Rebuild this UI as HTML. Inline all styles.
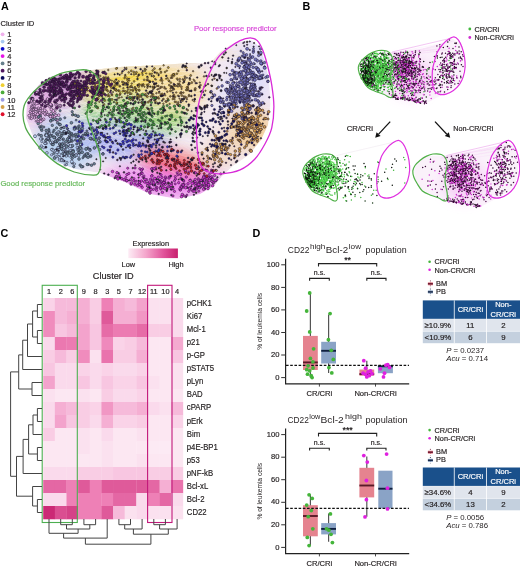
<!DOCTYPE html>
<html><head><meta charset="utf-8"><style>
html,body{margin:0;padding:0;background:#fff;width:520px;height:568px;overflow:hidden}
svg{display:block;filter:blur(0.4px)}
text{font-family:"Liberation Sans",sans-serif}
</style></head><body>
<svg width="520" height="568" viewBox="0 0 520 568">
<text x="0.9" y="9.6" font-size="10.8" text-anchor="start" fill="#000" font-weight="bold" >A</text>
<text x="302.4" y="9.8" font-size="10.8" text-anchor="start" fill="#000" font-weight="bold" >B</text>
<text x="0.5" y="237.3" font-size="10.8" text-anchor="start" fill="#000" font-weight="bold" >C</text>
<text x="252.4" y="237.3" font-size="10.8" text-anchor="start" fill="#000" font-weight="bold" >D</text>
<text x="0.6" y="25.8" font-size="7.6" text-anchor="start" fill="#231f20" stroke="#231f20" stroke-width="0.18" font-weight="normal" >Cluster ID</text>
<circle cx="2.6" cy="34.30" r="1.9" fill="#f0b0ec"/>
<text x="7.2" y="37.0" font-size="7.5" text-anchor="start" fill="#231f20" stroke="#231f20" stroke-width="0.18" font-weight="normal" >1</text>
<circle cx="2.6" cy="41.57" r="1.9" fill="#a8c8f0"/>
<text x="7.2" y="44.3" font-size="7.5" text-anchor="start" fill="#231f20" stroke="#231f20" stroke-width="0.18" font-weight="normal" >2</text>
<circle cx="2.6" cy="48.84" r="1.9" fill="#0a0ac8"/>
<text x="7.2" y="51.6" font-size="7.5" text-anchor="start" fill="#231f20" stroke="#231f20" stroke-width="0.18" font-weight="normal" >3</text>
<circle cx="2.6" cy="56.11" r="1.9" fill="#e614e6"/>
<text x="7.2" y="58.9" font-size="7.5" text-anchor="start" fill="#231f20" stroke="#231f20" stroke-width="0.18" font-weight="normal" >4</text>
<circle cx="2.6" cy="63.38" r="1.9" fill="#66808c"/>
<text x="7.2" y="66.1" font-size="7.5" text-anchor="start" fill="#231f20" stroke="#231f20" stroke-width="0.18" font-weight="normal" >5</text>
<circle cx="2.6" cy="70.65" r="1.9" fill="#501860"/>
<text x="7.2" y="73.4" font-size="7.5" text-anchor="start" fill="#231f20" stroke="#231f20" stroke-width="0.18" font-weight="normal" >6</text>
<circle cx="2.6" cy="77.92" r="1.9" fill="#0c0c5c"/>
<text x="7.2" y="80.7" font-size="7.5" text-anchor="start" fill="#231f20" stroke="#231f20" stroke-width="0.18" font-weight="normal" >7</text>
<circle cx="2.6" cy="85.19" r="1.9" fill="#f0d030"/>
<text x="7.2" y="87.9" font-size="7.5" text-anchor="start" fill="#231f20" stroke="#231f20" stroke-width="0.18" font-weight="normal" >8</text>
<circle cx="2.6" cy="92.46" r="1.9" fill="#4cac3c"/>
<text x="7.2" y="95.2" font-size="7.5" text-anchor="start" fill="#231f20" stroke="#231f20" stroke-width="0.18" font-weight="normal" >9</text>
<circle cx="2.6" cy="99.73" r="1.9" fill="#9c9ce4"/>
<text x="7.2" y="102.5" font-size="7.5" text-anchor="start" fill="#231f20" stroke="#231f20" stroke-width="0.18" font-weight="normal" >10</text>
<circle cx="2.6" cy="107.00" r="1.9" fill="#d4a24c"/>
<text x="7.2" y="109.7" font-size="7.5" text-anchor="start" fill="#231f20" stroke="#231f20" stroke-width="0.18" font-weight="normal" >11</text>
<circle cx="2.6" cy="114.27" r="1.9" fill="#e0102c"/>
<text x="7.2" y="117.0" font-size="7.5" text-anchor="start" fill="#231f20" stroke="#231f20" stroke-width="0.18" font-weight="normal" >12</text>
<rect x="43.20" y="298.00" width="11.94" height="13.30" fill="#fad3e8"/>
<rect x="54.84" y="298.00" width="11.94" height="13.30" fill="#f6bada"/>
<rect x="66.48" y="298.00" width="11.94" height="13.30" fill="#f6bada"/>
<rect x="78.12" y="298.00" width="11.94" height="13.30" fill="#f5afd3"/>
<rect x="89.76" y="298.00" width="11.94" height="13.30" fill="#f9cde4"/>
<rect x="101.40" y="298.00" width="11.94" height="13.30" fill="#ee80b6"/>
<rect x="113.04" y="298.00" width="11.94" height="13.30" fill="#f5afd3"/>
<rect x="124.68" y="298.00" width="11.94" height="13.30" fill="#f6bada"/>
<rect x="136.32" y="298.00" width="11.94" height="13.30" fill="#f3a3cc"/>
<rect x="147.96" y="298.00" width="11.94" height="13.30" fill="#fbe1ef"/>
<rect x="159.60" y="298.00" width="11.94" height="13.30" fill="#fbe1ef"/>
<rect x="171.24" y="298.00" width="11.94" height="13.30" fill="#fadaec"/>
<rect x="43.20" y="311.00" width="11.94" height="13.30" fill="#f08cbd"/>
<rect x="54.84" y="311.00" width="11.94" height="13.30" fill="#f6bada"/>
<rect x="66.48" y="311.00" width="11.94" height="13.30" fill="#f5afd3"/>
<rect x="78.12" y="311.00" width="11.94" height="13.30" fill="#f5afd3"/>
<rect x="89.76" y="311.00" width="11.94" height="13.30" fill="#f9cde4"/>
<rect x="101.40" y="311.00" width="11.94" height="13.30" fill="#df5a9a"/>
<rect x="113.04" y="311.00" width="11.94" height="13.30" fill="#f5afd3"/>
<rect x="124.68" y="311.00" width="11.94" height="13.30" fill="#f5afd3"/>
<rect x="136.32" y="311.00" width="11.94" height="13.30" fill="#f197c4"/>
<rect x="147.96" y="311.00" width="11.94" height="13.30" fill="#fbe1ef"/>
<rect x="159.60" y="311.00" width="11.94" height="13.30" fill="#fbe1ef"/>
<rect x="171.24" y="311.00" width="11.94" height="13.30" fill="#fadaec"/>
<rect x="43.20" y="324.00" width="11.94" height="13.30" fill="#f08cbd"/>
<rect x="54.84" y="324.00" width="11.94" height="13.30" fill="#f8c6e1"/>
<rect x="66.48" y="324.00" width="11.94" height="13.30" fill="#f6bada"/>
<rect x="78.12" y="324.00" width="11.94" height="13.30" fill="#f3a3cc"/>
<rect x="89.76" y="324.00" width="11.94" height="13.30" fill="#f8c6e1"/>
<rect x="101.40" y="324.00" width="11.94" height="13.30" fill="#e66ca7"/>
<rect x="113.04" y="324.00" width="11.94" height="13.30" fill="#ec7bb2"/>
<rect x="124.68" y="324.00" width="11.94" height="13.30" fill="#ec7bb2"/>
<rect x="136.32" y="324.00" width="11.94" height="13.30" fill="#e66ca7"/>
<rect x="147.96" y="324.00" width="11.94" height="13.30" fill="#f9cde4"/>
<rect x="159.60" y="324.00" width="11.94" height="13.30" fill="#f9cde4"/>
<rect x="171.24" y="324.00" width="11.94" height="13.30" fill="#fadaec"/>
<rect x="43.20" y="337.00" width="11.94" height="13.30" fill="#fadaec"/>
<rect x="54.84" y="337.00" width="11.94" height="13.30" fill="#eb78b0"/>
<rect x="66.48" y="337.00" width="11.94" height="13.30" fill="#ec7bb2"/>
<rect x="78.12" y="337.00" width="11.94" height="13.30" fill="#f3a3cc"/>
<rect x="89.76" y="337.00" width="11.94" height="13.30" fill="#f8c6e1"/>
<rect x="101.40" y="337.00" width="11.94" height="13.30" fill="#ef89bc"/>
<rect x="113.04" y="337.00" width="11.94" height="13.30" fill="#fad3e8"/>
<rect x="124.68" y="337.00" width="11.94" height="13.30" fill="#f9cde4"/>
<rect x="136.32" y="337.00" width="11.94" height="13.30" fill="#f6bada"/>
<rect x="147.96" y="337.00" width="11.94" height="13.30" fill="#fce7f2"/>
<rect x="159.60" y="337.00" width="11.94" height="13.30" fill="#fce7f2"/>
<rect x="171.24" y="337.00" width="11.94" height="13.30" fill="#f4aad0"/>
<rect x="43.20" y="350.00" width="11.94" height="13.30" fill="#f9cde4"/>
<rect x="54.84" y="350.00" width="11.94" height="13.30" fill="#f6bada"/>
<rect x="66.48" y="350.00" width="11.94" height="13.30" fill="#f9cde4"/>
<rect x="78.12" y="350.00" width="11.94" height="13.30" fill="#f08cbd"/>
<rect x="89.76" y="350.00" width="11.94" height="13.30" fill="#fbe1ef"/>
<rect x="101.40" y="350.00" width="11.94" height="13.30" fill="#e973ad"/>
<rect x="113.04" y="350.00" width="11.94" height="13.30" fill="#f9cde4"/>
<rect x="124.68" y="350.00" width="11.94" height="13.30" fill="#f9cde4"/>
<rect x="136.32" y="350.00" width="11.94" height="13.30" fill="#f5afd3"/>
<rect x="147.96" y="350.00" width="11.94" height="13.30" fill="#fce7f2"/>
<rect x="159.60" y="350.00" width="11.94" height="13.30" fill="#fce7f2"/>
<rect x="171.24" y="350.00" width="11.94" height="13.30" fill="#f8c6e1"/>
<rect x="43.20" y="363.00" width="11.94" height="13.30" fill="#f8c6e1"/>
<rect x="54.84" y="363.00" width="11.94" height="13.30" fill="#fadaec"/>
<rect x="66.48" y="363.00" width="11.94" height="13.30" fill="#fadaec"/>
<rect x="78.12" y="363.00" width="11.94" height="13.30" fill="#fad3e8"/>
<rect x="89.76" y="363.00" width="11.94" height="13.30" fill="#fadaec"/>
<rect x="101.40" y="363.00" width="11.94" height="13.30" fill="#fad3e8"/>
<rect x="113.04" y="363.00" width="11.94" height="13.30" fill="#fadaec"/>
<rect x="124.68" y="363.00" width="11.94" height="13.30" fill="#fadaec"/>
<rect x="136.32" y="363.00" width="11.94" height="13.30" fill="#fad3e8"/>
<rect x="147.96" y="363.00" width="11.94" height="13.30" fill="#fce7f2"/>
<rect x="159.60" y="363.00" width="11.94" height="13.30" fill="#fce7f2"/>
<rect x="171.24" y="363.00" width="11.94" height="13.30" fill="#fbe1ef"/>
<rect x="43.20" y="376.00" width="11.94" height="13.30" fill="#f3a3cc"/>
<rect x="54.84" y="376.00" width="11.94" height="13.30" fill="#fadaec"/>
<rect x="66.48" y="376.00" width="11.94" height="13.30" fill="#fadaec"/>
<rect x="78.12" y="376.00" width="11.94" height="13.30" fill="#f8c6e1"/>
<rect x="89.76" y="376.00" width="11.94" height="13.30" fill="#fadaec"/>
<rect x="101.40" y="376.00" width="11.94" height="13.30" fill="#f8c6e1"/>
<rect x="113.04" y="376.00" width="11.94" height="13.30" fill="#fad3e8"/>
<rect x="124.68" y="376.00" width="11.94" height="13.30" fill="#fad3e8"/>
<rect x="136.32" y="376.00" width="11.94" height="13.30" fill="#f8c6e1"/>
<rect x="147.96" y="376.00" width="11.94" height="13.30" fill="#fbe1ef"/>
<rect x="159.60" y="376.00" width="11.94" height="13.30" fill="#fce7f2"/>
<rect x="171.24" y="376.00" width="11.94" height="13.30" fill="#fbe1ef"/>
<rect x="43.20" y="389.00" width="11.94" height="13.30" fill="#fbe1ef"/>
<rect x="54.84" y="389.00" width="11.94" height="13.30" fill="#fce7f2"/>
<rect x="66.48" y="389.00" width="11.94" height="13.30" fill="#fce7f2"/>
<rect x="78.12" y="389.00" width="11.94" height="13.30" fill="#fbe1ef"/>
<rect x="89.76" y="389.00" width="11.94" height="13.30" fill="#fce7f2"/>
<rect x="101.40" y="389.00" width="11.94" height="13.30" fill="#f9cde4"/>
<rect x="113.04" y="389.00" width="11.94" height="13.30" fill="#fadaec"/>
<rect x="124.68" y="389.00" width="11.94" height="13.30" fill="#fadaec"/>
<rect x="136.32" y="389.00" width="11.94" height="13.30" fill="#fad3e8"/>
<rect x="147.96" y="389.00" width="11.94" height="13.30" fill="#fce7f2"/>
<rect x="159.60" y="389.00" width="11.94" height="13.30" fill="#fce7f2"/>
<rect x="171.24" y="389.00" width="11.94" height="13.30" fill="#fce7f2"/>
<rect x="43.20" y="402.00" width="11.94" height="13.30" fill="#fadaec"/>
<rect x="54.84" y="402.00" width="11.94" height="13.30" fill="#f5afd3"/>
<rect x="66.48" y="402.00" width="11.94" height="13.30" fill="#f6bada"/>
<rect x="78.12" y="402.00" width="11.94" height="13.30" fill="#f9cde4"/>
<rect x="89.76" y="402.00" width="11.94" height="13.30" fill="#fad3e8"/>
<rect x="101.40" y="402.00" width="11.94" height="13.30" fill="#f197c4"/>
<rect x="113.04" y="402.00" width="11.94" height="13.30" fill="#f6bada"/>
<rect x="124.68" y="402.00" width="11.94" height="13.30" fill="#f6bada"/>
<rect x="136.32" y="402.00" width="11.94" height="13.30" fill="#f5afd3"/>
<rect x="147.96" y="402.00" width="11.94" height="13.30" fill="#fadaec"/>
<rect x="159.60" y="402.00" width="11.94" height="13.30" fill="#fbe1ef"/>
<rect x="171.24" y="402.00" width="11.94" height="13.30" fill="#f6bada"/>
<rect x="43.20" y="415.00" width="11.94" height="13.30" fill="#fadaec"/>
<rect x="54.84" y="415.00" width="11.94" height="13.30" fill="#f3a3cc"/>
<rect x="66.48" y="415.00" width="11.94" height="13.30" fill="#f8c6e1"/>
<rect x="78.12" y="415.00" width="11.94" height="13.30" fill="#f9cde4"/>
<rect x="89.76" y="415.00" width="11.94" height="13.30" fill="#fadaec"/>
<rect x="101.40" y="415.00" width="11.94" height="13.30" fill="#f5afd3"/>
<rect x="113.04" y="415.00" width="11.94" height="13.30" fill="#fad3e8"/>
<rect x="124.68" y="415.00" width="11.94" height="13.30" fill="#fad3e8"/>
<rect x="136.32" y="415.00" width="11.94" height="13.30" fill="#f9cde4"/>
<rect x="147.96" y="415.00" width="11.94" height="13.30" fill="#fce7f2"/>
<rect x="159.60" y="415.00" width="11.94" height="13.30" fill="#fce7f2"/>
<rect x="171.24" y="415.00" width="11.94" height="13.30" fill="#fad3e8"/>
<rect x="43.20" y="428.00" width="11.94" height="13.30" fill="#f9cde4"/>
<rect x="54.84" y="428.00" width="11.94" height="13.30" fill="#fce7f2"/>
<rect x="66.48" y="428.00" width="11.94" height="13.30" fill="#fce7f2"/>
<rect x="78.12" y="428.00" width="11.94" height="13.30" fill="#fbe1ef"/>
<rect x="89.76" y="428.00" width="11.94" height="13.30" fill="#fce7f2"/>
<rect x="101.40" y="428.00" width="11.94" height="13.30" fill="#fadaec"/>
<rect x="113.04" y="428.00" width="11.94" height="13.30" fill="#fce7f2"/>
<rect x="124.68" y="428.00" width="11.94" height="13.30" fill="#fce7f2"/>
<rect x="136.32" y="428.00" width="11.94" height="13.30" fill="#fbe1ef"/>
<rect x="147.96" y="428.00" width="11.94" height="13.30" fill="#fce7f2"/>
<rect x="159.60" y="428.00" width="11.94" height="13.30" fill="#fce7f2"/>
<rect x="171.24" y="428.00" width="11.94" height="13.30" fill="#fce7f2"/>
<rect x="43.20" y="441.00" width="11.94" height="13.30" fill="#fce7f2"/>
<rect x="54.84" y="441.00" width="11.94" height="13.30" fill="#fce7f2"/>
<rect x="66.48" y="441.00" width="11.94" height="13.30" fill="#fce7f2"/>
<rect x="78.12" y="441.00" width="11.94" height="13.30" fill="#fbe1ef"/>
<rect x="89.76" y="441.00" width="11.94" height="13.30" fill="#fce7f2"/>
<rect x="101.40" y="441.00" width="11.94" height="13.30" fill="#fbe1ef"/>
<rect x="113.04" y="441.00" width="11.94" height="13.30" fill="#fce7f2"/>
<rect x="124.68" y="441.00" width="11.94" height="13.30" fill="#fce7f2"/>
<rect x="136.32" y="441.00" width="11.94" height="13.30" fill="#fce7f2"/>
<rect x="147.96" y="441.00" width="11.94" height="13.30" fill="#fceaf4"/>
<rect x="159.60" y="441.00" width="11.94" height="13.30" fill="#fceaf4"/>
<rect x="171.24" y="441.00" width="11.94" height="13.30" fill="#fce7f2"/>
<rect x="43.20" y="454.00" width="11.94" height="13.30" fill="#fce7f2"/>
<rect x="54.84" y="454.00" width="11.94" height="13.30" fill="#fce7f2"/>
<rect x="66.48" y="454.00" width="11.94" height="13.30" fill="#fce7f2"/>
<rect x="78.12" y="454.00" width="11.94" height="13.30" fill="#fce7f2"/>
<rect x="89.76" y="454.00" width="11.94" height="13.30" fill="#fce7f2"/>
<rect x="101.40" y="454.00" width="11.94" height="13.30" fill="#fbe1ef"/>
<rect x="113.04" y="454.00" width="11.94" height="13.30" fill="#fce7f2"/>
<rect x="124.68" y="454.00" width="11.94" height="13.30" fill="#fce7f2"/>
<rect x="136.32" y="454.00" width="11.94" height="13.30" fill="#fbe1ef"/>
<rect x="147.96" y="454.00" width="11.94" height="13.30" fill="#fce7f2"/>
<rect x="159.60" y="454.00" width="11.94" height="13.30" fill="#fce7f2"/>
<rect x="171.24" y="454.00" width="11.94" height="13.30" fill="#fce7f2"/>
<rect x="43.20" y="467.00" width="11.94" height="13.30" fill="#fadaec"/>
<rect x="54.84" y="467.00" width="11.94" height="13.30" fill="#fadaec"/>
<rect x="66.48" y="467.00" width="11.94" height="13.30" fill="#fadaec"/>
<rect x="78.12" y="467.00" width="11.94" height="13.30" fill="#f9cde4"/>
<rect x="89.76" y="467.00" width="11.94" height="13.30" fill="#f9cde4"/>
<rect x="101.40" y="467.00" width="11.94" height="13.30" fill="#f9cde4"/>
<rect x="113.04" y="467.00" width="11.94" height="13.30" fill="#f8c6e1"/>
<rect x="124.68" y="467.00" width="11.94" height="13.30" fill="#f8c6e1"/>
<rect x="136.32" y="467.00" width="11.94" height="13.30" fill="#f8c6e1"/>
<rect x="147.96" y="467.00" width="11.94" height="13.30" fill="#f9cde4"/>
<rect x="159.60" y="467.00" width="11.94" height="13.30" fill="#f9cde4"/>
<rect x="171.24" y="467.00" width="11.94" height="13.30" fill="#f9cde4"/>
<rect x="43.20" y="480.00" width="11.94" height="13.30" fill="#e467a4"/>
<rect x="54.84" y="480.00" width="11.94" height="13.30" fill="#e467a4"/>
<rect x="66.48" y="480.00" width="11.94" height="13.30" fill="#ee80b6"/>
<rect x="78.12" y="480.00" width="11.94" height="13.30" fill="#df5a9a"/>
<rect x="89.76" y="480.00" width="11.94" height="13.30" fill="#ee80b6"/>
<rect x="101.40" y="480.00" width="11.94" height="13.30" fill="#df5a9a"/>
<rect x="113.04" y="480.00" width="11.94" height="13.30" fill="#df5a9a"/>
<rect x="124.68" y="480.00" width="11.94" height="13.30" fill="#df5a9a"/>
<rect x="136.32" y="480.00" width="11.94" height="13.30" fill="#df5a9a"/>
<rect x="147.96" y="480.00" width="11.94" height="13.30" fill="#e467a4"/>
<rect x="159.60" y="480.00" width="11.94" height="13.30" fill="#f5afd3"/>
<rect x="171.24" y="480.00" width="11.94" height="13.30" fill="#e973ad"/>
<rect x="43.20" y="493.00" width="11.94" height="13.30" fill="#fadaec"/>
<rect x="54.84" y="493.00" width="11.94" height="13.30" fill="#fadaec"/>
<rect x="66.48" y="493.00" width="11.94" height="13.30" fill="#ee80b6"/>
<rect x="78.12" y="493.00" width="11.94" height="13.30" fill="#ee80b6"/>
<rect x="89.76" y="493.00" width="11.94" height="13.30" fill="#ee80b6"/>
<rect x="101.40" y="493.00" width="11.94" height="13.30" fill="#ee80b6"/>
<rect x="113.04" y="493.00" width="11.94" height="13.30" fill="#e467a4"/>
<rect x="124.68" y="493.00" width="11.94" height="13.30" fill="#e467a4"/>
<rect x="136.32" y="493.00" width="11.94" height="13.30" fill="#fadaec"/>
<rect x="147.96" y="493.00" width="11.94" height="13.30" fill="#ee80b6"/>
<rect x="159.60" y="493.00" width="11.94" height="13.30" fill="#e467a4"/>
<rect x="171.24" y="493.00" width="11.94" height="13.30" fill="#fadaec"/>
<rect x="43.20" y="506.00" width="11.94" height="13.30" fill="#cb2975"/>
<rect x="54.84" y="506.00" width="11.94" height="13.30" fill="#da4e91"/>
<rect x="66.48" y="506.00" width="11.94" height="13.30" fill="#d54288"/>
<rect x="78.12" y="506.00" width="11.94" height="13.30" fill="#ee80b6"/>
<rect x="89.76" y="506.00" width="11.94" height="13.30" fill="#ee80b6"/>
<rect x="101.40" y="506.00" width="11.94" height="13.30" fill="#df5a9a"/>
<rect x="113.04" y="506.00" width="11.94" height="13.30" fill="#f6bada"/>
<rect x="124.68" y="506.00" width="11.94" height="13.30" fill="#fbe1ef"/>
<rect x="136.32" y="506.00" width="11.94" height="13.30" fill="#fadaec"/>
<rect x="147.96" y="506.00" width="11.94" height="13.30" fill="#fbe1ef"/>
<rect x="159.60" y="506.00" width="11.94" height="13.30" fill="#fbe1ef"/>
<rect x="171.24" y="506.00" width="11.94" height="13.30" fill="#fbe1ef"/>
<text x="186.8" y="305.6" font-size="8.6" text-anchor="start" fill="#231f20" stroke="#231f20" stroke-width="0.18" font-weight="normal" textLength="25.0" lengthAdjust="spacingAndGlyphs">pCHK1</text>
<text x="186.8" y="318.7" font-size="8.6" text-anchor="start" fill="#231f20" stroke="#231f20" stroke-width="0.18" font-weight="normal" textLength="15.5" lengthAdjust="spacingAndGlyphs">Ki67</text>
<text x="186.8" y="331.8" font-size="8.6" text-anchor="start" fill="#231f20" stroke="#231f20" stroke-width="0.18" font-weight="normal" textLength="18.9" lengthAdjust="spacingAndGlyphs">Mcl-1</text>
<text x="186.8" y="344.9" font-size="8.6" text-anchor="start" fill="#231f20" stroke="#231f20" stroke-width="0.18" font-weight="normal" textLength="12.9" lengthAdjust="spacingAndGlyphs">p21</text>
<text x="186.8" y="358.0" font-size="8.6" text-anchor="start" fill="#231f20" stroke="#231f20" stroke-width="0.18" font-weight="normal" textLength="18.1" lengthAdjust="spacingAndGlyphs">p-GP</text>
<text x="186.8" y="371.1" font-size="8.6" text-anchor="start" fill="#231f20" stroke="#231f20" stroke-width="0.18" font-weight="normal" textLength="27.3" lengthAdjust="spacingAndGlyphs">pSTAT5</text>
<text x="186.8" y="384.2" font-size="8.6" text-anchor="start" fill="#231f20" stroke="#231f20" stroke-width="0.18" font-weight="normal" textLength="16.5" lengthAdjust="spacingAndGlyphs">pLyn</text>
<text x="186.8" y="397.3" font-size="8.6" text-anchor="start" fill="#231f20" stroke="#231f20" stroke-width="0.18" font-weight="normal" textLength="15.9" lengthAdjust="spacingAndGlyphs">BAD</text>
<text x="186.8" y="410.4" font-size="8.6" text-anchor="start" fill="#231f20" stroke="#231f20" stroke-width="0.18" font-weight="normal" textLength="24.4" lengthAdjust="spacingAndGlyphs">cPARP</text>
<text x="186.8" y="423.5" font-size="8.6" text-anchor="start" fill="#231f20" stroke="#231f20" stroke-width="0.18" font-weight="normal" textLength="15.9" lengthAdjust="spacingAndGlyphs">pErk</text>
<text x="186.8" y="436.6" font-size="8.6" text-anchor="start" fill="#231f20" stroke="#231f20" stroke-width="0.18" font-weight="normal" textLength="13.3" lengthAdjust="spacingAndGlyphs">Bim</text>
<text x="186.8" y="449.7" font-size="8.6" text-anchor="start" fill="#231f20" stroke="#231f20" stroke-width="0.18" font-weight="normal" textLength="31.0" lengthAdjust="spacingAndGlyphs">p4E-BP1</text>
<text x="186.8" y="462.8" font-size="8.6" text-anchor="start" fill="#231f20" stroke="#231f20" stroke-width="0.18" font-weight="normal" textLength="12.9" lengthAdjust="spacingAndGlyphs">p53</text>
<text x="186.8" y="475.9" font-size="8.6" text-anchor="start" fill="#231f20" stroke="#231f20" stroke-width="0.18" font-weight="normal" textLength="26.3" lengthAdjust="spacingAndGlyphs">pNF-kB</text>
<text x="186.8" y="489.0" font-size="8.6" text-anchor="start" fill="#231f20" stroke="#231f20" stroke-width="0.18" font-weight="normal" textLength="21.5" lengthAdjust="spacingAndGlyphs">Bcl-xL</text>
<text x="186.8" y="502.1" font-size="8.6" text-anchor="start" fill="#231f20" stroke="#231f20" stroke-width="0.18" font-weight="normal" textLength="17.7" lengthAdjust="spacingAndGlyphs">Bcl-2</text>
<text x="186.8" y="515.2" font-size="8.6" text-anchor="start" fill="#231f20" stroke="#231f20" stroke-width="0.18" font-weight="normal" textLength="19.8" lengthAdjust="spacingAndGlyphs">CD22</text>
<text x="49.0" y="293.8" font-size="7.4" text-anchor="middle" fill="#231f20" stroke="#231f20" stroke-width="0.18" font-weight="normal" >1</text>
<text x="60.7" y="293.8" font-size="7.4" text-anchor="middle" fill="#231f20" stroke="#231f20" stroke-width="0.18" font-weight="normal" >2</text>
<text x="72.3" y="293.8" font-size="7.4" text-anchor="middle" fill="#231f20" stroke="#231f20" stroke-width="0.18" font-weight="normal" >6</text>
<text x="83.9" y="293.8" font-size="7.4" text-anchor="middle" fill="#231f20" stroke="#231f20" stroke-width="0.18" font-weight="normal" >9</text>
<text x="95.6" y="293.8" font-size="7.4" text-anchor="middle" fill="#231f20" stroke="#231f20" stroke-width="0.18" font-weight="normal" >8</text>
<text x="107.2" y="293.8" font-size="7.4" text-anchor="middle" fill="#231f20" stroke="#231f20" stroke-width="0.18" font-weight="normal" >3</text>
<text x="118.9" y="293.8" font-size="7.4" text-anchor="middle" fill="#231f20" stroke="#231f20" stroke-width="0.18" font-weight="normal" >5</text>
<text x="130.5" y="293.8" font-size="7.4" text-anchor="middle" fill="#231f20" stroke="#231f20" stroke-width="0.18" font-weight="normal" >7</text>
<text x="142.1" y="293.8" font-size="7.4" text-anchor="middle" fill="#231f20" stroke="#231f20" stroke-width="0.18" font-weight="normal" >12</text>
<text x="153.8" y="293.8" font-size="7.4" text-anchor="middle" fill="#231f20" stroke="#231f20" stroke-width="0.18" font-weight="normal" >11</text>
<text x="165.4" y="293.8" font-size="7.4" text-anchor="middle" fill="#231f20" stroke="#231f20" stroke-width="0.18" font-weight="normal" >10</text>
<text x="177.1" y="293.8" font-size="7.4" text-anchor="middle" fill="#231f20" stroke="#231f20" stroke-width="0.18" font-weight="normal" >4</text>
<text x="113.2" y="279.4" font-size="9.2" text-anchor="middle" fill="#231f20" stroke="#231f20" stroke-width="0.18" font-weight="normal" >Cluster ID</text>
<defs><linearGradient id="eg" x1="0" x2="1"><stop offset="0" stop-color="#fdecf5"/><stop offset="0.35" stop-color="#f4a6cc"/><stop offset="0.7" stop-color="#e2559c"/><stop offset="1" stop-color="#c8206e"/></linearGradient></defs>
<rect x="128.3" y="248.5" width="49.6" height="9.6" fill="url(#eg)"/>
<text x="150.8" y="245.5" font-size="7.4" text-anchor="middle" fill="#231f20" stroke="#231f20" stroke-width="0.18" font-weight="normal" >Expression</text>
<text x="121.6" y="267.3" font-size="7.4" text-anchor="start" fill="#231f20" stroke="#231f20" stroke-width="0.18" font-weight="normal" >Low</text>
<text x="183.6" y="267.3" font-size="7.4" text-anchor="end" fill="#231f20" stroke="#231f20" stroke-width="0.18" font-weight="normal" >High</text>
<rect x="42.2" y="285.3" width="35.1" height="237.2" fill="none" stroke="#4caf50" stroke-width="1.1"/>
<rect x="147.6" y="285.3" width="24.4" height="237.2" fill="none" stroke="#c2187a" stroke-width="1.1"/>
<path d="M42.0,304.5L37.4,304.5 M42.0,317.5L37.4,317.5 M37.4,304.5L37.4,317.5 M42.0,330.5L37.4,330.5 M42.0,343.5L37.4,343.5 M37.4,330.5L37.4,343.5 M37.4,311.0L32.6,311.0 M37.4,337.0L32.6,337.0 M32.6,311.0L32.6,337.0 M32.6,324.0L27.5,324.0 M42.0,356.5L27.5,356.5 M27.5,324.0L27.5,356.5 M27.5,340.2L22.7,340.2 M42.0,369.5L22.7,369.5 M22.7,340.2L22.7,369.5 M42.0,382.5L32.0,382.5 M42.0,395.5L32.0,395.5 M32.0,382.5L32.0,395.5 M22.7,354.9L18.7,354.9 M32.0,389.0L18.7,389.0 M18.7,354.9L18.7,389.0 M42.0,408.5L37.4,408.5 M42.0,421.5L37.4,421.5 M37.4,408.5L37.4,421.5 M37.4,415.0L33.0,415.0 M42.0,434.5L33.0,434.5 M33.0,415.0L33.0,434.5 M42.0,447.5L37.4,447.5 M42.0,460.5L37.4,460.5 M37.4,447.5L37.4,460.5 M33.0,424.8L28.6,424.8 M37.4,454.0L28.6,454.0 M28.6,424.8L28.6,454.0 M28.6,439.4L23.1,439.4 M42.0,473.5L23.1,473.5 M23.1,439.4L23.1,473.5 M42.0,499.5L37.4,499.5 M42.0,512.5L37.4,512.5 M37.4,499.5L37.4,512.5 M42.0,486.5L32.6,486.5 M37.4,506.0L32.6,506.0 M32.6,486.5L32.6,506.0 M23.1,456.4L16.5,456.4 M32.6,496.2L16.5,496.2 M16.5,456.4L16.5,496.2 M18.7,371.9L10.6,371.9 M16.5,476.3L10.6,476.3 M10.6,371.9L10.6,476.3 M60.7,519.0L60.7,524.7 M72.3,519.0L72.3,524.7 M60.7,524.7L72.3,524.7 M83.9,519.0L83.9,524.7 M95.6,519.0L95.6,524.7 M83.9,524.7L95.6,524.7 M66.5,524.7L66.5,529.0 M89.8,524.7L89.8,529.0 M66.5,529.0L89.8,529.0 M49.0,519.0L49.0,533.3 M78.1,529.0L78.1,533.3 M49.0,533.3L78.1,533.3 M63.6,533.3L63.6,538.1 M107.2,519.0L107.2,538.1 M63.6,538.1L107.2,538.1 M118.9,519.0L118.9,524.7 M130.5,519.0L130.5,524.7 M118.9,524.7L130.5,524.7 M124.7,524.7L124.7,529.0 M142.1,519.0L142.1,529.0 M124.7,529.0L142.1,529.0 M153.8,519.0L153.8,524.7 M165.4,519.0L165.4,524.7 M153.8,524.7L165.4,524.7 M159.6,524.7L159.6,529.0 M177.1,519.0L177.1,529.0 M159.6,529.0L177.1,529.0 M133.4,529.0L133.4,534.2 M168.3,529.0L168.3,534.2 M133.4,534.2L168.3,534.2 M85.4,538.1L85.4,544.2 M150.9,534.2L150.9,544.2 M85.4,544.2L150.9,544.2" stroke="#444" stroke-width="1" fill="none"/>
<text x="287.8" y="253.4" font-size="9.8" textLength="21.6" lengthAdjust="spacingAndGlyphs" fill="#231f20">CD22</text>
<text x="309.9" y="249.4" font-size="7.2" textLength="15.4" lengthAdjust="spacingAndGlyphs" fill="#231f20">high</text>
<text x="325.8" y="253.4" font-size="9.8" textLength="22.3" lengthAdjust="spacingAndGlyphs" fill="#231f20">Bcl-2</text>
<text x="348.8" y="249.4" font-size="7.2" textLength="12.3" lengthAdjust="spacingAndGlyphs" fill="#231f20">low</text>
<text x="365.6" y="253.4" font-size="9.8" textLength="41" lengthAdjust="spacingAndGlyphs" fill="#231f20">population</text>
<path d="M285.6,258.8V383.8H409.2" stroke="#222" stroke-width="1.2" fill="none"/>
<path d="M281.2,377.6H285.8" stroke="#333" stroke-width="1"/>
<text x="279.4" y="379.7" font-size="7.6" text-anchor="end" fill="#231f20" stroke="#231f20" stroke-width="0.18" font-weight="normal" >0</text>
<path d="M281.2,355.0H285.8" stroke="#333" stroke-width="1"/>
<text x="279.4" y="357.1" font-size="7.6" text-anchor="end" fill="#231f20" stroke="#231f20" stroke-width="0.18" font-weight="normal" >20</text>
<path d="M281.2,332.5H285.8" stroke="#333" stroke-width="1"/>
<text x="279.4" y="334.6" font-size="7.6" text-anchor="end" fill="#231f20" stroke="#231f20" stroke-width="0.18" font-weight="normal" >40</text>
<path d="M281.2,309.9H285.8" stroke="#333" stroke-width="1"/>
<text x="279.4" y="312.0" font-size="7.6" text-anchor="end" fill="#231f20" stroke="#231f20" stroke-width="0.18" font-weight="normal" >60</text>
<path d="M281.2,287.4H285.8" stroke="#333" stroke-width="1"/>
<text x="279.4" y="289.5" font-size="7.6" text-anchor="end" fill="#231f20" stroke="#231f20" stroke-width="0.18" font-weight="normal" >80</text>
<path d="M281.2,264.8H285.8" stroke="#333" stroke-width="1"/>
<text x="279.4" y="266.9" font-size="7.6" text-anchor="end" fill="#231f20" stroke="#231f20" stroke-width="0.18" font-weight="normal" >100</text>
<path d="M319.4,383.6V386.6" stroke="#333" stroke-width="0.9"/>
<path d="M375.5,383.6V386.6" stroke="#333" stroke-width="0.9"/>
<text x="319.4" y="395.9" font-size="7.6" text-anchor="middle" fill="#231f20" stroke="#231f20" stroke-width="0.18" font-weight="normal" >CR/CRi</text>
<text x="375.5" y="395.9" font-size="7.6" text-anchor="middle" fill="#231f20" stroke="#231f20" stroke-width="0.18" font-weight="normal" >Non-CR/CRi</text>
<text x="0" y="0" font-size="7" textLength="56.7" lengthAdjust="spacingAndGlyphs" text-anchor="middle" fill="#231f20" transform="translate(262.4,321.4) rotate(-90)">% of leukemia cells</text>
<path d="M309.6,280.8V278.4H329.3V280.8" stroke="#222" stroke-width="1.1" fill="none"/>
<text x="319.5" y="274.8" font-size="7" text-anchor="middle" fill="#231f20" stroke="#231f20" stroke-width="0.18" font-weight="normal" >n.s.</text>
<path d="M366.8,280.8V278.4H386.0V280.8" stroke="#222" stroke-width="1.1" fill="none"/>
<text x="376.4" y="274.8" font-size="7" text-anchor="middle" fill="#231f20" stroke="#231f20" stroke-width="0.18" font-weight="normal" >n.s.</text>
<path d="M318.5,266.6V263.6H376.7V266.6" stroke="#222" stroke-width="1.1" fill="none"/>
<text x="347.6" y="262.9" font-size="8.8" text-anchor="middle" fill="#231f20" font-weight="bold" >**</text>
<path d="M310.4,293.0V377.6" stroke="#555" stroke-width="1.2"/>
<rect x="303.0" y="335.9" width="14.8" height="34.1" fill="#e5838f"/>
<path d="M303.0,362.4H317.8" stroke="#5a1a28" stroke-width="1.9"/>
<path d="M328.6,314.4V373.1" stroke="#555" stroke-width="1.2"/>
<rect x="321.2" y="341.8" width="14.8" height="21.7" fill="#8aa3c6"/>
<path d="M321.2,350.8H336.0" stroke="#102040" stroke-width="1.9"/>
<path d="M366.8,360.7V377.6" stroke="#555" stroke-width="1.2"/>
<rect x="359.4" y="369.5" width="14.8" height="6.2" fill="#e5838f"/>
<path d="M359.4,374.1H374.2" stroke="#5a1a28" stroke-width="1.9"/>
<rect x="377.9" y="365.8" width="15.0" height="7.4" fill="#8aa3c6"/>
<path d="M377.9,366.3H392.9" stroke="#102040" stroke-width="1.9"/>
<path d="M286,365.3H409" stroke="#111" stroke-width="1.2" stroke-dasharray="2.6 1.6"/>
<circle cx="309.7" cy="293.0" r="1.9" fill="#44b53a"/>
<circle cx="306.7" cy="311.0" r="1.9" fill="#44b53a"/>
<circle cx="309.7" cy="331.9" r="1.9" fill="#44b53a"/>
<circle cx="313.6" cy="348.8" r="1.9" fill="#44b53a"/>
<circle cx="308" cy="365.8" r="1.9" fill="#44b53a"/>
<circle cx="309.7" cy="370.8" r="1.9" fill="#44b53a"/>
<circle cx="311.2" cy="375.7" r="1.9" fill="#44b53a"/>
<circle cx="312.1" cy="377.6" r="1.9" fill="#44b53a"/>
<circle cx="306.7" cy="369.7" r="1.9" fill="#44b53a"/>
<circle cx="312.9" cy="361.8" r="1.9" fill="#44b53a"/>
<circle cx="310.4" cy="358.4" r="1.9" fill="#44b53a"/>
<circle cx="307.5" cy="374.2" r="1.9" fill="#44b53a"/>
<circle cx="313" cy="368.0" r="1.9" fill="#44b53a"/>
<circle cx="330.1" cy="313.6" r="1.9" fill="#44b53a"/>
<circle cx="328.4" cy="339.7" r="1.9" fill="#44b53a"/>
<circle cx="331.3" cy="350.3" r="1.9" fill="#44b53a"/>
<circle cx="333.3" cy="359.4" r="1.9" fill="#44b53a"/>
<circle cx="328.9" cy="367.6" r="1.9" fill="#44b53a"/>
<circle cx="331.8" cy="372.9" r="1.9" fill="#44b53a"/>
<circle cx="363.8" cy="360.7" r="1.9" fill="#e020e0"/>
<circle cx="365.6" cy="368.2" r="1.9" fill="#e020e0"/>
<circle cx="368" cy="372.0" r="1.9" fill="#e020e0"/>
<circle cx="370.5" cy="370.8" r="1.9" fill="#e020e0"/>
<circle cx="363.1" cy="373.2" r="1.9" fill="#e020e0"/>
<circle cx="369.3" cy="375.7" r="1.9" fill="#e020e0"/>
<circle cx="366.8" cy="376.9" r="1.9" fill="#e020e0"/>
<circle cx="365.6" cy="374.4" r="1.9" fill="#e020e0"/>
<circle cx="372" cy="373.7" r="1.9" fill="#e020e0"/>
<circle cx="386" cy="365.2" r="1.9" fill="#e020e0"/>
<circle cx="387.7" cy="364.6" r="1.9" fill="#e020e0"/>
<circle cx="384.5" cy="373.2" r="1.9" fill="#e020e0"/>
<circle cx="383.5" cy="376.9" r="1.9" fill="#e020e0"/>
<circle cx="380.3" cy="368.8" r="1.9" fill="#e020e0"/>
<circle cx="389.5" cy="367.4" r="1.9" fill="#e020e0"/>
<circle cx="429.6" cy="261.7" r="1.3" fill="#44b53a"/>
<text x="434.6" y="264.4" font-size="7.3" text-anchor="start" fill="#231f20" stroke="#231f20" stroke-width="0.18" font-weight="normal" >CR/CRi</text>
<circle cx="429.6" cy="269.8" r="1.3" fill="#e020e0"/>
<text x="434.6" y="272.5" font-size="7.3" text-anchor="start" fill="#231f20" stroke="#231f20" stroke-width="0.18" font-weight="normal" >Non-CR/CRi</text>
<path d="M430.4,280.5V287.1" stroke="#6a1a30" stroke-width="0.9" stroke-dasharray="0.9 1.2"/>
<rect x="427.9" y="282.3" width="5" height="3" fill="#e5838f"/>
<path d="M427.9,283.8H432.9" stroke="#6a1a30" stroke-width="1.5"/>
<text x="436.0" y="285.8" font-size="7.4" text-anchor="start" fill="#231f20" stroke="#231f20" stroke-width="0.18" font-weight="normal" >BM</text>
<path d="M430.4,288.6V295.2" stroke="#1a2a48" stroke-width="0.9" stroke-dasharray="0.9 1.2"/>
<rect x="427.9" y="290.4" width="5" height="3" fill="#8aa3c6"/>
<path d="M427.9,291.9H432.9" stroke="#1a2a48" stroke-width="1.5"/>
<text x="436.0" y="293.9" font-size="7.4" text-anchor="start" fill="#231f20" stroke="#231f20" stroke-width="0.18" font-weight="normal" >PB</text>
<rect x="422.8" y="300.4" width="97.2" height="18.4" fill="#1a508b"/>
<rect x="422.8" y="319.1" width="97.2" height="12.1" fill="#e0e5ed"/>
<rect x="422.8" y="331.4" width="97.2" height="11.8" fill="#c4d0de"/>
<path d="M454.3,300.4V343.2" stroke="#fff" stroke-width="0.8"/>
<path d="M486.5,300.4V343.2" stroke="#fff" stroke-width="0.8"/>
<path d="M422.8,331.3H520" stroke="#fff" stroke-width="0.4"/>
<text x="470.4" y="312.2" font-size="7.5" text-anchor="middle" fill="#fff" stroke="#fff" stroke-width="0.18" font-weight="normal" >CR/CRi</text>
<text x="503.3" y="307.2" font-size="7.5" text-anchor="middle" fill="#fff" stroke="#fff" stroke-width="0.18" font-weight="normal" >Non-</text>
<text x="503.3" y="316.6" font-size="7.5" text-anchor="middle" fill="#fff" stroke="#fff" stroke-width="0.18" font-weight="normal" >CR/CRi</text>
<text x="424.6" y="327.6" font-size="7.8" text-anchor="start" fill="#231f20" stroke="#231f20" stroke-width="0.18" font-weight="normal" >&#8805;10.9%</text>
<text x="424.6" y="339.6" font-size="7.8" text-anchor="start" fill="#231f20" stroke="#231f20" stroke-width="0.18" font-weight="normal" >&lt;10.9%</text>
<text x="470.4" y="327.6" font-size="7.8" text-anchor="middle" fill="#231f20" stroke="#231f20" stroke-width="0.18" font-weight="normal" >11</text>
<text x="503.3" y="327.6" font-size="7.8" text-anchor="middle" fill="#231f20" stroke="#231f20" stroke-width="0.18" font-weight="normal" >2</text>
<text x="470.4" y="339.6" font-size="7.8" text-anchor="middle" fill="#231f20" stroke="#231f20" stroke-width="0.18" font-weight="normal" >6</text>
<text x="503.3" y="339.6" font-size="7.8" text-anchor="middle" fill="#231f20" stroke="#231f20" stroke-width="0.18" font-weight="normal" >9</text>
<text x="446.2" y="352.6" font-size="7.8" fill="#231f20"><tspan font-style="italic">P</tspan> = 0.0237</text>
<text x="446.2" y="361.3" font-size="7.8" fill="#231f20"><tspan font-style="italic">Acu</tspan> = 0.714</text>
<text x="287.5" y="423.2" font-size="9.8" textLength="21.4" lengthAdjust="spacingAndGlyphs" fill="#231f20">CD22</text>
<text x="309.3" y="419.2" font-size="7.2" textLength="11" lengthAdjust="spacingAndGlyphs" fill="#231f20">low</text>
<text x="320.5" y="423.2" font-size="9.8" textLength="23.3" lengthAdjust="spacingAndGlyphs" fill="#231f20">Bcl-2</text>
<text x="345" y="419.2" font-size="7.2" textLength="17" lengthAdjust="spacingAndGlyphs" fill="#231f20">high</text>
<text x="365.5" y="423.2" font-size="9.8" textLength="42" lengthAdjust="spacingAndGlyphs" fill="#231f20">population</text>
<path d="M285.6,428.6V553.6H409.2" stroke="#222" stroke-width="1.2" fill="none"/>
<path d="M281.2,547.4H285.8" stroke="#333" stroke-width="1"/>
<text x="279.4" y="549.5" font-size="7.6" text-anchor="end" fill="#231f20" stroke="#231f20" stroke-width="0.18" font-weight="normal" >0</text>
<path d="M281.2,524.8H285.8" stroke="#333" stroke-width="1"/>
<text x="279.4" y="526.9" font-size="7.6" text-anchor="end" fill="#231f20" stroke="#231f20" stroke-width="0.18" font-weight="normal" >20</text>
<path d="M281.2,502.3H285.8" stroke="#333" stroke-width="1"/>
<text x="279.4" y="504.4" font-size="7.6" text-anchor="end" fill="#231f20" stroke="#231f20" stroke-width="0.18" font-weight="normal" >40</text>
<path d="M281.2,479.7H285.8" stroke="#333" stroke-width="1"/>
<text x="279.4" y="481.8" font-size="7.6" text-anchor="end" fill="#231f20" stroke="#231f20" stroke-width="0.18" font-weight="normal" >60</text>
<path d="M281.2,457.2H285.8" stroke="#333" stroke-width="1"/>
<text x="279.4" y="459.3" font-size="7.6" text-anchor="end" fill="#231f20" stroke="#231f20" stroke-width="0.18" font-weight="normal" >80</text>
<path d="M281.2,434.6H285.8" stroke="#333" stroke-width="1"/>
<text x="279.4" y="436.7" font-size="7.6" text-anchor="end" fill="#231f20" stroke="#231f20" stroke-width="0.18" font-weight="normal" >100</text>
<path d="M319.4,553.4V556.4" stroke="#333" stroke-width="0.9"/>
<path d="M375.5,553.4V556.4" stroke="#333" stroke-width="0.9"/>
<text x="319.4" y="565.7" font-size="7.6" text-anchor="middle" fill="#231f20" stroke="#231f20" stroke-width="0.18" font-weight="normal" >CR/CRi</text>
<text x="375.5" y="565.7" font-size="7.6" text-anchor="middle" fill="#231f20" stroke="#231f20" stroke-width="0.18" font-weight="normal" >Non-CR/CRi</text>
<text x="0" y="0" font-size="7" textLength="56.7" lengthAdjust="spacingAndGlyphs" text-anchor="middle" fill="#231f20" transform="translate(262.4,491.2) rotate(-90)">% of leukemia cells</text>
<path d="M309.6,450.6V448.2H329.3V450.6" stroke="#222" stroke-width="1.1" fill="none"/>
<text x="319.5" y="444.6" font-size="7" text-anchor="middle" fill="#231f20" stroke="#231f20" stroke-width="0.18" font-weight="normal" >n.s.</text>
<path d="M366.8,450.6V448.2H386.0V450.6" stroke="#222" stroke-width="1.1" fill="none"/>
<text x="376.4" y="444.6" font-size="7" text-anchor="middle" fill="#231f20" stroke="#231f20" stroke-width="0.18" font-weight="normal" >n.s.</text>
<path d="M318.5,436.4V433.4H376.7V436.4" stroke="#222" stroke-width="1.1" fill="none"/>
<text x="347.6" y="432.7" font-size="8.8" text-anchor="middle" fill="#231f20" font-weight="bold" >***</text>
<path d="M310.4,494.4V545.6" stroke="#555" stroke-width="1.2"/>
<rect x="303.0" y="505.2" width="14.8" height="31.1" fill="#e5838f"/>
<path d="M303.0,516.0H317.8" stroke="#5a1a28" stroke-width="1.9"/>
<path d="M328.6,513.6V541.8" stroke="#555" stroke-width="1.2"/>
<rect x="321.2" y="523.1" width="14.8" height="11.3" fill="#8aa3c6"/>
<path d="M321.2,528.9H336.0" stroke="#102040" stroke-width="1.9"/>
<path d="M366.8,456.5V516.8" stroke="#555" stroke-width="1.2"/>
<rect x="359.4" y="467.8" width="14.8" height="29.6" fill="#e5838f"/>
<path d="M359.4,485.5H374.2" stroke="#5a1a28" stroke-width="1.9"/>
<rect x="378.3" y="470.7" width="14.2" height="37.7" fill="#8aa3c6"/>
<path d="M378.3,488.7H392.5" stroke="#102040" stroke-width="1.9"/>
<path d="M286,508.4H409" stroke="#111" stroke-width="1.2" stroke-dasharray="2.6 1.6"/>
<circle cx="309.1" cy="494.8" r="1.9" fill="#44b53a"/>
<circle cx="312.2" cy="498.4" r="1.9" fill="#44b53a"/>
<circle cx="306.7" cy="505.1" r="1.9" fill="#44b53a"/>
<circle cx="311.3" cy="510.6" r="1.9" fill="#44b53a"/>
<circle cx="308.2" cy="516.7" r="1.9" fill="#44b53a"/>
<circle cx="312.8" cy="528.8" r="1.9" fill="#44b53a"/>
<circle cx="307.3" cy="537.4" r="1.9" fill="#44b53a"/>
<circle cx="309.1" cy="545.6" r="1.9" fill="#44b53a"/>
<circle cx="330.4" cy="513.9" r="1.9" fill="#44b53a"/>
<circle cx="328.9" cy="530.2" r="1.9" fill="#44b53a"/>
<circle cx="332.4" cy="542.6" r="1.9" fill="#44b53a"/>
<circle cx="326.5" cy="528.8" r="1.9" fill="#44b53a"/>
<circle cx="331" cy="534.3" r="1.9" fill="#44b53a"/>
<circle cx="363.8" cy="455.6" r="1.9" fill="#e020e0"/>
<circle cx="367.3" cy="462.1" r="1.9" fill="#e020e0"/>
<circle cx="366.4" cy="480.5" r="1.9" fill="#e020e0"/>
<circle cx="366.4" cy="499.7" r="1.9" fill="#e020e0"/>
<circle cx="365" cy="516.9" r="1.9" fill="#e020e0"/>
<circle cx="386.6" cy="454.1" r="1.9" fill="#e020e0"/>
<circle cx="387.5" cy="488.2" r="1.9" fill="#e020e0"/>
<circle cx="387.5" cy="508.9" r="1.9" fill="#e020e0"/>
<circle cx="429.6" cy="430.1" r="1.3" fill="#44b53a"/>
<text x="434.6" y="432.8" font-size="7.3" text-anchor="start" fill="#231f20" stroke="#231f20" stroke-width="0.18" font-weight="normal" >CR/CRi</text>
<circle cx="429.6" cy="438.2" r="1.3" fill="#e020e0"/>
<text x="434.6" y="440.9" font-size="7.3" text-anchor="start" fill="#231f20" stroke="#231f20" stroke-width="0.18" font-weight="normal" >Non-CR/CRi</text>
<path d="M430.4,448.9V455.5" stroke="#6a1a30" stroke-width="0.9" stroke-dasharray="0.9 1.2"/>
<rect x="427.9" y="450.7" width="5" height="3" fill="#e5838f"/>
<path d="M427.9,452.2H432.9" stroke="#6a1a30" stroke-width="1.5"/>
<text x="436.0" y="454.2" font-size="7.4" text-anchor="start" fill="#231f20" stroke="#231f20" stroke-width="0.18" font-weight="normal" >BM</text>
<path d="M430.4,457.0V463.6" stroke="#1a2a48" stroke-width="0.9" stroke-dasharray="0.9 1.2"/>
<rect x="427.9" y="458.8" width="5" height="3" fill="#8aa3c6"/>
<path d="M427.9,460.3H432.9" stroke="#1a2a48" stroke-width="1.5"/>
<text x="436.0" y="462.3" font-size="7.4" text-anchor="start" fill="#231f20" stroke="#231f20" stroke-width="0.18" font-weight="normal" >PB</text>
<rect x="422.8" y="467.5" width="97.2" height="18.4" fill="#1a508b"/>
<rect x="422.8" y="486.2" width="97.2" height="12.1" fill="#e0e5ed"/>
<rect x="422.8" y="498.5" width="97.2" height="11.8" fill="#c4d0de"/>
<path d="M454.3,467.5V510.3" stroke="#fff" stroke-width="0.8"/>
<path d="M486.5,467.5V510.3" stroke="#fff" stroke-width="0.8"/>
<path d="M422.8,498.4H520" stroke="#fff" stroke-width="0.4"/>
<text x="470.4" y="479.3" font-size="7.5" text-anchor="middle" fill="#fff" stroke="#fff" stroke-width="0.18" font-weight="normal" >CR/CRi</text>
<text x="503.3" y="474.3" font-size="7.5" text-anchor="middle" fill="#fff" stroke="#fff" stroke-width="0.18" font-weight="normal" >Non-</text>
<text x="503.3" y="483.7" font-size="7.5" text-anchor="middle" fill="#fff" stroke="#fff" stroke-width="0.18" font-weight="normal" >CR/CRi</text>
<text x="424.6" y="494.7" font-size="7.8" text-anchor="start" fill="#231f20" stroke="#231f20" stroke-width="0.18" font-weight="normal" >&#8805;34.6%</text>
<text x="424.6" y="506.7" font-size="7.8" text-anchor="start" fill="#231f20" stroke="#231f20" stroke-width="0.18" font-weight="normal" >&lt;34.6%</text>
<text x="470.4" y="494.7" font-size="7.8" text-anchor="middle" fill="#231f20" stroke="#231f20" stroke-width="0.18" font-weight="normal" >4</text>
<text x="503.3" y="494.7" font-size="7.8" text-anchor="middle" fill="#231f20" stroke="#231f20" stroke-width="0.18" font-weight="normal" >9</text>
<text x="470.4" y="506.7" font-size="7.8" text-anchor="middle" fill="#231f20" stroke="#231f20" stroke-width="0.18" font-weight="normal" >13</text>
<text x="503.3" y="506.7" font-size="7.8" text-anchor="middle" fill="#231f20" stroke="#231f20" stroke-width="0.18" font-weight="normal" >2</text>
<text x="446.2" y="519.7" font-size="7.8" fill="#231f20"><tspan font-style="italic">P</tspan> = 0.0056</text>
<text x="446.2" y="528.4" font-size="7.8" fill="#231f20"><tspan font-style="italic">Acu</tspan> = 0.786</text>
<defs><filter id="bl" x="-50%" y="-50%" width="200%" height="200%"><feGaussianBlur stdDeviation="7"/></filter><clipPath id="cA"><path d="M47.0,79.0 L60.0,74.5 L78.0,72.0 L92.0,70.0 L120.0,67.0 L160.0,65.0 L190.0,63.0 L205.0,63.0 L213.0,60.0 L220.0,52.0 L230.0,45.0 L240.0,41.5 L252.0,40.5 L260.0,47.0 L266.0,65.0 L269.5,85.0 L270.5,105.0 L268.0,125.0 L261.0,140.0 L249.0,155.0 L233.0,166.0 L222.0,176.0 L214.0,186.0 L200.0,194.0 L178.0,199.0 L150.0,194.0 L125.0,182.0 L100.0,173.0 L75.0,169.0 L52.0,160.0 L40.0,148.0 L32.0,134.0 L26.0,118.0 L27.0,104.0 L33.0,92.0 L39.0,85.0Z"/></clipPath></defs>
<g clip-path="url(#cA)">
<path d="M47.0,79.0 L60.0,74.5 L78.0,72.0 L92.0,70.0 L120.0,67.0 L160.0,65.0 L190.0,63.0 L205.0,63.0 L213.0,60.0 L220.0,52.0 L230.0,45.0 L240.0,41.5 L252.0,40.5 L260.0,47.0 L266.0,65.0 L269.5,85.0 L270.5,105.0 L268.0,125.0 L261.0,140.0 L249.0,155.0 L233.0,166.0 L222.0,176.0 L214.0,186.0 L200.0,194.0 L178.0,199.0 L150.0,194.0 L125.0,182.0 L100.0,173.0 L75.0,169.0 L52.0,160.0 L40.0,148.0 L32.0,134.0 L26.0,118.0 L27.0,104.0 L33.0,92.0 L39.0,85.0Z" fill="#f2e8f2"/>
<g filter="url(#bl)">
<ellipse cx="66" cy="87" rx="37.8" ry="19.0" transform="rotate(-8 66 87)" fill="#c080c8" opacity="0.95"/>
<ellipse cx="100" cy="90" rx="14.4" ry="15.2" transform="rotate(0 100 90)" fill="#d8acdc" opacity="0.8"/>
<ellipse cx="40" cy="108" rx="19.8" ry="17.1" transform="rotate(0 40 108)" fill="#eab0ea" opacity="0.9"/>
<ellipse cx="68" cy="140" rx="32.4" ry="24.7" transform="rotate(25 68 140)" fill="#b4ccec" opacity="0.95"/>
<ellipse cx="62" cy="150" rx="27.0" ry="20.9" transform="rotate(20 62 150)" fill="#b8d4f4" opacity="0.7"/>
<ellipse cx="135" cy="86" rx="54.0" ry="20.9" transform="rotate(-5 135 86)" fill="#f2d236" opacity="1.0"/>
<ellipse cx="135" cy="114" rx="54.0" ry="19.0" transform="rotate(5 135 114)" fill="#80cc5c" opacity="1.0"/>
<ellipse cx="122" cy="140" rx="50.4" ry="17.1" transform="rotate(10 122 140)" fill="#a4acf2" opacity="0.9"/>
<ellipse cx="172" cy="162" rx="36.0" ry="11.4" transform="rotate(14 172 162)" fill="#f25454" opacity="0.9"/>
<ellipse cx="160" cy="183" rx="57.6" ry="13.3" transform="rotate(5 160 183)" fill="#ee80ee" opacity="0.95"/>
<ellipse cx="206" cy="183" rx="16.2" ry="11.4" transform="rotate(-30 206 183)" fill="#f090f0" opacity="0.8"/>
<ellipse cx="250" cy="126" rx="19.8" ry="24.7" transform="rotate(-35 250 126)" fill="#f2c884" opacity="0.85"/>
<ellipse cx="222" cy="150" rx="23.4" ry="15.2" transform="rotate(-40 222 150)" fill="#f2cca4" opacity="0.6"/>
<ellipse cx="250" cy="78" rx="18.0" ry="36.1" transform="rotate(12 250 78)" fill="#d8d8fa" opacity="0.9"/>
<ellipse cx="236" cy="96" rx="21.6" ry="17.1" transform="rotate(-10 236 96)" fill="#e0e0fa" opacity="0.8"/>
<ellipse cx="178" cy="90" rx="32.4" ry="22.8" transform="rotate(-10 178 90)" fill="#f6d890" opacity="0.8"/>
</g>
<path d="M33.3,114.4L249.7,86.9" stroke="#fff8f0" stroke-width="0.45" opacity="0.35"/>
<path d="M84.3,132.5L139.2,51.8" stroke="#ffffff" stroke-width="0.45" opacity="0.35"/>
<path d="M54.3,109.6L98.0,87.2" stroke="#ffffff" stroke-width="0.45" opacity="0.35"/>
<path d="M45.1,90.8L121.6,131.5" stroke="#fff8f0" stroke-width="0.45" opacity="0.35"/>
<path d="M29.5,72.0L212.4,114.7" stroke="#fff8f0" stroke-width="0.45" opacity="0.35"/>
<path d="M27.8,79.6L169.2,163.4" stroke="#fff8f0" stroke-width="0.45" opacity="0.35"/>
<path d="M27.4,100.7L126.3,110.1" stroke="#fff4d8" stroke-width="0.45" opacity="0.35"/>
<path d="M52.7,83.9L233.2,127.2" stroke="#fff8f0" stroke-width="0.45" opacity="0.35"/>
<path d="M62.7,104.5L178.0,101.7" stroke="#ffffff" stroke-width="0.45" opacity="0.35"/>
<path d="M86.9,84.7L293.6,87.3" stroke="#ffffff" stroke-width="0.45" opacity="0.35"/>
<path d="M97.6,112.8L186.7,64.6" stroke="#fff8f0" stroke-width="0.45" opacity="0.35"/>
<path d="M74.2,85.5L238.4,131.1" stroke="#fff4d8" stroke-width="0.45" opacity="0.35"/>
<path d="M70.8,92.5L200.5,130.8" stroke="#ffffff" stroke-width="0.45" opacity="0.35"/>
<path d="M36.2,111.3L186.6,83.5" stroke="#fff8f0" stroke-width="0.45" opacity="0.35"/>
<path d="M121.2,101.0L157.0,131.5" stroke="#fff4d8" stroke-width="0.45" opacity="0.35"/>
<path d="M51.8,113.3L214.0,73.8" stroke="#ffffff" stroke-width="0.45" opacity="0.35"/>
<path d="M77.3,129.3L243.7,58.9" stroke="#ffffff" stroke-width="0.45" opacity="0.35"/>
<path d="M86.3,108.7L193.5,112.2" stroke="#f8f0ff" stroke-width="0.45" opacity="0.35"/>
<path d="M84.3,83.4L230.6,123.9" stroke="#fff8f0" stroke-width="0.45" opacity="0.35"/>
<path d="M98.6,107.3L181.2,93.7" stroke="#fff4d8" stroke-width="0.45" opacity="0.35"/>
<path d="M78.0,93.3L147.0,151.5" stroke="#f8f0ff" stroke-width="0.45" opacity="0.35"/>
<path d="M116.4,79.9L200.1,139.2" stroke="#fff8f0" stroke-width="0.45" opacity="0.35"/>
<path d="M58.5,82.1L179.9,112.0" stroke="#ffffff" stroke-width="0.45" opacity="0.35"/>
<path d="M76.7,109.3L235.9,102.3" stroke="#fff4d8" stroke-width="0.45" opacity="0.35"/>
<path d="M67.5,151.5L165.7,88.6" stroke="#fff8f0" stroke-width="0.45" opacity="0.35"/>
<path d="M94.0,125.4L160.6,58.8" stroke="#ffffff" stroke-width="0.45" opacity="0.35"/>
<path d="M71.6,109.4L193.5,158.5" stroke="#ffffff" stroke-width="0.45" opacity="0.35"/>
<path d="M93.4,110.9L222.8,123.4" stroke="#fff4d8" stroke-width="0.45" opacity="0.35"/>
<path d="M113.6,100.5L176.1,54.4" stroke="#fff8f0" stroke-width="0.45" opacity="0.35"/>
<path d="M42.1,108.7L195.1,120.9" stroke="#ffffff" stroke-width="0.45" opacity="0.35"/>
<path d="M21.7,109.5L255.9,135.8" stroke="#ffffff" stroke-width="0.45" opacity="0.35"/>
<path d="M109.7,81.0L174.5,33.5" stroke="#f8f0ff" stroke-width="0.45" opacity="0.35"/>
<path d="M42.8,135.5L282.2,56.8" stroke="#fff4d8" stroke-width="0.45" opacity="0.35"/>
<path d="M77.0,102.9L191.4,110.0" stroke="#fff4d8" stroke-width="0.45" opacity="0.35"/>
<path d="M66.6,107.7L219.6,118.6" stroke="#ffffff" stroke-width="0.45" opacity="0.35"/>
<path d="M131.7,102.8L193.2,65.8" stroke="#fff4d8" stroke-width="0.45" opacity="0.35"/>
<path d="M16.7,122.4L272.0,147.7" stroke="#ffffff" stroke-width="0.45" opacity="0.35"/>
<path d="M65.2,115.0L266.0,161.0" stroke="#fff4d8" stroke-width="0.45" opacity="0.35"/>
<path d="M69.8,108.8L176.3,174.3" stroke="#fff8f0" stroke-width="0.45" opacity="0.35"/>
<path d="M20.1,100.2L162.8,110.4" stroke="#fff4d8" stroke-width="0.45" opacity="0.35"/>
<path d="M59.9,90.6L117.9,144.3" stroke="#fff8f0" stroke-width="0.45" opacity="0.35"/>
<path d="M91.6,88.2L162.2,90.4" stroke="#fff8f0" stroke-width="0.45" opacity="0.35"/>
<path d="M88.5,122.4L211.4,102.1" stroke="#ffffff" stroke-width="0.45" opacity="0.35"/>
<path d="M93.0,98.8L226.6,153.0" stroke="#f8f0ff" stroke-width="0.45" opacity="0.35"/>
<path d="M120.5,83.8L155.2,146.7" stroke="#f8f0ff" stroke-width="0.45" opacity="0.35"/>
<path d="M57.9,58.1L168.9,82.1" stroke="#ffffff" stroke-width="0.45" opacity="0.35"/>
<path d="M62.8,138.7L182.3,77.1" stroke="#f8f0ff" stroke-width="0.45" opacity="0.35"/>
<path d="M50.7,146.3L226.8,112.9" stroke="#fff4d8" stroke-width="0.45" opacity="0.35"/>
<path d="M88.9,144.8L191.1,187.8" stroke="#ffffff" stroke-width="0.45" opacity="0.35"/>
<path d="M84.8,103.8L247.9,145.3" stroke="#f8f0ff" stroke-width="0.45" opacity="0.35"/>
<path d="M114.0,95.2L217.8,158.5" stroke="#fff8f0" stroke-width="0.45" opacity="0.35"/>
<path d="M58.8,64.1L186.8,107.3" stroke="#fff8f0" stroke-width="0.45" opacity="0.35"/>
<path d="M66.1,127.8L180.3,58.4" stroke="#fff8f0" stroke-width="0.45" opacity="0.35"/>
<path d="M28.3,132.5L217.8,99.3" stroke="#fff4d8" stroke-width="0.45" opacity="0.35"/>
<path d="M92.6,125.0L122.7,39.9" stroke="#fff4d8" stroke-width="0.45" opacity="0.35"/>
<path d="M28.5,93.8L107.5,108.6" stroke="#f8f0ff" stroke-width="0.45" opacity="0.35"/>
<path d="M27.6,113.2L222.4,179.1" stroke="#ffffff" stroke-width="0.45" opacity="0.35"/>
<path d="M84.7,157.2L113.9,91.7" stroke="#f8f0ff" stroke-width="0.45" opacity="0.35"/>
<path d="M66.4,144.7L259.0,115.2" stroke="#ffffff" stroke-width="0.45" opacity="0.35"/>
<path d="M34.7,116.5L206.6,58.3" stroke="#ffffff" stroke-width="0.45" opacity="0.35"/>
<path d="M81.9,154.3L187.9,115.2" stroke="#f8f0ff" stroke-width="0.45" opacity="0.35"/>
<path d="M99.4,87.3L176.4,66.4" stroke="#fff4d8" stroke-width="0.45" opacity="0.35"/>
<path d="M29.7,86.8L202.6,61.6" stroke="#f8f0ff" stroke-width="0.45" opacity="0.35"/>
<path d="M88.8,77.0L230.8,156.4" stroke="#f8f0ff" stroke-width="0.45" opacity="0.35"/>
<path d="M58.9,127.7L260.5,30.1" stroke="#fff8f0" stroke-width="0.45" opacity="0.35"/>
<path d="M64.4,118.0L161.6,100.0" stroke="#fff4d8" stroke-width="0.45" opacity="0.35"/>
<path d="M81.3,134.5L131.8,108.8" stroke="#ffffff" stroke-width="0.45" opacity="0.35"/>
<path d="M61.3,103.2L254.4,82.0" stroke="#ffffff" stroke-width="0.45" opacity="0.35"/>
<path d="M24.1,107.2L256.9,132.5" stroke="#fff4d8" stroke-width="0.45" opacity="0.35"/>
<path d="M117.3,83.6L169.0,129.2" stroke="#fff4d8" stroke-width="0.45" opacity="0.35"/>
<path d="M92.3,124.1L243.1,21.4" stroke="#fff4d8" stroke-width="0.45" opacity="0.35"/>
<path d="M55.8,103.1L189.3,115.3" stroke="#f8f0ff" stroke-width="0.45" opacity="0.35"/>
<path d="M105.8,136.6L232.5,114.2" stroke="#fff8f0" stroke-width="0.45" opacity="0.35"/>
<path d="M94.5,106.5L193.8,76.8" stroke="#fff4d8" stroke-width="0.45" opacity="0.35"/>
<path d="M108.4,129.8L242.8,147.5" stroke="#f8f0ff" stroke-width="0.45" opacity="0.35"/>
<path d="M60.6,66.9L207.8,103.3" stroke="#fff4d8" stroke-width="0.45" opacity="0.35"/>
<path d="M88.9,74.2L103.0,88.6" stroke="#fff8f0" stroke-width="0.45" opacity="0.35"/>
<path d="M12.4,96.0L124.7,52.7" stroke="#fff8f0" stroke-width="0.45" opacity="0.35"/>
<path d="M106.3,87.1L181.8,133.3" stroke="#f8f0ff" stroke-width="0.45" opacity="0.35"/>
<path d="M85.3,94.6L205.8,80.9" stroke="#ffffff" stroke-width="0.45" opacity="0.35"/>
<path d="M84.8,118.8L194.3,75.5" stroke="#ffffff" stroke-width="0.45" opacity="0.35"/>
<path d="M24.9,94.5L221.5,170.3" stroke="#ffffff" stroke-width="0.45" opacity="0.35"/>
<path d="M102.1,123.4L142.0,175.1" stroke="#f8f0ff" stroke-width="0.45" opacity="0.35"/>
<path d="M96.7,124.7L203.0,56.9" stroke="#fff8f0" stroke-width="0.45" opacity="0.35"/>
<path d="M81.2,77.9L283.7,121.6" stroke="#fff4d8" stroke-width="0.45" opacity="0.35"/>
<path d="M81.6,117.7L227.3,192.6" stroke="#f8f0ff" stroke-width="0.45" opacity="0.35"/>
<path d="M82.0,100.0L117.3,128.1" stroke="#f8f0ff" stroke-width="0.45" opacity="0.35"/>
<path d="M45.5,121.7L179.0,134.5" stroke="#f8f0ff" stroke-width="0.45" opacity="0.35"/>
<path d="M116.5,108.2L217.7,86.4" stroke="#fff4d8" stroke-width="0.45" opacity="0.35"/>
<path d="M51.7,123.6L260.1,81.1" stroke="#ffffff" stroke-width="0.45" opacity="0.35"/>
<path d="M64.7,104.7L270.4,59.7" stroke="#fff4d8" stroke-width="0.45" opacity="0.35"/>
<path d="M52.3,98.1L160.6,89.2" stroke="#f8f0ff" stroke-width="0.45" opacity="0.35"/>
<path d="M67.2,117.2L198.7,83.4" stroke="#fff4d8" stroke-width="0.45" opacity="0.35"/>
<path d="M88.0,121.6L153.4,99.5" stroke="#fff4d8" stroke-width="0.45" opacity="0.35"/>
<path d="M72.9,79.6L196.7,93.0" stroke="#f8f0ff" stroke-width="0.45" opacity="0.35"/>
<path d="M65.6,115.9L213.1,101.8" stroke="#f8f0ff" stroke-width="0.45" opacity="0.35"/>
<path d="M111.8,92.4L161.5,166.3" stroke="#fff8f0" stroke-width="0.45" opacity="0.35"/>
<path d="M40.8,99.9L271.7,110.0" stroke="#ffffff" stroke-width="0.45" opacity="0.35"/>
<path d="M111.0,109.9L197.3,75.4" stroke="#fff4d8" stroke-width="0.45" opacity="0.35"/>
<path d="M19.2,103.7L195.6,104.7" stroke="#f8f0ff" stroke-width="0.45" opacity="0.35"/>
<path d="M69.6,159.3L143.4,93.4" stroke="#ffffff" stroke-width="0.45" opacity="0.35"/>
<path d="M34.7,70.3L259.9,138.0" stroke="#ffffff" stroke-width="0.45" opacity="0.35"/>
<path d="M93.1,80.4L156.5,82.8" stroke="#fff4d8" stroke-width="0.45" opacity="0.35"/>
<path d="M37.8,119.6L161.0,85.2" stroke="#f8f0ff" stroke-width="0.45" opacity="0.35"/>
<path d="M46.3,107.1L266.7,81.5" stroke="#f8f0ff" stroke-width="0.45" opacity="0.35"/>
<path d="M120.9,112.2L139.2,77.3" stroke="#fff4d8" stroke-width="0.45" opacity="0.35"/>
<path d="M70.9,80.2L266.4,65.1" stroke="#ffffff" stroke-width="0.45" opacity="0.35"/>
<path d="M28.1,85.3L162.3,182.9" stroke="#fff8f0" stroke-width="0.45" opacity="0.35"/>
<path d="M39.1,117.2L236.8,104.4" stroke="#ffffff" stroke-width="0.45" opacity="0.35"/>
<path d="M114.4,89.6L227.7,54.1" stroke="#ffffff" stroke-width="0.45" opacity="0.35"/>
<path d="M99.6,113.1L273.3,170.4" stroke="#f8f0ff" stroke-width="0.45" opacity="0.35"/>
<path d="M54.8,102.7L130.5,133.5" stroke="#fff4d8" stroke-width="0.45" opacity="0.35"/>
<path d="M35.5,83.8L180.3,71.0" stroke="#fff8f0" stroke-width="0.45" opacity="0.35"/>
<path d="M116.7,93.1L201.8,132.1" stroke="#f8f0ff" stroke-width="0.45" opacity="0.35"/>
<path d="M79.0,70.8L174.8,137.7" stroke="#fff8f0" stroke-width="0.45" opacity="0.35"/>
<path d="M36.4,74.0L214.0,141.6" stroke="#fff8f0" stroke-width="0.45" opacity="0.35"/>
<path d="M76.2,100.1L236.9,123.3" stroke="#fff4d8" stroke-width="0.45" opacity="0.35"/>
<path d="M78.2,106.2L206.9,145.8" stroke="#ffffff" stroke-width="0.45" opacity="0.35"/>
<path d="M85.2,97.3L153.5,114.2" stroke="#f8f0ff" stroke-width="0.45" opacity="0.35"/>
<path d="M42.5,139.4L210.4,95.0" stroke="#ffffff" stroke-width="0.45" opacity="0.35"/>
<path d="M17.3,120.1L244.9,44.4" stroke="#fff4d8" stroke-width="0.45" opacity="0.35"/>
<path d="M49.4,113.8L217.6,69.8" stroke="#f8f0ff" stroke-width="0.45" opacity="0.35"/>
<path d="M57.1,145.8L214.7,84.5" stroke="#f8f0ff" stroke-width="0.45" opacity="0.35"/>
<path d="M40.8,91.5L171.9,160.4" stroke="#fff4d8" stroke-width="0.45" opacity="0.35"/>
<path d="M38.2,93.7L183.3,75.2" stroke="#ffffff" stroke-width="0.45" opacity="0.35"/>
<path d="M88.4,113.0L189.2,94.2" stroke="#f8f0ff" stroke-width="0.45" opacity="0.35"/>
<path d="M19.0,106.4L151.4,192.0" stroke="#fff8f0" stroke-width="0.45" opacity="0.35"/>
<path d="M39.7,136.3L183.3,126.7" stroke="#fff4d8" stroke-width="0.45" opacity="0.35"/>
<path d="M20.0,122.1L185.3,147.0" stroke="#fff4d8" stroke-width="0.45" opacity="0.35"/>
<path d="M117.5,96.9L179.1,108.1" stroke="#f8f0ff" stroke-width="0.45" opacity="0.35"/>
<path d="M114.6,110.7L123.2,69.2" stroke="#f8f0ff" stroke-width="0.45" opacity="0.35"/>
<path d="M80.9,75.2L233.2,60.4" stroke="#fff8f0" stroke-width="0.45" opacity="0.35"/>
<path d="M97.9,119.7L255.9,44.9" stroke="#fff8f0" stroke-width="0.45" opacity="0.35"/>
<path d="M32.6,101.9L147.5,43.9" stroke="#ffffff" stroke-width="0.45" opacity="0.35"/>
<path d="M47.7,94.5L156.7,98.6" stroke="#f8f0ff" stroke-width="0.45" opacity="0.35"/>
<path d="M64.8,51.6L261.1,142.4" stroke="#fff8f0" stroke-width="0.45" opacity="0.35"/>
<path d="M115.2,131.4L130.4,143.4" stroke="#fff4d8" stroke-width="0.45" opacity="0.35"/>
<path d="M73.5,74.8L204.6,65.1" stroke="#f8f0ff" stroke-width="0.45" opacity="0.35"/>
<path d="M79.5,83.9L237.8,149.4" stroke="#ffffff" stroke-width="0.45" opacity="0.35"/>
<path d="M22.5,129.9L151.0,33.6" stroke="#fff4d8" stroke-width="0.45" opacity="0.35"/>
<path d="M101.6,59.7L269.0,93.1" stroke="#f8f0ff" stroke-width="0.45" opacity="0.35"/>
<path d="M56.6,61.4L154.0,132.2" stroke="#fff8f0" stroke-width="0.45" opacity="0.35"/>
<path d="M70.5,119.9L149.9,58.7" stroke="#f8f0ff" stroke-width="0.45" opacity="0.35"/>
<path d="M78.9,130.2L240.0,124.0" stroke="#ffffff" stroke-width="0.45" opacity="0.35"/>
<path d="M64.2,118.7L200.2,101.6" stroke="#fff4d8" stroke-width="0.45" opacity="0.35"/>
<path d="M76.9,101.3L224.8,128.1" stroke="#fff8f0" stroke-width="0.45" opacity="0.35"/>
<path d="M35.5,87.2L141.3,119.4" stroke="#fff4d8" stroke-width="0.45" opacity="0.35"/>
<path d="M79.7,123.6L239.4,176.9" stroke="#f8f0ff" stroke-width="0.45" opacity="0.35"/>
<path d="M14.1,89.7L149.5,114.4" stroke="#f8f0ff" stroke-width="0.45" opacity="0.35"/>
<path d="M42.4,68.7L283.3,159.2" stroke="#fff4d8" stroke-width="0.45" opacity="0.35"/>
<path d="M79.4,81.6L140.7,100.7" stroke="#f8f0ff" stroke-width="0.45" opacity="0.35"/>
<path d="M72.4,96.6L293.8,66.5" stroke="#fff4d8" stroke-width="0.45" opacity="0.35"/>
<path d="M97.2,89.7L201.1,157.1" stroke="#fff8f0" stroke-width="0.45" opacity="0.35"/>
<path d="M25.5,126.7L267.1,187.6" stroke="#fff8f0" stroke-width="0.45" opacity="0.35"/>
<path d="M66.2,135.8L250.1,172.6" stroke="#ffffff" stroke-width="0.45" opacity="0.35"/>
<path d="M79.3,115.6L158.8,159.9" stroke="#ffffff" stroke-width="0.45" opacity="0.35"/>
<path d="M105.5,80.4L272.1,147.2" stroke="#f8f0ff" stroke-width="0.45" opacity="0.35"/>
<path d="M89.2,106.9L226.5,173.8" stroke="#fff4d8" stroke-width="0.45" opacity="0.35"/>
<path d="M79.7,135.2L171.1,105.8" stroke="#f8f0ff" stroke-width="0.45" opacity="0.35"/>
<path d="M57.7,128.3L190.7,95.5" stroke="#ffffff" stroke-width="0.45" opacity="0.35"/>
<path d="M64.5,94.1L156.2,140.9" stroke="#ffffff" stroke-width="0.45" opacity="0.35"/>
<path d="M67.3,101.8L143.6,159.4" stroke="#fff8f0" stroke-width="0.45" opacity="0.35"/>
<path d="M66.0,116.8L213.5,22.2" stroke="#fff8f0" stroke-width="0.45" opacity="0.35"/>
<path d="M84.0,96.7L202.0,52.7" stroke="#ffffff" stroke-width="0.45" opacity="0.35"/>
<path d="M69.2,121.7L194.8,70.0" stroke="#f8f0ff" stroke-width="0.45" opacity="0.35"/>
<path d="M25.6,89.6L154.0,183.4" stroke="#ffffff" stroke-width="0.45" opacity="0.35"/>
<path d="M103.6,125.8L247.8,156.7" stroke="#fff8f0" stroke-width="0.45" opacity="0.35"/>
<path d="M83.0,127.9L234.8,58.5" stroke="#ffffff" stroke-width="0.45" opacity="0.35"/>
<path d="M76.2,108.8L253.2,106.2" stroke="#ffffff" stroke-width="0.45" opacity="0.35"/>
<path d="M39.6,144.0L224.5,99.1" stroke="#fff8f0" stroke-width="0.45" opacity="0.35"/>
<path d="M75.9,58.9L166.2,136.5" stroke="#fff4d8" stroke-width="0.45" opacity="0.35"/>
<path d="M35.4,76.9L166.9,84.3" stroke="#fff8f0" stroke-width="0.45" opacity="0.35"/>
<path d="M48.0,76.1L244.5,114.7" stroke="#f8f0ff" stroke-width="0.45" opacity="0.35"/>
<path d="M58.7,130.3L168.3,99.3" stroke="#f8f0ff" stroke-width="0.45" opacity="0.35"/>
<path d="M83.4,59.7L177.5,93.0" stroke="#f8f0ff" stroke-width="0.45" opacity="0.35"/>
<path d="M43.3,98.0L172.4,109.9" stroke="#fff8f0" stroke-width="0.45" opacity="0.35"/>
<path d="M106.0,102.5L179.5,26.5" stroke="#fff8f0" stroke-width="0.45" opacity="0.35"/>
<path d="M63.6,102.6L153.4,44.4" stroke="#fff8f0" stroke-width="0.45" opacity="0.35"/>
<path d="M71.3,137.8L185.4,72.0" stroke="#f8f0ff" stroke-width="0.45" opacity="0.35"/>
<path d="M63.7,156.5L122.7,131.5" stroke="#fff8f0" stroke-width="0.45" opacity="0.35"/>
<path d="M100.9,87.3L140.5,88.5" stroke="#f8f0ff" stroke-width="0.45" opacity="0.35"/>
<path d="M94.3,141.1L236.0,85.5" stroke="#fff8f0" stroke-width="0.45" opacity="0.35"/>
<path d="M110.2,137.5L174.4,203.1" stroke="#fff8f0" stroke-width="0.45" opacity="0.35"/>
<path d="M71.5,81.3L234.0,162.4" stroke="#ffffff" stroke-width="0.45" opacity="0.35"/>
<path d="M40.8,112.2L227.3,109.8" stroke="#fff4d8" stroke-width="0.45" opacity="0.35"/>
<path d="M37.9,81.3L202.5,83.7" stroke="#fff4d8" stroke-width="0.45" opacity="0.35"/>
<path d="M53.7,107.8L150.9,148.3" stroke="#fff8f0" stroke-width="0.45" opacity="0.35"/>
<path d="M61.8,116.4L282.6,136.0" stroke="#fff8f0" stroke-width="0.45" opacity="0.35"/>
<path d="M41.1,121.8L236.8,134.9" stroke="#fff4d8" stroke-width="0.45" opacity="0.35"/>
<path d="M70.4,76.2L295.4,107.1" stroke="#fff4d8" stroke-width="0.45" opacity="0.35"/>
<path d="M76.8,93.9L170.7,157.8" stroke="#fff4d8" stroke-width="0.45" opacity="0.35"/>
<path d="M91.8,92.6L275.7,134.4" stroke="#fff4d8" stroke-width="0.45" opacity="0.35"/>
<path d="M65.4,71.5L200.5,71.6" stroke="#ffffff" stroke-width="0.45" opacity="0.35"/>
<path d="M72.1,153.2L204.9,201.3" stroke="#ffffff" stroke-width="0.45" opacity="0.35"/>
<path d="M56.0,106.8L253.0,79.7" stroke="#fff4d8" stroke-width="0.45" opacity="0.35"/>
<path d="M127.4,86.1L281.0,109.7" stroke="#f8f0ff" stroke-width="0.45" opacity="0.35"/>
<path d="M91.0,85.5L212.0,80.0" stroke="#fff4d8" stroke-width="0.45" opacity="0.35"/>
<path d="M10.8,83.0L272.2,156.3" stroke="#ffffff" stroke-width="0.45" opacity="0.35"/>
<path d="M99.0,82.9L159.9,120.9" stroke="#f8f0ff" stroke-width="0.45" opacity="0.35"/>
<path d="M88.2,107.3L149.1,127.9" stroke="#fff4d8" stroke-width="0.45" opacity="0.35"/>
<path d="M99.1,134.8L205.1,148.2" stroke="#fff4d8" stroke-width="0.45" opacity="0.35"/>
<path d="M90.7,92.2L256.0,102.8" stroke="#fff8f0" stroke-width="0.45" opacity="0.35"/>
<path d="M87.4,152.3L193.8,95.3" stroke="#f8f0ff" stroke-width="0.45" opacity="0.35"/>
<path d="M84.7,85.1L169.7,114.8" stroke="#fff8f0" stroke-width="0.45" opacity="0.35"/>
<path d="M48.5,101.2L174.9,78.9" stroke="#f8f0ff" stroke-width="0.45" opacity="0.35"/>
<path d="M93.3,100.2L109.8,154.4" stroke="#f8f0ff" stroke-width="0.45" opacity="0.35"/>
<path d="M58.5,108.4L207.2,148.0" stroke="#fff8f0" stroke-width="0.45" opacity="0.35"/>
<path d="M64.3,144.6L158.2,109.7" stroke="#f8f0ff" stroke-width="0.45" opacity="0.35"/>
<path d="M39.2,131.4L249.9,70.1" stroke="#fff8f0" stroke-width="0.45" opacity="0.35"/>
<path d="M133.1,97.4L215.1,139.2" stroke="#fff8f0" stroke-width="0.45" opacity="0.35"/>
<path d="M61.7,96.6L253.6,104.8" stroke="#ffffff" stroke-width="0.45" opacity="0.35"/>
<path d="M61.0,103.5L166.9,88.4" stroke="#f8f0ff" stroke-width="0.45" opacity="0.35"/>
<path d="M35.5,120.0L211.7,136.3" stroke="#ffffff" stroke-width="0.45" opacity="0.35"/>
<path d="M94.9,154.1L213.0,109.1" stroke="#fff4d8" stroke-width="0.45" opacity="0.35"/>
<path d="M104.4,88.4L305.4,111.6" stroke="#ffffff" stroke-width="0.45" opacity="0.35"/>
<path d="M86.3,133.8L171.1,76.4" stroke="#fff4d8" stroke-width="0.45" opacity="0.35"/>
<path d="M77.4,75.5L103.4,106.9" stroke="#fff8f0" stroke-width="0.45" opacity="0.35"/>
<path d="M27.2,81.1L240.7,141.2" stroke="#fff4d8" stroke-width="0.45" opacity="0.35"/>
<path d="M48.0,99.3L183.1,39.7" stroke="#f8f0ff" stroke-width="0.45" opacity="0.35"/>
<path d="M48.8,106.2L148.5,84.5" stroke="#ffffff" stroke-width="0.45" opacity="0.35"/>
<path d="M101.0,113.8L232.4,82.8" stroke="#ffffff" stroke-width="0.45" opacity="0.35"/>
<path d="M27.8,76.5L119.9,108.3" stroke="#ffffff" stroke-width="0.45" opacity="0.35"/>
<path d="M128.8,129.0L143.2,86.4" stroke="#fff8f0" stroke-width="0.45" opacity="0.35"/>
<path d="M62.9,99.2L131.2,141.4" stroke="#f8f0ff" stroke-width="0.45" opacity="0.35"/>
<path d="M73.4,75.8L164.9,66.5" stroke="#fff4d8" stroke-width="0.45" opacity="0.35"/>
<path d="M69.5,119.7L165.7,31.0" stroke="#fff4d8" stroke-width="0.45" opacity="0.35"/>
<path d="M98.6,114.6L177.0,133.6" stroke="#ffffff" stroke-width="0.45" opacity="0.35"/>
<path d="M104.8,135.3L178.3,95.7" stroke="#fff4d8" stroke-width="0.45" opacity="0.35"/>
<path d="M100.8,105.5L178.4,106.8" stroke="#f8f0ff" stroke-width="0.45" opacity="0.35"/>
<path d="M114.6,98.3L168.2,85.5" stroke="#ffffff" stroke-width="0.45" opacity="0.35"/>
<path d="M48.9,99.0L170.2,140.8" stroke="#fff8f0" stroke-width="0.45" opacity="0.35"/>
<path d="M99.5,111.3L189.8,97.4" stroke="#f8f0ff" stroke-width="0.45" opacity="0.35"/>
<path d="M96.2,149.5L231.8,97.7" stroke="#fff4d8" stroke-width="0.45" opacity="0.35"/>
<path d="M74.1,87.9L181.7,133.5" stroke="#fff8f0" stroke-width="0.45" opacity="0.35"/>
<path d="M39.9,108.1L129.8,67.7" stroke="#fff4d8" stroke-width="0.45" opacity="0.35"/>
<path d="M44.3,60.0L213.8,152.4" stroke="#ffffff" stroke-width="0.45" opacity="0.35"/>
<path d="M93.1,110.9L266.1,90.2" stroke="#fff8f0" stroke-width="0.45" opacity="0.35"/>
<path d="M68.1,75.1L134.0,83.2" stroke="#fff8f0" stroke-width="0.45" opacity="0.35"/>
<path d="M66.7,128.5L145.8,169.1" stroke="#ffffff" stroke-width="0.45" opacity="0.35"/>
<path d="M96.2,107.8L184.4,122.5" stroke="#fff4d8" stroke-width="0.45" opacity="0.35"/>
<path d="M46.6,143.2L183.3,108.2" stroke="#fff4d8" stroke-width="0.45" opacity="0.35"/>
<path d="M42.9,86.8L222.9,160.0" stroke="#fff8f0" stroke-width="0.45" opacity="0.35"/>
<path d="M95.4,109.3L144.3,135.9" stroke="#fff8f0" stroke-width="0.45" opacity="0.35"/>
<path d="M32.4,101.6L178.6,155.4" stroke="#fff4d8" stroke-width="0.45" opacity="0.35"/>
<path d="M82.2,118.5L185.0,179.8" stroke="#fff4d8" stroke-width="0.45" opacity="0.35"/>
<path d="M93.6,127.8L185.7,126.5" stroke="#f8f0ff" stroke-width="0.45" opacity="0.35"/>
<path d="M58.2,119.4L210.8,112.5" stroke="#fff4d8" stroke-width="0.45" opacity="0.35"/>
<path d="M20.0,86.7L241.6,104.2" stroke="#ffffff" stroke-width="0.45" opacity="0.35"/>
<path d="M88.3,96.5L172.4,48.1" stroke="#f8f0ff" stroke-width="0.45" opacity="0.35"/>
<path d="M74.1,140.2L244.6,135.4" stroke="#fff4d8" stroke-width="0.45" opacity="0.35"/>
<path d="M35.2,106.3L237.1,94.5" stroke="#f8f0ff" stroke-width="0.45" opacity="0.35"/>
<path d="M85.3,145.8L153.3,167.3" stroke="#ffffff" stroke-width="0.45" opacity="0.35"/>
<path d="M67.0,50.5L219.0,61.6" stroke="#f8f0ff" stroke-width="0.45" opacity="0.35"/>
<path d="M58.5,74.7L196.7,100.8" stroke="#fff4d8" stroke-width="0.45" opacity="0.35"/>
<path d="M117.9,142.6L234.0,91.2" stroke="#fff4d8" stroke-width="0.45" opacity="0.35"/>
<path d="M30.2,105.9L156.5,117.7" stroke="#f8f0ff" stroke-width="0.45" opacity="0.35"/>
<path d="M77.2,107.9L178.5,148.9" stroke="#f8f0ff" stroke-width="0.45" opacity="0.35"/>
<path d="M66.7,142.0L222.0,156.6" stroke="#f8f0ff" stroke-width="0.45" opacity="0.35"/>
<path d="M97.3,98.3L209.4,47.3" stroke="#fff4d8" stroke-width="0.45" opacity="0.35"/>
<path d="M61.7,99.1L250.8,130.9" stroke="#fff4d8" stroke-width="0.45" opacity="0.35"/>
<path d="M21.5,142.0L226.2,115.8" stroke="#f8f0ff" stroke-width="0.45" opacity="0.35"/>
<path d="M59.8,127.1L228.2,106.3" stroke="#fff8f0" stroke-width="0.45" opacity="0.35"/>
<path d="M67.1,124.2L211.3,163.6" stroke="#fff4d8" stroke-width="0.45" opacity="0.35"/>
<path d="M107.7,105.7L249.6,47.7" stroke="#ffffff" stroke-width="0.45" opacity="0.35"/>
<path d="M42.7,82.4L176.9,145.9" stroke="#ffffff" stroke-width="0.45" opacity="0.35"/>
<path d="M51.5,141.6L174.4,45.5" stroke="#fff8f0" stroke-width="0.45" opacity="0.35"/>
<path d="M78.0,91.8L158.1,73.8" stroke="#f8f0ff" stroke-width="0.45" opacity="0.35"/>
<path d="M53.2,120.0L199.6,54.4" stroke="#fff8f0" stroke-width="0.45" opacity="0.35"/>
<path d="M52.7,86.2L192.0,18.1" stroke="#ffffff" stroke-width="0.45" opacity="0.35"/>
<path d="M95.8,57.6L164.1,191.3" stroke="#fff4d8" stroke-width="0.45" opacity="0.35"/>
<path d="M110.5,113.7L151.1,136.9" stroke="#f8f0ff" stroke-width="0.45" opacity="0.35"/>
<path d="M69.1,134.7L214.4,67.0" stroke="#f8f0ff" stroke-width="0.45" opacity="0.35"/>
<path d="M39.4,133.0L239.9,191.0" stroke="#fff8f0" stroke-width="0.45" opacity="0.35"/>
<path d="M101.0,65.8L152.4,90.7" stroke="#fff8f0" stroke-width="0.45" opacity="0.35"/>
<path d="M29.5,72.1L208.2,87.9" stroke="#fff4d8" stroke-width="0.45" opacity="0.35"/>
<path d="M52.0,90.7L124.3,122.2" stroke="#fff8f0" stroke-width="0.45" opacity="0.35"/>
<path d="M67.3,124.8L199.1,176.6" stroke="#fff4d8" stroke-width="0.45" opacity="0.35"/>
<path d="M115.2,116.9L210.8,119.0" stroke="#f8f0ff" stroke-width="0.45" opacity="0.35"/>
<path d="M46.9,129.4L216.2,66.6" stroke="#ffffff" stroke-width="0.45" opacity="0.35"/>
<path d="M99.3,62.3L208.9,124.8" stroke="#fff4d8" stroke-width="0.45" opacity="0.35"/>
<path d="M87.9,59.6L189.5,153.9" stroke="#fff4d8" stroke-width="0.45" opacity="0.35"/>
<path d="M34.5,129.6L114.0,87.0" stroke="#fff8f0" stroke-width="0.45" opacity="0.35"/>
<path d="M16.9,121.8L100.0,76.9" stroke="#fff4d8" stroke-width="0.45" opacity="0.35"/>
<path d="M54.3,110.9L229.7,86.3" stroke="#fff8f0" stroke-width="0.45" opacity="0.35"/>
<path d="M65.5,130.0L191.0,126.6" stroke="#fff8f0" stroke-width="0.45" opacity="0.35"/>
<path d="M54.5,119.5L217.3,115.2" stroke="#f8f0ff" stroke-width="0.45" opacity="0.35"/>
<path d="M68.7,103.0L185.8,131.1" stroke="#fff8f0" stroke-width="0.45" opacity="0.35"/>
<path d="M100.7,103.7L245.6,118.4" stroke="#fff4d8" stroke-width="0.45" opacity="0.35"/>
<path d="M50.5,98.9L130.4,53.6" stroke="#f8f0ff" stroke-width="0.45" opacity="0.35"/>
<path d="M16.8,121.5L195.1,82.4" stroke="#ffffff" stroke-width="0.45" opacity="0.35"/>
<path d="M105.1,94.4L181.9,78.1" stroke="#ffffff" stroke-width="0.45" opacity="0.35"/>
<path d="M70.6,83.5L192.8,109.4" stroke="#fff8f0" stroke-width="0.45" opacity="0.35"/>
<path d="M96.3,114.3L204.1,74.9" stroke="#fff8f0" stroke-width="0.45" opacity="0.35"/>
<path d="M82.8,65.7L127.3,158.0" stroke="#ffffff" stroke-width="0.45" opacity="0.35"/>
<path d="M101.7,93.8L227.4,71.0" stroke="#ffffff" stroke-width="0.45" opacity="0.35"/>
<path d="M86.5,105.8L164.2,174.6" stroke="#f8f0ff" stroke-width="0.45" opacity="0.35"/>
<path d="M80.6,82.9L169.8,77.9" stroke="#f8f0ff" stroke-width="0.45" opacity="0.35"/>
<path d="M109.9,119.8L167.5,90.3" stroke="#fff8f0" stroke-width="0.45" opacity="0.35"/>
<path d="M68.9,87.8L197.3,53.5" stroke="#fff8f0" stroke-width="0.45" opacity="0.35"/>
<path d="M76.3,115.6L228.9,142.7" stroke="#fff4d8" stroke-width="0.45" opacity="0.35"/>
<path d="M80.7,74.0L202.6,41.9" stroke="#f0e4d0" stroke-width="0.5" opacity="0.6"/>
<path d="M108.5,78.4L238.1,40.4" stroke="#f0e4d0" stroke-width="0.5" opacity="0.6"/>
<path d="M85.2,70.7L229.5,51.6" stroke="#f0e4d0" stroke-width="0.5" opacity="0.6"/>
<path d="M89.6,74.7L246.9,50.0" stroke="#f0e4d0" stroke-width="0.5" opacity="0.6"/>
<path d="M103.4,78.9L240.6,41.4" stroke="#f0e4d0" stroke-width="0.5" opacity="0.6"/>
<path d="M91.7,79.2L244.1,55.6" stroke="#f0e4d0" stroke-width="0.5" opacity="0.6"/>
<path d="M95.8,70.1L236.5,53.2" stroke="#f0e4d0" stroke-width="0.5" opacity="0.6"/>
<path d="M107.3,70.6L230.8,46.9" stroke="#f0e4d0" stroke-width="0.5" opacity="0.6"/>
<path d="M93.2,77.1L221.2,59.4" stroke="#f0e4d0" stroke-width="0.5" opacity="0.6"/>
<path d="M107.7,71.2L236.9,54.9" stroke="#f0e4d0" stroke-width="0.5" opacity="0.6"/>
<path d="M93.1,74.7L241.8,50.0" stroke="#f0e4d0" stroke-width="0.5" opacity="0.6"/>
<path d="M91.3,75.4L202.1,58.4" stroke="#f0e4d0" stroke-width="0.5" opacity="0.6"/>
<path d="M95.8,74.5L214.2,40.9" stroke="#f0e4d0" stroke-width="0.5" opacity="0.6"/>
<path d="M81.6,73.2L226.8,46.6" stroke="#f0e4d0" stroke-width="0.5" opacity="0.6"/>
<path d="M87.7,76.2L209.4,49.4" stroke="#f0e4d0" stroke-width="0.5" opacity="0.6"/>
<path d="M96.6,70.5L248.4,55.1" stroke="#f0e4d0" stroke-width="0.5" opacity="0.6"/>
<path d="M106.9,71.1L209.3,58.5" stroke="#f0e4d0" stroke-width="0.5" opacity="0.6"/>
<path d="M103.7,71.4L205.7,42.1" stroke="#f0e4d0" stroke-width="0.5" opacity="0.6"/>
<path d="M87.6,72.6L209.2,40.8" stroke="#f0e4d0" stroke-width="0.5" opacity="0.6"/>
<path d="M90.3,75.2L217.4,44.1" stroke="#f0e4d0" stroke-width="0.5" opacity="0.6"/>
<path d="M80.4,74.3L224.5,59.2" stroke="#f0e4d0" stroke-width="0.5" opacity="0.6"/>
<path d="M87.2,71.1L222.0,55.1" stroke="#f0e4d0" stroke-width="0.5" opacity="0.6"/>
<path d="M106.3,70.7L224.8,41.1" stroke="#f0e4d0" stroke-width="0.5" opacity="0.6"/>
<path d="M106.1,79.7L203.3,58.8" stroke="#f0e4d0" stroke-width="0.5" opacity="0.6"/>
<path d="M104.3,71.8L216.7,58.6" stroke="#f0e4d0" stroke-width="0.5" opacity="0.6"/>
<path d="M108.7,72.2L214.4,48.3" stroke="#f0e4d0" stroke-width="0.5" opacity="0.6"/>
<path d="M98.4,70.3L234.1,49.3" stroke="#f0e4d0" stroke-width="0.5" opacity="0.6"/>
<path d="M94.7,70.9L232.4,50.6" stroke="#f0e4d0" stroke-width="0.5" opacity="0.6"/>
<path d="M89.5,79.6L248.5,51.2" stroke="#f0e4d0" stroke-width="0.5" opacity="0.6"/>
<path d="M109.8,73.8L240.8,54.0" stroke="#f0e4d0" stroke-width="0.5" opacity="0.6"/>
<path d="M105.3,79.5L232.9,44.2" stroke="#f0e4d0" stroke-width="0.5" opacity="0.6"/>
<path d="M86.3,77.7L208.6,51.6" stroke="#f0e4d0" stroke-width="0.5" opacity="0.6"/>
<path d="M81.2,72.8L212.9,46.9" stroke="#f0e4d0" stroke-width="0.5" opacity="0.6"/>
<path d="M98.7,73.1L200.4,41.4" stroke="#f0e4d0" stroke-width="0.5" opacity="0.6"/>
<path d="M86.2,77.2L243.5,55.4" stroke="#f0e4d0" stroke-width="0.5" opacity="0.6"/>
<path d="M86.0,70.7L213.3,47.5" stroke="#f0e4d0" stroke-width="0.5" opacity="0.6"/>
<path d="M98.4,72.8L206.7,42.5" stroke="#f0e4d0" stroke-width="0.5" opacity="0.6"/>
<path d="M82.9,75.1L220.9,49.9" stroke="#f0e4d0" stroke-width="0.5" opacity="0.6"/>
<path d="M83.5,71.2L243.8,59.0" stroke="#f0e4d0" stroke-width="0.5" opacity="0.6"/>
<path d="M82.3,76.5L211.3,49.5" stroke="#f0e4d0" stroke-width="0.5" opacity="0.6"/>
</g>
<g stroke="#1c1428" stroke-width=".5">
<circle cx="89.5" cy="80.0" r="1.4" fill="#521a5c"/>
<circle cx="236.3" cy="78.6" r="1.4" fill="#7474c0"/>
<circle cx="164.7" cy="182.6" r="1.2" fill="#d838d8"/>
<circle cx="105.8" cy="73.8" r="1.2" fill="#6a2a70"/>
<circle cx="242.8" cy="77.9" r="1.4" fill="#7474c0"/>
<circle cx="109.1" cy="112.6" r="0.9" fill="#402840"/>
<circle cx="135.7" cy="89.2" r="0.9" fill="#b89a28"/>
<circle cx="30.7" cy="98.3" r="1.1" fill="#eab0ea"/>
<circle cx="258.9" cy="124.9" r="1.4" fill="#d09848"/>
<circle cx="82.2" cy="152.3" r="1.4" fill="#6c8898"/>
<circle cx="142.7" cy="71.0" r="0.8" fill="#402840"/>
<circle cx="109.0" cy="125.2" r="1.2" fill="#44a83c"/>
<circle cx="129.0" cy="115.5" r="1.1" fill="#44a83c"/>
<circle cx="248.3" cy="73.4" r="1.5" fill="#7474c0"/>
<circle cx="152.0" cy="159.5" r="1.1" fill="#d02424"/>
<circle cx="174.7" cy="164.3" r="1.2" fill="#d02424"/>
<circle cx="134.9" cy="87.6" r="1.0" fill="#b89a28"/>
<circle cx="170.8" cy="86.1" r="0.9" fill="#a88838"/>
<circle cx="213.0" cy="131.9" r="1.1" fill="#141460"/>
<circle cx="155.8" cy="134.8" r="1.1" fill="#3434cc"/>
<circle cx="196.1" cy="168.4" r="0.9" fill="#402840"/>
<circle cx="160.3" cy="180.4" r="1.0" fill="#d838d8"/>
<circle cx="250.5" cy="70.8" r="1.2" fill="#7474c0"/>
<circle cx="105.7" cy="158.0" r="0.7" fill="#3a3a20"/>
<circle cx="142.8" cy="143.6" r="0.9" fill="#3a3a20"/>
<circle cx="242.2" cy="84.7" r="1.0" fill="#7474c0"/>
<circle cx="72.0" cy="105.7" r="1.5" fill="#521a5c"/>
<circle cx="226.6" cy="147.7" r="1.3" fill="#d09848"/>
<circle cx="207.6" cy="126.5" r="1.0" fill="#141460"/>
<circle cx="52.0" cy="82.0" r="1.3" fill="#521a5c"/>
<circle cx="205.0" cy="72.3" r="0.7" fill="#402840"/>
<circle cx="79.5" cy="129.0" r="1.5" fill="#6c8898"/>
<circle cx="53.7" cy="78.0" r="1.5" fill="#521a5c"/>
<circle cx="78.8" cy="83.2" r="1.2" fill="#521a5c"/>
<circle cx="126.7" cy="120.9" r="1.1" fill="#44a83c"/>
<circle cx="244.8" cy="63.3" r="0.7" fill="#2a2030"/>
<circle cx="176.9" cy="73.7" r="0.9" fill="#b89a28"/>
<circle cx="247.8" cy="81.7" r="0.8" fill="#3a3a20"/>
<circle cx="67.9" cy="151.9" r="1.2" fill="#6c8898"/>
<circle cx="241.4" cy="132.7" r="1.4" fill="#d09848"/>
<circle cx="55.3" cy="90.9" r="1.3" fill="#521a5c"/>
<circle cx="80.2" cy="165.1" r="1.3" fill="#6c8898"/>
<circle cx="253.9" cy="77.4" r="1.5" fill="#7474c0"/>
<circle cx="75.8" cy="74.2" r="1.2" fill="#521a5c"/>
<circle cx="110.4" cy="92.3" r="1.0" fill="#6a2a70"/>
<circle cx="186.6" cy="109.1" r="0.7" fill="#202030"/>
<circle cx="260.1" cy="88.0" r="1.2" fill="#7474c0"/>
<circle cx="239.6" cy="66.2" r="1.2" fill="#7474c0"/>
<circle cx="200.2" cy="162.3" r="1.1" fill="#d02424"/>
<circle cx="262.7" cy="102.9" r="1.5" fill="#7474c0"/>
<circle cx="267.5" cy="76.6" r="1.5" fill="#7474c0"/>
<circle cx="202.2" cy="143.7" r="0.9" fill="#202030"/>
<circle cx="194.5" cy="172.8" r="1.2" fill="#202030"/>
<circle cx="198.1" cy="187.2" r="1.3" fill="#d838d8"/>
<circle cx="264.5" cy="126.9" r="1.4" fill="#d09848"/>
<circle cx="259.0" cy="71.3" r="1.5" fill="#7474c0"/>
<circle cx="135.6" cy="67.7" r="0.9" fill="#402840"/>
<circle cx="142.5" cy="169.0" r="1.2" fill="#d838d8"/>
<circle cx="109.8" cy="150.5" r="0.8" fill="#202030"/>
<circle cx="204.0" cy="76.4" r="0.8" fill="#a88838"/>
<circle cx="71.0" cy="74.9" r="1.3" fill="#521a5c"/>
<circle cx="216.2" cy="140.3" r="0.9" fill="#d09848"/>
<circle cx="242.2" cy="56.0" r="1.1" fill="#7474c0"/>
<circle cx="33.4" cy="105.1" r="1.5" fill="#eab0ea"/>
<circle cx="186.4" cy="122.7" r="1.0" fill="#141460"/>
<circle cx="238.5" cy="134.6" r="0.6" fill="#402840"/>
<circle cx="200.3" cy="108.1" r="1.0" fill="#a88838"/>
<circle cx="51.8" cy="115.1" r="1.4" fill="#eab0ea"/>
<circle cx="133.6" cy="110.4" r="1.2" fill="#44a83c"/>
<circle cx="171.6" cy="115.2" r="1.1" fill="#44a83c"/>
<circle cx="189.5" cy="83.6" r="1.0" fill="#b89a28"/>
<circle cx="235.3" cy="151.1" r="1.3" fill="#d09848"/>
<circle cx="123.5" cy="105.8" r="0.8" fill="#b89a28"/>
<circle cx="38.3" cy="108.0" r="1.2" fill="#eab0ea"/>
<circle cx="81.5" cy="149.0" r="1.5" fill="#b8d4f4"/>
<circle cx="36.0" cy="116.8" r="1.4" fill="#eab0ea"/>
<circle cx="117.0" cy="121.2" r="1.2" fill="#44a83c"/>
<circle cx="256.6" cy="109.7" r="1.4" fill="#d09848"/>
<circle cx="64.3" cy="152.8" r="1.3" fill="#b8d4f4"/>
<circle cx="196.4" cy="116.4" r="0.7" fill="#3a3a20"/>
<circle cx="215.9" cy="170.5" r="0.8" fill="#402840"/>
<circle cx="239.6" cy="148.8" r="1.4" fill="#d09848"/>
<circle cx="218.0" cy="138.2" r="0.9" fill="#3a3a20"/>
<circle cx="185.6" cy="171.0" r="1.3" fill="#d838d8"/>
<circle cx="252.8" cy="73.3" r="1.4" fill="#7474c0"/>
<circle cx="235.0" cy="106.3" r="1.3" fill="#d09848"/>
<circle cx="209.3" cy="174.4" r="1.0" fill="#d838d8"/>
<circle cx="194.4" cy="189.2" r="1.3" fill="#d838d8"/>
<circle cx="240.4" cy="93.0" r="1.2" fill="#7474c0"/>
<circle cx="148.1" cy="102.2" r="0.9" fill="#b89a28"/>
<circle cx="87.3" cy="83.2" r="1.2" fill="#521a5c"/>
<circle cx="107.6" cy="107.2" r="0.9" fill="#44a83c"/>
<circle cx="111.6" cy="84.1" r="1.4" fill="#521a5c"/>
<circle cx="165.0" cy="122.2" r="0.8" fill="#202030"/>
<circle cx="221.7" cy="150.5" r="1.2" fill="#d09848"/>
<circle cx="238.6" cy="115.3" r="1.1" fill="#7474c0"/>
<circle cx="136.0" cy="74.0" r="0.6" fill="#3a3a20"/>
<circle cx="260.8" cy="61.1" r="1.4" fill="#7474c0"/>
<circle cx="163.5" cy="106.4" r="1.1" fill="#44a83c"/>
<circle cx="41.2" cy="135.7" r="1.4" fill="#6c8898"/>
<circle cx="158.5" cy="140.3" r="0.7" fill="#402840"/>
<circle cx="234.9" cy="155.0" r="1.3" fill="#d09848"/>
<circle cx="245.2" cy="70.9" r="1.3" fill="#7474c0"/>
<circle cx="153.6" cy="76.1" r="0.9" fill="#b89a28"/>
<circle cx="91.6" cy="86.9" r="1.0" fill="#6a2a70"/>
<circle cx="98.4" cy="90.5" r="0.9" fill="#b89a28"/>
<circle cx="31.8" cy="98.3" r="1.2" fill="#521a5c"/>
<circle cx="131.6" cy="141.1" r="1.3" fill="#3434cc"/>
<circle cx="143.5" cy="120.7" r="0.9" fill="#402840"/>
<circle cx="58.8" cy="150.8" r="0.8" fill="#202030"/>
<circle cx="237.0" cy="124.7" r="1.0" fill="#d09848"/>
<circle cx="59.7" cy="147.6" r="1.0" fill="#6c8898"/>
<circle cx="149.0" cy="125.4" r="1.3" fill="#44a83c"/>
<circle cx="163.1" cy="109.4" r="1.0" fill="#a88838"/>
<circle cx="259.2" cy="123.4" r="1.4" fill="#d09848"/>
<circle cx="249.8" cy="73.2" r="1.5" fill="#7474c0"/>
<circle cx="249.0" cy="93.0" r="1.2" fill="#7c7cc4"/>
<circle cx="131.0" cy="184.3" r="1.1" fill="#d838d8"/>
<circle cx="62.4" cy="96.2" r="1.4" fill="#521a5c"/>
<circle cx="60.2" cy="144.2" r="1.2" fill="#6c8898"/>
<circle cx="152.9" cy="81.7" r="0.8" fill="#30284a"/>
<circle cx="171.4" cy="195.1" r="0.9" fill="#30284a"/>
<circle cx="256.0" cy="95.4" r="1.4" fill="#7474c0"/>
<circle cx="205.0" cy="63.2" r="0.9" fill="#402840"/>
<circle cx="220.4" cy="119.2" r="0.9" fill="#402840"/>
<circle cx="52.1" cy="149.2" r="1.1" fill="#b8d4f4"/>
<circle cx="141.4" cy="121.3" r="0.9" fill="#2a2030"/>
<circle cx="66.0" cy="133.6" r="1.1" fill="#6c8898"/>
<circle cx="106.4" cy="87.2" r="0.9" fill="#b89a28"/>
<circle cx="90.3" cy="71.8" r="1.2" fill="#521a5c"/>
<circle cx="151.9" cy="170.0" r="0.9" fill="#202030"/>
<circle cx="249.3" cy="109.0" r="1.3" fill="#7474c0"/>
<circle cx="224.8" cy="135.4" r="1.1" fill="#141460"/>
<circle cx="70.4" cy="85.8" r="1.3" fill="#521a5c"/>
<circle cx="256.6" cy="95.1" r="1.3" fill="#7c7cc4"/>
<circle cx="157.4" cy="89.5" r="0.7" fill="#a88838"/>
<circle cx="232.6" cy="86.4" r="1.2" fill="#7c7cc4"/>
<circle cx="51.9" cy="135.6" r="1.3" fill="#6c8898"/>
<circle cx="180.9" cy="178.2" r="1.1" fill="#d838d8"/>
<circle cx="71.0" cy="150.3" r="1.3" fill="#b8d4f4"/>
<circle cx="135.2" cy="101.5" r="0.9" fill="#b89a28"/>
<circle cx="249.7" cy="69.7" r="0.6" fill="#3a3a20"/>
<circle cx="137.7" cy="185.3" r="1.3" fill="#d838d8"/>
<circle cx="268.2" cy="80.6" r="0.7" fill="#402840"/>
<circle cx="161.8" cy="182.1" r="1.2" fill="#d838d8"/>
<circle cx="176.4" cy="145.2" r="0.7" fill="#3a3a20"/>
<circle cx="217.4" cy="177.3" r="0.8" fill="#2a2030"/>
<circle cx="251.0" cy="133.2" r="1.4" fill="#d09848"/>
<circle cx="246.3" cy="75.6" r="0.7" fill="#402840"/>
<circle cx="171.6" cy="188.9" r="1.4" fill="#d838d8"/>
<circle cx="243.7" cy="101.6" r="1.5" fill="#7c7cc4"/>
<circle cx="130.7" cy="86.7" r="0.8" fill="#b89a28"/>
<circle cx="153.1" cy="162.3" r="1.0" fill="#d02424"/>
<circle cx="131.4" cy="98.3" r="1.1" fill="#44a83c"/>
<circle cx="259.5" cy="103.1" r="1.5" fill="#7474c0"/>
<circle cx="79.3" cy="121.7" r="1.0" fill="#3434cc"/>
<circle cx="149.7" cy="82.0" r="0.7" fill="#b89a28"/>
<circle cx="162.5" cy="135.4" r="1.2" fill="#3434cc"/>
<circle cx="145.1" cy="95.1" r="1.1" fill="#44a83c"/>
<circle cx="226.7" cy="88.5" r="0.7" fill="#2a2030"/>
<circle cx="65.3" cy="98.0" r="1.4" fill="#521a5c"/>
<circle cx="205.8" cy="177.8" r="1.1" fill="#d838d8"/>
<circle cx="236.0" cy="103.4" r="1.5" fill="#7c7cc4"/>
<circle cx="98.3" cy="93.6" r="0.9" fill="#6a2a70"/>
<circle cx="104.7" cy="125.5" r="1.2" fill="#44a83c"/>
<circle cx="69.4" cy="137.4" r="1.1" fill="#b8d4f4"/>
<circle cx="156.6" cy="97.7" r="0.9" fill="#b89a28"/>
<circle cx="177.3" cy="163.6" r="1.0" fill="#d02424"/>
<circle cx="253.1" cy="67.3" r="1.3" fill="#7474c0"/>
<circle cx="256.8" cy="132.0" r="0.9" fill="#30284a"/>
<circle cx="145.5" cy="114.0" r="1.1" fill="#44a83c"/>
<circle cx="73.6" cy="155.1" r="1.4" fill="#6c8898"/>
<circle cx="130.7" cy="103.3" r="1.0" fill="#202030"/>
<circle cx="244.6" cy="91.6" r="1.0" fill="#7474c0"/>
<circle cx="238.8" cy="100.7" r="1.1" fill="#7474c0"/>
<circle cx="56.5" cy="142.1" r="1.2" fill="#6c8898"/>
<circle cx="113.3" cy="114.6" r="1.2" fill="#44a83c"/>
<circle cx="140.2" cy="158.4" r="0.9" fill="#d02424"/>
<circle cx="64.6" cy="102.0" r="1.1" fill="#521a5c"/>
<circle cx="211.9" cy="97.6" r="1.4" fill="#7c7cc4"/>
<circle cx="151.0" cy="137.1" r="1.1" fill="#3434cc"/>
<circle cx="155.6" cy="151.2" r="1.0" fill="#3434cc"/>
<circle cx="150.2" cy="86.6" r="0.8" fill="#3a3a20"/>
<circle cx="171.0" cy="77.9" r="0.9" fill="#a88838"/>
<circle cx="257.4" cy="60.8" r="1.4" fill="#7474c0"/>
<circle cx="54.4" cy="93.6" r="1.4" fill="#521a5c"/>
<circle cx="95.5" cy="106.1" r="1.2" fill="#44a83c"/>
<circle cx="230.7" cy="126.4" r="0.9" fill="#30284a"/>
<circle cx="137.6" cy="127.8" r="0.8" fill="#202030"/>
<circle cx="57.0" cy="140.8" r="1.5" fill="#6c8898"/>
<circle cx="39.7" cy="114.9" r="1.2" fill="#eab0ea"/>
<circle cx="140.6" cy="69.2" r="0.9" fill="#202030"/>
<circle cx="122.2" cy="81.8" r="0.9" fill="#b89a28"/>
<circle cx="219.0" cy="75.1" r="0.9" fill="#2a2030"/>
<circle cx="41.8" cy="130.3" r="1.3" fill="#6c8898"/>
<circle cx="211.4" cy="146.4" r="0.9" fill="#141460"/>
<circle cx="242.1" cy="98.0" r="1.3" fill="#7474c0"/>
<circle cx="251.0" cy="122.5" r="0.9" fill="#3a3a20"/>
<circle cx="119.7" cy="144.2" r="1.1" fill="#3434cc"/>
<circle cx="69.0" cy="145.8" r="1.3" fill="#6c8898"/>
<circle cx="202.1" cy="123.8" r="1.2" fill="#141460"/>
<circle cx="198.9" cy="182.1" r="1.2" fill="#d838d8"/>
<circle cx="73.3" cy="101.7" r="1.1" fill="#521a5c"/>
<circle cx="82.9" cy="166.7" r="1.1" fill="#6c8898"/>
<circle cx="120.8" cy="160.0" r="0.6" fill="#30284a"/>
<circle cx="70.6" cy="87.5" r="1.5" fill="#521a5c"/>
<circle cx="54.1" cy="130.2" r="1.2" fill="#6c8898"/>
<circle cx="41.7" cy="97.6" r="1.5" fill="#521a5c"/>
<circle cx="192.6" cy="158.2" r="1.3" fill="#d02424"/>
<circle cx="209.5" cy="177.7" r="1.3" fill="#d838d8"/>
<circle cx="186.1" cy="164.4" r="1.1" fill="#d02424"/>
<circle cx="234.3" cy="103.3" r="0.9" fill="#30284a"/>
<circle cx="38.2" cy="123.5" r="1.4" fill="#6c8898"/>
<circle cx="186.8" cy="187.0" r="1.2" fill="#d838d8"/>
<circle cx="126.5" cy="83.3" r="0.7" fill="#402840"/>
<circle cx="124.2" cy="69.9" r="0.7" fill="#402840"/>
<circle cx="83.1" cy="76.7" r="1.6" fill="#521a5c"/>
<circle cx="238.6" cy="95.3" r="1.2" fill="#141460"/>
<circle cx="96.9" cy="127.2" r="0.8" fill="#2a2030"/>
<circle cx="141.0" cy="95.8" r="0.8" fill="#b89a28"/>
<circle cx="150.6" cy="183.6" r="1.2" fill="#d838d8"/>
<circle cx="152.2" cy="168.5" r="1.1" fill="#d838d8"/>
<circle cx="141.7" cy="107.0" r="1.3" fill="#44a83c"/>
<circle cx="76.0" cy="83.0" r="1.5" fill="#521a5c"/>
<circle cx="97.8" cy="146.5" r="1.4" fill="#6c8898"/>
<circle cx="205.6" cy="169.6" r="0.8" fill="#30284a"/>
<circle cx="111.5" cy="87.7" r="1.0" fill="#b89a28"/>
<circle cx="229.4" cy="90.8" r="1.4" fill="#7c7cc4"/>
<circle cx="243.9" cy="99.8" r="1.2" fill="#7474c0"/>
<circle cx="212.7" cy="131.0" r="0.8" fill="#3a3a20"/>
<circle cx="99.2" cy="119.5" r="1.3" fill="#44a83c"/>
<circle cx="91.3" cy="138.9" r="1.4" fill="#6c8898"/>
<circle cx="37.6" cy="110.7" r="1.1" fill="#eab0ea"/>
<circle cx="250.2" cy="118.0" r="0.8" fill="#202030"/>
<circle cx="231.7" cy="126.9" r="1.5" fill="#d09848"/>
<circle cx="157.2" cy="180.7" r="1.3" fill="#d838d8"/>
<circle cx="29.3" cy="115.7" r="1.5" fill="#eab0ea"/>
<circle cx="77.1" cy="87.3" r="0.8" fill="#b89a28"/>
<circle cx="212.2" cy="61.3" r="0.6" fill="#30284a"/>
<circle cx="81.0" cy="97.3" r="1.6" fill="#521a5c"/>
<circle cx="224.2" cy="72.8" r="0.7" fill="#3a3a20"/>
<circle cx="103.1" cy="105.6" r="0.9" fill="#402840"/>
<circle cx="198.5" cy="125.2" r="1.1" fill="#141460"/>
<circle cx="249.3" cy="130.0" r="0.7" fill="#3a3a20"/>
<circle cx="99.3" cy="138.3" r="1.1" fill="#3434cc"/>
<circle cx="201.7" cy="112.8" r="0.8" fill="#30284a"/>
<circle cx="149.6" cy="82.0" r="0.8" fill="#402840"/>
<circle cx="34.5" cy="116.6" r="1.1" fill="#eab0ea"/>
<circle cx="124.6" cy="67.8" r="0.6" fill="#402840"/>
<circle cx="76.9" cy="83.4" r="1.3" fill="#521a5c"/>
<circle cx="170.5" cy="88.3" r="0.7" fill="#a88838"/>
<circle cx="52.2" cy="144.0" r="1.5" fill="#6c8898"/>
<circle cx="163.0" cy="112.8" r="0.7" fill="#202030"/>
<circle cx="219.1" cy="167.3" r="0.6" fill="#402840"/>
<circle cx="57.6" cy="122.7" r="1.3" fill="#6c8898"/>
<circle cx="104.2" cy="173.5" r="0.8" fill="#2a2030"/>
<circle cx="154.4" cy="68.6" r="1.0" fill="#b89a28"/>
<circle cx="105.3" cy="140.5" r="1.1" fill="#202030"/>
<circle cx="211.9" cy="178.2" r="1.0" fill="#d838d8"/>
<circle cx="64.5" cy="148.1" r="1.1" fill="#b8d4f4"/>
<circle cx="91.2" cy="104.5" r="1.2" fill="#44a83c"/>
<circle cx="78.9" cy="77.4" r="1.1" fill="#521a5c"/>
<circle cx="145.5" cy="158.8" r="0.9" fill="#d02424"/>
<circle cx="71.2" cy="134.5" r="1.3" fill="#6c8898"/>
<circle cx="243.8" cy="85.5" r="1.2" fill="#7c7cc4"/>
<circle cx="224.2" cy="105.9" r="1.0" fill="#141460"/>
<circle cx="241.5" cy="74.0" r="1.5" fill="#7474c0"/>
<circle cx="264.5" cy="103.7" r="0.7" fill="#402840"/>
<circle cx="201.0" cy="107.5" r="0.7" fill="#3a3a20"/>
<circle cx="93.5" cy="75.3" r="1.0" fill="#6a2a70"/>
<circle cx="149.2" cy="154.7" r="1.0" fill="#d02424"/>
<circle cx="154.5" cy="84.4" r="0.9" fill="#b89a28"/>
<circle cx="69.9" cy="141.2" r="1.3" fill="#6c8898"/>
<circle cx="199.1" cy="167.6" r="0.8" fill="#202030"/>
<circle cx="235.6" cy="93.1" r="1.2" fill="#7c7cc4"/>
<circle cx="41.2" cy="146.0" r="1.3" fill="#b8d4f4"/>
<circle cx="214.7" cy="75.6" r="0.9" fill="#2a2030"/>
<circle cx="124.8" cy="83.0" r="0.8" fill="#202030"/>
<circle cx="213.3" cy="166.8" r="0.8" fill="#402840"/>
<circle cx="202.0" cy="154.4" r="1.0" fill="#202030"/>
<circle cx="79.9" cy="143.1" r="1.3" fill="#6c8898"/>
<circle cx="252.9" cy="95.1" r="1.3" fill="#7c7cc4"/>
<circle cx="193.4" cy="119.0" r="1.1" fill="#141460"/>
<circle cx="162.2" cy="95.4" r="1.2" fill="#202030"/>
<circle cx="109.3" cy="96.3" r="0.9" fill="#b89a28"/>
<circle cx="127.0" cy="108.5" r="0.6" fill="#402840"/>
<circle cx="196.4" cy="188.9" r="1.3" fill="#d838d8"/>
<circle cx="255.8" cy="136.7" r="1.3" fill="#d09848"/>
<circle cx="242.6" cy="76.8" r="1.4" fill="#7474c0"/>
<circle cx="169.9" cy="107.8" r="1.3" fill="#44a83c"/>
<circle cx="227.6" cy="82.5" r="0.8" fill="#202030"/>
<circle cx="87.9" cy="148.0" r="1.2" fill="#6c8898"/>
<circle cx="63.0" cy="77.6" r="1.2" fill="#521a5c"/>
<circle cx="67.4" cy="79.0" r="1.5" fill="#521a5c"/>
<circle cx="103.1" cy="161.4" r="0.7" fill="#3a3a20"/>
<circle cx="73.4" cy="98.2" r="1.4" fill="#521a5c"/>
<circle cx="215.5" cy="144.5" r="0.7" fill="#30284a"/>
<circle cx="152.1" cy="91.2" r="0.9" fill="#2a2030"/>
<circle cx="231.1" cy="104.3" r="0.9" fill="#402840"/>
<circle cx="125.8" cy="135.9" r="1.1" fill="#3434cc"/>
<circle cx="39.8" cy="126.9" r="1.2" fill="#6c8898"/>
<circle cx="186.6" cy="113.7" r="0.9" fill="#44a83c"/>
<circle cx="251.9" cy="72.5" r="1.3" fill="#7474c0"/>
<circle cx="234.3" cy="78.2" r="1.2" fill="#7c7cc4"/>
<circle cx="187.0" cy="99.3" r="0.7" fill="#a88838"/>
<circle cx="94.5" cy="79.9" r="1.2" fill="#521a5c"/>
<circle cx="104.6" cy="71.7" r="0.8" fill="#3a3a20"/>
<circle cx="248.7" cy="121.3" r="1.1" fill="#d09848"/>
<circle cx="73.5" cy="74.7" r="1.1" fill="#521a5c"/>
<circle cx="260.8" cy="54.5" r="0.9" fill="#3a3a20"/>
<circle cx="243.7" cy="102.1" r="1.1" fill="#7474c0"/>
<circle cx="95.2" cy="91.2" r="0.7" fill="#b89a28"/>
<circle cx="157.1" cy="135.5" r="0.7" fill="#402840"/>
<circle cx="155.5" cy="99.6" r="0.8" fill="#3a3a20"/>
<circle cx="129.6" cy="92.5" r="0.8" fill="#b89a28"/>
<circle cx="52.3" cy="125.4" r="1.2" fill="#6c8898"/>
<circle cx="195.6" cy="172.9" r="1.1" fill="#d838d8"/>
<circle cx="127.2" cy="133.1" r="1.0" fill="#3434cc"/>
<circle cx="143.0" cy="102.8" r="1.3" fill="#44a83c"/>
<circle cx="138.7" cy="154.9" r="1.1" fill="#3434cc"/>
<circle cx="161.6" cy="136.8" r="0.6" fill="#3a3a20"/>
<circle cx="181.0" cy="152.0" r="1.0" fill="#3434cc"/>
<circle cx="68.0" cy="132.1" r="1.3" fill="#6c8898"/>
<circle cx="155.1" cy="78.9" r="0.7" fill="#b89a28"/>
<circle cx="72.0" cy="141.0" r="1.4" fill="#6c8898"/>
<circle cx="58.8" cy="147.8" r="1.3" fill="#6c8898"/>
<circle cx="132.9" cy="100.4" r="0.8" fill="#402840"/>
<circle cx="249.8" cy="50.0" r="0.7" fill="#2a2030"/>
<circle cx="195.3" cy="88.5" r="1.0" fill="#a88838"/>
<circle cx="71.5" cy="146.3" r="1.4" fill="#6c8898"/>
<circle cx="202.4" cy="169.4" r="0.9" fill="#402840"/>
<circle cx="162.3" cy="83.3" r="0.8" fill="#b89a28"/>
<circle cx="245.0" cy="76.8" r="1.4" fill="#7474c0"/>
<circle cx="243.0" cy="119.2" r="1.0" fill="#141460"/>
<circle cx="147.3" cy="76.8" r="0.8" fill="#2a2030"/>
<circle cx="235.4" cy="91.8" r="1.4" fill="#7c7cc4"/>
<circle cx="174.1" cy="74.3" r="1.0" fill="#a88838"/>
<circle cx="116.3" cy="90.2" r="0.8" fill="#3a3a20"/>
<circle cx="35.1" cy="108.3" r="1.0" fill="#eab0ea"/>
<circle cx="95.0" cy="83.4" r="1.2" fill="#6a2a70"/>
<circle cx="236.3" cy="91.0" r="1.4" fill="#7c7cc4"/>
<circle cx="214.5" cy="155.1" r="0.7" fill="#30284a"/>
<circle cx="220.5" cy="101.4" r="1.2" fill="#141460"/>
<circle cx="195.0" cy="89.8" r="0.9" fill="#a88838"/>
<circle cx="194.7" cy="95.1" r="0.9" fill="#141460"/>
<circle cx="81.7" cy="144.4" r="1.3" fill="#3434cc"/>
<circle cx="63.9" cy="131.8" r="1.4" fill="#6c8898"/>
<circle cx="97.7" cy="145.7" r="0.9" fill="#3434cc"/>
<circle cx="175.2" cy="109.0" r="0.9" fill="#44a83c"/>
<circle cx="255.3" cy="122.8" r="1.5" fill="#d09848"/>
<circle cx="181.6" cy="89.0" r="0.7" fill="#a88838"/>
<circle cx="220.3" cy="75.9" r="0.9" fill="#3a3a20"/>
<circle cx="35.0" cy="136.2" r="1.5" fill="#b8d4f4"/>
<circle cx="234.6" cy="115.4" r="1.3" fill="#d09848"/>
<circle cx="96.3" cy="135.0" r="1.2" fill="#3434cc"/>
<circle cx="243.7" cy="138.3" r="1.2" fill="#d09848"/>
<circle cx="242.9" cy="110.5" r="0.8" fill="#202030"/>
<circle cx="156.1" cy="169.2" r="0.9" fill="#d02424"/>
<circle cx="226.5" cy="150.4" r="1.0" fill="#d09848"/>
<circle cx="198.8" cy="174.1" r="0.9" fill="#3a3a20"/>
<circle cx="101.1" cy="79.3" r="1.1" fill="#521a5c"/>
<circle cx="247.0" cy="129.2" r="1.4" fill="#d09848"/>
<circle cx="105.1" cy="119.0" r="0.8" fill="#3a3a20"/>
<circle cx="132.1" cy="132.6" r="1.2" fill="#3434cc"/>
<circle cx="215.5" cy="136.0" r="1.4" fill="#d09848"/>
<circle cx="250.0" cy="87.7" r="1.1" fill="#7474c0"/>
<circle cx="105.6" cy="126.8" r="1.1" fill="#44a83c"/>
<circle cx="208.5" cy="158.3" r="1.2" fill="#d09848"/>
<circle cx="79.4" cy="153.1" r="1.4" fill="#6c8898"/>
<circle cx="103.0" cy="109.5" r="1.2" fill="#44a83c"/>
<circle cx="176.2" cy="92.5" r="0.8" fill="#a88838"/>
<circle cx="45.9" cy="147.2" r="1.1" fill="#202030"/>
<circle cx="145.3" cy="94.4" r="0.9" fill="#a88838"/>
<circle cx="70.9" cy="90.9" r="1.5" fill="#521a5c"/>
<circle cx="129.0" cy="114.3" r="0.9" fill="#2a2030"/>
<circle cx="91.5" cy="165.2" r="1.3" fill="#6c8898"/>
<circle cx="181.1" cy="165.0" r="1.0" fill="#202030"/>
<circle cx="243.4" cy="135.9" r="1.0" fill="#d09848"/>
<circle cx="94.6" cy="91.0" r="1.4" fill="#521a5c"/>
<circle cx="181.4" cy="122.4" r="0.9" fill="#44a83c"/>
<circle cx="234.2" cy="101.1" r="1.2" fill="#7c7cc4"/>
<circle cx="56.1" cy="108.9" r="1.3" fill="#eab0ea"/>
<circle cx="206.4" cy="76.0" r="0.9" fill="#30284a"/>
<circle cx="257.0" cy="111.4" r="1.2" fill="#d09848"/>
<circle cx="218.2" cy="147.8" r="1.3" fill="#d09848"/>
<circle cx="99.6" cy="142.1" r="1.2" fill="#6c8898"/>
<circle cx="259.9" cy="130.2" r="1.5" fill="#d09848"/>
<circle cx="51.0" cy="120.3" r="1.0" fill="#6c8898"/>
<circle cx="126.0" cy="147.5" r="0.7" fill="#402840"/>
<circle cx="41.8" cy="106.3" r="1.1" fill="#eab0ea"/>
<circle cx="50.0" cy="85.1" r="1.3" fill="#521a5c"/>
<circle cx="163.8" cy="181.1" r="1.0" fill="#d838d8"/>
<circle cx="261.4" cy="77.8" r="1.6" fill="#7474c0"/>
<circle cx="64.4" cy="84.7" r="1.3" fill="#521a5c"/>
<circle cx="220.9" cy="146.8" r="0.6" fill="#2a2030"/>
<circle cx="67.9" cy="89.3" r="1.2" fill="#521a5c"/>
<circle cx="231.6" cy="104.4" r="1.3" fill="#7c7cc4"/>
<circle cx="166.7" cy="190.8" r="0.9" fill="#2a2030"/>
<circle cx="59.5" cy="124.4" r="1.3" fill="#6c8898"/>
<circle cx="184.8" cy="113.2" r="1.1" fill="#202030"/>
<circle cx="63.0" cy="139.5" r="1.0" fill="#6c8898"/>
<circle cx="246.9" cy="98.1" r="1.3" fill="#7c7cc4"/>
<circle cx="205.7" cy="85.4" r="0.8" fill="#3a3a20"/>
<circle cx="126.4" cy="103.0" r="0.9" fill="#b89a28"/>
<circle cx="60.2" cy="145.1" r="1.2" fill="#6c8898"/>
<circle cx="238.9" cy="123.8" r="1.2" fill="#d09848"/>
<circle cx="189.1" cy="95.0" r="0.8" fill="#b89a28"/>
<circle cx="178.8" cy="96.3" r="0.8" fill="#202030"/>
<circle cx="78.1" cy="150.0" r="1.5" fill="#b8d4f4"/>
<circle cx="219.5" cy="76.8" r="0.9" fill="#30284a"/>
<circle cx="202.2" cy="97.5" r="0.8" fill="#a88838"/>
<circle cx="191.2" cy="91.3" r="0.7" fill="#30284a"/>
<circle cx="64.8" cy="131.9" r="1.2" fill="#b8d4f4"/>
<circle cx="149.8" cy="74.0" r="0.9" fill="#b89a28"/>
<circle cx="225.7" cy="48.5" r="0.6" fill="#2a2030"/>
<circle cx="111.8" cy="94.3" r="0.9" fill="#6a2a70"/>
<circle cx="267.8" cy="81.4" r="1.3" fill="#7474c0"/>
<circle cx="97.3" cy="82.6" r="1.3" fill="#6a2a70"/>
<circle cx="174.8" cy="84.9" r="0.8" fill="#202030"/>
<circle cx="77.7" cy="88.7" r="1.6" fill="#521a5c"/>
<circle cx="163.2" cy="187.6" r="1.4" fill="#d838d8"/>
<circle cx="235.0" cy="90.7" r="1.1" fill="#7c7cc4"/>
<circle cx="94.9" cy="86.5" r="1.0" fill="#b89a28"/>
<circle cx="268.1" cy="81.5" r="1.1" fill="#7474c0"/>
<circle cx="51.4" cy="105.8" r="1.4" fill="#521a5c"/>
<circle cx="133.4" cy="161.4" r="0.8" fill="#2a2030"/>
<circle cx="61.6" cy="92.6" r="1.6" fill="#521a5c"/>
<circle cx="158.8" cy="154.4" r="1.2" fill="#d02424"/>
<circle cx="88.2" cy="106.7" r="1.1" fill="#44a83c"/>
<circle cx="38.6" cy="103.2" r="1.2" fill="#eab0ea"/>
<circle cx="203.1" cy="178.4" r="1.3" fill="#d838d8"/>
<circle cx="59.1" cy="132.1" r="1.4" fill="#6c8898"/>
<circle cx="45.5" cy="106.0" r="1.3" fill="#eab0ea"/>
<circle cx="175.3" cy="176.6" r="1.1" fill="#d838d8"/>
<circle cx="254.3" cy="84.1" r="1.2" fill="#7474c0"/>
<circle cx="106.1" cy="126.9" r="1.0" fill="#44a83c"/>
<circle cx="237.7" cy="96.6" r="1.4" fill="#7c7cc4"/>
<circle cx="153.4" cy="144.1" r="1.1" fill="#3434cc"/>
<circle cx="120.1" cy="133.7" r="0.9" fill="#202030"/>
<circle cx="243.7" cy="114.6" r="1.1" fill="#d09848"/>
<circle cx="165.0" cy="155.0" r="1.3" fill="#d02424"/>
<circle cx="85.8" cy="134.5" r="1.4" fill="#6c8898"/>
<circle cx="137.6" cy="76.6" r="0.8" fill="#b89a28"/>
<circle cx="247.5" cy="99.6" r="1.4" fill="#d09848"/>
<circle cx="259.4" cy="131.3" r="1.3" fill="#d09848"/>
<circle cx="174.5" cy="191.4" r="1.1" fill="#d838d8"/>
<circle cx="147.7" cy="77.8" r="0.8" fill="#b89a28"/>
<circle cx="156.1" cy="147.6" r="0.7" fill="#2a2030"/>
<circle cx="247.9" cy="103.7" r="1.0" fill="#141460"/>
<circle cx="99.1" cy="89.2" r="1.2" fill="#6a2a70"/>
<circle cx="236.8" cy="135.5" r="1.2" fill="#141460"/>
<circle cx="170.3" cy="96.4" r="0.9" fill="#a88838"/>
<circle cx="164.3" cy="182.3" r="0.7" fill="#2a2030"/>
<circle cx="243.0" cy="88.9" r="1.0" fill="#7c7cc4"/>
<circle cx="65.7" cy="133.2" r="1.2" fill="#202030"/>
<circle cx="149.4" cy="182.1" r="1.4" fill="#d838d8"/>
<circle cx="145.1" cy="103.8" r="0.8" fill="#b89a28"/>
<circle cx="65.5" cy="77.8" r="1.6" fill="#521a5c"/>
<circle cx="163.6" cy="184.4" r="1.1" fill="#d838d8"/>
<circle cx="172.8" cy="96.3" r="0.9" fill="#a88838"/>
<circle cx="244.4" cy="56.8" r="1.6" fill="#7474c0"/>
<circle cx="138.0" cy="98.4" r="0.8" fill="#b89a28"/>
<circle cx="161.9" cy="177.4" r="1.2" fill="#d838d8"/>
<circle cx="63.3" cy="95.6" r="1.3" fill="#521a5c"/>
<circle cx="147.9" cy="80.3" r="0.8" fill="#402840"/>
<circle cx="262.5" cy="110.4" r="1.3" fill="#d09848"/>
<circle cx="167.5" cy="146.8" r="1.1" fill="#3434cc"/>
<circle cx="117.5" cy="143.5" r="0.9" fill="#3a3a20"/>
<circle cx="243.7" cy="120.4" r="1.5" fill="#d09848"/>
<circle cx="173.0" cy="195.9" r="1.1" fill="#d838d8"/>
<circle cx="215.1" cy="74.7" r="0.9" fill="#2a2030"/>
<circle cx="173.3" cy="74.6" r="1.0" fill="#b89a28"/>
<circle cx="57.0" cy="120.0" r="1.4" fill="#eab0ea"/>
<circle cx="212.7" cy="179.1" r="1.4" fill="#d838d8"/>
<circle cx="249.3" cy="142.3" r="0.8" fill="#2a2030"/>
<circle cx="250.9" cy="88.6" r="1.5" fill="#7474c0"/>
<circle cx="161.1" cy="95.7" r="1.2" fill="#202030"/>
<circle cx="93.0" cy="82.9" r="1.5" fill="#521a5c"/>
<circle cx="233.1" cy="74.2" r="1.1" fill="#7474c0"/>
<circle cx="81.6" cy="166.7" r="1.4" fill="#6c8898"/>
<circle cx="161.6" cy="79.1" r="0.8" fill="#b89a28"/>
<circle cx="231.8" cy="123.7" r="1.2" fill="#141460"/>
<circle cx="248.7" cy="113.3" r="1.4" fill="#d09848"/>
<circle cx="99.4" cy="95.6" r="1.1" fill="#521a5c"/>
<circle cx="196.9" cy="126.5" r="1.1" fill="#202030"/>
<circle cx="86.8" cy="95.8" r="1.0" fill="#b89a28"/>
<circle cx="136.0" cy="140.1" r="0.9" fill="#3434cc"/>
<circle cx="235.1" cy="156.6" r="1.2" fill="#d09848"/>
<circle cx="244.3" cy="109.4" r="1.0" fill="#7474c0"/>
<circle cx="213.1" cy="119.0" r="1.2" fill="#141460"/>
<circle cx="249.8" cy="41.5" r="0.7" fill="#30284a"/>
<circle cx="151.2" cy="91.1" r="0.7" fill="#b89a28"/>
<circle cx="61.4" cy="92.0" r="1.3" fill="#521a5c"/>
<circle cx="119.6" cy="97.6" r="0.7" fill="#b89a28"/>
<circle cx="87.7" cy="133.6" r="1.3" fill="#6c8898"/>
<circle cx="124.0" cy="172.3" r="0.9" fill="#402840"/>
<circle cx="109.6" cy="99.4" r="1.3" fill="#44a83c"/>
<circle cx="144.8" cy="69.0" r="0.9" fill="#b89a28"/>
<circle cx="151.3" cy="99.6" r="0.8" fill="#2a2030"/>
<circle cx="183.4" cy="195.3" r="1.0" fill="#d838d8"/>
<circle cx="39.7" cy="102.4" r="1.3" fill="#521a5c"/>
<circle cx="197.6" cy="174.0" r="0.7" fill="#30284a"/>
<circle cx="233.3" cy="121.3" r="1.2" fill="#d09848"/>
<circle cx="48.9" cy="132.0" r="1.1" fill="#6c8898"/>
<circle cx="87.2" cy="77.4" r="1.5" fill="#521a5c"/>
<circle cx="52.9" cy="96.7" r="1.2" fill="#521a5c"/>
<circle cx="203.6" cy="186.0" r="1.1" fill="#d838d8"/>
<circle cx="131.2" cy="162.8" r="0.7" fill="#3a3a20"/>
<circle cx="180.2" cy="117.4" r="1.0" fill="#44a83c"/>
<circle cx="153.5" cy="162.3" r="1.0" fill="#d02424"/>
<circle cx="218.4" cy="140.0" r="0.9" fill="#d09848"/>
<circle cx="220.8" cy="102.2" r="1.4" fill="#7c7cc4"/>
<circle cx="257.3" cy="141.3" r="1.1" fill="#d09848"/>
<circle cx="191.1" cy="117.9" r="1.3" fill="#141460"/>
<circle cx="94.4" cy="148.0" r="1.4" fill="#6c8898"/>
<circle cx="170.4" cy="90.9" r="1.0" fill="#a88838"/>
<circle cx="100.8" cy="94.7" r="1.0" fill="#6a2a70"/>
<circle cx="241.4" cy="96.0" r="1.4" fill="#7c7cc4"/>
<circle cx="103.5" cy="107.2" r="1.2" fill="#44a83c"/>
<circle cx="126.8" cy="97.9" r="1.0" fill="#202030"/>
<circle cx="247.0" cy="135.3" r="1.5" fill="#d09848"/>
<circle cx="252.5" cy="135.1" r="1.4" fill="#d09848"/>
<circle cx="145.9" cy="134.4" r="1.2" fill="#44a83c"/>
<circle cx="146.3" cy="117.5" r="0.9" fill="#44a83c"/>
<circle cx="104.3" cy="82.9" r="0.9" fill="#402840"/>
<circle cx="206.9" cy="170.6" r="1.3" fill="#d838d8"/>
<circle cx="57.0" cy="107.5" r="1.5" fill="#521a5c"/>
<circle cx="186.4" cy="97.8" r="1.0" fill="#a88838"/>
<circle cx="138.9" cy="183.5" r="1.1" fill="#d838d8"/>
<circle cx="127.7" cy="80.4" r="1.0" fill="#b89a28"/>
<circle cx="149.4" cy="135.4" r="0.9" fill="#30284a"/>
<circle cx="118.2" cy="112.8" r="0.8" fill="#202030"/>
<circle cx="33.3" cy="110.8" r="1.2" fill="#eab0ea"/>
<circle cx="117.1" cy="68.0" r="0.7" fill="#b89a28"/>
<circle cx="120.0" cy="86.5" r="0.8" fill="#b89a28"/>
<circle cx="164.9" cy="142.7" r="0.7" fill="#3a3a20"/>
<circle cx="257.1" cy="68.4" r="1.4" fill="#7474c0"/>
<circle cx="107.8" cy="95.9" r="0.8" fill="#b89a28"/>
<circle cx="64.8" cy="144.5" r="1.0" fill="#6c8898"/>
<circle cx="179.8" cy="81.4" r="0.9" fill="#a88838"/>
<circle cx="75.0" cy="126.9" r="1.1" fill="#6c8898"/>
<circle cx="165.1" cy="95.3" r="0.8" fill="#a88838"/>
<circle cx="191.9" cy="159.9" r="1.2" fill="#202030"/>
<circle cx="248.4" cy="119.5" r="1.4" fill="#d09848"/>
<circle cx="184.1" cy="184.2" r="1.2" fill="#d838d8"/>
<circle cx="95.4" cy="86.0" r="0.7" fill="#b89a28"/>
<circle cx="210.1" cy="120.5" r="1.0" fill="#141460"/>
<circle cx="159.5" cy="134.6" r="1.1" fill="#3434cc"/>
<circle cx="160.5" cy="186.2" r="0.7" fill="#3a3a20"/>
<circle cx="177.9" cy="83.9" r="0.8" fill="#a88838"/>
<circle cx="88.5" cy="80.2" r="1.4" fill="#521a5c"/>
<circle cx="87.3" cy="90.4" r="0.8" fill="#b89a28"/>
<circle cx="242.7" cy="61.6" r="0.9" fill="#30284a"/>
<circle cx="261.6" cy="63.8" r="1.5" fill="#7474c0"/>
<circle cx="220.4" cy="159.1" r="1.2" fill="#d09848"/>
<circle cx="199.2" cy="117.8" r="1.0" fill="#202030"/>
<circle cx="182.9" cy="187.3" r="1.0" fill="#d838d8"/>
<circle cx="237.4" cy="117.4" r="1.2" fill="#d09848"/>
<circle cx="138.5" cy="102.6" r="0.9" fill="#402840"/>
<circle cx="247.5" cy="141.7" r="1.1" fill="#d09848"/>
<circle cx="155.2" cy="132.8" r="1.0" fill="#44a83c"/>
<circle cx="175.5" cy="131.6" r="0.9" fill="#44a83c"/>
<circle cx="54.8" cy="92.9" r="1.2" fill="#521a5c"/>
<circle cx="156.7" cy="142.9" r="1.2" fill="#3434cc"/>
<circle cx="45.5" cy="83.8" r="1.6" fill="#521a5c"/>
<circle cx="176.1" cy="168.6" r="1.0" fill="#d02424"/>
<circle cx="133.7" cy="133.9" r="0.7" fill="#3a3a20"/>
<circle cx="215.4" cy="113.7" r="0.8" fill="#3a3a20"/>
<circle cx="114.1" cy="86.6" r="1.0" fill="#b89a28"/>
<circle cx="231.2" cy="141.1" r="1.2" fill="#d09848"/>
<circle cx="30.0" cy="118.1" r="1.2" fill="#eab0ea"/>
<circle cx="53.1" cy="144.5" r="1.4" fill="#6c8898"/>
<circle cx="68.7" cy="87.1" r="1.4" fill="#521a5c"/>
<circle cx="108.5" cy="83.5" r="1.1" fill="#6a2a70"/>
<circle cx="130.6" cy="89.9" r="0.9" fill="#b89a28"/>
<circle cx="168.2" cy="100.3" r="0.8" fill="#2a2030"/>
<circle cx="100.9" cy="133.0" r="0.9" fill="#30284a"/>
<circle cx="254.1" cy="43.0" r="0.7" fill="#3a3a20"/>
<circle cx="170.7" cy="185.8" r="1.1" fill="#d838d8"/>
<circle cx="72.3" cy="163.1" r="1.1" fill="#6c8898"/>
<circle cx="35.2" cy="92.0" r="1.5" fill="#521a5c"/>
<circle cx="180.5" cy="93.3" r="0.9" fill="#a88838"/>
<circle cx="145.4" cy="121.9" r="0.8" fill="#30284a"/>
<circle cx="68.8" cy="141.7" r="1.3" fill="#6c8898"/>
<circle cx="124.1" cy="90.8" r="0.9" fill="#b89a28"/>
<circle cx="156.8" cy="187.4" r="1.3" fill="#d838d8"/>
<circle cx="165.9" cy="178.0" r="1.1" fill="#d838d8"/>
<circle cx="145.0" cy="134.2" r="1.2" fill="#44a83c"/>
<circle cx="119.2" cy="119.6" r="1.0" fill="#3434cc"/>
<circle cx="36.1" cy="109.6" r="1.3" fill="#eab0ea"/>
<circle cx="188.9" cy="96.0" r="1.0" fill="#a88838"/>
<circle cx="245.0" cy="118.1" r="1.3" fill="#d09848"/>
<circle cx="144.5" cy="126.8" r="1.2" fill="#44a83c"/>
<circle cx="244.1" cy="95.1" r="1.2" fill="#7c7cc4"/>
<circle cx="114.3" cy="81.3" r="0.6" fill="#3a3a20"/>
<circle cx="117.9" cy="150.0" r="1.2" fill="#3434cc"/>
<circle cx="97.6" cy="71.5" r="1.5" fill="#521a5c"/>
<circle cx="180.9" cy="119.8" r="0.9" fill="#44a83c"/>
<circle cx="44.1" cy="87.2" r="1.4" fill="#521a5c"/>
<circle cx="65.0" cy="150.1" r="1.2" fill="#b8d4f4"/>
<circle cx="121.7" cy="178.6" r="1.2" fill="#d838d8"/>
<circle cx="133.7" cy="71.9" r="1.0" fill="#b89a28"/>
<circle cx="84.0" cy="156.2" r="1.2" fill="#6c8898"/>
<circle cx="86.7" cy="156.6" r="1.2" fill="#6c8898"/>
<circle cx="184.7" cy="66.8" r="0.9" fill="#b89a28"/>
<circle cx="247.4" cy="67.9" r="1.4" fill="#7474c0"/>
<circle cx="172.6" cy="88.0" r="0.8" fill="#b89a28"/>
<circle cx="141.1" cy="126.2" r="1.0" fill="#3434cc"/>
<circle cx="133.3" cy="145.5" r="1.1" fill="#3434cc"/>
<circle cx="184.2" cy="80.6" r="0.9" fill="#b89a28"/>
<circle cx="134.6" cy="126.7" r="1.1" fill="#3434cc"/>
<circle cx="198.4" cy="159.4" r="1.3" fill="#d02424"/>
<circle cx="242.4" cy="118.0" r="1.4" fill="#d09848"/>
<circle cx="229.5" cy="145.6" r="1.0" fill="#202030"/>
<circle cx="125.7" cy="91.6" r="1.0" fill="#b89a28"/>
<circle cx="156.9" cy="155.8" r="1.0" fill="#d02424"/>
<circle cx="107.7" cy="142.1" r="0.8" fill="#202030"/>
<circle cx="203.9" cy="125.5" r="1.3" fill="#141460"/>
<circle cx="31.1" cy="102.1" r="1.1" fill="#eab0ea"/>
<circle cx="171.6" cy="87.2" r="1.0" fill="#a88838"/>
<circle cx="162.0" cy="160.5" r="1.2" fill="#d02424"/>
<circle cx="49.4" cy="139.9" r="1.5" fill="#6c8898"/>
<circle cx="171.8" cy="182.2" r="0.7" fill="#30284a"/>
<circle cx="207.3" cy="156.1" r="1.0" fill="#d09848"/>
<circle cx="188.4" cy="84.6" r="0.9" fill="#a88838"/>
<circle cx="137.6" cy="94.3" r="1.0" fill="#202030"/>
<circle cx="90.6" cy="156.4" r="1.2" fill="#b8d4f4"/>
<circle cx="62.0" cy="159.7" r="1.4" fill="#b8d4f4"/>
<circle cx="69.2" cy="93.8" r="1.4" fill="#521a5c"/>
<circle cx="184.0" cy="169.3" r="1.1" fill="#d02424"/>
<circle cx="213.6" cy="157.1" r="1.0" fill="#d09848"/>
<circle cx="119.9" cy="177.7" r="1.1" fill="#202030"/>
<circle cx="98.3" cy="132.9" r="1.0" fill="#6c8898"/>
<circle cx="236.5" cy="126.4" r="1.1" fill="#202030"/>
<circle cx="247.4" cy="66.5" r="1.3" fill="#7474c0"/>
<circle cx="188.8" cy="83.0" r="0.7" fill="#2a2030"/>
<circle cx="101.0" cy="93.2" r="1.0" fill="#6a2a70"/>
<circle cx="245.4" cy="117.5" r="1.3" fill="#d09848"/>
<circle cx="123.9" cy="126.6" r="1.2" fill="#3434cc"/>
<circle cx="177.7" cy="156.8" r="0.8" fill="#202030"/>
<circle cx="148.0" cy="142.1" r="1.0" fill="#202030"/>
<circle cx="269.3" cy="97.3" r="0.9" fill="#30284a"/>
<circle cx="170.6" cy="139.4" r="0.7" fill="#402840"/>
<circle cx="81.0" cy="81.0" r="1.1" fill="#521a5c"/>
<circle cx="62.8" cy="149.4" r="1.3" fill="#b8d4f4"/>
<circle cx="228.6" cy="110.3" r="1.1" fill="#7c7cc4"/>
<circle cx="160.9" cy="189.2" r="1.1" fill="#d838d8"/>
<circle cx="221.6" cy="117.0" r="0.8" fill="#2a2030"/>
<circle cx="233.7" cy="108.1" r="1.3" fill="#d09848"/>
<circle cx="217.6" cy="157.4" r="1.0" fill="#d09848"/>
<circle cx="132.6" cy="113.5" r="1.0" fill="#44a83c"/>
<circle cx="58.9" cy="139.1" r="1.4" fill="#b8d4f4"/>
<circle cx="131.5" cy="133.1" r="1.1" fill="#3434cc"/>
<circle cx="56.0" cy="95.1" r="1.2" fill="#521a5c"/>
<circle cx="38.6" cy="113.4" r="1.3" fill="#eab0ea"/>
<circle cx="142.2" cy="72.8" r="0.8" fill="#b89a28"/>
<circle cx="245.1" cy="135.2" r="1.4" fill="#d09848"/>
<circle cx="216.5" cy="179.8" r="1.3" fill="#d838d8"/>
<circle cx="259.2" cy="72.2" r="1.4" fill="#7474c0"/>
<circle cx="129.0" cy="78.7" r="0.6" fill="#3a3a20"/>
<circle cx="55.8" cy="150.5" r="1.4" fill="#b8d4f4"/>
<circle cx="262.5" cy="63.4" r="0.7" fill="#2a2030"/>
<circle cx="179.5" cy="98.6" r="0.7" fill="#a88838"/>
<circle cx="226.5" cy="117.9" r="0.9" fill="#30284a"/>
<circle cx="137.4" cy="96.6" r="0.8" fill="#b89a28"/>
<circle cx="142.2" cy="187.3" r="1.2" fill="#d838d8"/>
<circle cx="45.3" cy="90.5" r="1.1" fill="#521a5c"/>
<circle cx="223.8" cy="145.0" r="1.0" fill="#d09848"/>
<circle cx="169.6" cy="186.5" r="1.2" fill="#d838d8"/>
<circle cx="125.6" cy="105.4" r="1.2" fill="#44a83c"/>
<circle cx="151.5" cy="134.5" r="1.2" fill="#3434cc"/>
<circle cx="129.2" cy="123.7" r="1.1" fill="#3434cc"/>
<circle cx="241.4" cy="131.8" r="1.4" fill="#d09848"/>
<circle cx="183.0" cy="107.9" r="1.1" fill="#44a83c"/>
<circle cx="141.0" cy="117.0" r="1.2" fill="#44a83c"/>
<circle cx="135.3" cy="102.2" r="0.9" fill="#44a83c"/>
<circle cx="40.3" cy="116.2" r="1.3" fill="#6c8898"/>
<circle cx="170.2" cy="115.7" r="1.0" fill="#44a83c"/>
<circle cx="152.7" cy="70.5" r="0.9" fill="#b89a28"/>
<circle cx="103.1" cy="98.9" r="0.8" fill="#b89a28"/>
<circle cx="245.8" cy="130.7" r="1.2" fill="#d09848"/>
<circle cx="158.2" cy="179.4" r="0.6" fill="#30284a"/>
<circle cx="162.3" cy="183.4" r="1.2" fill="#d838d8"/>
<circle cx="42.2" cy="138.9" r="1.2" fill="#6c8898"/>
<circle cx="217.7" cy="114.7" r="1.2" fill="#141460"/>
<circle cx="125.8" cy="177.4" r="1.0" fill="#d838d8"/>
<circle cx="248.9" cy="96.4" r="1.1" fill="#7474c0"/>
<circle cx="212.4" cy="144.8" r="1.1" fill="#141460"/>
<circle cx="195.8" cy="128.1" r="1.1" fill="#141460"/>
<circle cx="125.2" cy="139.1" r="1.2" fill="#3434cc"/>
<circle cx="221.3" cy="113.1" r="1.1" fill="#202030"/>
<circle cx="261.3" cy="75.8" r="1.2" fill="#7474c0"/>
<circle cx="178.7" cy="182.7" r="1.2" fill="#d838d8"/>
<circle cx="240.9" cy="51.1" r="1.0" fill="#7474c0"/>
<circle cx="183.3" cy="184.8" r="1.0" fill="#d838d8"/>
<circle cx="108.7" cy="107.7" r="1.0" fill="#44a83c"/>
<circle cx="160.4" cy="150.2" r="1.0" fill="#d02424"/>
<circle cx="226.7" cy="99.8" r="1.2" fill="#7c7cc4"/>
<circle cx="161.3" cy="77.9" r="0.7" fill="#402840"/>
<circle cx="73.4" cy="103.8" r="1.2" fill="#521a5c"/>
<circle cx="66.5" cy="75.5" r="1.4" fill="#521a5c"/>
<circle cx="180.9" cy="102.4" r="0.7" fill="#30284a"/>
<circle cx="246.5" cy="72.4" r="1.1" fill="#7474c0"/>
<circle cx="90.4" cy="83.2" r="1.5" fill="#521a5c"/>
<circle cx="239.4" cy="72.7" r="1.2" fill="#202030"/>
<circle cx="249.9" cy="101.5" r="1.1" fill="#7474c0"/>
<circle cx="163.0" cy="95.4" r="0.8" fill="#402840"/>
<circle cx="81.0" cy="86.9" r="1.5" fill="#521a5c"/>
<circle cx="196.2" cy="192.7" r="0.9" fill="#3a3a20"/>
<circle cx="228.4" cy="111.7" r="1.1" fill="#d09848"/>
<circle cx="228.8" cy="103.7" r="1.5" fill="#7474c0"/>
<circle cx="166.3" cy="75.9" r="0.9" fill="#202030"/>
<circle cx="126.5" cy="180.5" r="1.4" fill="#d838d8"/>
<circle cx="247.3" cy="108.6" r="1.2" fill="#d09848"/>
<circle cx="192.3" cy="133.6" r="0.8" fill="#202030"/>
<circle cx="75.6" cy="128.1" r="1.4" fill="#6c8898"/>
<circle cx="227.1" cy="97.4" r="1.3" fill="#7c7cc4"/>
<circle cx="143.6" cy="177.9" r="0.9" fill="#2a2030"/>
<circle cx="64.8" cy="117.8" r="1.1" fill="#6c8898"/>
<circle cx="232.8" cy="87.8" r="1.1" fill="#7c7cc4"/>
<circle cx="232.8" cy="82.7" r="0.7" fill="#2a2030"/>
<circle cx="247.7" cy="112.6" r="1.2" fill="#d09848"/>
<circle cx="174.5" cy="99.1" r="0.8" fill="#a88838"/>
<circle cx="99.1" cy="138.1" r="1.3" fill="#6c8898"/>
<circle cx="51.5" cy="109.6" r="1.5" fill="#eab0ea"/>
<circle cx="97.9" cy="89.2" r="1.0" fill="#6a2a70"/>
<circle cx="118.3" cy="90.5" r="0.9" fill="#b89a28"/>
<circle cx="193.9" cy="194.8" r="0.8" fill="#2a2030"/>
<circle cx="268.7" cy="111.8" r="1.4" fill="#d09848"/>
<circle cx="55.3" cy="79.4" r="1.6" fill="#521a5c"/>
<circle cx="53.9" cy="94.0" r="1.2" fill="#521a5c"/>
<circle cx="244.9" cy="99.2" r="0.8" fill="#30284a"/>
<circle cx="199.0" cy="67.0" r="1.2" fill="#202030"/>
<circle cx="204.6" cy="107.5" r="1.1" fill="#141460"/>
<circle cx="251.6" cy="133.3" r="1.1" fill="#d09848"/>
<circle cx="257.0" cy="139.0" r="1.2" fill="#d09848"/>
<circle cx="247.7" cy="104.2" r="1.2" fill="#d09848"/>
<circle cx="137.8" cy="85.0" r="0.7" fill="#b89a28"/>
<circle cx="63.4" cy="138.9" r="1.1" fill="#6c8898"/>
<circle cx="136.9" cy="131.8" r="0.9" fill="#44a83c"/>
<circle cx="69.1" cy="132.3" r="1.5" fill="#6c8898"/>
<circle cx="235.7" cy="98.9" r="1.4" fill="#7c7cc4"/>
<circle cx="244.3" cy="102.0" r="1.0" fill="#7c7cc4"/>
<circle cx="145.2" cy="151.8" r="1.0" fill="#3434cc"/>
<circle cx="160.3" cy="109.3" r="0.9" fill="#44a83c"/>
<circle cx="113.6" cy="127.4" r="0.9" fill="#44a83c"/>
<circle cx="116.8" cy="94.5" r="0.9" fill="#b89a28"/>
<circle cx="151.0" cy="154.2" r="1.0" fill="#3434cc"/>
<circle cx="65.2" cy="152.1" r="1.1" fill="#6c8898"/>
<circle cx="233.2" cy="101.4" r="1.2" fill="#7474c0"/>
<circle cx="228.7" cy="105.5" r="1.5" fill="#7c7cc4"/>
<circle cx="151.2" cy="92.8" r="1.0" fill="#202030"/>
<circle cx="252.4" cy="142.8" r="0.7" fill="#402840"/>
<circle cx="165.9" cy="88.7" r="0.8" fill="#b89a28"/>
<circle cx="89.1" cy="76.2" r="1.4" fill="#521a5c"/>
<circle cx="144.5" cy="86.7" r="0.7" fill="#b89a28"/>
<circle cx="222.3" cy="144.1" r="0.9" fill="#3a3a20"/>
<circle cx="139.3" cy="97.1" r="0.9" fill="#b89a28"/>
<circle cx="123.3" cy="110.7" r="0.9" fill="#402840"/>
<circle cx="126.2" cy="69.1" r="0.8" fill="#30284a"/>
<circle cx="165.1" cy="110.2" r="0.9" fill="#402840"/>
<circle cx="80.3" cy="89.4" r="1.2" fill="#521a5c"/>
<circle cx="160.2" cy="121.3" r="1.1" fill="#44a83c"/>
<circle cx="61.3" cy="135.6" r="1.4" fill="#6c8898"/>
<circle cx="200.9" cy="91.6" r="0.8" fill="#2a2030"/>
<circle cx="147.0" cy="107.7" r="0.8" fill="#a88838"/>
<circle cx="124.6" cy="113.7" r="1.1" fill="#44a83c"/>
<circle cx="261.4" cy="129.2" r="1.0" fill="#d09848"/>
<circle cx="241.6" cy="60.1" r="0.7" fill="#402840"/>
<circle cx="102.5" cy="111.3" r="1.3" fill="#44a83c"/>
<circle cx="128.6" cy="140.8" r="1.3" fill="#3434cc"/>
<circle cx="143.2" cy="84.5" r="1.0" fill="#a88838"/>
<circle cx="241.5" cy="94.2" r="1.0" fill="#7c7cc4"/>
<circle cx="186.3" cy="101.6" r="0.7" fill="#30284a"/>
<circle cx="258.6" cy="91.4" r="0.9" fill="#402840"/>
<circle cx="62.5" cy="77.8" r="1.4" fill="#521a5c"/>
<circle cx="79.4" cy="139.8" r="1.2" fill="#6c8898"/>
<circle cx="246.2" cy="61.9" r="1.1" fill="#7474c0"/>
<circle cx="54.5" cy="92.1" r="1.2" fill="#521a5c"/>
<circle cx="55.9" cy="119.3" r="1.3" fill="#6c8898"/>
<circle cx="52.3" cy="114.7" r="1.1" fill="#6c8898"/>
<circle cx="202.3" cy="120.5" r="1.1" fill="#141460"/>
<circle cx="171.0" cy="189.5" r="0.7" fill="#30284a"/>
<circle cx="159.3" cy="91.7" r="0.8" fill="#402840"/>
<circle cx="31.3" cy="108.7" r="1.3" fill="#eab0ea"/>
<circle cx="122.5" cy="71.3" r="0.9" fill="#30284a"/>
<circle cx="256.9" cy="128.2" r="1.0" fill="#d09848"/>
<circle cx="243.0" cy="88.8" r="1.4" fill="#7474c0"/>
<circle cx="218.3" cy="117.7" r="0.8" fill="#202030"/>
<circle cx="113.9" cy="102.1" r="0.7" fill="#3a3a20"/>
<circle cx="91.3" cy="80.2" r="1.3" fill="#6a2a70"/>
<circle cx="167.1" cy="115.7" r="0.9" fill="#44a83c"/>
<circle cx="102.7" cy="102.5" r="0.8" fill="#2a2030"/>
<circle cx="103.1" cy="86.8" r="1.6" fill="#521a5c"/>
<circle cx="199.3" cy="173.5" r="1.0" fill="#d02424"/>
<circle cx="232.4" cy="118.5" r="0.7" fill="#30284a"/>
<circle cx="51.6" cy="87.6" r="1.6" fill="#521a5c"/>
<circle cx="140.9" cy="158.8" r="1.0" fill="#d02424"/>
<circle cx="51.0" cy="113.7" r="1.3" fill="#eab0ea"/>
<circle cx="49.2" cy="132.6" r="1.1" fill="#b8d4f4"/>
<circle cx="47.6" cy="99.7" r="1.5" fill="#eab0ea"/>
<circle cx="172.9" cy="92.7" r="0.7" fill="#202030"/>
<circle cx="249.2" cy="65.6" r="1.4" fill="#7474c0"/>
<circle cx="208.0" cy="184.2" r="1.4" fill="#d838d8"/>
<circle cx="234.5" cy="75.1" r="1.2" fill="#7474c0"/>
<circle cx="124.7" cy="117.9" r="0.9" fill="#2a2030"/>
<circle cx="179.8" cy="79.0" r="0.8" fill="#a88838"/>
<circle cx="54.9" cy="112.6" r="1.2" fill="#eab0ea"/>
<circle cx="120.5" cy="113.6" r="1.1" fill="#44a83c"/>
<circle cx="147.4" cy="87.7" r="0.8" fill="#b89a28"/>
<circle cx="184.9" cy="78.0" r="0.8" fill="#b89a28"/>
<circle cx="69.8" cy="105.0" r="1.2" fill="#521a5c"/>
<circle cx="55.1" cy="101.7" r="1.6" fill="#521a5c"/>
<circle cx="60.1" cy="124.6" r="1.4" fill="#6c8898"/>
<circle cx="190.6" cy="166.6" r="1.0" fill="#d02424"/>
<circle cx="232.2" cy="91.7" r="1.3" fill="#7c7cc4"/>
<circle cx="74.5" cy="163.9" r="1.1" fill="#b8d4f4"/>
<circle cx="85.7" cy="133.6" r="1.0" fill="#6c8898"/>
<circle cx="257.5" cy="108.1" r="1.3" fill="#7474c0"/>
<circle cx="50.5" cy="142.5" r="1.1" fill="#b8d4f4"/>
<circle cx="158.2" cy="111.9" r="1.1" fill="#44a83c"/>
<circle cx="138.1" cy="118.9" r="0.9" fill="#44a83c"/>
<circle cx="200.7" cy="180.3" r="1.2" fill="#d838d8"/>
<circle cx="119.8" cy="158.0" r="0.9" fill="#3a3a20"/>
<circle cx="141.4" cy="102.3" r="0.8" fill="#402840"/>
<circle cx="194.5" cy="190.8" r="0.7" fill="#2a2030"/>
<circle cx="255.6" cy="59.4" r="1.5" fill="#7474c0"/>
<circle cx="65.1" cy="164.9" r="1.1" fill="#b8d4f4"/>
<circle cx="83.2" cy="85.8" r="1.3" fill="#521a5c"/>
<circle cx="154.0" cy="87.7" r="0.8" fill="#b89a28"/>
<circle cx="157.8" cy="114.2" r="1.0" fill="#44a83c"/>
<circle cx="210.4" cy="129.4" r="0.7" fill="#202030"/>
<circle cx="230.2" cy="100.2" r="1.0" fill="#7c7cc4"/>
<circle cx="185.5" cy="187.6" r="1.4" fill="#d838d8"/>
<circle cx="123.5" cy="143.7" r="1.1" fill="#3434cc"/>
<circle cx="256.2" cy="67.7" r="1.5" fill="#7474c0"/>
<circle cx="178.1" cy="104.8" r="1.0" fill="#a88838"/>
<circle cx="238.1" cy="60.7" r="1.4" fill="#7474c0"/>
<circle cx="259.4" cy="109.7" r="1.2" fill="#d09848"/>
<circle cx="136.5" cy="108.3" r="1.3" fill="#44a83c"/>
<circle cx="170.9" cy="82.6" r="0.9" fill="#b89a28"/>
<circle cx="162.4" cy="192.3" r="1.3" fill="#d838d8"/>
<circle cx="123.7" cy="135.1" r="1.2" fill="#3434cc"/>
<circle cx="206.2" cy="149.0" r="1.3" fill="#d09848"/>
<circle cx="183.7" cy="181.2" r="1.1" fill="#d838d8"/>
<circle cx="131.4" cy="156.1" r="1.0" fill="#3434cc"/>
<circle cx="244.1" cy="80.0" r="1.6" fill="#7474c0"/>
<circle cx="231.2" cy="88.8" r="1.2" fill="#7c7cc4"/>
<circle cx="166.1" cy="123.5" r="0.8" fill="#30284a"/>
<circle cx="127.3" cy="116.5" r="1.0" fill="#44a83c"/>
<circle cx="158.0" cy="86.1" r="0.7" fill="#a88838"/>
<circle cx="70.9" cy="140.7" r="1.1" fill="#6c8898"/>
<circle cx="256.1" cy="125.0" r="1.2" fill="#d09848"/>
<circle cx="259.8" cy="105.5" r="1.1" fill="#7474c0"/>
<circle cx="181.4" cy="92.7" r="1.0" fill="#a88838"/>
<circle cx="204.2" cy="173.6" r="1.0" fill="#d02424"/>
<circle cx="97.9" cy="122.7" r="1.2" fill="#3434cc"/>
<circle cx="156.9" cy="163.8" r="1.1" fill="#d02424"/>
<circle cx="156.9" cy="73.1" r="1.0" fill="#b89a28"/>
<circle cx="173.5" cy="150.3" r="1.0" fill="#3434cc"/>
<circle cx="204.6" cy="105.9" r="0.7" fill="#30284a"/>
<circle cx="92.1" cy="128.0" r="1.3" fill="#6c8898"/>
<circle cx="223.9" cy="172.3" r="0.7" fill="#2a2030"/>
<circle cx="153.8" cy="88.2" r="0.9" fill="#b89a28"/>
<circle cx="181.6" cy="196.6" r="1.4" fill="#d838d8"/>
<circle cx="97.1" cy="107.3" r="1.3" fill="#44a83c"/>
<circle cx="205.2" cy="106.7" r="1.0" fill="#202030"/>
<circle cx="138.6" cy="145.5" r="1.3" fill="#3434cc"/>
<circle cx="69.3" cy="88.4" r="1.4" fill="#521a5c"/>
<circle cx="183.1" cy="112.6" r="0.8" fill="#2a2030"/>
<circle cx="157.3" cy="103.1" r="0.8" fill="#a88838"/>
<circle cx="70.7" cy="87.1" r="1.4" fill="#521a5c"/>
<circle cx="168.2" cy="128.6" r="1.1" fill="#44a83c"/>
<circle cx="53.7" cy="142.5" r="1.1" fill="#6c8898"/>
<circle cx="176.3" cy="144.9" r="0.8" fill="#2a2030"/>
<circle cx="55.7" cy="156.6" r="1.4" fill="#b8d4f4"/>
<circle cx="72.9" cy="83.4" r="1.5" fill="#521a5c"/>
<circle cx="252.4" cy="89.1" r="1.1" fill="#7c7cc4"/>
<circle cx="191.4" cy="186.3" r="0.8" fill="#202030"/>
<circle cx="238.4" cy="59.7" r="1.2" fill="#7474c0"/>
<circle cx="108.4" cy="174.7" r="0.9" fill="#30284a"/>
<circle cx="101.7" cy="125.7" r="1.1" fill="#44a83c"/>
<circle cx="248.5" cy="119.9" r="1.0" fill="#d09848"/>
<circle cx="170.0" cy="127.0" r="1.3" fill="#44a83c"/>
<circle cx="262.5" cy="78.2" r="0.8" fill="#30284a"/>
<circle cx="56.6" cy="87.9" r="1.5" fill="#521a5c"/>
<circle cx="248.5" cy="99.5" r="1.5" fill="#d09848"/>
<circle cx="246.1" cy="84.5" r="1.1" fill="#7474c0"/>
<circle cx="252.8" cy="94.4" r="1.4" fill="#7c7cc4"/>
<circle cx="208.8" cy="186.1" r="1.1" fill="#d838d8"/>
<circle cx="241.1" cy="82.0" r="1.3" fill="#7474c0"/>
<circle cx="212.4" cy="93.9" r="0.6" fill="#30284a"/>
<circle cx="186.5" cy="131.5" r="1.2" fill="#44a83c"/>
<circle cx="245.8" cy="84.3" r="1.5" fill="#7474c0"/>
<circle cx="221.6" cy="80.0" r="0.9" fill="#3a3a20"/>
<circle cx="165.8" cy="101.4" r="1.0" fill="#a88838"/>
<circle cx="260.8" cy="52.7" r="1.6" fill="#7474c0"/>
<circle cx="254.1" cy="95.4" r="1.5" fill="#7474c0"/>
<circle cx="236.0" cy="93.2" r="1.4" fill="#7474c0"/>
<circle cx="201.3" cy="65.3" r="1.1" fill="#202030"/>
<circle cx="198.7" cy="162.9" r="0.7" fill="#30284a"/>
<circle cx="199.1" cy="183.7" r="1.0" fill="#d838d8"/>
<circle cx="232.5" cy="80.0" r="0.8" fill="#2a2030"/>
<circle cx="77.8" cy="136.5" r="1.1" fill="#6c8898"/>
<circle cx="152.0" cy="175.6" r="1.1" fill="#d838d8"/>
<circle cx="168.1" cy="183.1" r="1.3" fill="#d838d8"/>
<circle cx="171.6" cy="183.8" r="1.1" fill="#d838d8"/>
<circle cx="165.9" cy="164.5" r="1.2" fill="#d02424"/>
<circle cx="43.0" cy="112.4" r="1.1" fill="#eab0ea"/>
<circle cx="79.0" cy="126.0" r="1.3" fill="#6c8898"/>
<circle cx="239.1" cy="129.4" r="1.1" fill="#d09848"/>
<circle cx="97.1" cy="98.8" r="0.9" fill="#3a3a20"/>
<circle cx="213.8" cy="133.7" r="0.8" fill="#3a3a20"/>
<circle cx="200.8" cy="142.6" r="0.7" fill="#30284a"/>
<circle cx="224.5" cy="131.2" r="1.0" fill="#141460"/>
<circle cx="43.6" cy="119.3" r="1.4" fill="#eab0ea"/>
<circle cx="231.8" cy="92.6" r="1.0" fill="#7c7cc4"/>
<circle cx="257.2" cy="139.6" r="1.3" fill="#d09848"/>
<circle cx="45.4" cy="102.0" r="1.1" fill="#eab0ea"/>
<circle cx="210.8" cy="178.2" r="1.3" fill="#d838d8"/>
<circle cx="42.7" cy="95.1" r="1.2" fill="#eab0ea"/>
<circle cx="204.4" cy="94.9" r="1.0" fill="#141460"/>
<circle cx="46.5" cy="111.8" r="1.1" fill="#eab0ea"/>
<circle cx="59.2" cy="79.2" r="1.4" fill="#521a5c"/>
<circle cx="100.6" cy="120.2" r="0.7" fill="#402840"/>
<circle cx="229.0" cy="158.4" r="1.0" fill="#141460"/>
<circle cx="248.4" cy="136.1" r="1.3" fill="#d09848"/>
<circle cx="60.2" cy="88.0" r="1.2" fill="#521a5c"/>
<circle cx="118.6" cy="81.4" r="0.9" fill="#b89a28"/>
<circle cx="172.9" cy="150.0" r="0.9" fill="#2a2030"/>
<circle cx="232.9" cy="102.1" r="1.4" fill="#7474c0"/>
<circle cx="82.9" cy="135.3" r="1.2" fill="#6c8898"/>
<circle cx="180.4" cy="189.3" r="1.4" fill="#d838d8"/>
<circle cx="175.3" cy="167.5" r="0.9" fill="#d02424"/>
<circle cx="235.4" cy="95.0" r="1.5" fill="#7c7cc4"/>
<circle cx="263.0" cy="74.9" r="1.0" fill="#7474c0"/>
<circle cx="137.5" cy="79.0" r="0.9" fill="#3a3a20"/>
<circle cx="142.6" cy="157.6" r="1.0" fill="#d02424"/>
<circle cx="87.7" cy="155.4" r="1.5" fill="#b8d4f4"/>
<circle cx="46.8" cy="139.4" r="1.4" fill="#6c8898"/>
<circle cx="106.4" cy="122.2" r="1.1" fill="#3434cc"/>
<circle cx="56.7" cy="149.6" r="1.0" fill="#202030"/>
<circle cx="209.8" cy="158.3" r="0.9" fill="#141460"/>
<circle cx="261.1" cy="63.3" r="1.6" fill="#7474c0"/>
<circle cx="257.3" cy="107.5" r="0.9" fill="#202030"/>
<circle cx="86.0" cy="134.9" r="1.0" fill="#6c8898"/>
<circle cx="71.8" cy="161.6" r="1.5" fill="#b8d4f4"/>
<circle cx="58.1" cy="147.4" r="1.2" fill="#b8d4f4"/>
<circle cx="59.8" cy="106.8" r="1.3" fill="#eab0ea"/>
<circle cx="151.8" cy="168.9" r="1.2" fill="#d838d8"/>
<circle cx="218.8" cy="161.5" r="1.0" fill="#d09848"/>
<circle cx="230.1" cy="97.1" r="1.4" fill="#7c7cc4"/>
<circle cx="32.2" cy="100.1" r="1.3" fill="#eab0ea"/>
<circle cx="149.7" cy="145.5" r="1.2" fill="#d02424"/>
<circle cx="246.6" cy="77.9" r="0.9" fill="#2a2030"/>
<circle cx="40.8" cy="121.0" r="1.1" fill="#eab0ea"/>
<circle cx="228.2" cy="114.7" r="1.3" fill="#d09848"/>
<circle cx="164.1" cy="182.4" r="1.2" fill="#d838d8"/>
<circle cx="230.1" cy="74.7" r="1.4" fill="#7474c0"/>
<circle cx="257.8" cy="69.4" r="1.5" fill="#7474c0"/>
<circle cx="114.1" cy="133.6" r="1.1" fill="#3434cc"/>
<circle cx="185.6" cy="66.3" r="1.0" fill="#202030"/>
<circle cx="112.9" cy="128.1" r="1.0" fill="#3434cc"/>
<circle cx="59.9" cy="139.5" r="1.3" fill="#b8d4f4"/>
<circle cx="117.0" cy="172.7" r="1.3" fill="#d838d8"/>
<circle cx="252.3" cy="75.4" r="1.6" fill="#7474c0"/>
<circle cx="155.2" cy="178.6" r="0.8" fill="#30284a"/>
<circle cx="206.8" cy="165.9" r="1.0" fill="#d09848"/>
<circle cx="48.8" cy="137.1" r="1.2" fill="#6c8898"/>
<circle cx="80.0" cy="91.3" r="1.4" fill="#521a5c"/>
<circle cx="49.5" cy="135.3" r="1.1" fill="#6c8898"/>
<circle cx="42.2" cy="102.7" r="1.2" fill="#eab0ea"/>
<circle cx="198.2" cy="178.8" r="1.2" fill="#d838d8"/>
<circle cx="149.2" cy="138.3" r="1.1" fill="#3434cc"/>
<circle cx="132.8" cy="168.1" r="0.8" fill="#3a3a20"/>
<circle cx="234.3" cy="158.2" r="0.9" fill="#402840"/>
<circle cx="234.6" cy="97.6" r="0.6" fill="#30284a"/>
<circle cx="171.8" cy="159.2" r="0.9" fill="#d02424"/>
<circle cx="136.1" cy="111.2" r="1.2" fill="#44a83c"/>
<circle cx="152.0" cy="93.6" r="0.6" fill="#3a3a20"/>
<circle cx="158.9" cy="98.5" r="0.8" fill="#a88838"/>
<circle cx="248.2" cy="112.2" r="1.3" fill="#141460"/>
<circle cx="187.3" cy="164.4" r="0.8" fill="#3a3a20"/>
<circle cx="253.7" cy="139.7" r="1.5" fill="#d09848"/>
<circle cx="187.7" cy="87.0" r="0.9" fill="#b89a28"/>
<circle cx="130.0" cy="94.3" r="0.6" fill="#3a3a20"/>
<circle cx="186.9" cy="87.5" r="1.0" fill="#b89a28"/>
<circle cx="79.6" cy="93.9" r="1.5" fill="#521a5c"/>
<circle cx="147.5" cy="140.7" r="1.1" fill="#202030"/>
<circle cx="121.8" cy="97.2" r="0.7" fill="#b89a28"/>
<circle cx="66.4" cy="94.0" r="1.2" fill="#521a5c"/>
<circle cx="161.7" cy="185.0" r="1.1" fill="#d838d8"/>
<circle cx="133.2" cy="139.7" r="1.2" fill="#3434cc"/>
<circle cx="183.8" cy="98.5" r="0.9" fill="#a88838"/>
<circle cx="46.2" cy="80.7" r="1.4" fill="#521a5c"/>
<circle cx="193.1" cy="71.2" r="0.8" fill="#a88838"/>
<circle cx="140.8" cy="128.9" r="1.2" fill="#44a83c"/>
<circle cx="52.2" cy="78.6" r="1.6" fill="#521a5c"/>
<circle cx="161.4" cy="123.7" r="1.2" fill="#202030"/>
<circle cx="67.0" cy="162.3" r="1.1" fill="#b8d4f4"/>
<circle cx="199.8" cy="187.6" r="1.4" fill="#d838d8"/>
<circle cx="75.1" cy="77.9" r="1.3" fill="#521a5c"/>
<circle cx="222.0" cy="161.7" r="1.1" fill="#d09848"/>
<circle cx="145.3" cy="102.0" r="0.9" fill="#a88838"/>
<circle cx="208.0" cy="177.4" r="1.4" fill="#d838d8"/>
<circle cx="185.0" cy="127.2" r="0.7" fill="#2a2030"/>
<circle cx="204.5" cy="86.5" r="0.7" fill="#3a3a20"/>
<circle cx="226.0" cy="162.8" r="0.8" fill="#402840"/>
<circle cx="152.3" cy="180.2" r="1.2" fill="#d838d8"/>
<circle cx="241.7" cy="108.1" r="1.3" fill="#d09848"/>
<circle cx="152.7" cy="113.0" r="1.0" fill="#44a83c"/>
<circle cx="189.1" cy="126.9" r="0.8" fill="#30284a"/>
<circle cx="128.3" cy="145.9" r="1.3" fill="#3434cc"/>
<circle cx="52.6" cy="142.0" r="1.1" fill="#b8d4f4"/>
<circle cx="127.4" cy="87.4" r="0.8" fill="#2a2030"/>
<circle cx="94.2" cy="163.8" r="1.3" fill="#6c8898"/>
<circle cx="216.4" cy="143.7" r="1.3" fill="#d09848"/>
<circle cx="148.2" cy="108.9" r="0.9" fill="#2a2030"/>
<circle cx="79.9" cy="74.3" r="1.1" fill="#521a5c"/>
<circle cx="69.5" cy="138.5" r="1.2" fill="#3434cc"/>
<circle cx="235.0" cy="76.2" r="1.1" fill="#7474c0"/>
<circle cx="36.7" cy="103.4" r="1.4" fill="#eab0ea"/>
<circle cx="93.3" cy="120.3" r="1.1" fill="#44a83c"/>
<circle cx="81.8" cy="85.8" r="1.1" fill="#521a5c"/>
<circle cx="160.5" cy="155.7" r="1.3" fill="#d02424"/>
<circle cx="49.9" cy="135.4" r="1.2" fill="#b8d4f4"/>
<circle cx="153.1" cy="184.7" r="1.1" fill="#202030"/>
<circle cx="92.4" cy="89.0" r="1.3" fill="#6a2a70"/>
<circle cx="213.3" cy="151.6" r="1.0" fill="#d09848"/>
<circle cx="215.4" cy="155.8" r="1.2" fill="#d09848"/>
<circle cx="78.0" cy="100.3" r="1.3" fill="#521a5c"/>
<circle cx="247.0" cy="135.0" r="1.3" fill="#d09848"/>
<circle cx="171.0" cy="141.9" r="0.8" fill="#402840"/>
<circle cx="226.5" cy="104.9" r="1.4" fill="#7c7cc4"/>
<circle cx="151.9" cy="160.2" r="1.2" fill="#d02424"/>
<circle cx="156.0" cy="145.5" r="0.9" fill="#3a3a20"/>
<circle cx="183.7" cy="180.3" r="1.0" fill="#d838d8"/>
<circle cx="239.4" cy="127.4" r="1.4" fill="#d09848"/>
<circle cx="226.8" cy="153.7" r="0.8" fill="#402840"/>
<circle cx="136.8" cy="111.8" r="1.1" fill="#44a83c"/>
<circle cx="244.3" cy="65.5" r="0.7" fill="#2a2030"/>
<circle cx="61.3" cy="84.7" r="1.2" fill="#521a5c"/>
<circle cx="191.5" cy="171.0" r="1.3" fill="#d02424"/>
<circle cx="82.2" cy="130.8" r="1.2" fill="#3434cc"/>
<circle cx="249.1" cy="91.0" r="1.3" fill="#7474c0"/>
<circle cx="137.3" cy="99.6" r="0.6" fill="#30284a"/>
<circle cx="96.3" cy="70.6" r="0.8" fill="#2a2030"/>
<circle cx="149.6" cy="155.8" r="0.9" fill="#30284a"/>
<circle cx="139.8" cy="168.7" r="1.1" fill="#d838d8"/>
<circle cx="75.5" cy="115.3" r="1.2" fill="#6c8898"/>
<circle cx="58.6" cy="115.2" r="1.4" fill="#eab0ea"/>
<circle cx="112.3" cy="111.8" r="0.9" fill="#44a83c"/>
<circle cx="247.7" cy="96.1" r="1.4" fill="#7474c0"/>
<circle cx="99.1" cy="79.5" r="0.9" fill="#b89a28"/>
<circle cx="107.8" cy="91.2" r="0.9" fill="#b89a28"/>
<circle cx="97.1" cy="99.1" r="1.5" fill="#521a5c"/>
<circle cx="238.1" cy="65.7" r="1.2" fill="#7474c0"/>
<circle cx="159.2" cy="138.5" r="0.7" fill="#2a2030"/>
<circle cx="134.7" cy="121.8" r="1.1" fill="#44a83c"/>
<circle cx="135.0" cy="167.9" r="1.2" fill="#d838d8"/>
<circle cx="177.7" cy="151.9" r="1.3" fill="#3434cc"/>
<circle cx="178.4" cy="71.0" r="0.9" fill="#a88838"/>
<circle cx="169.2" cy="81.1" r="0.9" fill="#a88838"/>
<circle cx="224.1" cy="127.7" r="0.7" fill="#202030"/>
<circle cx="188.9" cy="162.3" r="0.9" fill="#2a2030"/>
<circle cx="198.8" cy="191.2" r="1.1" fill="#d838d8"/>
<circle cx="79.8" cy="147.1" r="1.5" fill="#6c8898"/>
<circle cx="61.2" cy="160.3" r="1.4" fill="#b8d4f4"/>
<circle cx="211.2" cy="177.5" r="1.1" fill="#d838d8"/>
<circle cx="204.5" cy="186.0" r="1.2" fill="#d838d8"/>
<circle cx="61.0" cy="145.4" r="1.2" fill="#6c8898"/>
<circle cx="90.3" cy="138.4" r="1.4" fill="#6c8898"/>
<circle cx="115.6" cy="119.5" r="0.8" fill="#30284a"/>
<circle cx="232.4" cy="59.2" r="0.6" fill="#30284a"/>
<circle cx="211.7" cy="176.8" r="1.3" fill="#d838d8"/>
<circle cx="167.4" cy="161.5" r="1.0" fill="#d02424"/>
<circle cx="45.9" cy="135.3" r="1.5" fill="#6c8898"/>
<circle cx="118.2" cy="98.0" r="0.8" fill="#b89a28"/>
<circle cx="207.1" cy="107.2" r="0.8" fill="#30284a"/>
<circle cx="94.4" cy="90.3" r="0.9" fill="#b89a28"/>
<circle cx="97.4" cy="132.1" r="1.2" fill="#3434cc"/>
<circle cx="200.8" cy="186.7" r="1.0" fill="#d838d8"/>
<circle cx="105.9" cy="77.5" r="0.9" fill="#b89a28"/>
<circle cx="187.9" cy="162.1" r="1.1" fill="#d02424"/>
<circle cx="77.5" cy="87.8" r="1.3" fill="#521a5c"/>
<circle cx="169.7" cy="142.6" r="0.9" fill="#402840"/>
<circle cx="53.8" cy="153.4" r="1.1" fill="#6c8898"/>
<circle cx="59.1" cy="138.6" r="1.3" fill="#6c8898"/>
<circle cx="127.3" cy="103.4" r="0.9" fill="#44a83c"/>
<circle cx="244.3" cy="96.4" r="1.4" fill="#7c7cc4"/>
<circle cx="167.1" cy="187.9" r="0.7" fill="#402840"/>
<circle cx="205.2" cy="176.1" r="1.1" fill="#d838d8"/>
<circle cx="166.3" cy="170.3" r="0.8" fill="#2a2030"/>
<circle cx="141.1" cy="173.5" r="1.2" fill="#d838d8"/>
<circle cx="199.9" cy="134.5" r="1.2" fill="#141460"/>
<circle cx="186.8" cy="126.9" r="1.1" fill="#202030"/>
<circle cx="49.5" cy="79.0" r="1.3" fill="#521a5c"/>
<circle cx="115.1" cy="89.6" r="1.0" fill="#b89a28"/>
<circle cx="198.2" cy="169.4" r="0.6" fill="#402840"/>
<circle cx="138.4" cy="146.2" r="0.9" fill="#3434cc"/>
<circle cx="177.2" cy="172.8" r="1.1" fill="#d838d8"/>
<circle cx="98.1" cy="77.5" r="1.2" fill="#6a2a70"/>
<circle cx="220.2" cy="116.9" r="0.9" fill="#141460"/>
<circle cx="88.0" cy="135.4" r="1.0" fill="#3434cc"/>
<circle cx="71.0" cy="98.8" r="1.2" fill="#521a5c"/>
<circle cx="118.8" cy="173.2" r="0.7" fill="#30284a"/>
<circle cx="149.7" cy="191.9" r="1.1" fill="#d838d8"/>
<circle cx="215.7" cy="181.5" r="0.6" fill="#2a2030"/>
<circle cx="182.3" cy="184.6" r="1.2" fill="#d838d8"/>
<circle cx="159.7" cy="102.9" r="0.8" fill="#402840"/>
<circle cx="54.6" cy="82.4" r="1.5" fill="#521a5c"/>
<circle cx="169.6" cy="104.0" r="0.8" fill="#a88838"/>
<circle cx="67.6" cy="128.7" r="1.0" fill="#3434cc"/>
<circle cx="150.2" cy="145.6" r="1.1" fill="#3434cc"/>
<circle cx="127.0" cy="109.8" r="1.1" fill="#44a83c"/>
<circle cx="223.4" cy="112.3" r="1.2" fill="#141460"/>
<circle cx="40.7" cy="138.9" r="1.3" fill="#b8d4f4"/>
<circle cx="128.8" cy="173.5" r="1.2" fill="#d838d8"/>
<circle cx="217.3" cy="100.6" r="1.0" fill="#141460"/>
<circle cx="200.6" cy="117.7" r="0.8" fill="#3a3a20"/>
<circle cx="250.8" cy="58.0" r="1.1" fill="#7474c0"/>
<circle cx="212.9" cy="113.5" r="0.9" fill="#30284a"/>
<circle cx="249.5" cy="132.8" r="1.3" fill="#d09848"/>
<circle cx="253.4" cy="51.1" r="1.3" fill="#7474c0"/>
<circle cx="245.7" cy="114.5" r="1.1" fill="#d09848"/>
<circle cx="150.1" cy="150.5" r="1.0" fill="#202030"/>
<circle cx="206.7" cy="183.8" r="1.3" fill="#d838d8"/>
<circle cx="176.5" cy="160.8" r="0.6" fill="#402840"/>
<circle cx="237.9" cy="128.4" r="1.2" fill="#d09848"/>
<circle cx="222.0" cy="144.4" r="0.8" fill="#402840"/>
<circle cx="104.8" cy="94.2" r="0.9" fill="#3a3a20"/>
<circle cx="219.5" cy="97.5" r="1.4" fill="#7c7cc4"/>
<circle cx="114.8" cy="178.1" r="0.9" fill="#402840"/>
<circle cx="215.3" cy="180.5" r="1.2" fill="#d838d8"/>
<circle cx="144.8" cy="102.3" r="1.0" fill="#202030"/>
<circle cx="107.4" cy="137.3" r="0.6" fill="#3a3a20"/>
<circle cx="212.4" cy="79.8" r="0.8" fill="#3a3a20"/>
<circle cx="251.9" cy="83.8" r="1.0" fill="#7474c0"/>
<circle cx="40.6" cy="118.1" r="1.2" fill="#eab0ea"/>
<circle cx="115.5" cy="125.3" r="1.2" fill="#3434cc"/>
<circle cx="175.1" cy="96.8" r="0.9" fill="#b89a28"/>
<circle cx="247.1" cy="66.6" r="1.4" fill="#7474c0"/>
<circle cx="50.3" cy="90.3" r="1.4" fill="#521a5c"/>
<circle cx="129.9" cy="97.4" r="1.2" fill="#44a83c"/>
<circle cx="52.6" cy="117.1" r="1.3" fill="#eab0ea"/>
<circle cx="103.0" cy="153.8" r="1.2" fill="#3434cc"/>
<circle cx="232.6" cy="143.3" r="0.9" fill="#d09848"/>
<circle cx="122.8" cy="132.1" r="1.1" fill="#3434cc"/>
<circle cx="177.9" cy="174.8" r="1.1" fill="#d838d8"/>
<circle cx="72.9" cy="107.9" r="0.8" fill="#202030"/>
<circle cx="152.7" cy="97.1" r="0.8" fill="#a88838"/>
<circle cx="147.7" cy="86.1" r="0.9" fill="#3a3a20"/>
<circle cx="178.2" cy="102.3" r="0.8" fill="#a88838"/>
<circle cx="218.0" cy="166.5" r="0.8" fill="#3a3a20"/>
<circle cx="236.1" cy="136.4" r="1.1" fill="#d09848"/>
<circle cx="201.6" cy="170.4" r="1.2" fill="#d02424"/>
<circle cx="233.7" cy="120.1" r="1.3" fill="#d09848"/>
<circle cx="203.7" cy="176.3" r="1.1" fill="#d838d8"/>
<circle cx="212.6" cy="185.7" r="1.3" fill="#d838d8"/>
<circle cx="238.5" cy="86.0" r="1.5" fill="#7c7cc4"/>
<circle cx="248.3" cy="93.4" r="1.1" fill="#7c7cc4"/>
<circle cx="60.1" cy="110.7" r="1.1" fill="#6c8898"/>
<circle cx="93.5" cy="78.1" r="1.3" fill="#521a5c"/>
<circle cx="49.5" cy="82.3" r="1.3" fill="#521a5c"/>
<circle cx="255.8" cy="114.2" r="0.8" fill="#30284a"/>
<circle cx="149.5" cy="112.4" r="0.9" fill="#44a83c"/>
<circle cx="246.0" cy="118.3" r="1.5" fill="#7474c0"/>
<circle cx="246.9" cy="110.0" r="1.3" fill="#d09848"/>
<circle cx="259.1" cy="46.4" r="0.7" fill="#30284a"/>
<circle cx="156.1" cy="179.0" r="0.9" fill="#2a2030"/>
<circle cx="226.2" cy="140.7" r="1.1" fill="#141460"/>
<circle cx="253.1" cy="128.0" r="1.3" fill="#d09848"/>
<circle cx="246.2" cy="96.1" r="1.0" fill="#7c7cc4"/>
<circle cx="82.3" cy="128.5" r="1.4" fill="#6c8898"/>
<circle cx="86.9" cy="130.8" r="1.0" fill="#6c8898"/>
<circle cx="67.6" cy="149.4" r="1.4" fill="#b8d4f4"/>
<circle cx="258.3" cy="108.2" r="1.3" fill="#d09848"/>
<circle cx="115.9" cy="132.5" r="1.0" fill="#3434cc"/>
<circle cx="48.8" cy="129.4" r="1.1" fill="#6c8898"/>
<circle cx="211.5" cy="85.7" r="0.8" fill="#a88838"/>
<circle cx="240.1" cy="57.9" r="0.9" fill="#2a2030"/>
<circle cx="95.4" cy="103.3" r="1.0" fill="#44a83c"/>
<circle cx="117.1" cy="102.8" r="0.7" fill="#b89a28"/>
<circle cx="63.9" cy="127.4" r="1.3" fill="#6c8898"/>
<circle cx="139.0" cy="84.2" r="0.8" fill="#b89a28"/>
<circle cx="154.6" cy="135.7" r="0.7" fill="#202030"/>
<circle cx="157.4" cy="139.9" r="1.3" fill="#3434cc"/>
<circle cx="93.6" cy="91.6" r="1.4" fill="#521a5c"/>
<circle cx="219.0" cy="139.5" r="0.9" fill="#2a2030"/>
<circle cx="90.0" cy="149.3" r="1.0" fill="#3434cc"/>
<circle cx="95.5" cy="137.7" r="1.2" fill="#3434cc"/>
<circle cx="139.0" cy="74.8" r="1.0" fill="#b89a28"/>
<circle cx="241.1" cy="128.0" r="1.0" fill="#202030"/>
<circle cx="103.5" cy="85.7" r="0.9" fill="#b89a28"/>
<circle cx="216.6" cy="147.6" r="1.0" fill="#141460"/>
<circle cx="61.7" cy="100.2" r="1.2" fill="#521a5c"/>
<circle cx="199.7" cy="171.3" r="1.0" fill="#d02424"/>
<circle cx="145.5" cy="157.3" r="0.8" fill="#2a2030"/>
<circle cx="214.5" cy="95.2" r="1.4" fill="#7c7cc4"/>
<circle cx="259.4" cy="109.8" r="1.5" fill="#d09848"/>
<circle cx="247.5" cy="64.7" r="1.3" fill="#7474c0"/>
<circle cx="159.7" cy="168.1" r="1.0" fill="#d02424"/>
<circle cx="248.5" cy="96.2" r="1.2" fill="#7474c0"/>
<circle cx="101.2" cy="112.7" r="0.7" fill="#3a3a20"/>
<circle cx="244.6" cy="105.8" r="1.2" fill="#7474c0"/>
<circle cx="245.5" cy="91.6" r="1.4" fill="#7c7cc4"/>
<circle cx="73.0" cy="150.7" r="1.5" fill="#6c8898"/>
<circle cx="242.3" cy="137.6" r="1.0" fill="#d09848"/>
<circle cx="99.6" cy="90.9" r="1.1" fill="#6a2a70"/>
<circle cx="232.0" cy="62.0" r="0.9" fill="#2a2030"/>
<circle cx="220.9" cy="138.1" r="1.3" fill="#d09848"/>
<circle cx="230.3" cy="85.3" r="1.1" fill="#7c7cc4"/>
<circle cx="42.3" cy="120.1" r="1.1" fill="#eab0ea"/>
<circle cx="55.5" cy="140.9" r="1.0" fill="#b8d4f4"/>
<circle cx="113.9" cy="109.5" r="1.1" fill="#44a83c"/>
<circle cx="86.7" cy="76.9" r="1.1" fill="#521a5c"/>
<circle cx="187.7" cy="110.2" r="0.9" fill="#a88838"/>
<circle cx="159.3" cy="152.5" r="1.3" fill="#d02424"/>
<circle cx="104.1" cy="99.3" r="1.1" fill="#44a83c"/>
<circle cx="247.2" cy="143.0" r="1.4" fill="#d09848"/>
<circle cx="41.8" cy="96.1" r="1.2" fill="#521a5c"/>
<circle cx="171.6" cy="129.3" r="1.1" fill="#202030"/>
<circle cx="56.4" cy="100.7" r="1.4" fill="#eab0ea"/>
<circle cx="57.0" cy="152.5" r="1.4" fill="#b8d4f4"/>
<circle cx="256.8" cy="113.6" r="1.3" fill="#d09848"/>
<circle cx="239.9" cy="82.5" r="1.1" fill="#7c7cc4"/>
<circle cx="177.7" cy="159.6" r="1.1" fill="#d02424"/>
<circle cx="189.7" cy="78.2" r="0.9" fill="#3a3a20"/>
<circle cx="211.1" cy="91.6" r="1.3" fill="#7c7cc4"/>
<circle cx="212.0" cy="140.1" r="1.1" fill="#141460"/>
<circle cx="51.6" cy="154.8" r="1.1" fill="#b8d4f4"/>
<circle cx="101.4" cy="113.9" r="0.8" fill="#402840"/>
<circle cx="101.9" cy="96.1" r="0.8" fill="#202030"/>
<circle cx="216.9" cy="88.5" r="0.9" fill="#a88838"/>
<circle cx="127.4" cy="84.7" r="1.1" fill="#202030"/>
<circle cx="155.9" cy="79.6" r="0.7" fill="#b89a28"/>
<circle cx="75.3" cy="140.0" r="1.1" fill="#6c8898"/>
<circle cx="156.7" cy="86.0" r="0.8" fill="#b89a28"/>
<circle cx="134.9" cy="184.1" r="1.3" fill="#d838d8"/>
<circle cx="42.7" cy="83.9" r="1.2" fill="#521a5c"/>
<circle cx="153.8" cy="184.9" r="1.1" fill="#d838d8"/>
<circle cx="158.6" cy="168.2" r="0.6" fill="#30284a"/>
<circle cx="222.1" cy="152.9" r="1.0" fill="#141460"/>
<circle cx="140.3" cy="128.7" r="1.2" fill="#44a83c"/>
<circle cx="55.5" cy="84.2" r="1.6" fill="#521a5c"/>
<circle cx="248.4" cy="59.2" r="1.3" fill="#7474c0"/>
<circle cx="158.9" cy="149.6" r="1.0" fill="#3434cc"/>
<circle cx="53.7" cy="87.6" r="1.3" fill="#521a5c"/>
<circle cx="250.3" cy="150.3" r="1.4" fill="#d09848"/>
<circle cx="124.9" cy="93.7" r="0.7" fill="#402840"/>
<circle cx="245.9" cy="87.7" r="1.4" fill="#7474c0"/>
<circle cx="161.0" cy="174.8" r="1.2" fill="#d838d8"/>
<circle cx="161.0" cy="71.8" r="0.8" fill="#b89a28"/>
<circle cx="255.9" cy="75.7" r="1.4" fill="#7474c0"/>
<circle cx="196.8" cy="168.5" r="1.2" fill="#d02424"/>
<circle cx="170.1" cy="133.4" r="1.0" fill="#44a83c"/>
<circle cx="73.6" cy="85.7" r="1.1" fill="#521a5c"/>
<circle cx="129.2" cy="117.5" r="1.1" fill="#44a83c"/>
<circle cx="159.0" cy="92.6" r="0.9" fill="#a88838"/>
<circle cx="201.6" cy="164.4" r="1.2" fill="#d02424"/>
<circle cx="203.5" cy="164.6" r="1.3" fill="#d09848"/>
<circle cx="90.0" cy="150.2" r="1.3" fill="#6c8898"/>
<circle cx="240.1" cy="89.9" r="1.5" fill="#7474c0"/>
<circle cx="102.6" cy="90.4" r="1.6" fill="#521a5c"/>
<circle cx="242.7" cy="124.6" r="1.1" fill="#d09848"/>
<circle cx="58.6" cy="85.5" r="1.4" fill="#521a5c"/>
<circle cx="69.1" cy="141.3" r="1.4" fill="#6c8898"/>
<circle cx="181.8" cy="95.5" r="1.0" fill="#a88838"/>
<circle cx="173.5" cy="88.9" r="0.9" fill="#202030"/>
<circle cx="109.7" cy="137.1" r="1.2" fill="#3434cc"/>
<circle cx="62.7" cy="153.7" r="1.2" fill="#6c8898"/>
<circle cx="220.1" cy="109.5" r="1.0" fill="#141460"/>
<circle cx="190.8" cy="168.1" r="1.0" fill="#d02424"/>
<circle cx="246.1" cy="117.7" r="0.8" fill="#2a2030"/>
<circle cx="131.9" cy="177.4" r="0.8" fill="#3a3a20"/>
<circle cx="61.9" cy="127.5" r="0.7" fill="#202030"/>
<circle cx="108.5" cy="81.9" r="1.1" fill="#6a2a70"/>
<circle cx="254.3" cy="91.2" r="1.2" fill="#7474c0"/>
<circle cx="186.9" cy="89.8" r="0.9" fill="#a88838"/>
<circle cx="166.1" cy="78.7" r="0.7" fill="#b89a28"/>
<circle cx="104.7" cy="115.1" r="0.6" fill="#2a2030"/>
<circle cx="116.9" cy="110.1" r="0.8" fill="#2a2030"/>
<circle cx="256.9" cy="76.5" r="0.9" fill="#402840"/>
<circle cx="47.5" cy="90.8" r="1.4" fill="#521a5c"/>
<circle cx="224.5" cy="149.8" r="0.9" fill="#141460"/>
<circle cx="91.9" cy="102.0" r="1.1" fill="#44a83c"/>
<circle cx="180.3" cy="190.0" r="1.2" fill="#d838d8"/>
<circle cx="180.6" cy="136.9" r="0.7" fill="#30284a"/>
<circle cx="61.2" cy="83.6" r="1.1" fill="#521a5c"/>
<circle cx="122.9" cy="115.7" r="1.0" fill="#44a83c"/>
<circle cx="107.9" cy="150.2" r="1.1" fill="#3434cc"/>
<circle cx="126.1" cy="111.8" r="1.0" fill="#44a83c"/>
<circle cx="141.9" cy="118.1" r="1.0" fill="#44a83c"/>
<circle cx="242.5" cy="128.0" r="1.5" fill="#d09848"/>
<circle cx="241.4" cy="78.6" r="1.4" fill="#7c7cc4"/>
<circle cx="238.4" cy="60.2" r="0.9" fill="#30284a"/>
<circle cx="211.5" cy="170.1" r="1.1" fill="#d838d8"/>
<circle cx="231.9" cy="63.3" r="0.8" fill="#3a3a20"/>
<circle cx="250.5" cy="136.3" r="0.9" fill="#202030"/>
<circle cx="92.5" cy="98.7" r="0.8" fill="#b89a28"/>
<circle cx="46.9" cy="152.9" r="1.4" fill="#b8d4f4"/>
<circle cx="195.3" cy="116.1" r="0.8" fill="#202030"/>
<circle cx="133.7" cy="127.2" r="0.9" fill="#2a2030"/>
<circle cx="207.5" cy="179.1" r="1.1" fill="#d838d8"/>
<circle cx="146.7" cy="179.7" r="1.2" fill="#d838d8"/>
<circle cx="80.6" cy="132.1" r="1.2" fill="#6c8898"/>
<circle cx="252.0" cy="100.3" r="0.9" fill="#141460"/>
<circle cx="204.5" cy="109.0" r="0.7" fill="#30284a"/>
<circle cx="208.2" cy="186.2" r="1.3" fill="#d838d8"/>
<circle cx="221.5" cy="150.0" r="0.6" fill="#30284a"/>
<circle cx="75.9" cy="85.1" r="1.3" fill="#521a5c"/>
<circle cx="73.8" cy="166.6" r="1.2" fill="#6c8898"/>
<circle cx="40.0" cy="148.0" r="1.4" fill="#b8d4f4"/>
<circle cx="211.1" cy="101.4" r="0.6" fill="#2a2030"/>
<circle cx="223.7" cy="140.7" r="0.9" fill="#141460"/>
<circle cx="158.8" cy="88.8" r="0.8" fill="#a88838"/>
<circle cx="108.2" cy="77.4" r="0.8" fill="#b89a28"/>
<circle cx="112.3" cy="141.9" r="0.9" fill="#2a2030"/>
<circle cx="60.8" cy="137.1" r="1.1" fill="#6c8898"/>
<circle cx="247.7" cy="57.8" r="0.7" fill="#402840"/>
<circle cx="192.7" cy="137.9" r="0.9" fill="#2a2030"/>
<circle cx="127.1" cy="78.6" r="0.9" fill="#b89a28"/>
<circle cx="174.5" cy="166.3" r="1.2" fill="#d02424"/>
<circle cx="115.6" cy="89.2" r="1.0" fill="#b89a28"/>
<circle cx="50.4" cy="99.4" r="1.1" fill="#eab0ea"/>
<circle cx="236.7" cy="129.9" r="0.9" fill="#141460"/>
<circle cx="249.9" cy="98.1" r="1.0" fill="#7c7cc4"/>
<circle cx="79.2" cy="76.0" r="1.1" fill="#521a5c"/>
<circle cx="39.9" cy="98.0" r="1.2" fill="#521a5c"/>
<circle cx="205.0" cy="188.7" r="0.9" fill="#402840"/>
<circle cx="241.7" cy="131.3" r="1.1" fill="#141460"/>
<circle cx="115.5" cy="85.0" r="1.0" fill="#b89a28"/>
<circle cx="72.3" cy="145.7" r="1.5" fill="#6c8898"/>
<circle cx="257.2" cy="96.1" r="1.1" fill="#7474c0"/>
<circle cx="67.9" cy="139.0" r="1.5" fill="#6c8898"/>
<circle cx="31.5" cy="118.6" r="1.1" fill="#eab0ea"/>
<circle cx="246.2" cy="82.4" r="1.4" fill="#7474c0"/>
<circle cx="42.4" cy="98.6" r="1.1" fill="#eab0ea"/>
<circle cx="245.7" cy="107.5" r="1.3" fill="#d09848"/>
<circle cx="239.5" cy="154.3" r="0.9" fill="#402840"/>
<circle cx="188.0" cy="183.8" r="1.3" fill="#d838d8"/>
<circle cx="46.5" cy="143.4" r="1.1" fill="#b8d4f4"/>
<circle cx="130.1" cy="114.2" r="1.0" fill="#44a83c"/>
<circle cx="245.5" cy="63.3" r="1.4" fill="#7474c0"/>
<circle cx="151.2" cy="115.0" r="1.0" fill="#44a83c"/>
<circle cx="83.5" cy="91.1" r="1.4" fill="#521a5c"/>
<circle cx="220.2" cy="124.1" r="1.2" fill="#141460"/>
<circle cx="257.5" cy="112.5" r="1.5" fill="#d09848"/>
<circle cx="245.9" cy="61.8" r="1.1" fill="#7474c0"/>
<circle cx="261.2" cy="125.4" r="1.3" fill="#d09848"/>
<circle cx="215.6" cy="121.7" r="1.3" fill="#141460"/>
<circle cx="238.1" cy="155.8" r="0.6" fill="#2a2030"/>
<circle cx="202.6" cy="180.5" r="1.3" fill="#d838d8"/>
<circle cx="168.4" cy="155.9" r="1.3" fill="#d02424"/>
<circle cx="121.3" cy="105.8" r="1.2" fill="#44a83c"/>
<circle cx="246.2" cy="131.6" r="1.2" fill="#d09848"/>
<circle cx="161.1" cy="127.8" r="1.0" fill="#202030"/>
<circle cx="205.1" cy="106.7" r="0.9" fill="#2a2030"/>
<circle cx="107.3" cy="133.8" r="0.6" fill="#2a2030"/>
<circle cx="220.5" cy="164.9" r="1.3" fill="#d09848"/>
<circle cx="147.2" cy="152.1" r="1.1" fill="#3434cc"/>
<circle cx="241.9" cy="98.5" r="1.4" fill="#7474c0"/>
<circle cx="146.7" cy="96.1" r="0.8" fill="#b89a28"/>
<circle cx="118.3" cy="107.6" r="1.3" fill="#44a83c"/>
<circle cx="243.2" cy="52.7" r="1.1" fill="#7474c0"/>
<circle cx="180.9" cy="92.4" r="0.8" fill="#a88838"/>
<circle cx="209.4" cy="178.8" r="1.2" fill="#d838d8"/>
<circle cx="127.8" cy="82.6" r="0.9" fill="#b89a28"/>
<circle cx="126.9" cy="141.7" r="1.2" fill="#3434cc"/>
<circle cx="85.9" cy="84.0" r="1.3" fill="#521a5c"/>
<circle cx="86.6" cy="87.0" r="1.5" fill="#521a5c"/>
<circle cx="159.4" cy="144.8" r="0.8" fill="#30284a"/>
<circle cx="220.5" cy="138.0" r="0.8" fill="#30284a"/>
<circle cx="106.9" cy="86.7" r="0.8" fill="#2a2030"/>
<circle cx="240.8" cy="72.0" r="1.4" fill="#7474c0"/>
<circle cx="149.3" cy="109.7" r="0.9" fill="#a88838"/>
<circle cx="78.4" cy="135.7" r="1.3" fill="#3434cc"/>
<circle cx="211.3" cy="159.2" r="0.7" fill="#2a2030"/>
<circle cx="178.1" cy="95.6" r="0.8" fill="#a88838"/>
<circle cx="169.6" cy="141.9" r="0.8" fill="#202030"/>
<circle cx="254.6" cy="75.2" r="1.3" fill="#7474c0"/>
<circle cx="235.4" cy="87.7" r="1.6" fill="#7474c0"/>
<circle cx="232.3" cy="140.3" r="1.1" fill="#d09848"/>
<circle cx="228.4" cy="58.2" r="0.8" fill="#30284a"/>
<circle cx="164.4" cy="86.9" r="0.7" fill="#a88838"/>
<circle cx="196.1" cy="108.1" r="1.1" fill="#141460"/>
<circle cx="123.1" cy="84.5" r="0.9" fill="#2a2030"/>
<circle cx="147.8" cy="141.4" r="0.8" fill="#30284a"/>
<circle cx="67.1" cy="128.5" r="1.0" fill="#6c8898"/>
<circle cx="150.1" cy="187.8" r="1.2" fill="#d838d8"/>
<circle cx="145.0" cy="179.3" r="1.3" fill="#d838d8"/>
<circle cx="183.8" cy="96.4" r="0.7" fill="#a88838"/>
<circle cx="55.1" cy="80.1" r="1.5" fill="#521a5c"/>
<circle cx="168.0" cy="187.0" r="1.3" fill="#d838d8"/>
<circle cx="39.2" cy="118.5" r="1.0" fill="#eab0ea"/>
<circle cx="113.6" cy="88.2" r="1.1" fill="#202030"/>
<circle cx="159.2" cy="163.6" r="1.3" fill="#d02424"/>
<circle cx="214.6" cy="175.5" r="1.2" fill="#d838d8"/>
<circle cx="139.4" cy="174.7" r="1.4" fill="#d838d8"/>
<circle cx="211.9" cy="105.5" r="1.2" fill="#7c7cc4"/>
<circle cx="241.3" cy="129.0" r="1.4" fill="#d09848"/>
<circle cx="251.5" cy="117.7" r="1.2" fill="#d09848"/>
<circle cx="119.7" cy="121.7" r="1.0" fill="#3434cc"/>
<circle cx="214.8" cy="163.1" r="0.9" fill="#30284a"/>
<circle cx="245.7" cy="154.6" r="1.3" fill="#141460"/>
<circle cx="52.8" cy="150.1" r="1.5" fill="#b8d4f4"/>
<circle cx="204.4" cy="111.8" r="0.7" fill="#30284a"/>
<circle cx="210.5" cy="92.3" r="0.9" fill="#3a3a20"/>
<circle cx="195.1" cy="90.2" r="0.9" fill="#a88838"/>
<circle cx="175.5" cy="85.6" r="0.9" fill="#a88838"/>
<circle cx="188.1" cy="157.9" r="0.9" fill="#30284a"/>
<circle cx="213.4" cy="182.8" r="1.3" fill="#d838d8"/>
<circle cx="198.8" cy="180.1" r="1.2" fill="#d838d8"/>
<circle cx="92.5" cy="91.3" r="1.1" fill="#521a5c"/>
<circle cx="174.5" cy="180.7" r="1.1" fill="#d838d8"/>
<circle cx="174.9" cy="166.3" r="1.0" fill="#d02424"/>
<circle cx="192.9" cy="191.0" r="1.3" fill="#d838d8"/>
<circle cx="112.0" cy="95.0" r="0.9" fill="#b89a28"/>
<circle cx="189.8" cy="187.6" r="1.1" fill="#d838d8"/>
<circle cx="179.7" cy="162.7" r="1.2" fill="#d02424"/>
<circle cx="141.5" cy="151.1" r="1.0" fill="#3434cc"/>
<circle cx="41.8" cy="104.6" r="1.5" fill="#521a5c"/>
<circle cx="204.5" cy="180.1" r="1.2" fill="#d838d8"/>
<circle cx="153.1" cy="89.6" r="0.7" fill="#a88838"/>
<circle cx="176.9" cy="111.9" r="1.3" fill="#44a83c"/>
<circle cx="248.7" cy="79.1" r="0.7" fill="#402840"/>
<circle cx="40.6" cy="93.6" r="1.3" fill="#521a5c"/>
<circle cx="70.3" cy="146.2" r="1.4" fill="#b8d4f4"/>
<circle cx="142.1" cy="86.1" r="1.0" fill="#b89a28"/>
<circle cx="217.6" cy="138.6" r="0.9" fill="#141460"/>
<circle cx="80.4" cy="148.3" r="1.5" fill="#6c8898"/>
<circle cx="72.5" cy="91.4" r="1.1" fill="#521a5c"/>
<circle cx="140.0" cy="114.9" r="0.9" fill="#44a83c"/>
<circle cx="49.3" cy="103.7" r="1.3" fill="#eab0ea"/>
<circle cx="74.0" cy="98.2" r="1.5" fill="#521a5c"/>
<circle cx="222.1" cy="85.9" r="1.3" fill="#7c7cc4"/>
<circle cx="46.4" cy="133.8" r="1.3" fill="#6c8898"/>
<circle cx="254.0" cy="119.6" r="1.0" fill="#d09848"/>
<circle cx="31.7" cy="106.2" r="1.2" fill="#eab0ea"/>
<circle cx="229.2" cy="93.9" r="1.5" fill="#7c7cc4"/>
<circle cx="205.4" cy="105.8" r="0.7" fill="#a88838"/>
<circle cx="90.6" cy="129.0" r="1.2" fill="#3434cc"/>
<circle cx="148.5" cy="93.7" r="0.7" fill="#30284a"/>
<circle cx="153.0" cy="181.1" r="1.1" fill="#d838d8"/>
<circle cx="191.2" cy="189.6" r="1.1" fill="#d838d8"/>
<circle cx="258.7" cy="111.2" r="1.5" fill="#d09848"/>
<circle cx="87.9" cy="87.9" r="0.9" fill="#b89a28"/>
<circle cx="100.2" cy="141.7" r="1.1" fill="#6c8898"/>
<circle cx="248.9" cy="67.8" r="1.3" fill="#7474c0"/>
<circle cx="164.6" cy="154.2" r="1.0" fill="#d02424"/>
<circle cx="70.0" cy="76.8" r="1.4" fill="#521a5c"/>
<circle cx="239.1" cy="126.6" r="0.7" fill="#3a3a20"/>
<circle cx="52.5" cy="97.0" r="1.3" fill="#521a5c"/>
<circle cx="179.7" cy="105.7" r="1.3" fill="#44a83c"/>
<circle cx="151.5" cy="99.7" r="0.7" fill="#402840"/>
<circle cx="228.1" cy="124.7" r="0.7" fill="#30284a"/>
<circle cx="103.0" cy="93.7" r="1.0" fill="#b89a28"/>
<circle cx="60.3" cy="88.9" r="1.4" fill="#521a5c"/>
<circle cx="230.5" cy="127.9" r="0.7" fill="#402840"/>
<circle cx="241.6" cy="116.0" r="1.5" fill="#7474c0"/>
<circle cx="226.5" cy="134.2" r="1.3" fill="#141460"/>
<circle cx="203.1" cy="92.0" r="0.8" fill="#402840"/>
<circle cx="208.2" cy="62.9" r="0.9" fill="#30284a"/>
<circle cx="110.1" cy="128.6" r="1.0" fill="#3434cc"/>
<circle cx="123.0" cy="149.5" r="0.9" fill="#30284a"/>
<circle cx="158.7" cy="193.9" r="0.8" fill="#30284a"/>
<circle cx="94.4" cy="90.7" r="1.2" fill="#521a5c"/>
<circle cx="154.9" cy="169.1" r="1.1" fill="#d838d8"/>
<circle cx="159.7" cy="173.6" r="0.8" fill="#2a2030"/>
<circle cx="141.4" cy="170.0" r="1.2" fill="#d838d8"/>
<circle cx="230.8" cy="88.6" r="1.2" fill="#202030"/>
<circle cx="36.1" cy="121.2" r="1.0" fill="#eab0ea"/>
<circle cx="253.2" cy="123.9" r="1.4" fill="#d09848"/>
<circle cx="80.1" cy="84.7" r="1.6" fill="#521a5c"/>
<circle cx="236.0" cy="162.1" r="0.9" fill="#2a2030"/>
<circle cx="233.6" cy="103.7" r="1.4" fill="#7c7cc4"/>
<circle cx="98.6" cy="88.2" r="1.1" fill="#6a2a70"/>
<circle cx="163.4" cy="103.7" r="0.8" fill="#a88838"/>
<circle cx="157.6" cy="160.2" r="0.7" fill="#2a2030"/>
<circle cx="221.9" cy="108.4" r="1.2" fill="#7c7cc4"/>
<circle cx="103.8" cy="136.6" r="1.0" fill="#3434cc"/>
<circle cx="167.9" cy="123.1" r="1.0" fill="#44a83c"/>
<circle cx="164.7" cy="180.0" r="1.2" fill="#d838d8"/>
<circle cx="73.1" cy="87.3" r="1.6" fill="#521a5c"/>
<circle cx="68.0" cy="144.7" r="1.3" fill="#b8d4f4"/>
<circle cx="100.3" cy="76.0" r="0.8" fill="#b89a28"/>
<circle cx="60.9" cy="128.6" r="1.2" fill="#6c8898"/>
<circle cx="160.3" cy="68.6" r="0.8" fill="#b89a28"/>
<circle cx="138.5" cy="180.6" r="0.6" fill="#2a2030"/>
<circle cx="230.3" cy="104.0" r="1.4" fill="#7c7cc4"/>
<circle cx="67.4" cy="88.9" r="1.5" fill="#521a5c"/>
<circle cx="49.8" cy="106.8" r="1.2" fill="#eab0ea"/>
<circle cx="188.7" cy="128.9" r="0.6" fill="#402840"/>
<circle cx="85.2" cy="133.4" r="1.2" fill="#6c8898"/>
<circle cx="178.3" cy="104.4" r="0.9" fill="#a88838"/>
<circle cx="119.2" cy="175.6" r="1.2" fill="#d838d8"/>
<circle cx="248.0" cy="79.7" r="1.6" fill="#7474c0"/>
<circle cx="60.5" cy="105.8" r="1.4" fill="#eab0ea"/>
<circle cx="205.5" cy="90.7" r="0.7" fill="#a88838"/>
<circle cx="203.6" cy="158.6" r="0.8" fill="#2a2030"/>
<circle cx="182.0" cy="99.3" r="1.1" fill="#202030"/>
<circle cx="158.0" cy="160.5" r="1.1" fill="#3434cc"/>
<circle cx="133.9" cy="178.6" r="1.1" fill="#d838d8"/>
<circle cx="190.6" cy="127.4" r="1.2" fill="#141460"/>
<circle cx="218.8" cy="132.3" r="1.1" fill="#141460"/>
<circle cx="252.6" cy="117.7" r="1.4" fill="#d09848"/>
<circle cx="260.3" cy="89.5" r="1.1" fill="#7474c0"/>
<circle cx="214.5" cy="78.6" r="0.8" fill="#a88838"/>
<circle cx="86.1" cy="148.9" r="1.5" fill="#6c8898"/>
<circle cx="76.2" cy="136.9" r="1.3" fill="#6c8898"/>
<circle cx="117.9" cy="178.9" r="1.4" fill="#d838d8"/>
<circle cx="110.6" cy="119.2" r="1.2" fill="#3434cc"/>
<circle cx="258.3" cy="70.6" r="1.2" fill="#7474c0"/>
<circle cx="110.5" cy="110.0" r="0.7" fill="#b89a28"/>
<circle cx="116.1" cy="124.8" r="0.9" fill="#44a83c"/>
<circle cx="36.0" cy="109.4" r="1.3" fill="#eab0ea"/>
<circle cx="147.4" cy="96.6" r="1.0" fill="#a88838"/>
<circle cx="117.4" cy="159.9" r="0.9" fill="#402840"/>
<circle cx="109.9" cy="152.2" r="1.0" fill="#3434cc"/>
<circle cx="182.0" cy="150.6" r="0.9" fill="#30284a"/>
<circle cx="182.7" cy="79.4" r="0.8" fill="#a88838"/>
<circle cx="244.6" cy="147.7" r="1.1" fill="#d09848"/>
<circle cx="137.1" cy="98.1" r="0.9" fill="#2a2030"/>
<circle cx="113.1" cy="152.4" r="0.9" fill="#402840"/>
<circle cx="94.0" cy="139.7" r="1.2" fill="#6c8898"/>
<circle cx="182.9" cy="187.3" r="1.0" fill="#d838d8"/>
<circle cx="151.9" cy="73.7" r="0.7" fill="#b89a28"/>
<circle cx="251.8" cy="124.8" r="1.3" fill="#d09848"/>
<circle cx="185.5" cy="172.5" r="1.1" fill="#d02424"/>
<circle cx="156.9" cy="141.8" r="1.1" fill="#202030"/>
<circle cx="235.7" cy="101.3" r="1.3" fill="#7474c0"/>
<circle cx="80.7" cy="142.5" r="1.4" fill="#6c8898"/>
<circle cx="76.9" cy="93.8" r="1.2" fill="#521a5c"/>
<circle cx="221.1" cy="90.7" r="1.1" fill="#202030"/>
<circle cx="131.2" cy="74.2" r="0.7" fill="#30284a"/>
<circle cx="58.8" cy="156.6" r="1.4" fill="#b8d4f4"/>
<circle cx="122.5" cy="107.6" r="1.2" fill="#44a83c"/>
<circle cx="65.5" cy="154.2" r="1.0" fill="#b8d4f4"/>
<circle cx="249.1" cy="60.1" r="1.4" fill="#7474c0"/>
<circle cx="186.2" cy="89.9" r="0.9" fill="#b89a28"/>
<circle cx="251.1" cy="140.4" r="1.0" fill="#d09848"/>
<circle cx="200.5" cy="85.1" r="0.9" fill="#a88838"/>
<circle cx="107.0" cy="83.9" r="0.8" fill="#b89a28"/>
<circle cx="199.7" cy="131.3" r="1.2" fill="#141460"/>
<circle cx="72.0" cy="154.6" r="1.2" fill="#6c8898"/>
<circle cx="64.0" cy="78.7" r="1.1" fill="#521a5c"/>
<circle cx="45.4" cy="115.0" r="1.0" fill="#eab0ea"/>
<circle cx="157.5" cy="182.5" r="0.9" fill="#30284a"/>
<circle cx="214.4" cy="113.0" r="0.8" fill="#2a2030"/>
<circle cx="82.8" cy="157.9" r="1.0" fill="#6c8898"/>
<circle cx="245.6" cy="94.6" r="1.3" fill="#7c7cc4"/>
<circle cx="51.5" cy="149.6" r="1.1" fill="#b8d4f4"/>
<circle cx="78.9" cy="131.5" r="1.0" fill="#6c8898"/>
<circle cx="96.3" cy="140.0" r="1.5" fill="#6c8898"/>
<circle cx="199.6" cy="86.3" r="0.7" fill="#a88838"/>
<circle cx="110.3" cy="139.9" r="1.2" fill="#3434cc"/>
<circle cx="155.2" cy="184.1" r="0.7" fill="#2a2030"/>
<circle cx="220.7" cy="173.9" r="1.1" fill="#d838d8"/>
<circle cx="234.5" cy="91.1" r="1.3" fill="#7474c0"/>
<circle cx="229.1" cy="111.9" r="1.3" fill="#141460"/>
<circle cx="99.5" cy="127.2" r="1.3" fill="#44a83c"/>
<circle cx="53.8" cy="80.0" r="1.3" fill="#521a5c"/>
<circle cx="251.0" cy="85.7" r="1.1" fill="#7474c0"/>
<circle cx="77.5" cy="141.0" r="1.3" fill="#3434cc"/>
<circle cx="44.8" cy="113.9" r="1.3" fill="#eab0ea"/>
<circle cx="228.8" cy="92.4" r="1.4" fill="#7474c0"/>
<circle cx="124.1" cy="179.7" r="1.3" fill="#d838d8"/>
<circle cx="76.5" cy="95.0" r="1.4" fill="#521a5c"/>
<circle cx="253.6" cy="46.8" r="0.8" fill="#30284a"/>
<circle cx="199.7" cy="106.5" r="0.8" fill="#402840"/>
<circle cx="98.1" cy="94.6" r="1.3" fill="#6a2a70"/>
<circle cx="79.0" cy="152.2" r="1.3" fill="#6c8898"/>
<circle cx="85.0" cy="154.9" r="1.2" fill="#6c8898"/>
<circle cx="126.0" cy="156.5" r="0.6" fill="#402840"/>
<circle cx="176.9" cy="156.1" r="1.2" fill="#3434cc"/>
<circle cx="219.2" cy="153.4" r="1.2" fill="#d09848"/>
<circle cx="253.5" cy="48.8" r="1.0" fill="#7474c0"/>
<circle cx="134.2" cy="134.7" r="0.7" fill="#3a3a20"/>
<circle cx="56.2" cy="133.5" r="1.1" fill="#6c8898"/>
<circle cx="254.7" cy="64.0" r="0.7" fill="#3a3a20"/>
<circle cx="227.1" cy="88.9" r="0.7" fill="#402840"/>
<circle cx="200.5" cy="181.5" r="0.7" fill="#402840"/>
<circle cx="112.9" cy="157.2" r="1.1" fill="#3434cc"/>
<circle cx="213.5" cy="156.3" r="1.2" fill="#d09848"/>
<circle cx="103.9" cy="147.6" r="1.2" fill="#3434cc"/>
<circle cx="134.1" cy="81.4" r="0.9" fill="#b89a28"/>
<circle cx="251.1" cy="77.0" r="1.0" fill="#7474c0"/>
<circle cx="28.8" cy="102.7" r="1.2" fill="#521a5c"/>
<circle cx="110.1" cy="149.6" r="0.6" fill="#402840"/>
<circle cx="242.5" cy="95.2" r="1.5" fill="#7474c0"/>
<circle cx="162.1" cy="118.0" r="1.1" fill="#44a83c"/>
<circle cx="221.5" cy="149.2" r="1.4" fill="#d09848"/>
<circle cx="127.8" cy="102.6" r="1.2" fill="#44a83c"/>
<circle cx="242.0" cy="118.9" r="1.2" fill="#7474c0"/>
<circle cx="251.9" cy="142.9" r="1.1" fill="#141460"/>
<circle cx="259.5" cy="132.4" r="1.3" fill="#d09848"/>
<circle cx="149.2" cy="184.6" r="1.2" fill="#d838d8"/>
<circle cx="193.4" cy="134.7" r="0.8" fill="#30284a"/>
<circle cx="185.6" cy="196.6" r="1.1" fill="#d838d8"/>
<circle cx="75.4" cy="90.8" r="1.4" fill="#521a5c"/>
<circle cx="207.9" cy="182.5" r="1.1" fill="#d838d8"/>
<circle cx="213.0" cy="182.3" r="1.2" fill="#d838d8"/>
<circle cx="92.4" cy="92.7" r="1.3" fill="#521a5c"/>
<circle cx="250.6" cy="62.5" r="1.2" fill="#7474c0"/>
<circle cx="173.7" cy="97.1" r="0.9" fill="#b89a28"/>
<circle cx="152.3" cy="125.0" r="1.2" fill="#44a83c"/>
<circle cx="80.4" cy="98.9" r="1.4" fill="#521a5c"/>
<circle cx="150.7" cy="96.6" r="0.8" fill="#a88838"/>
<circle cx="197.6" cy="123.7" r="0.7" fill="#202030"/>
<circle cx="244.3" cy="46.0" r="0.8" fill="#30284a"/>
<circle cx="95.0" cy="80.8" r="0.6" fill="#3a3a20"/>
<circle cx="253.2" cy="72.4" r="1.2" fill="#7474c0"/>
<circle cx="196.4" cy="110.6" r="1.1" fill="#202030"/>
<circle cx="184.4" cy="79.6" r="1.0" fill="#a88838"/>
<circle cx="138.4" cy="113.8" r="0.8" fill="#202030"/>
<circle cx="245.0" cy="121.7" r="1.5" fill="#d09848"/>
<circle cx="116.8" cy="104.1" r="1.1" fill="#44a83c"/>
<circle cx="157.1" cy="126.2" r="0.6" fill="#2a2030"/>
<circle cx="264.6" cy="66.7" r="0.9" fill="#30284a"/>
<circle cx="160.4" cy="188.0" r="1.3" fill="#d838d8"/>
<circle cx="195.6" cy="165.2" r="1.3" fill="#d02424"/>
<circle cx="55.4" cy="141.6" r="1.2" fill="#6c8898"/>
<circle cx="201.5" cy="180.2" r="0.8" fill="#30284a"/>
<circle cx="149.7" cy="114.2" r="0.9" fill="#30284a"/>
<circle cx="143.0" cy="114.9" r="0.9" fill="#44a83c"/>
<circle cx="262.7" cy="123.6" r="0.8" fill="#3a3a20"/>
<circle cx="134.9" cy="96.8" r="0.7" fill="#30284a"/>
<circle cx="222.9" cy="144.3" r="1.2" fill="#d09848"/>
<circle cx="215.1" cy="154.1" r="1.2" fill="#141460"/>
<circle cx="115.4" cy="82.7" r="0.9" fill="#b89a28"/>
<circle cx="107.9" cy="79.4" r="1.6" fill="#521a5c"/>
<circle cx="83.8" cy="138.7" r="1.3" fill="#6c8898"/>
<circle cx="251.0" cy="127.6" r="1.1" fill="#d09848"/>
<circle cx="59.1" cy="84.9" r="1.5" fill="#521a5c"/>
<circle cx="255.4" cy="136.4" r="1.4" fill="#d09848"/>
<circle cx="193.5" cy="182.5" r="1.0" fill="#d838d8"/>
<circle cx="158.0" cy="152.1" r="0.9" fill="#d02424"/>
<circle cx="150.1" cy="152.8" r="0.6" fill="#3a3a20"/>
<circle cx="173.9" cy="89.4" r="0.8" fill="#a88838"/>
<circle cx="213.0" cy="164.3" r="0.7" fill="#3a3a20"/>
<circle cx="216.5" cy="138.4" r="0.8" fill="#30284a"/>
<circle cx="89.0" cy="102.5" r="1.4" fill="#521a5c"/>
<circle cx="236.6" cy="82.7" r="1.0" fill="#7474c0"/>
<circle cx="129.4" cy="87.2" r="0.9" fill="#b89a28"/>
<circle cx="222.0" cy="112.7" r="1.1" fill="#7c7cc4"/>
<circle cx="32.7" cy="108.5" r="1.0" fill="#eab0ea"/>
<circle cx="255.2" cy="123.3" r="1.3" fill="#d09848"/>
<circle cx="246.9" cy="90.2" r="1.3" fill="#7474c0"/>
<circle cx="147.4" cy="93.0" r="0.8" fill="#a88838"/>
<circle cx="201.1" cy="180.6" r="1.1" fill="#d838d8"/>
<circle cx="264.6" cy="62.5" r="1.2" fill="#7474c0"/>
<circle cx="181.5" cy="121.5" r="1.1" fill="#44a83c"/>
<circle cx="199.8" cy="82.5" r="0.7" fill="#a88838"/>
<circle cx="225.9" cy="89.8" r="1.5" fill="#7c7cc4"/>
<circle cx="221.7" cy="143.7" r="0.9" fill="#202030"/>
<circle cx="144.9" cy="71.0" r="0.8" fill="#b89a28"/>
<circle cx="233.9" cy="106.3" r="1.1" fill="#7474c0"/>
<circle cx="258.6" cy="55.5" r="1.2" fill="#7474c0"/>
<circle cx="264.0" cy="112.8" r="0.8" fill="#402840"/>
<circle cx="209.5" cy="180.6" r="1.3" fill="#d838d8"/>
<circle cx="71.3" cy="138.0" r="1.1" fill="#b8d4f4"/>
<circle cx="63.9" cy="85.1" r="1.2" fill="#521a5c"/>
<circle cx="137.5" cy="85.3" r="0.7" fill="#402840"/>
<circle cx="236.5" cy="134.2" r="1.0" fill="#d09848"/>
<circle cx="179.0" cy="83.9" r="0.9" fill="#a88838"/>
<circle cx="38.4" cy="119.5" r="1.1" fill="#eab0ea"/>
<circle cx="223.9" cy="54.3" r="0.9" fill="#402840"/>
<circle cx="169.3" cy="176.8" r="1.1" fill="#d838d8"/>
<circle cx="139.0" cy="129.8" r="0.9" fill="#3434cc"/>
<circle cx="253.7" cy="63.5" r="1.1" fill="#7474c0"/>
<circle cx="57.9" cy="82.3" r="1.3" fill="#521a5c"/>
<circle cx="194.3" cy="101.3" r="0.8" fill="#a88838"/>
<circle cx="234.9" cy="72.1" r="1.1" fill="#7474c0"/>
<circle cx="124.3" cy="127.0" r="0.8" fill="#3a3a20"/>
<circle cx="89.4" cy="107.8" r="1.2" fill="#44a83c"/>
<circle cx="171.8" cy="149.3" r="1.2" fill="#d02424"/>
<circle cx="193.8" cy="183.0" r="1.3" fill="#d838d8"/>
<circle cx="237.9" cy="122.1" r="1.4" fill="#d09848"/>
<circle cx="71.4" cy="122.8" r="1.4" fill="#6c8898"/>
<circle cx="77.1" cy="147.5" r="1.1" fill="#b8d4f4"/>
<circle cx="206.4" cy="181.4" r="1.2" fill="#d838d8"/>
<circle cx="124.5" cy="78.1" r="0.8" fill="#b89a28"/>
<circle cx="197.2" cy="185.1" r="1.2" fill="#d838d8"/>
<circle cx="137.8" cy="130.4" r="0.9" fill="#3434cc"/>
<circle cx="243.1" cy="91.5" r="1.2" fill="#7c7cc4"/>
<circle cx="31.6" cy="101.0" r="1.2" fill="#eab0ea"/>
<circle cx="97.9" cy="86.5" r="1.2" fill="#6a2a70"/>
<circle cx="261.8" cy="94.1" r="1.2" fill="#7474c0"/>
<circle cx="64.2" cy="76.5" r="1.3" fill="#521a5c"/>
<circle cx="192.2" cy="183.4" r="1.4" fill="#d838d8"/>
<circle cx="103.2" cy="135.8" r="1.1" fill="#3434cc"/>
<circle cx="99.8" cy="84.0" r="1.1" fill="#6a2a70"/>
<circle cx="150.1" cy="81.7" r="0.9" fill="#3a3a20"/>
<circle cx="179.6" cy="163.8" r="0.7" fill="#402840"/>
<circle cx="179.5" cy="85.7" r="0.8" fill="#b89a28"/>
<circle cx="76.8" cy="143.9" r="1.2" fill="#6c8898"/>
<circle cx="204.0" cy="186.8" r="1.1" fill="#d838d8"/>
<circle cx="246.2" cy="84.0" r="1.0" fill="#7474c0"/>
<circle cx="246.4" cy="145.6" r="1.2" fill="#d09848"/>
<circle cx="71.7" cy="75.8" r="1.5" fill="#521a5c"/>
<circle cx="175.3" cy="183.9" r="1.0" fill="#d838d8"/>
<circle cx="138.6" cy="74.9" r="0.7" fill="#2a2030"/>
<circle cx="182.3" cy="194.5" r="1.3" fill="#d838d8"/>
<circle cx="63.4" cy="95.4" r="1.6" fill="#521a5c"/>
<circle cx="77.6" cy="90.8" r="1.5" fill="#521a5c"/>
<circle cx="137.2" cy="121.1" r="1.3" fill="#44a83c"/>
<circle cx="168.7" cy="80.6" r="0.9" fill="#b89a28"/>
<circle cx="160.9" cy="72.6" r="0.9" fill="#b89a28"/>
<circle cx="186.9" cy="77.8" r="0.6" fill="#3a3a20"/>
<circle cx="222.4" cy="57.3" r="0.9" fill="#3a3a20"/>
<circle cx="124.6" cy="106.0" r="0.9" fill="#44a83c"/>
<circle cx="153.1" cy="131.4" r="0.8" fill="#30284a"/>
<circle cx="146.0" cy="131.1" r="0.9" fill="#3a3a20"/>
<circle cx="247.2" cy="92.9" r="1.2" fill="#7c7cc4"/>
<circle cx="242.3" cy="129.2" r="1.1" fill="#d09848"/>
<circle cx="173.8" cy="95.0" r="1.0" fill="#a88838"/>
<circle cx="234.1" cy="82.3" r="0.9" fill="#2a2030"/>
<circle cx="63.8" cy="133.8" r="1.2" fill="#6c8898"/>
<circle cx="51.4" cy="105.2" r="1.3" fill="#eab0ea"/>
<circle cx="156.9" cy="98.1" r="0.7" fill="#a88838"/>
<circle cx="96.2" cy="89.2" r="1.2" fill="#6a2a70"/>
<circle cx="217.5" cy="146.5" r="1.1" fill="#141460"/>
<circle cx="198.6" cy="186.0" r="0.6" fill="#402840"/>
<circle cx="260.2" cy="88.7" r="0.9" fill="#30284a"/>
<circle cx="260.9" cy="138.3" r="0.8" fill="#30284a"/>
<circle cx="97.9" cy="108.2" r="0.8" fill="#b89a28"/>
<circle cx="119.7" cy="74.8" r="0.7" fill="#2a2030"/>
<circle cx="195.8" cy="183.1" r="1.3" fill="#d838d8"/>
<circle cx="236.3" cy="45.2" r="0.6" fill="#402840"/>
<circle cx="208.3" cy="166.2" r="1.1" fill="#d02424"/>
<circle cx="77.6" cy="72.2" r="1.3" fill="#521a5c"/>
<circle cx="249.9" cy="108.0" r="1.5" fill="#7474c0"/>
<circle cx="205.4" cy="132.7" r="1.1" fill="#141460"/>
<circle cx="249.2" cy="95.0" r="1.1" fill="#7c7cc4"/>
<circle cx="103.5" cy="81.5" r="1.5" fill="#521a5c"/>
<circle cx="33.3" cy="112.6" r="1.3" fill="#eab0ea"/>
<circle cx="74.2" cy="127.8" r="1.1" fill="#3434cc"/>
<circle cx="72.1" cy="158.3" r="1.3" fill="#6c8898"/>
<circle cx="239.8" cy="140.3" r="1.2" fill="#d09848"/>
<circle cx="228.1" cy="148.1" r="1.1" fill="#d09848"/>
<circle cx="70.4" cy="101.2" r="1.4" fill="#521a5c"/>
<circle cx="221.9" cy="128.4" r="0.9" fill="#141460"/>
<circle cx="167.3" cy="91.6" r="0.9" fill="#a88838"/>
<circle cx="140.0" cy="135.1" r="0.8" fill="#402840"/>
<circle cx="148.4" cy="183.6" r="1.2" fill="#d838d8"/>
<circle cx="158.7" cy="74.1" r="0.7" fill="#b89a28"/>
<circle cx="256.8" cy="127.3" r="1.1" fill="#d09848"/>
<circle cx="177.1" cy="85.9" r="0.8" fill="#b89a28"/>
<circle cx="246.5" cy="54.8" r="1.3" fill="#7474c0"/>
<circle cx="104.8" cy="100.6" r="0.9" fill="#b89a28"/>
<circle cx="119.5" cy="85.8" r="0.8" fill="#b89a28"/>
<circle cx="146.0" cy="159.0" r="1.0" fill="#d02424"/>
<circle cx="243.0" cy="113.1" r="1.0" fill="#d09848"/>
<circle cx="252.4" cy="117.1" r="1.5" fill="#d09848"/>
<circle cx="73.1" cy="151.8" r="1.5" fill="#6c8898"/>
<circle cx="246.3" cy="74.5" r="1.5" fill="#7474c0"/>
<circle cx="141.4" cy="97.1" r="0.7" fill="#b89a28"/>
<circle cx="45.9" cy="105.0" r="1.2" fill="#eab0ea"/>
<circle cx="58.1" cy="93.8" r="1.3" fill="#521a5c"/>
<circle cx="90.4" cy="81.4" r="0.8" fill="#b89a28"/>
<circle cx="114.4" cy="106.5" r="1.0" fill="#44a83c"/>
<circle cx="240.1" cy="99.1" r="1.4" fill="#7474c0"/>
<circle cx="258.4" cy="109.2" r="1.4" fill="#d09848"/>
<circle cx="31.0" cy="112.7" r="1.4" fill="#eab0ea"/>
<circle cx="161.0" cy="138.0" r="1.0" fill="#3434cc"/>
<circle cx="250.7" cy="105.8" r="1.1" fill="#d09848"/>
<circle cx="123.4" cy="122.6" r="1.0" fill="#3434cc"/>
<circle cx="122.0" cy="114.1" r="0.8" fill="#402840"/>
<circle cx="146.8" cy="66.6" r="0.9" fill="#202030"/>
<circle cx="238.9" cy="59.6" r="1.3" fill="#7474c0"/>
<circle cx="120.7" cy="158.8" r="0.9" fill="#30284a"/>
<circle cx="244.3" cy="42.2" r="0.6" fill="#402840"/>
<circle cx="92.6" cy="82.7" r="1.2" fill="#521a5c"/>
<circle cx="84.3" cy="82.8" r="1.5" fill="#521a5c"/>
<circle cx="73.8" cy="91.5" r="1.2" fill="#521a5c"/>
<circle cx="263.4" cy="119.4" r="0.7" fill="#30284a"/>
<circle cx="177.7" cy="161.6" r="1.1" fill="#d02424"/>
<circle cx="213.3" cy="127.1" r="0.6" fill="#30284a"/>
<circle cx="49.0" cy="130.8" r="1.1" fill="#6c8898"/>
<circle cx="71.5" cy="84.5" r="1.1" fill="#521a5c"/>
<circle cx="242.7" cy="108.3" r="1.1" fill="#d09848"/>
<circle cx="83.7" cy="85.8" r="0.7" fill="#b89a28"/>
<circle cx="154.5" cy="154.1" r="0.6" fill="#3a3a20"/>
<circle cx="152.5" cy="171.5" r="0.9" fill="#30284a"/>
<circle cx="40.1" cy="101.0" r="1.1" fill="#521a5c"/>
<circle cx="173.5" cy="86.3" r="1.0" fill="#a88838"/>
<circle cx="166.6" cy="101.6" r="0.8" fill="#a88838"/>
<circle cx="64.1" cy="147.7" r="1.4" fill="#b8d4f4"/>
<circle cx="130.3" cy="157.6" r="1.0" fill="#3434cc"/>
<circle cx="124.5" cy="106.3" r="1.1" fill="#44a83c"/>
<circle cx="52.2" cy="79.7" r="1.2" fill="#521a5c"/>
<circle cx="84.0" cy="89.3" r="1.6" fill="#521a5c"/>
<circle cx="142.5" cy="94.5" r="1.3" fill="#44a83c"/>
<circle cx="234.0" cy="126.9" r="1.1" fill="#202030"/>
<circle cx="258.3" cy="116.3" r="1.4" fill="#d09848"/>
<circle cx="150.0" cy="193.1" r="1.3" fill="#d838d8"/>
<circle cx="234.3" cy="146.3" r="0.7" fill="#402840"/>
<circle cx="38.1" cy="121.7" r="1.1" fill="#eab0ea"/>
<circle cx="238.0" cy="86.8" r="1.1" fill="#7c7cc4"/>
<circle cx="249.1" cy="107.4" r="0.9" fill="#141460"/>
<circle cx="163.4" cy="108.5" r="1.2" fill="#202030"/>
<circle cx="92.5" cy="97.0" r="1.3" fill="#521a5c"/>
<circle cx="228.7" cy="110.3" r="1.4" fill="#d09848"/>
<circle cx="220.3" cy="144.3" r="1.2" fill="#d09848"/>
<circle cx="116.2" cy="90.6" r="0.9" fill="#b89a28"/>
<circle cx="129.6" cy="135.9" r="1.0" fill="#3434cc"/>
<circle cx="123.0" cy="141.6" r="1.3" fill="#3434cc"/>
<circle cx="80.4" cy="144.6" r="1.0" fill="#6c8898"/>
<circle cx="117.4" cy="84.5" r="0.9" fill="#b89a28"/>
<circle cx="73.2" cy="114.6" r="1.0" fill="#44a83c"/>
<circle cx="139.9" cy="110.5" r="1.2" fill="#44a83c"/>
<circle cx="247.1" cy="113.0" r="1.0" fill="#141460"/>
<circle cx="150.3" cy="91.8" r="0.8" fill="#b89a28"/>
<circle cx="145.3" cy="156.1" r="1.1" fill="#d02424"/>
<circle cx="154.0" cy="96.6" r="0.8" fill="#b89a28"/>
<circle cx="68.5" cy="131.7" r="1.2" fill="#6c8898"/>
<circle cx="172.3" cy="77.7" r="0.8" fill="#a88838"/>
<circle cx="194.7" cy="188.7" r="1.3" fill="#d838d8"/>
<circle cx="153.8" cy="97.9" r="1.2" fill="#44a83c"/>
<circle cx="142.6" cy="105.1" r="0.8" fill="#b89a28"/>
<circle cx="185.0" cy="96.7" r="0.9" fill="#a88838"/>
<circle cx="75.3" cy="134.4" r="1.1" fill="#6c8898"/>
<circle cx="40.8" cy="121.5" r="1.4" fill="#eab0ea"/>
<circle cx="207.1" cy="178.8" r="1.2" fill="#d838d8"/>
<circle cx="111.7" cy="115.1" r="0.9" fill="#44a83c"/>
<circle cx="219.9" cy="106.7" r="1.0" fill="#141460"/>
<circle cx="63.2" cy="160.8" r="1.1" fill="#b8d4f4"/>
<circle cx="248.8" cy="94.2" r="1.4" fill="#7474c0"/>
<circle cx="135.0" cy="145.4" r="0.7" fill="#30284a"/>
<circle cx="161.5" cy="112.8" r="1.0" fill="#44a83c"/>
<circle cx="151.8" cy="115.8" r="0.6" fill="#30284a"/>
<circle cx="222.6" cy="121.0" r="1.0" fill="#141460"/>
<circle cx="203.4" cy="183.0" r="1.4" fill="#d838d8"/>
<circle cx="96.5" cy="87.9" r="1.0" fill="#6a2a70"/>
<circle cx="236.6" cy="115.5" r="0.9" fill="#3a3a20"/>
<circle cx="91.0" cy="91.6" r="1.2" fill="#521a5c"/>
<circle cx="138.2" cy="174.5" r="0.7" fill="#402840"/>
<circle cx="229.9" cy="87.0" r="0.6" fill="#30284a"/>
<circle cx="230.5" cy="109.2" r="0.8" fill="#202030"/>
<circle cx="237.0" cy="85.6" r="0.9" fill="#2a2030"/>
<circle cx="244.2" cy="103.8" r="1.1" fill="#7c7cc4"/>
<circle cx="188.7" cy="172.2" r="1.0" fill="#d838d8"/>
<circle cx="148.9" cy="187.6" r="1.2" fill="#202030"/>
<circle cx="192.5" cy="100.0" r="0.7" fill="#a88838"/>
<circle cx="128.6" cy="130.7" r="0.9" fill="#202030"/>
<circle cx="77.7" cy="86.5" r="1.2" fill="#521a5c"/>
<circle cx="84.4" cy="85.8" r="1.4" fill="#521a5c"/>
<circle cx="244.4" cy="119.8" r="1.1" fill="#141460"/>
<circle cx="177.7" cy="79.8" r="0.8" fill="#a88838"/>
<circle cx="87.0" cy="112.1" r="0.8" fill="#202030"/>
<circle cx="212.9" cy="155.2" r="1.1" fill="#d09848"/>
<circle cx="220.3" cy="165.2" r="0.9" fill="#2a2030"/>
<circle cx="248.8" cy="109.7" r="1.2" fill="#d09848"/>
<circle cx="158.0" cy="183.5" r="1.1" fill="#d838d8"/>
<circle cx="212.3" cy="171.9" r="1.3" fill="#d838d8"/>
<circle cx="197.2" cy="77.5" r="0.8" fill="#2a2030"/>
<circle cx="247.5" cy="126.9" r="1.4" fill="#d09848"/>
<circle cx="159.6" cy="180.6" r="0.6" fill="#2a2030"/>
<circle cx="249.9" cy="78.8" r="1.4" fill="#7474c0"/>
<circle cx="148.8" cy="146.4" r="0.9" fill="#3a3a20"/>
<circle cx="193.0" cy="141.1" r="1.1" fill="#141460"/>
<circle cx="172.8" cy="158.9" r="1.1" fill="#d02424"/>
<circle cx="254.9" cy="130.8" r="1.5" fill="#d09848"/>
<circle cx="126.9" cy="174.5" r="1.2" fill="#d838d8"/>
<circle cx="43.8" cy="127.0" r="1.1" fill="#6c8898"/>
<circle cx="145.6" cy="145.8" r="1.0" fill="#3434cc"/>
<circle cx="188.4" cy="173.7" r="1.1" fill="#d02424"/>
<circle cx="127.0" cy="157.2" r="1.0" fill="#3434cc"/>
<circle cx="166.8" cy="70.7" r="0.8" fill="#b89a28"/>
<circle cx="260.5" cy="48.9" r="1.2" fill="#7474c0"/>
<circle cx="156.0" cy="97.1" r="0.7" fill="#30284a"/>
<circle cx="235.2" cy="127.0" r="1.1" fill="#d09848"/>
<circle cx="148.1" cy="137.4" r="0.9" fill="#3434cc"/>
<circle cx="132.6" cy="133.0" r="1.3" fill="#44a83c"/>
<circle cx="254.5" cy="95.1" r="1.1" fill="#7474c0"/>
<circle cx="54.4" cy="88.5" r="1.4" fill="#521a5c"/>
<circle cx="62.9" cy="82.5" r="1.5" fill="#521a5c"/>
<circle cx="251.3" cy="64.4" r="1.2" fill="#7474c0"/>
<circle cx="202.7" cy="181.3" r="0.8" fill="#30284a"/>
<circle cx="223.6" cy="103.4" r="0.8" fill="#30284a"/>
<circle cx="148.0" cy="188.8" r="1.2" fill="#d838d8"/>
<circle cx="77.6" cy="134.4" r="1.3" fill="#6c8898"/>
<circle cx="171.9" cy="86.9" r="0.8" fill="#3a3a20"/>
<circle cx="100.5" cy="91.7" r="0.7" fill="#b89a28"/>
<circle cx="167.5" cy="151.1" r="1.0" fill="#3434cc"/>
<circle cx="78.8" cy="149.8" r="1.2" fill="#6c8898"/>
<circle cx="47.2" cy="105.5" r="1.0" fill="#eab0ea"/>
<circle cx="45.3" cy="106.4" r="1.2" fill="#521a5c"/>
<circle cx="224.6" cy="145.7" r="1.3" fill="#d09848"/>
<circle cx="71.7" cy="133.4" r="1.1" fill="#6c8898"/>
<circle cx="102.1" cy="132.9" r="0.8" fill="#3a3a20"/>
<circle cx="79.3" cy="95.7" r="1.3" fill="#521a5c"/>
<circle cx="126.6" cy="120.5" r="1.1" fill="#44a83c"/>
<circle cx="50.1" cy="94.9" r="1.5" fill="#521a5c"/>
<circle cx="70.6" cy="73.3" r="1.6" fill="#521a5c"/>
<circle cx="146.4" cy="161.4" r="0.9" fill="#3a3a20"/>
<circle cx="132.8" cy="90.8" r="0.9" fill="#b89a28"/>
<circle cx="48.3" cy="139.0" r="1.2" fill="#6c8898"/>
<circle cx="181.4" cy="86.8" r="1.0" fill="#a88838"/>
<circle cx="254.8" cy="84.7" r="0.8" fill="#2a2030"/>
<circle cx="228.0" cy="92.6" r="1.1" fill="#7c7cc4"/>
<circle cx="156.9" cy="162.3" r="1.0" fill="#d02424"/>
<circle cx="245.6" cy="118.0" r="1.1" fill="#7474c0"/>
<circle cx="52.3" cy="81.5" r="1.3" fill="#521a5c"/>
<circle cx="32.0" cy="114.9" r="1.3" fill="#eab0ea"/>
<circle cx="162.4" cy="147.2" r="1.1" fill="#202030"/>
<circle cx="223.8" cy="112.9" r="1.0" fill="#141460"/>
<circle cx="80.5" cy="144.3" r="1.1" fill="#b8d4f4"/>
<circle cx="69.7" cy="135.8" r="1.2" fill="#6c8898"/>
<circle cx="182.2" cy="179.5" r="1.2" fill="#202030"/>
<circle cx="256.3" cy="113.1" r="1.1" fill="#141460"/>
<circle cx="201.6" cy="108.8" r="1.2" fill="#202030"/>
<circle cx="190.5" cy="164.1" r="1.2" fill="#d02424"/>
<circle cx="138.4" cy="115.0" r="1.1" fill="#44a83c"/>
<circle cx="184.0" cy="82.0" r="0.9" fill="#202030"/>
<circle cx="142.6" cy="99.6" r="1.1" fill="#202030"/>
<circle cx="202.0" cy="184.9" r="0.6" fill="#30284a"/>
<circle cx="255.1" cy="86.5" r="1.3" fill="#7474c0"/>
<circle cx="236.1" cy="98.8" r="1.2" fill="#7c7cc4"/>
<circle cx="217.3" cy="152.8" r="1.2" fill="#d09848"/>
<circle cx="64.7" cy="98.4" r="1.0" fill="#202030"/>
<circle cx="167.2" cy="159.0" r="1.2" fill="#d02424"/>
<circle cx="231.0" cy="104.3" r="1.0" fill="#141460"/>
<circle cx="264.6" cy="118.6" r="1.3" fill="#d09848"/>
<circle cx="60.1" cy="119.2" r="1.4" fill="#6c8898"/>
<circle cx="128.1" cy="89.4" r="0.8" fill="#b89a28"/>
<circle cx="139.4" cy="181.8" r="1.1" fill="#d838d8"/>
<circle cx="175.5" cy="162.2" r="1.0" fill="#d02424"/>
<circle cx="79.5" cy="86.2" r="1.1" fill="#521a5c"/>
<circle cx="49.9" cy="92.1" r="1.4" fill="#521a5c"/>
<circle cx="108.0" cy="137.5" r="1.2" fill="#3434cc"/>
<circle cx="221.9" cy="137.1" r="1.3" fill="#141460"/>
<circle cx="43.5" cy="90.9" r="1.6" fill="#521a5c"/>
<circle cx="234.9" cy="92.7" r="1.2" fill="#7c7cc4"/>
<circle cx="246.5" cy="101.4" r="1.3" fill="#7c7cc4"/>
<circle cx="154.0" cy="124.5" r="1.2" fill="#44a83c"/>
<circle cx="219.5" cy="137.8" r="1.1" fill="#141460"/>
<circle cx="100.9" cy="87.9" r="1.2" fill="#521a5c"/>
<circle cx="104.2" cy="104.2" r="0.8" fill="#b89a28"/>
<circle cx="232.5" cy="70.6" r="1.3" fill="#7474c0"/>
<circle cx="131.8" cy="83.5" r="0.8" fill="#b89a28"/>
<circle cx="166.4" cy="154.0" r="1.2" fill="#d02424"/>
<circle cx="196.8" cy="83.2" r="0.7" fill="#30284a"/>
<circle cx="119.2" cy="105.6" r="0.6" fill="#402840"/>
<circle cx="180.9" cy="186.7" r="1.2" fill="#d838d8"/>
<circle cx="216.2" cy="151.7" r="0.9" fill="#d09848"/>
<circle cx="150.5" cy="179.1" r="1.1" fill="#d838d8"/>
<circle cx="47.3" cy="103.7" r="1.3" fill="#521a5c"/>
<circle cx="127.7" cy="168.2" r="1.1" fill="#d838d8"/>
<circle cx="92.9" cy="88.4" r="1.1" fill="#6a2a70"/>
<circle cx="188.7" cy="191.4" r="1.1" fill="#d838d8"/>
<circle cx="163.2" cy="110.9" r="0.9" fill="#44a83c"/>
<circle cx="130.5" cy="99.6" r="0.9" fill="#b89a28"/>
<circle cx="154.8" cy="178.5" r="1.4" fill="#d838d8"/>
<circle cx="55.1" cy="95.3" r="1.5" fill="#521a5c"/>
<circle cx="83.9" cy="89.8" r="1.5" fill="#521a5c"/>
<circle cx="129.0" cy="180.5" r="0.7" fill="#402840"/>
<circle cx="210.5" cy="177.3" r="1.0" fill="#d838d8"/>
<circle cx="76.3" cy="154.4" r="1.1" fill="#b8d4f4"/>
<circle cx="146.2" cy="73.5" r="0.7" fill="#b89a28"/>
<circle cx="59.2" cy="82.1" r="1.4" fill="#521a5c"/>
<circle cx="127.6" cy="92.9" r="0.9" fill="#b89a28"/>
<circle cx="106.0" cy="79.5" r="1.0" fill="#b89a28"/>
<circle cx="186.6" cy="168.4" r="1.0" fill="#d02424"/>
<circle cx="199.7" cy="184.5" r="1.3" fill="#d838d8"/>
<circle cx="105.6" cy="137.5" r="1.1" fill="#202030"/>
<circle cx="110.6" cy="146.7" r="1.3" fill="#3434cc"/>
<circle cx="246.2" cy="62.8" r="0.6" fill="#402840"/>
<circle cx="214.4" cy="109.5" r="1.1" fill="#141460"/>
<circle cx="146.6" cy="79.9" r="0.8" fill="#b89a28"/>
<circle cx="36.8" cy="92.5" r="1.3" fill="#eab0ea"/>
<circle cx="178.7" cy="179.5" r="0.6" fill="#3a3a20"/>
<circle cx="54.6" cy="158.0" r="1.5" fill="#6c8898"/>
<circle cx="251.5" cy="87.2" r="1.4" fill="#7474c0"/>
<circle cx="149.9" cy="92.1" r="1.1" fill="#202030"/>
<circle cx="117.7" cy="73.9" r="0.8" fill="#202030"/>
<circle cx="79.4" cy="131.7" r="1.3" fill="#3434cc"/>
<circle cx="224.3" cy="104.6" r="1.4" fill="#7c7cc4"/>
<circle cx="233.5" cy="89.0" r="1.2" fill="#7c7cc4"/>
<circle cx="167.3" cy="189.2" r="0.8" fill="#3a3a20"/>
<circle cx="65.8" cy="141.6" r="1.4" fill="#6c8898"/>
<circle cx="237.1" cy="79.2" r="0.6" fill="#30284a"/>
<circle cx="142.8" cy="176.9" r="1.0" fill="#d838d8"/>
<circle cx="184.1" cy="163.2" r="1.2" fill="#d02424"/>
<circle cx="117.1" cy="83.2" r="1.2" fill="#202030"/>
<circle cx="181.7" cy="100.3" r="0.9" fill="#a88838"/>
<circle cx="169.2" cy="85.1" r="0.9" fill="#b89a28"/>
<circle cx="144.1" cy="79.8" r="0.9" fill="#b89a28"/>
<circle cx="134.0" cy="172.7" r="1.0" fill="#d838d8"/>
<circle cx="249.5" cy="123.7" r="1.2" fill="#d09848"/>
<circle cx="131.3" cy="183.0" r="1.3" fill="#d838d8"/>
<circle cx="162.2" cy="138.6" r="0.6" fill="#2a2030"/>
<circle cx="98.3" cy="98.4" r="0.9" fill="#b89a28"/>
<circle cx="156.0" cy="188.2" r="1.1" fill="#d838d8"/>
<circle cx="239.6" cy="82.3" r="1.5" fill="#7474c0"/>
<circle cx="65.8" cy="155.3" r="1.4" fill="#6c8898"/>
<circle cx="110.8" cy="90.6" r="0.8" fill="#2a2030"/>
<circle cx="113.1" cy="92.0" r="0.7" fill="#b89a28"/>
<circle cx="35.7" cy="94.2" r="1.3" fill="#521a5c"/>
<circle cx="175.5" cy="179.1" r="1.1" fill="#d838d8"/>
<circle cx="152.3" cy="116.6" r="1.0" fill="#44a83c"/>
<circle cx="67.4" cy="78.0" r="1.1" fill="#521a5c"/>
<circle cx="82.4" cy="87.2" r="1.1" fill="#521a5c"/>
<circle cx="160.5" cy="87.9" r="0.7" fill="#a88838"/>
<circle cx="106.2" cy="89.9" r="0.7" fill="#b89a28"/>
<circle cx="59.8" cy="97.9" r="1.5" fill="#521a5c"/>
<circle cx="88.7" cy="164.5" r="1.0" fill="#6c8898"/>
<circle cx="69.6" cy="152.4" r="1.3" fill="#6c8898"/>
<circle cx="204.0" cy="169.8" r="0.7" fill="#2a2030"/>
<circle cx="52.5" cy="116.2" r="1.1" fill="#eab0ea"/>
<circle cx="128.8" cy="98.6" r="0.9" fill="#b89a28"/>
<circle cx="235.1" cy="107.2" r="1.0" fill="#141460"/>
<circle cx="161.2" cy="166.7" r="0.8" fill="#30284a"/>
<circle cx="246.2" cy="68.2" r="1.4" fill="#7474c0"/>
<circle cx="152.2" cy="110.8" r="1.0" fill="#44a83c"/>
<circle cx="47.4" cy="99.0" r="1.3" fill="#eab0ea"/>
<circle cx="45.7" cy="140.6" r="1.2" fill="#6c8898"/>
<circle cx="98.9" cy="92.0" r="1.2" fill="#521a5c"/>
<circle cx="230.6" cy="86.8" r="1.1" fill="#7474c0"/>
<circle cx="88.0" cy="153.5" r="1.1" fill="#6c8898"/>
<circle cx="71.1" cy="93.6" r="1.5" fill="#521a5c"/>
<circle cx="125.1" cy="103.7" r="0.9" fill="#402840"/>
<circle cx="226.7" cy="68.0" r="0.9" fill="#3a3a20"/>
<circle cx="133.3" cy="97.4" r="0.9" fill="#b89a28"/>
<circle cx="63.1" cy="86.3" r="1.3" fill="#521a5c"/>
<circle cx="151.7" cy="108.3" r="1.1" fill="#44a83c"/>
<circle cx="177.0" cy="104.2" r="0.7" fill="#a88838"/>
<circle cx="210.9" cy="67.7" r="0.9" fill="#30284a"/>
<circle cx="146.6" cy="190.7" r="1.1" fill="#d838d8"/>
<circle cx="81.4" cy="138.1" r="1.3" fill="#6c8898"/>
<circle cx="144.0" cy="176.0" r="1.1" fill="#d838d8"/>
<circle cx="145.9" cy="146.8" r="0.9" fill="#3434cc"/>
<circle cx="85.7" cy="113.6" r="0.9" fill="#44a83c"/>
<circle cx="64.8" cy="86.6" r="1.3" fill="#521a5c"/>
<circle cx="181.1" cy="133.8" r="1.2" fill="#141460"/>
<circle cx="123.1" cy="157.1" r="1.1" fill="#3434cc"/>
<circle cx="239.2" cy="140.7" r="1.1" fill="#d09848"/>
<circle cx="240.7" cy="101.2" r="1.1" fill="#7c7cc4"/>
<circle cx="98.3" cy="127.5" r="0.6" fill="#2a2030"/>
<circle cx="127.2" cy="130.4" r="1.2" fill="#3434cc"/>
<circle cx="181.7" cy="130.2" r="0.9" fill="#202030"/>
<circle cx="86.1" cy="71.5" r="1.3" fill="#521a5c"/>
<circle cx="153.1" cy="94.4" r="0.9" fill="#b89a28"/>
<circle cx="196.7" cy="175.7" r="0.8" fill="#3a3a20"/>
<circle cx="239.4" cy="122.7" r="1.5" fill="#d09848"/>
<circle cx="114.6" cy="74.4" r="0.7" fill="#3a3a20"/>
<circle cx="77.5" cy="96.2" r="0.9" fill="#b89a28"/>
<circle cx="179.8" cy="84.6" r="0.8" fill="#a88838"/>
<circle cx="268.2" cy="119.0" r="1.0" fill="#d09848"/>
<circle cx="136.4" cy="72.3" r="1.0" fill="#b89a28"/>
<circle cx="248.2" cy="125.0" r="1.1" fill="#d09848"/>
<circle cx="191.4" cy="145.0" r="0.9" fill="#2a2030"/>
<circle cx="153.6" cy="76.5" r="0.8" fill="#b89a28"/>
<circle cx="191.8" cy="82.6" r="1.0" fill="#a88838"/>
<circle cx="226.8" cy="82.2" r="1.2" fill="#7c7cc4"/>
<circle cx="172.8" cy="99.0" r="0.9" fill="#b89a28"/>
<circle cx="218.9" cy="111.8" r="1.0" fill="#141460"/>
<circle cx="53.0" cy="132.2" r="1.0" fill="#6c8898"/>
<circle cx="148.1" cy="124.1" r="1.2" fill="#44a83c"/>
<circle cx="245.3" cy="129.5" r="1.4" fill="#d09848"/>
<circle cx="55.0" cy="137.8" r="1.1" fill="#6c8898"/>
<circle cx="74.2" cy="95.8" r="1.2" fill="#521a5c"/>
<circle cx="126.1" cy="135.8" r="1.0" fill="#202030"/>
<circle cx="138.9" cy="156.4" r="1.2" fill="#3434cc"/>
<circle cx="255.5" cy="99.7" r="1.5" fill="#7474c0"/>
<circle cx="214.3" cy="140.3" r="1.0" fill="#141460"/>
<circle cx="130.6" cy="128.4" r="1.2" fill="#3434cc"/>
<circle cx="243.8" cy="117.4" r="0.7" fill="#2a2030"/>
<circle cx="253.7" cy="86.6" r="1.5" fill="#7474c0"/>
<circle cx="248.7" cy="104.8" r="1.1" fill="#7c7cc4"/>
<circle cx="74.0" cy="95.0" r="1.3" fill="#521a5c"/>
<circle cx="170.9" cy="169.5" r="1.2" fill="#d02424"/>
<circle cx="168.3" cy="100.1" r="1.0" fill="#44a83c"/>
<circle cx="136.2" cy="89.8" r="0.9" fill="#b89a28"/>
<circle cx="132.3" cy="97.0" r="0.8" fill="#b89a28"/>
<circle cx="108.7" cy="100.1" r="1.0" fill="#44a83c"/>
<circle cx="265.6" cy="77.5" r="1.1" fill="#7474c0"/>
<circle cx="80.3" cy="90.4" r="1.3" fill="#521a5c"/>
<circle cx="39.3" cy="110.8" r="1.4" fill="#eab0ea"/>
<circle cx="228.5" cy="92.0" r="1.2" fill="#7474c0"/>
<circle cx="96.4" cy="129.8" r="1.3" fill="#3434cc"/>
<circle cx="206.2" cy="122.0" r="0.9" fill="#141460"/>
<circle cx="187.1" cy="126.3" r="0.9" fill="#30284a"/>
<circle cx="176.5" cy="137.7" r="0.7" fill="#3a3a20"/>
<circle cx="103.6" cy="92.8" r="0.7" fill="#b89a28"/>
<circle cx="158.3" cy="120.1" r="1.0" fill="#44a83c"/>
<circle cx="130.6" cy="135.3" r="0.9" fill="#202030"/>
<circle cx="112.5" cy="171.5" r="1.3" fill="#d838d8"/>
<circle cx="74.9" cy="156.1" r="1.5" fill="#6c8898"/>
<circle cx="253.3" cy="52.4" r="1.1" fill="#7474c0"/>
<circle cx="63.7" cy="84.2" r="1.5" fill="#521a5c"/>
<circle cx="92.4" cy="88.0" r="1.4" fill="#521a5c"/>
<circle cx="252.6" cy="57.0" r="1.4" fill="#7474c0"/>
<circle cx="236.4" cy="85.2" r="1.1" fill="#7474c0"/>
<circle cx="51.1" cy="105.5" r="1.1" fill="#eab0ea"/>
<circle cx="167.6" cy="161.9" r="1.0" fill="#d02424"/>
<circle cx="50.6" cy="136.2" r="1.3" fill="#6c8898"/>
<circle cx="54.5" cy="116.5" r="1.3" fill="#eab0ea"/>
<circle cx="255.6" cy="109.9" r="1.2" fill="#d09848"/>
<circle cx="241.5" cy="78.5" r="1.4" fill="#7c7cc4"/>
<circle cx="149.8" cy="100.8" r="1.0" fill="#a88838"/>
<circle cx="252.8" cy="80.2" r="1.0" fill="#7474c0"/>
<circle cx="174.0" cy="75.5" r="1.0" fill="#b89a28"/>
<circle cx="151.5" cy="146.7" r="1.2" fill="#3434cc"/>
<circle cx="147.0" cy="84.9" r="0.9" fill="#b89a28"/>
<circle cx="258.2" cy="51.8" r="0.7" fill="#402840"/>
<circle cx="243.1" cy="70.9" r="1.1" fill="#7474c0"/>
<circle cx="115.1" cy="99.7" r="0.7" fill="#2a2030"/>
<circle cx="143.5" cy="119.8" r="1.2" fill="#44a83c"/>
<circle cx="147.9" cy="113.0" r="1.1" fill="#44a83c"/>
<circle cx="70.2" cy="79.1" r="1.2" fill="#521a5c"/>
<circle cx="211.9" cy="85.9" r="0.9" fill="#3a3a20"/>
<circle cx="202.1" cy="152.8" r="1.2" fill="#d09848"/>
<circle cx="125.2" cy="157.7" r="1.2" fill="#3434cc"/>
<circle cx="50.8" cy="120.9" r="1.4" fill="#6c8898"/>
<circle cx="230.4" cy="140.8" r="1.2" fill="#d09848"/>
<circle cx="219.6" cy="78.2" r="0.8" fill="#30284a"/>
<circle cx="140.3" cy="109.4" r="1.3" fill="#44a83c"/>
<circle cx="157.3" cy="159.5" r="0.9" fill="#d02424"/>
<circle cx="100.3" cy="169.5" r="0.6" fill="#3a3a20"/>
<circle cx="257.3" cy="76.3" r="1.1" fill="#7474c0"/>
<circle cx="207.5" cy="147.7" r="0.8" fill="#2a2030"/>
<circle cx="72.7" cy="91.8" r="1.4" fill="#521a5c"/>
<circle cx="125.3" cy="75.1" r="0.8" fill="#3a3a20"/>
<circle cx="83.9" cy="85.7" r="1.1" fill="#521a5c"/>
<circle cx="129.2" cy="130.7" r="1.1" fill="#44a83c"/>
<circle cx="170.1" cy="119.6" r="0.9" fill="#2a2030"/>
<circle cx="228.1" cy="60.9" r="0.8" fill="#202030"/>
<circle cx="149.0" cy="80.8" r="0.8" fill="#b89a28"/>
<circle cx="129.7" cy="145.2" r="1.2" fill="#3434cc"/>
<circle cx="255.0" cy="75.3" r="1.3" fill="#7474c0"/>
<circle cx="239.3" cy="58.2" r="1.5" fill="#7474c0"/>
<circle cx="133.6" cy="154.7" r="0.8" fill="#3a3a20"/>
<circle cx="216.7" cy="146.3" r="1.0" fill="#141460"/>
<circle cx="76.3" cy="92.2" r="1.3" fill="#521a5c"/>
<circle cx="123.4" cy="88.2" r="0.8" fill="#b89a28"/>
<circle cx="211.2" cy="172.3" r="1.2" fill="#d838d8"/>
<circle cx="65.4" cy="151.9" r="1.0" fill="#6c8898"/>
<circle cx="141.8" cy="102.8" r="0.8" fill="#b89a28"/>
<circle cx="160.9" cy="94.4" r="0.8" fill="#b89a28"/>
<circle cx="165.3" cy="177.0" r="1.1" fill="#d838d8"/>
<circle cx="81.7" cy="89.7" r="1.0" fill="#b89a28"/>
<circle cx="99.3" cy="88.0" r="0.9" fill="#b89a28"/>
<circle cx="186.9" cy="195.1" r="1.0" fill="#d838d8"/>
<circle cx="155.3" cy="101.3" r="1.0" fill="#b89a28"/>
<circle cx="211.9" cy="181.5" r="1.1" fill="#d838d8"/>
<circle cx="227.6" cy="128.2" r="1.2" fill="#141460"/>
<circle cx="114.2" cy="81.7" r="0.9" fill="#b89a28"/>
<circle cx="231.1" cy="79.7" r="1.3" fill="#7474c0"/>
<circle cx="229.8" cy="88.9" r="1.2" fill="#7c7cc4"/>
<circle cx="78.5" cy="155.4" r="1.4" fill="#b8d4f4"/>
<circle cx="57.3" cy="100.1" r="1.3" fill="#521a5c"/>
<circle cx="174.8" cy="101.8" r="0.8" fill="#a88838"/>
<circle cx="184.9" cy="76.5" r="0.8" fill="#a88838"/>
<circle cx="248.8" cy="105.3" r="0.8" fill="#2a2030"/>
<circle cx="101.5" cy="100.4" r="1.2" fill="#6a2a70"/>
<circle cx="151.9" cy="153.4" r="1.3" fill="#3434cc"/>
<circle cx="252.7" cy="76.9" r="0.8" fill="#402840"/>
<circle cx="188.5" cy="166.5" r="0.9" fill="#202030"/>
<circle cx="46.8" cy="103.4" r="1.1" fill="#eab0ea"/>
<circle cx="153.8" cy="182.9" r="1.3" fill="#d838d8"/>
<circle cx="59.2" cy="90.6" r="1.3" fill="#521a5c"/>
<circle cx="223.5" cy="101.4" r="1.1" fill="#7c7cc4"/>
<circle cx="80.8" cy="95.7" r="0.8" fill="#b89a28"/>
<circle cx="50.7" cy="99.0" r="1.4" fill="#521a5c"/>
<circle cx="160.6" cy="80.2" r="0.9" fill="#b89a28"/>
<circle cx="215.8" cy="169.7" r="0.6" fill="#402840"/>
<circle cx="122.4" cy="127.5" r="0.9" fill="#44a83c"/>
<circle cx="217.1" cy="79.6" r="0.7" fill="#2a2030"/>
<circle cx="207.2" cy="105.5" r="1.1" fill="#202030"/>
<circle cx="51.9" cy="79.5" r="1.4" fill="#521a5c"/>
<circle cx="63.0" cy="143.2" r="1.3" fill="#b8d4f4"/>
<circle cx="244.7" cy="90.5" r="1.5" fill="#7c7cc4"/>
<circle cx="252.7" cy="84.4" r="1.4" fill="#7c7cc4"/>
<circle cx="173.0" cy="187.0" r="0.9" fill="#3a3a20"/>
<circle cx="199.1" cy="86.8" r="0.7" fill="#3a3a20"/>
<circle cx="253.0" cy="138.4" r="1.3" fill="#141460"/>
<circle cx="33.3" cy="109.5" r="1.0" fill="#eab0ea"/>
<circle cx="118.9" cy="113.4" r="0.7" fill="#402840"/>
<circle cx="38.7" cy="134.7" r="1.1" fill="#6c8898"/>
<circle cx="256.4" cy="76.4" r="1.0" fill="#7474c0"/>
<circle cx="137.5" cy="95.4" r="0.9" fill="#b89a28"/>
<circle cx="143.2" cy="138.4" r="0.8" fill="#202030"/>
<circle cx="189.3" cy="120.0" r="1.2" fill="#141460"/>
<circle cx="213.6" cy="170.6" r="1.2" fill="#d02424"/>
<circle cx="247.8" cy="73.4" r="1.5" fill="#7474c0"/>
<circle cx="123.6" cy="100.4" r="1.1" fill="#44a83c"/>
<circle cx="154.4" cy="83.5" r="0.8" fill="#b89a28"/>
<circle cx="52.9" cy="119.6" r="1.4" fill="#6c8898"/>
<circle cx="235.9" cy="118.1" r="1.2" fill="#141460"/>
<circle cx="170.4" cy="124.9" r="1.2" fill="#44a83c"/>
<circle cx="245.1" cy="100.6" r="1.2" fill="#7474c0"/>
<circle cx="189.6" cy="91.0" r="0.7" fill="#402840"/>
<circle cx="154.6" cy="87.2" r="0.9" fill="#3a3a20"/>
<circle cx="55.1" cy="100.4" r="1.0" fill="#eab0ea"/>
<circle cx="38.4" cy="93.9" r="1.5" fill="#521a5c"/>
<circle cx="192.1" cy="149.7" r="0.9" fill="#30284a"/>
<circle cx="194.5" cy="189.2" r="0.9" fill="#30284a"/>
<circle cx="177.1" cy="78.6" r="0.9" fill="#b89a28"/>
<circle cx="126.1" cy="106.5" r="0.9" fill="#b89a28"/>
<circle cx="152.8" cy="87.1" r="1.0" fill="#b89a28"/>
<circle cx="139.2" cy="90.0" r="1.0" fill="#b89a28"/>
<circle cx="253.1" cy="105.8" r="1.3" fill="#d09848"/>
<circle cx="248.9" cy="127.0" r="1.3" fill="#d09848"/>
<circle cx="180.5" cy="100.9" r="0.7" fill="#30284a"/>
<circle cx="109.6" cy="80.1" r="1.0" fill="#b89a28"/>
<circle cx="153.1" cy="86.9" r="0.8" fill="#b89a28"/>
<circle cx="203.6" cy="189.3" r="1.3" fill="#d838d8"/>
<circle cx="110.7" cy="85.4" r="1.2" fill="#6a2a70"/>
<circle cx="76.1" cy="155.0" r="1.2" fill="#b8d4f4"/>
<circle cx="110.3" cy="103.6" r="1.2" fill="#44a83c"/>
<circle cx="160.5" cy="87.1" r="0.8" fill="#b89a28"/>
<circle cx="130.7" cy="179.6" r="1.1" fill="#d838d8"/>
<circle cx="68.9" cy="78.6" r="1.4" fill="#521a5c"/>
<circle cx="227.2" cy="131.2" r="1.0" fill="#d09848"/>
<circle cx="145.9" cy="69.6" r="0.7" fill="#b89a28"/>
<circle cx="103.8" cy="77.9" r="1.2" fill="#6a2a70"/>
<circle cx="188.7" cy="106.1" r="0.7" fill="#2a2030"/>
<circle cx="194.6" cy="99.4" r="0.9" fill="#141460"/>
<circle cx="121.7" cy="73.2" r="0.8" fill="#b89a28"/>
<circle cx="102.9" cy="154.0" r="1.3" fill="#6c8898"/>
<circle cx="116.1" cy="176.6" r="1.2" fill="#d838d8"/>
<circle cx="259.1" cy="78.8" r="1.0" fill="#202030"/>
<circle cx="260.0" cy="78.6" r="1.2" fill="#7474c0"/>
<circle cx="208.5" cy="128.4" r="0.6" fill="#3a3a20"/>
<circle cx="178.3" cy="105.9" r="0.6" fill="#30284a"/>
<circle cx="64.2" cy="105.2" r="1.1" fill="#521a5c"/>
<circle cx="180.5" cy="134.5" r="1.2" fill="#202030"/>
<circle cx="99.0" cy="80.7" r="1.4" fill="#521a5c"/>
<circle cx="201.6" cy="117.9" r="1.0" fill="#141460"/>
<circle cx="66.3" cy="155.8" r="1.4" fill="#b8d4f4"/>
<circle cx="93.7" cy="98.0" r="0.9" fill="#44a83c"/>
<circle cx="141.7" cy="172.6" r="1.1" fill="#d838d8"/>
<circle cx="73.6" cy="135.7" r="1.3" fill="#6c8898"/>
<circle cx="74.7" cy="108.0" r="1.0" fill="#44a83c"/>
<circle cx="238.7" cy="123.2" r="1.4" fill="#d09848"/>
<circle cx="44.9" cy="101.8" r="1.4" fill="#521a5c"/>
<circle cx="41.8" cy="141.7" r="1.1" fill="#b8d4f4"/>
<circle cx="90.4" cy="102.9" r="0.9" fill="#b89a28"/>
<circle cx="151.4" cy="102.5" r="1.1" fill="#44a83c"/>
<circle cx="72.2" cy="111.7" r="1.2" fill="#6c8898"/>
<circle cx="103.1" cy="128.5" r="1.2" fill="#202030"/>
<circle cx="198.2" cy="166.2" r="0.6" fill="#30284a"/>
<circle cx="170.5" cy="165.0" r="1.1" fill="#d02424"/>
<circle cx="125.5" cy="106.4" r="1.2" fill="#44a83c"/>
<circle cx="139.5" cy="184.3" r="1.2" fill="#d838d8"/>
<circle cx="32.0" cy="107.6" r="1.1" fill="#eab0ea"/>
<circle cx="228.5" cy="82.6" r="1.1" fill="#7c7cc4"/>
<circle cx="195.5" cy="188.1" r="0.7" fill="#3a3a20"/>
<circle cx="112.9" cy="142.9" r="1.0" fill="#3434cc"/>
<circle cx="173.3" cy="74.6" r="1.0" fill="#b89a28"/>
<circle cx="165.0" cy="72.0" r="0.9" fill="#b89a28"/>
<circle cx="240.0" cy="102.4" r="1.1" fill="#141460"/>
<circle cx="222.4" cy="102.1" r="1.0" fill="#7c7cc4"/>
<circle cx="71.4" cy="100.2" r="1.2" fill="#521a5c"/>
<circle cx="257.6" cy="94.5" r="1.4" fill="#7474c0"/>
<circle cx="133.7" cy="180.8" r="1.2" fill="#d838d8"/>
<circle cx="33.3" cy="114.6" r="1.0" fill="#eab0ea"/>
<circle cx="62.6" cy="149.9" r="1.3" fill="#b8d4f4"/>
<circle cx="63.9" cy="99.4" r="1.5" fill="#521a5c"/>
<circle cx="43.2" cy="100.8" r="1.2" fill="#eab0ea"/>
<circle cx="60.0" cy="105.3" r="1.1" fill="#eab0ea"/>
<circle cx="149.0" cy="113.3" r="1.2" fill="#202030"/>
<circle cx="66.6" cy="164.7" r="1.0" fill="#b8d4f4"/>
<circle cx="52.3" cy="91.1" r="1.6" fill="#521a5c"/>
<circle cx="93.3" cy="79.8" r="1.1" fill="#521a5c"/>
<circle cx="173.8" cy="160.7" r="1.1" fill="#d02424"/>
<circle cx="186.4" cy="67.6" r="0.9" fill="#b89a28"/>
<circle cx="59.5" cy="159.8" r="1.2" fill="#b8d4f4"/>
<circle cx="142.9" cy="106.2" r="0.9" fill="#b89a28"/>
<circle cx="124.8" cy="133.4" r="1.2" fill="#3434cc"/>
<circle cx="68.1" cy="103.3" r="1.2" fill="#521a5c"/>
<circle cx="216.8" cy="156.1" r="1.3" fill="#d09848"/>
<circle cx="247.3" cy="91.7" r="1.6" fill="#7474c0"/>
<circle cx="115.8" cy="153.6" r="1.0" fill="#3434cc"/>
<circle cx="86.6" cy="154.0" r="1.4" fill="#6c8898"/>
<circle cx="254.5" cy="88.1" r="1.4" fill="#7c7cc4"/>
<circle cx="71.3" cy="155.4" r="1.2" fill="#6c8898"/>
<circle cx="234.1" cy="103.8" r="1.4" fill="#7c7cc4"/>
<circle cx="139.2" cy="90.6" r="0.8" fill="#b89a28"/>
<circle cx="132.1" cy="87.3" r="0.7" fill="#2a2030"/>
<circle cx="218.9" cy="121.8" r="0.9" fill="#141460"/>
<circle cx="53.3" cy="111.0" r="1.5" fill="#eab0ea"/>
<circle cx="250.1" cy="54.1" r="0.6" fill="#3a3a20"/>
<circle cx="52.9" cy="81.9" r="1.1" fill="#521a5c"/>
<circle cx="138.9" cy="161.7" r="0.9" fill="#2a2030"/>
<circle cx="217.4" cy="99.3" r="1.3" fill="#141460"/>
<circle cx="46.7" cy="84.3" r="1.1" fill="#521a5c"/>
<circle cx="116.1" cy="79.6" r="0.9" fill="#2a2030"/>
<circle cx="207.7" cy="135.7" r="0.8" fill="#202030"/>
<circle cx="79.2" cy="92.2" r="1.5" fill="#521a5c"/>
<circle cx="120.2" cy="94.5" r="0.7" fill="#b89a28"/>
<circle cx="169.1" cy="166.0" r="0.9" fill="#d02424"/>
<circle cx="116.8" cy="120.2" r="0.8" fill="#3a3a20"/>
<circle cx="181.8" cy="122.4" r="1.2" fill="#44a83c"/>
<circle cx="195.1" cy="147.7" r="0.8" fill="#30284a"/>
<circle cx="246.2" cy="87.6" r="0.6" fill="#30284a"/>
<circle cx="251.8" cy="119.3" r="1.1" fill="#d09848"/>
<circle cx="184.0" cy="99.1" r="0.8" fill="#202030"/>
<circle cx="187.9" cy="88.4" r="0.9" fill="#a88838"/>
<circle cx="127.8" cy="112.8" r="0.9" fill="#44a83c"/>
<circle cx="87.6" cy="95.4" r="1.1" fill="#521a5c"/>
<circle cx="151.8" cy="176.0" r="1.3" fill="#d838d8"/>
<circle cx="265.9" cy="118.5" r="1.2" fill="#d09848"/>
<circle cx="115.7" cy="140.8" r="1.0" fill="#3434cc"/>
<circle cx="49.2" cy="133.7" r="1.3" fill="#b8d4f4"/>
<circle cx="216.2" cy="74.7" r="0.9" fill="#202030"/>
<circle cx="251.5" cy="84.7" r="1.1" fill="#7c7cc4"/>
<circle cx="197.0" cy="137.6" r="0.8" fill="#202030"/>
<circle cx="247.0" cy="90.4" r="1.1" fill="#7474c0"/>
<circle cx="183.2" cy="185.0" r="1.3" fill="#d838d8"/>
<circle cx="121.0" cy="121.9" r="1.3" fill="#44a83c"/>
<circle cx="249.8" cy="119.1" r="1.5" fill="#d09848"/>
<circle cx="34.4" cy="101.7" r="1.2" fill="#eab0ea"/>
<circle cx="33.1" cy="106.3" r="1.3" fill="#eab0ea"/>
<circle cx="156.6" cy="190.3" r="1.2" fill="#d838d8"/>
<circle cx="35.4" cy="113.7" r="1.3" fill="#eab0ea"/>
<circle cx="206.6" cy="184.9" r="1.4" fill="#d838d8"/>
<circle cx="256.9" cy="91.1" r="0.6" fill="#30284a"/>
<circle cx="142.8" cy="104.9" r="0.7" fill="#3a3a20"/>
<circle cx="183.0" cy="82.9" r="0.7" fill="#b89a28"/>
<circle cx="247.7" cy="124.2" r="0.8" fill="#402840"/>
<circle cx="186.3" cy="177.0" r="1.2" fill="#d838d8"/>
<circle cx="254.4" cy="88.7" r="1.3" fill="#7c7cc4"/>
<circle cx="64.5" cy="161.0" r="0.8" fill="#202030"/>
<circle cx="120.0" cy="111.1" r="1.3" fill="#44a83c"/>
<circle cx="225.5" cy="153.9" r="1.2" fill="#141460"/>
<circle cx="142.4" cy="159.9" r="0.8" fill="#202030"/>
<circle cx="87.3" cy="164.4" r="1.3" fill="#6c8898"/>
<circle cx="250.1" cy="83.1" r="0.6" fill="#2a2030"/>
<circle cx="255.4" cy="89.4" r="1.2" fill="#7c7cc4"/>
<circle cx="207.3" cy="184.5" r="1.2" fill="#d838d8"/>
<circle cx="243.9" cy="67.3" r="1.2" fill="#7474c0"/>
<circle cx="239.1" cy="87.1" r="1.2" fill="#7474c0"/>
<circle cx="226.5" cy="73.0" r="0.6" fill="#3a3a20"/>
<circle cx="208.6" cy="131.6" r="1.0" fill="#141460"/>
<circle cx="134.6" cy="103.0" r="1.1" fill="#44a83c"/>
<circle cx="248.8" cy="67.1" r="1.5" fill="#7474c0"/>
<circle cx="233.6" cy="121.3" r="1.3" fill="#141460"/>
<circle cx="247.4" cy="112.9" r="1.0" fill="#d09848"/>
<circle cx="163.5" cy="141.9" r="0.9" fill="#2a2030"/>
<circle cx="102.7" cy="84.2" r="1.3" fill="#521a5c"/>
<circle cx="116.1" cy="121.7" r="0.9" fill="#44a83c"/>
<circle cx="158.6" cy="75.2" r="0.7" fill="#2a2030"/>
<circle cx="146.8" cy="186.1" r="0.6" fill="#3a3a20"/>
<circle cx="135.0" cy="87.4" r="0.8" fill="#b89a28"/>
<circle cx="93.8" cy="77.0" r="1.2" fill="#521a5c"/>
<circle cx="155.3" cy="102.9" r="0.8" fill="#3a3a20"/>
<circle cx="158.3" cy="97.2" r="0.8" fill="#b89a28"/>
<circle cx="254.1" cy="145.1" r="0.9" fill="#402840"/>
<circle cx="51.2" cy="86.1" r="1.4" fill="#521a5c"/>
<circle cx="183.5" cy="164.9" r="0.7" fill="#402840"/>
<circle cx="258.0" cy="100.9" r="1.2" fill="#7c7cc4"/>
<circle cx="32.6" cy="98.7" r="1.4" fill="#521a5c"/>
<circle cx="249.2" cy="119.1" r="1.4" fill="#d09848"/>
<circle cx="44.8" cy="110.2" r="1.4" fill="#eab0ea"/>
<circle cx="158.4" cy="155.4" r="1.0" fill="#d02424"/>
<circle cx="133.2" cy="107.7" r="0.8" fill="#b89a28"/>
<circle cx="154.8" cy="139.5" r="0.8" fill="#402840"/>
<circle cx="103.7" cy="86.2" r="0.9" fill="#6a2a70"/>
<circle cx="139.4" cy="182.4" r="1.1" fill="#d838d8"/>
<circle cx="261.4" cy="87.3" r="0.7" fill="#402840"/>
<circle cx="203.3" cy="163.5" r="1.2" fill="#d02424"/>
<circle cx="65.0" cy="154.3" r="1.5" fill="#6c8898"/>
<circle cx="81.0" cy="131.9" r="0.9" fill="#3434cc"/>
<circle cx="143.3" cy="145.1" r="1.1" fill="#3434cc"/>
<circle cx="195.1" cy="181.5" r="1.2" fill="#d838d8"/>
<circle cx="259.9" cy="75.7" r="1.0" fill="#7474c0"/>
<circle cx="159.8" cy="183.1" r="1.1" fill="#d838d8"/>
<circle cx="162.9" cy="99.3" r="0.7" fill="#a88838"/>
<circle cx="245.1" cy="88.3" r="0.9" fill="#3a3a20"/>
<circle cx="138.6" cy="86.7" r="1.0" fill="#b89a28"/>
<circle cx="183.8" cy="165.2" r="1.2" fill="#d02424"/>
<circle cx="262.6" cy="87.6" r="0.7" fill="#402840"/>
<circle cx="234.2" cy="106.4" r="1.4" fill="#d09848"/>
<circle cx="49.9" cy="116.1" r="1.2" fill="#6c8898"/>
<circle cx="150.2" cy="120.1" r="1.2" fill="#44a83c"/>
<circle cx="186.2" cy="196.8" r="0.6" fill="#30284a"/>
<circle cx="241.2" cy="95.3" r="1.3" fill="#7474c0"/>
<circle cx="233.8" cy="116.4" r="0.7" fill="#202030"/>
<circle cx="143.6" cy="116.2" r="0.9" fill="#44a83c"/>
<circle cx="178.2" cy="125.1" r="1.0" fill="#202030"/>
<circle cx="193.6" cy="79.7" r="0.7" fill="#b89a28"/>
<circle cx="40.0" cy="94.6" r="1.3" fill="#521a5c"/>
<circle cx="221.9" cy="118.6" r="0.8" fill="#3a3a20"/>
<circle cx="54.4" cy="137.2" r="1.3" fill="#6c8898"/>
<circle cx="108.2" cy="106.9" r="1.1" fill="#44a83c"/>
<circle cx="138.6" cy="177.6" r="0.7" fill="#3a3a20"/>
<circle cx="235.4" cy="66.9" r="0.7" fill="#402840"/>
<circle cx="259.3" cy="92.7" r="1.1" fill="#7c7cc4"/>
<circle cx="129.3" cy="80.5" r="0.7" fill="#b89a28"/>
<circle cx="207.2" cy="161.8" r="1.4" fill="#d09848"/>
<circle cx="145.6" cy="159.1" r="0.7" fill="#3a3a20"/>
<circle cx="136.5" cy="89.7" r="0.9" fill="#b89a28"/>
<circle cx="63.2" cy="149.2" r="1.3" fill="#b8d4f4"/>
<circle cx="251.1" cy="151.0" r="1.5" fill="#d09848"/>
<circle cx="247.1" cy="48.8" r="1.5" fill="#7474c0"/>
<circle cx="163.6" cy="99.0" r="0.8" fill="#b89a28"/>
<circle cx="112.5" cy="117.3" r="0.9" fill="#44a83c"/>
<circle cx="238.5" cy="98.8" r="1.5" fill="#7c7cc4"/>
<circle cx="180.9" cy="174.1" r="0.9" fill="#2a2030"/>
<circle cx="153.4" cy="189.4" r="1.1" fill="#d838d8"/>
<circle cx="62.0" cy="90.3" r="1.1" fill="#521a5c"/>
<circle cx="71.8" cy="83.5" r="1.4" fill="#521a5c"/>
<circle cx="63.2" cy="156.3" r="0.8" fill="#202030"/>
<circle cx="96.4" cy="159.2" r="0.7" fill="#3a3a20"/>
<circle cx="214.3" cy="145.9" r="1.1" fill="#141460"/>
<circle cx="201.1" cy="114.3" r="0.9" fill="#202030"/>
<circle cx="90.8" cy="124.2" r="1.3" fill="#3434cc"/>
<circle cx="74.6" cy="81.0" r="1.1" fill="#521a5c"/>
<circle cx="165.4" cy="116.3" r="0.9" fill="#44a83c"/>
<circle cx="103.0" cy="89.6" r="0.7" fill="#b89a28"/>
<circle cx="257.4" cy="119.2" r="1.4" fill="#d09848"/>
<circle cx="102.9" cy="72.4" r="1.2" fill="#521a5c"/>
<circle cx="139.3" cy="85.0" r="0.8" fill="#b89a28"/>
<circle cx="82.4" cy="93.3" r="0.7" fill="#b89a28"/>
<circle cx="158.9" cy="160.7" r="1.2" fill="#d02424"/>
<circle cx="140.9" cy="185.6" r="1.3" fill="#d838d8"/>
<circle cx="225.6" cy="148.4" r="1.1" fill="#d09848"/>
<circle cx="178.0" cy="86.6" r="0.7" fill="#a88838"/>
<circle cx="167.5" cy="122.6" r="1.1" fill="#44a83c"/>
<circle cx="104.4" cy="135.5" r="0.9" fill="#3434cc"/>
<circle cx="212.1" cy="120.5" r="1.1" fill="#141460"/>
<circle cx="202.3" cy="91.0" r="0.9" fill="#2a2030"/>
<circle cx="193.9" cy="115.6" r="1.0" fill="#202030"/>
<circle cx="245.9" cy="116.9" r="0.8" fill="#402840"/>
<circle cx="121.3" cy="146.4" r="0.9" fill="#3a3a20"/>
<circle cx="99.4" cy="101.7" r="0.8" fill="#b89a28"/>
<circle cx="237.9" cy="139.7" r="0.9" fill="#d09848"/>
<circle cx="105.6" cy="95.1" r="1.1" fill="#6a2a70"/>
<circle cx="241.7" cy="129.0" r="1.2" fill="#d09848"/>
<circle cx="164.9" cy="124.1" r="1.2" fill="#44a83c"/>
<circle cx="61.9" cy="133.5" r="1.2" fill="#6c8898"/>
<circle cx="126.8" cy="180.6" r="1.2" fill="#d838d8"/>
<circle cx="244.5" cy="83.0" r="1.4" fill="#7474c0"/>
<circle cx="237.1" cy="130.6" r="1.1" fill="#d09848"/>
<circle cx="236.6" cy="114.1" r="1.3" fill="#d09848"/>
<circle cx="161.2" cy="170.2" r="1.2" fill="#d02424"/>
<circle cx="97.7" cy="72.9" r="1.2" fill="#521a5c"/>
<circle cx="40.9" cy="113.6" r="1.2" fill="#eab0ea"/>
<circle cx="252.0" cy="122.6" r="1.1" fill="#d09848"/>
<circle cx="171.5" cy="151.0" r="1.0" fill="#3434cc"/>
<circle cx="169.3" cy="119.5" r="1.1" fill="#202030"/>
<circle cx="40.2" cy="111.0" r="1.3" fill="#eab0ea"/>
<circle cx="37.6" cy="114.4" r="1.5" fill="#eab0ea"/>
<circle cx="123.7" cy="130.6" r="1.3" fill="#3434cc"/>
<circle cx="158.5" cy="85.8" r="0.7" fill="#b89a28"/>
<circle cx="244.8" cy="82.3" r="1.2" fill="#7474c0"/>
<circle cx="244.2" cy="66.9" r="1.2" fill="#7474c0"/>
<circle cx="180.6" cy="174.4" r="1.2" fill="#d838d8"/>
<circle cx="82.7" cy="125.9" r="1.1" fill="#3434cc"/>
<circle cx="191.3" cy="96.1" r="0.9" fill="#3a3a20"/>
<circle cx="226.3" cy="91.0" r="1.2" fill="#7c7cc4"/>
<circle cx="133.2" cy="143.5" r="1.1" fill="#3434cc"/>
<circle cx="75.6" cy="92.3" r="1.2" fill="#521a5c"/>
<circle cx="208.9" cy="99.2" r="1.0" fill="#141460"/>
<circle cx="76.9" cy="80.4" r="0.7" fill="#b89a28"/>
<circle cx="93.7" cy="93.9" r="1.5" fill="#521a5c"/>
<circle cx="79.8" cy="93.9" r="1.3" fill="#521a5c"/>
<circle cx="69.4" cy="155.8" r="1.3" fill="#b8d4f4"/>
<circle cx="258.0" cy="121.2" r="1.0" fill="#d09848"/>
<circle cx="151.5" cy="75.9" r="0.7" fill="#202030"/>
<circle cx="195.4" cy="132.9" r="1.1" fill="#202030"/>
<circle cx="249.8" cy="94.2" r="1.4" fill="#7c7cc4"/>
<circle cx="245.4" cy="70.7" r="1.4" fill="#7474c0"/>
<circle cx="241.0" cy="82.4" r="1.6" fill="#7474c0"/>
<circle cx="59.7" cy="157.7" r="1.3" fill="#b8d4f4"/>
<circle cx="128.6" cy="110.1" r="1.1" fill="#44a83c"/>
<circle cx="234.1" cy="72.3" r="0.6" fill="#30284a"/>
<circle cx="245.4" cy="130.2" r="1.2" fill="#d09848"/>
<circle cx="56.3" cy="91.6" r="1.1" fill="#521a5c"/>
<circle cx="167.5" cy="78.3" r="0.8" fill="#b89a28"/>
<circle cx="99.6" cy="149.5" r="1.3" fill="#6c8898"/>
<circle cx="208.9" cy="76.3" r="0.8" fill="#a88838"/>
<circle cx="184.3" cy="160.3" r="1.1" fill="#d02424"/>
<circle cx="253.0" cy="77.1" r="0.9" fill="#3a3a20"/>
<circle cx="113.6" cy="108.4" r="1.1" fill="#44a83c"/>
<circle cx="145.7" cy="120.2" r="0.7" fill="#202030"/>
<circle cx="96.4" cy="121.1" r="1.1" fill="#44a83c"/>
<circle cx="241.3" cy="144.5" r="1.0" fill="#141460"/>
<circle cx="72.1" cy="135.0" r="1.1" fill="#6c8898"/>
<circle cx="152.1" cy="95.2" r="0.7" fill="#b89a28"/>
<circle cx="116.3" cy="68.6" r="1.0" fill="#b89a28"/>
<circle cx="81.1" cy="136.9" r="0.9" fill="#3434cc"/>
<circle cx="137.6" cy="130.2" r="0.9" fill="#202030"/>
<circle cx="126.4" cy="68.1" r="0.8" fill="#b89a28"/>
<circle cx="101.4" cy="116.5" r="1.1" fill="#44a83c"/>
<circle cx="237.5" cy="106.8" r="0.9" fill="#30284a"/>
<circle cx="245.4" cy="95.7" r="1.5" fill="#7c7cc4"/>
<circle cx="69.9" cy="95.2" r="1.2" fill="#521a5c"/>
<circle cx="124.7" cy="124.1" r="1.1" fill="#44a83c"/>
<circle cx="231.2" cy="159.8" r="0.7" fill="#402840"/>
<circle cx="102.1" cy="94.7" r="1.2" fill="#6a2a70"/>
<circle cx="50.6" cy="104.3" r="1.4" fill="#eab0ea"/>
<circle cx="213.0" cy="171.8" r="0.9" fill="#d02424"/>
<circle cx="54.1" cy="88.6" r="1.6" fill="#521a5c"/>
<circle cx="72.4" cy="115.0" r="1.1" fill="#6c8898"/>
<circle cx="41.8" cy="99.7" r="1.4" fill="#521a5c"/>
<circle cx="181.1" cy="125.4" r="0.9" fill="#44a83c"/>
<circle cx="244.0" cy="127.4" r="1.1" fill="#d09848"/>
<circle cx="167.4" cy="154.2" r="0.9" fill="#d02424"/>
<circle cx="179.9" cy="188.7" r="1.1" fill="#d838d8"/>
<circle cx="258.1" cy="101.0" r="1.3" fill="#7474c0"/>
<circle cx="155.8" cy="167.7" r="1.1" fill="#d838d8"/>
<circle cx="183.6" cy="107.5" r="1.2" fill="#44a83c"/>
<circle cx="228.6" cy="111.7" r="0.8" fill="#2a2030"/>
<circle cx="119.5" cy="94.9" r="0.8" fill="#b89a28"/>
<circle cx="243.9" cy="128.3" r="1.1" fill="#d09848"/>
<circle cx="152.1" cy="128.2" r="1.1" fill="#44a83c"/>
<circle cx="52.5" cy="90.9" r="1.2" fill="#521a5c"/>
<circle cx="240.5" cy="122.5" r="1.0" fill="#d09848"/>
<circle cx="102.6" cy="98.2" r="0.7" fill="#402840"/>
<circle cx="59.2" cy="154.3" r="1.5" fill="#b8d4f4"/>
<circle cx="43.6" cy="147.7" r="1.1" fill="#b8d4f4"/>
<circle cx="206.9" cy="176.1" r="1.3" fill="#d02424"/>
<circle cx="77.1" cy="102.0" r="1.1" fill="#521a5c"/>
<circle cx="167.1" cy="157.5" r="1.2" fill="#3434cc"/>
<circle cx="245.0" cy="115.5" r="1.1" fill="#d09848"/>
<circle cx="130.6" cy="111.4" r="1.2" fill="#44a83c"/>
<circle cx="133.3" cy="98.7" r="1.0" fill="#b89a28"/>
<circle cx="218.9" cy="66.2" r="0.8" fill="#30284a"/>
<circle cx="232.6" cy="138.0" r="0.9" fill="#402840"/>
<circle cx="233.0" cy="95.4" r="1.4" fill="#7474c0"/>
<circle cx="131.3" cy="70.9" r="1.0" fill="#b89a28"/>
<circle cx="188.0" cy="188.0" r="0.7" fill="#402840"/>
<circle cx="157.1" cy="151.5" r="0.7" fill="#3a3a20"/>
<circle cx="61.7" cy="93.2" r="1.5" fill="#521a5c"/>
<circle cx="194.5" cy="141.6" r="0.9" fill="#3a3a20"/>
<circle cx="234.1" cy="105.2" r="1.4" fill="#d09848"/>
<circle cx="174.4" cy="159.1" r="0.9" fill="#202030"/>
<circle cx="154.0" cy="152.6" r="1.2" fill="#d02424"/>
<circle cx="152.2" cy="66.4" r="0.7" fill="#30284a"/>
<circle cx="239.6" cy="151.4" r="1.2" fill="#d09848"/>
<circle cx="213.4" cy="154.7" r="1.2" fill="#d09848"/>
<circle cx="254.8" cy="79.9" r="1.6" fill="#7474c0"/>
<circle cx="195.8" cy="127.3" r="1.3" fill="#141460"/>
<circle cx="215.1" cy="64.1" r="0.9" fill="#30284a"/>
<circle cx="258.1" cy="69.5" r="1.6" fill="#7474c0"/>
<circle cx="109.8" cy="101.0" r="1.0" fill="#44a83c"/>
<circle cx="257.9" cy="128.4" r="1.3" fill="#d09848"/>
<circle cx="164.5" cy="154.6" r="1.0" fill="#d02424"/>
<circle cx="108.3" cy="70.0" r="0.8" fill="#b89a28"/>
<circle cx="99.0" cy="82.5" r="0.7" fill="#b89a28"/>
<circle cx="264.7" cy="67.8" r="1.6" fill="#7474c0"/>
<circle cx="236.0" cy="93.7" r="1.4" fill="#7c7cc4"/>
<circle cx="49.5" cy="83.9" r="1.6" fill="#521a5c"/>
<circle cx="155.0" cy="185.5" r="0.7" fill="#30284a"/>
<circle cx="219.7" cy="65.2" r="0.8" fill="#2a2030"/>
<circle cx="154.1" cy="100.2" r="0.6" fill="#30284a"/>
<circle cx="250.6" cy="122.7" r="0.8" fill="#30284a"/>
<circle cx="48.1" cy="138.6" r="1.0" fill="#b8d4f4"/>
<circle cx="163.9" cy="182.5" r="1.2" fill="#d838d8"/>
<circle cx="88.2" cy="78.8" r="1.4" fill="#521a5c"/>
<circle cx="164.5" cy="93.7" r="0.7" fill="#402840"/>
<circle cx="183.8" cy="165.7" r="1.2" fill="#d02424"/>
<circle cx="211.5" cy="101.1" r="0.7" fill="#30284a"/>
<circle cx="246.5" cy="105.1" r="1.4" fill="#d09848"/>
<circle cx="172.0" cy="90.5" r="0.7" fill="#a88838"/>
<circle cx="104.0" cy="80.5" r="1.5" fill="#521a5c"/>
<circle cx="120.3" cy="93.4" r="0.8" fill="#b89a28"/>
<circle cx="101.3" cy="134.4" r="1.3" fill="#3434cc"/>
<circle cx="243.3" cy="43.1" r="0.7" fill="#30284a"/>
<circle cx="125.1" cy="112.5" r="1.3" fill="#44a83c"/>
<circle cx="131.1" cy="124.9" r="1.3" fill="#3434cc"/>
<circle cx="233.4" cy="106.7" r="1.3" fill="#7c7cc4"/>
<circle cx="40.1" cy="92.1" r="1.5" fill="#521a5c"/>
<circle cx="127.9" cy="113.5" r="1.2" fill="#44a83c"/>
<circle cx="159.3" cy="161.6" r="1.3" fill="#d02424"/>
<circle cx="79.3" cy="106.6" r="1.1" fill="#521a5c"/>
<circle cx="142.6" cy="74.8" r="0.8" fill="#b89a28"/>
<circle cx="219.2" cy="140.9" r="1.1" fill="#141460"/>
<circle cx="262.1" cy="71.3" r="0.8" fill="#30284a"/>
<circle cx="222.9" cy="144.4" r="1.0" fill="#141460"/>
<circle cx="84.4" cy="81.9" r="1.5" fill="#521a5c"/>
<circle cx="119.9" cy="166.3" r="0.7" fill="#2a2030"/>
<circle cx="51.9" cy="79.4" r="1.4" fill="#521a5c"/>
<circle cx="173.5" cy="96.3" r="0.6" fill="#30284a"/>
<circle cx="67.9" cy="76.8" r="1.2" fill="#521a5c"/>
<circle cx="247.4" cy="69.8" r="1.0" fill="#7474c0"/>
<circle cx="172.3" cy="160.0" r="0.9" fill="#402840"/>
<circle cx="107.2" cy="90.0" r="0.9" fill="#b89a28"/>
<circle cx="132.1" cy="112.5" r="0.7" fill="#2a2030"/>
<circle cx="249.4" cy="137.3" r="0.7" fill="#30284a"/>
<circle cx="125.1" cy="84.7" r="0.8" fill="#b89a28"/>
<circle cx="208.5" cy="132.9" r="1.1" fill="#141460"/>
<circle cx="101.7" cy="92.3" r="1.0" fill="#b89a28"/>
<circle cx="143.2" cy="85.0" r="0.8" fill="#b89a28"/>
<circle cx="260.0" cy="110.1" r="1.4" fill="#d09848"/>
<circle cx="82.3" cy="123.5" r="1.3" fill="#3434cc"/>
<circle cx="171.8" cy="117.3" r="1.1" fill="#44a83c"/>
<circle cx="229.5" cy="96.6" r="0.7" fill="#30284a"/>
<circle cx="123.4" cy="82.2" r="0.8" fill="#b89a28"/>
<circle cx="238.9" cy="92.0" r="1.5" fill="#7c7cc4"/>
<circle cx="136.3" cy="159.7" r="0.8" fill="#402840"/>
<circle cx="239.6" cy="136.0" r="0.9" fill="#202030"/>
<circle cx="233.6" cy="92.5" r="1.1" fill="#7c7cc4"/>
<circle cx="198.1" cy="184.0" r="1.1" fill="#d838d8"/>
<circle cx="191.1" cy="159.3" r="0.9" fill="#2a2030"/>
<circle cx="253.9" cy="137.6" r="1.4" fill="#d09848"/>
<circle cx="65.4" cy="98.8" r="1.6" fill="#521a5c"/>
<circle cx="48.3" cy="134.2" r="1.0" fill="#6c8898"/>
<circle cx="89.9" cy="90.7" r="1.1" fill="#521a5c"/>
<circle cx="142.2" cy="173.4" r="1.1" fill="#d838d8"/>
<circle cx="190.2" cy="179.9" r="1.0" fill="#202030"/>
<circle cx="90.7" cy="111.7" r="1.3" fill="#44a83c"/>
<circle cx="125.3" cy="76.5" r="0.9" fill="#b89a28"/>
<circle cx="195.6" cy="83.1" r="0.7" fill="#402840"/>
<circle cx="64.6" cy="95.6" r="1.5" fill="#521a5c"/>
<circle cx="227.9" cy="121.5" r="0.9" fill="#202030"/>
<circle cx="133.1" cy="89.6" r="1.0" fill="#b89a28"/>
<circle cx="233.3" cy="97.9" r="1.3" fill="#7c7cc4"/>
<circle cx="179.5" cy="170.8" r="1.0" fill="#d02424"/>
<circle cx="227.4" cy="141.6" r="0.8" fill="#30284a"/>
<circle cx="152.9" cy="121.8" r="1.2" fill="#44a83c"/>
<circle cx="162.9" cy="151.5" r="1.3" fill="#d02424"/>
<circle cx="144.1" cy="105.0" r="0.7" fill="#3a3a20"/>
<circle cx="224.1" cy="116.2" r="1.1" fill="#141460"/>
<circle cx="125.8" cy="123.9" r="1.1" fill="#44a83c"/>
<circle cx="241.8" cy="112.4" r="1.3" fill="#d09848"/>
<circle cx="190.0" cy="79.7" r="0.8" fill="#a88838"/>
<circle cx="107.7" cy="115.4" r="1.2" fill="#44a83c"/>
<circle cx="88.2" cy="104.7" r="1.1" fill="#44a83c"/>
<circle cx="37.1" cy="101.1" r="1.4" fill="#521a5c"/>
<circle cx="127.4" cy="124.6" r="1.1" fill="#3434cc"/>
<circle cx="147.1" cy="183.4" r="1.2" fill="#d838d8"/>
<circle cx="209.6" cy="129.0" r="1.0" fill="#141460"/>
<circle cx="169.5" cy="146.6" r="1.0" fill="#202030"/>
<circle cx="88.1" cy="157.3" r="1.3" fill="#6c8898"/>
<circle cx="106.7" cy="141.8" r="1.2" fill="#3434cc"/>
<circle cx="188.8" cy="104.7" r="1.0" fill="#202030"/>
<circle cx="41.0" cy="108.5" r="1.2" fill="#eab0ea"/>
<circle cx="256.7" cy="126.2" r="1.5" fill="#d09848"/>
<circle cx="77.8" cy="98.8" r="1.2" fill="#521a5c"/>
<circle cx="216.5" cy="170.4" r="1.0" fill="#d09848"/>
<circle cx="258.1" cy="78.7" r="1.0" fill="#7474c0"/>
<circle cx="131.3" cy="86.0" r="0.9" fill="#b89a28"/>
<circle cx="160.4" cy="126.4" r="1.1" fill="#44a83c"/>
<circle cx="236.6" cy="72.9" r="1.5" fill="#7474c0"/>
<circle cx="125.1" cy="133.0" r="0.9" fill="#3434cc"/>
<circle cx="229.1" cy="104.6" r="1.4" fill="#7c7cc4"/>
<circle cx="247.5" cy="80.6" r="1.2" fill="#7474c0"/>
<circle cx="66.8" cy="81.2" r="1.5" fill="#521a5c"/>
<circle cx="71.5" cy="75.8" r="1.5" fill="#521a5c"/>
<circle cx="96.3" cy="99.8" r="1.6" fill="#521a5c"/>
<circle cx="262.2" cy="94.4" r="0.7" fill="#2a2030"/>
<circle cx="61.7" cy="146.1" r="1.4" fill="#6c8898"/>
<circle cx="170.8" cy="176.0" r="1.0" fill="#202030"/>
<circle cx="238.0" cy="95.3" r="1.2" fill="#7c7cc4"/>
<circle cx="244.6" cy="129.8" r="1.1" fill="#d09848"/>
<circle cx="211.6" cy="75.0" r="0.7" fill="#3a3a20"/>
<circle cx="245.7" cy="119.7" r="1.1" fill="#d09848"/>
<circle cx="193.9" cy="158.1" r="0.7" fill="#3a3a20"/>
<circle cx="146.1" cy="90.6" r="0.9" fill="#2a2030"/>
<circle cx="60.3" cy="78.9" r="1.3" fill="#521a5c"/>
<circle cx="244.8" cy="57.6" r="0.9" fill="#2a2030"/>
<circle cx="188.0" cy="167.5" r="1.1" fill="#d02424"/>
<circle cx="103.3" cy="88.8" r="1.1" fill="#6a2a70"/>
<circle cx="45.0" cy="143.2" r="1.3" fill="#b8d4f4"/>
<circle cx="236.7" cy="96.1" r="1.3" fill="#7c7cc4"/>
<circle cx="227.8" cy="93.3" r="1.2" fill="#7c7cc4"/>
<circle cx="161.6" cy="150.4" r="0.7" fill="#30284a"/>
<circle cx="243.0" cy="133.6" r="1.1" fill="#d09848"/>
<circle cx="54.1" cy="137.5" r="1.5" fill="#6c8898"/>
<circle cx="77.7" cy="86.9" r="1.4" fill="#521a5c"/>
<circle cx="98.3" cy="75.0" r="0.9" fill="#2a2030"/>
<circle cx="106.1" cy="89.1" r="1.0" fill="#b89a28"/>
<circle cx="154.4" cy="83.9" r="0.9" fill="#2a2030"/>
<circle cx="239.5" cy="68.2" r="0.6" fill="#30284a"/>
<circle cx="243.9" cy="61.5" r="1.2" fill="#7474c0"/>
<circle cx="195.2" cy="179.4" r="1.2" fill="#d838d8"/>
<circle cx="141.3" cy="84.8" r="0.8" fill="#b89a28"/>
<circle cx="239.7" cy="97.6" r="0.7" fill="#2a2030"/>
<circle cx="84.5" cy="92.1" r="1.5" fill="#521a5c"/>
<circle cx="200.2" cy="129.1" r="1.1" fill="#141460"/>
<circle cx="174.4" cy="106.2" r="1.3" fill="#44a83c"/>
<circle cx="59.6" cy="143.9" r="1.2" fill="#6c8898"/>
<circle cx="240.4" cy="131.5" r="1.2" fill="#141460"/>
<circle cx="93.7" cy="87.4" r="1.0" fill="#b89a28"/>
<circle cx="82.5" cy="94.9" r="1.5" fill="#521a5c"/>
<circle cx="193.1" cy="132.1" r="0.9" fill="#2a2030"/>
<circle cx="130.1" cy="147.8" r="0.9" fill="#2a2030"/>
<circle cx="97.5" cy="122.0" r="1.2" fill="#44a83c"/>
<circle cx="214.8" cy="62.3" r="1.0" fill="#202030"/>
<circle cx="77.4" cy="128.0" r="1.2" fill="#6c8898"/>
<circle cx="120.9" cy="144.7" r="1.2" fill="#3434cc"/>
<circle cx="111.8" cy="80.6" r="0.7" fill="#b89a28"/>
<circle cx="239.4" cy="74.5" r="1.4" fill="#7474c0"/>
<circle cx="39.7" cy="112.8" r="1.3" fill="#eab0ea"/>
<circle cx="148.2" cy="157.6" r="0.9" fill="#d02424"/>
<circle cx="193.2" cy="125.4" r="1.1" fill="#141460"/>
<circle cx="66.7" cy="85.1" r="1.1" fill="#521a5c"/>
<circle cx="175.9" cy="101.9" r="0.9" fill="#b89a28"/>
<circle cx="143.3" cy="130.1" r="0.6" fill="#30284a"/>
<circle cx="49.6" cy="101.1" r="1.6" fill="#521a5c"/>
<circle cx="158.7" cy="128.5" r="0.7" fill="#3a3a20"/>
<circle cx="239.0" cy="116.5" r="1.3" fill="#d09848"/>
<circle cx="86.1" cy="89.3" r="1.3" fill="#521a5c"/>
<circle cx="229.8" cy="107.8" r="1.0" fill="#141460"/>
<circle cx="146.9" cy="133.9" r="1.0" fill="#3434cc"/>
<circle cx="194.8" cy="99.0" r="0.8" fill="#3a3a20"/>
<circle cx="92.6" cy="87.2" r="1.3" fill="#6a2a70"/>
<circle cx="60.4" cy="74.9" r="1.3" fill="#521a5c"/>
<circle cx="158.3" cy="103.6" r="0.9" fill="#202030"/>
<circle cx="102.2" cy="146.5" r="0.9" fill="#3434cc"/>
<circle cx="194.6" cy="81.1" r="0.8" fill="#a88838"/>
<circle cx="227.9" cy="153.7" r="1.3" fill="#d09848"/>
<circle cx="267.8" cy="114.2" r="0.9" fill="#402840"/>
<circle cx="112.0" cy="99.4" r="1.0" fill="#b89a28"/>
<circle cx="171.1" cy="150.9" r="1.0" fill="#202030"/>
<circle cx="202.7" cy="163.2" r="1.2" fill="#d02424"/>
<circle cx="256.6" cy="124.9" r="1.3" fill="#141460"/>
<circle cx="171.9" cy="75.9" r="1.0" fill="#a88838"/>
<circle cx="202.8" cy="136.2" r="0.7" fill="#30284a"/>
<circle cx="77.8" cy="88.1" r="0.8" fill="#b89a28"/>
<circle cx="140.1" cy="114.0" r="1.2" fill="#44a83c"/>
<circle cx="206.2" cy="183.1" r="1.3" fill="#d838d8"/>
<circle cx="247.1" cy="44.7" r="0.7" fill="#2a2030"/>
<circle cx="55.9" cy="115.4" r="1.3" fill="#eab0ea"/>
<circle cx="250.2" cy="56.2" r="1.1" fill="#7474c0"/>
<circle cx="148.3" cy="84.5" r="0.9" fill="#b89a28"/>
<circle cx="220.7" cy="98.3" r="1.0" fill="#141460"/>
<circle cx="48.3" cy="114.4" r="1.3" fill="#eab0ea"/>
<circle cx="244.4" cy="116.9" r="0.8" fill="#402840"/>
<circle cx="239.4" cy="133.3" r="0.8" fill="#2a2030"/>
<circle cx="59.3" cy="92.7" r="1.3" fill="#521a5c"/>
<circle cx="120.2" cy="118.1" r="1.2" fill="#44a83c"/>
<circle cx="127.7" cy="95.8" r="0.7" fill="#b89a28"/>
<circle cx="79.0" cy="159.0" r="1.4" fill="#6c8898"/>
<circle cx="42.6" cy="107.8" r="1.4" fill="#eab0ea"/>
<circle cx="161.9" cy="87.1" r="0.9" fill="#a88838"/>
<circle cx="139.4" cy="143.1" r="1.3" fill="#3434cc"/>
<circle cx="40.0" cy="89.6" r="1.3" fill="#521a5c"/>
<circle cx="136.3" cy="92.3" r="0.9" fill="#b89a28"/>
<circle cx="42.5" cy="82.8" r="1.4" fill="#521a5c"/>
<circle cx="223.1" cy="98.4" r="0.7" fill="#30284a"/>
<circle cx="95.9" cy="94.0" r="1.5" fill="#521a5c"/>
<circle cx="32.8" cy="99.1" r="1.1" fill="#eab0ea"/>
<circle cx="106.4" cy="83.1" r="0.8" fill="#b89a28"/>
<circle cx="90.7" cy="79.4" r="0.9" fill="#b89a28"/>
<circle cx="109.6" cy="122.3" r="1.0" fill="#44a83c"/>
<circle cx="136.2" cy="144.8" r="0.7" fill="#30284a"/>
<circle cx="126.4" cy="130.7" r="1.1" fill="#202030"/>
<circle cx="162.2" cy="93.8" r="0.9" fill="#b89a28"/>
<circle cx="47.4" cy="114.5" r="1.1" fill="#eab0ea"/>
<circle cx="109.7" cy="85.0" r="1.0" fill="#6a2a70"/>
<circle cx="144.3" cy="112.2" r="0.9" fill="#44a83c"/>
<circle cx="72.9" cy="81.5" r="1.3" fill="#521a5c"/>
<circle cx="67.8" cy="153.2" r="1.2" fill="#6c8898"/>
<circle cx="249.1" cy="105.9" r="1.4" fill="#d09848"/>
<circle cx="163.6" cy="65.3" r="0.8" fill="#b89a28"/>
<circle cx="184.2" cy="126.5" r="0.8" fill="#3a3a20"/>
<circle cx="170.5" cy="166.0" r="1.3" fill="#d02424"/>
<circle cx="233.1" cy="55.6" r="0.8" fill="#2a2030"/>
<circle cx="61.7" cy="148.9" r="1.5" fill="#6c8898"/>
<circle cx="241.3" cy="92.4" r="1.5" fill="#7c7cc4"/>
<circle cx="217.2" cy="80.2" r="0.9" fill="#3a3a20"/>
<circle cx="193.4" cy="128.6" r="0.7" fill="#202030"/>
<circle cx="110.4" cy="113.5" r="1.1" fill="#44a83c"/>
<circle cx="231.6" cy="111.2" r="1.4" fill="#7c7cc4"/>
<circle cx="116.5" cy="176.2" r="1.0" fill="#d838d8"/>
<circle cx="122.7" cy="91.1" r="0.9" fill="#b89a28"/>
<circle cx="58.1" cy="131.9" r="1.2" fill="#b8d4f4"/>
<circle cx="141.5" cy="181.0" r="1.2" fill="#d838d8"/>
<circle cx="239.1" cy="76.2" r="1.2" fill="#7474c0"/>
<circle cx="156.4" cy="93.3" r="0.8" fill="#a88838"/>
<circle cx="134.0" cy="74.4" r="0.9" fill="#b89a28"/>
<circle cx="90.7" cy="155.8" r="1.2" fill="#6c8898"/>
<circle cx="50.5" cy="116.6" r="1.3" fill="#eab0ea"/>
<circle cx="189.8" cy="161.9" r="0.8" fill="#2a2030"/>
<circle cx="142.3" cy="112.7" r="1.0" fill="#44a83c"/>
<circle cx="181.8" cy="112.2" r="1.0" fill="#44a83c"/>
<circle cx="75.6" cy="87.3" r="1.2" fill="#521a5c"/>
<circle cx="47.1" cy="84.6" r="1.1" fill="#521a5c"/>
<circle cx="85.0" cy="85.8" r="1.2" fill="#521a5c"/>
<circle cx="260.7" cy="115.2" r="1.2" fill="#d09848"/>
<circle cx="119.2" cy="108.8" r="1.1" fill="#44a83c"/>
<circle cx="40.7" cy="94.4" r="1.1" fill="#eab0ea"/>
<circle cx="221.7" cy="147.1" r="1.4" fill="#d09848"/>
<circle cx="54.2" cy="94.7" r="1.0" fill="#202030"/>
<circle cx="188.1" cy="90.2" r="0.9" fill="#a88838"/>
<circle cx="234.8" cy="92.3" r="1.2" fill="#7c7cc4"/>
<circle cx="251.0" cy="118.3" r="1.3" fill="#d09848"/>
<circle cx="162.2" cy="80.7" r="0.9" fill="#a88838"/>
<circle cx="134.0" cy="98.2" r="0.9" fill="#30284a"/>
<circle cx="249.3" cy="119.5" r="1.3" fill="#d09848"/>
<circle cx="181.5" cy="187.1" r="1.1" fill="#d838d8"/>
<circle cx="133.2" cy="104.0" r="1.1" fill="#202030"/>
<circle cx="66.6" cy="146.3" r="1.4" fill="#6c8898"/>
<circle cx="85.5" cy="87.8" r="0.7" fill="#b89a28"/>
<circle cx="140.6" cy="145.9" r="1.3" fill="#3434cc"/>
<circle cx="190.1" cy="180.7" r="1.4" fill="#d838d8"/>
<circle cx="214.7" cy="159.8" r="1.3" fill="#d09848"/>
<circle cx="34.5" cy="117.9" r="1.2" fill="#eab0ea"/>
<circle cx="95.8" cy="74.5" r="1.6" fill="#521a5c"/>
<circle cx="213.1" cy="96.5" r="0.8" fill="#30284a"/>
<circle cx="70.0" cy="105.0" r="1.3" fill="#521a5c"/>
<circle cx="247.1" cy="41.9" r="0.9" fill="#3a3a20"/>
<circle cx="127.5" cy="91.2" r="0.7" fill="#b89a28"/>
<circle cx="236.2" cy="63.7" r="1.5" fill="#7474c0"/>
<circle cx="233.0" cy="83.3" r="1.5" fill="#7474c0"/>
<circle cx="60.2" cy="96.6" r="1.2" fill="#521a5c"/>
<circle cx="128.3" cy="128.6" r="0.8" fill="#2a2030"/>
<circle cx="168.3" cy="67.5" r="1.0" fill="#b89a28"/>
<circle cx="196.5" cy="127.6" r="1.1" fill="#141460"/>
<circle cx="207.6" cy="150.0" r="1.0" fill="#202030"/>
<circle cx="248.4" cy="99.7" r="1.2" fill="#7474c0"/>
<circle cx="241.5" cy="136.4" r="1.2" fill="#d09848"/>
<circle cx="218.5" cy="87.1" r="1.1" fill="#7c7cc4"/>
<circle cx="207.8" cy="150.6" r="0.8" fill="#402840"/>
<circle cx="197.9" cy="152.7" r="0.9" fill="#402840"/>
<circle cx="45.1" cy="143.5" r="1.2" fill="#b8d4f4"/>
<circle cx="92.9" cy="80.0" r="1.3" fill="#6a2a70"/>
<circle cx="124.7" cy="158.2" r="0.7" fill="#3a3a20"/>
<circle cx="105.9" cy="128.3" r="1.2" fill="#3434cc"/>
<circle cx="95.6" cy="134.1" r="1.4" fill="#6c8898"/>
<circle cx="56.2" cy="104.7" r="1.5" fill="#eab0ea"/>
<circle cx="237.1" cy="160.9" r="0.9" fill="#202030"/>
<circle cx="230.6" cy="154.6" r="1.2" fill="#d09848"/>
<circle cx="168.4" cy="158.5" r="0.7" fill="#30284a"/>
<circle cx="64.4" cy="154.1" r="1.1" fill="#b8d4f4"/>
<circle cx="116.7" cy="99.8" r="0.9" fill="#402840"/>
<circle cx="173.8" cy="84.1" r="0.9" fill="#402840"/>
<circle cx="57.7" cy="135.1" r="1.2" fill="#6c8898"/>
<circle cx="136.1" cy="181.2" r="1.1" fill="#d838d8"/>
<circle cx="259.1" cy="95.7" r="1.5" fill="#7474c0"/>
<circle cx="87.2" cy="80.9" r="0.9" fill="#b89a28"/>
<circle cx="194.3" cy="129.9" r="0.9" fill="#3a3a20"/>
<circle cx="59.5" cy="83.1" r="1.3" fill="#521a5c"/>
<circle cx="238.0" cy="133.3" r="1.0" fill="#141460"/>
<circle cx="103.9" cy="77.9" r="0.8" fill="#b89a28"/>
<circle cx="149.1" cy="148.8" r="0.8" fill="#202030"/>
<circle cx="168.5" cy="183.2" r="0.9" fill="#3a3a20"/>
<circle cx="156.1" cy="83.4" r="0.9" fill="#202030"/>
<circle cx="167.2" cy="156.6" r="1.0" fill="#202030"/>
<circle cx="231.0" cy="165.1" r="0.7" fill="#2a2030"/>
<circle cx="92.0" cy="110.7" r="0.9" fill="#44a83c"/>
<circle cx="216.6" cy="149.9" r="1.2" fill="#d09848"/>
<circle cx="231.3" cy="97.9" r="1.3" fill="#7c7cc4"/>
<circle cx="106.0" cy="126.8" r="1.0" fill="#202030"/>
<circle cx="78.8" cy="97.9" r="1.5" fill="#521a5c"/>
<circle cx="46.5" cy="135.3" r="1.4" fill="#b8d4f4"/>
<circle cx="94.2" cy="130.0" r="1.2" fill="#6c8898"/>
<circle cx="165.5" cy="184.5" r="1.0" fill="#d838d8"/>
<circle cx="182.3" cy="67.0" r="0.8" fill="#3a3a20"/>
<circle cx="91.4" cy="134.1" r="1.0" fill="#3434cc"/>
<circle cx="125.8" cy="108.6" r="0.6" fill="#3a3a20"/>
<circle cx="93.9" cy="131.0" r="1.1" fill="#3434cc"/>
<circle cx="246.7" cy="65.7" r="1.5" fill="#7474c0"/>
<circle cx="191.6" cy="111.1" r="0.7" fill="#202030"/>
<circle cx="199.7" cy="87.7" r="0.8" fill="#30284a"/>
<circle cx="146.6" cy="145.5" r="0.8" fill="#30284a"/>
<circle cx="256.3" cy="133.8" r="1.2" fill="#d09848"/>
<circle cx="95.2" cy="89.1" r="0.8" fill="#b89a28"/>
<circle cx="90.4" cy="75.3" r="1.6" fill="#521a5c"/>
<circle cx="251.6" cy="112.9" r="0.9" fill="#30284a"/>
<circle cx="158.3" cy="177.3" r="1.3" fill="#d838d8"/>
<circle cx="142.2" cy="107.1" r="1.3" fill="#44a83c"/>
<circle cx="241.8" cy="115.3" r="1.1" fill="#d09848"/>
<circle cx="244.3" cy="55.3" r="1.4" fill="#7474c0"/>
<circle cx="135.3" cy="165.3" r="0.7" fill="#402840"/>
<circle cx="191.2" cy="90.7" r="0.9" fill="#202030"/>
<circle cx="106.4" cy="141.4" r="1.0" fill="#3434cc"/>
<circle cx="53.6" cy="84.6" r="1.1" fill="#521a5c"/>
<circle cx="154.3" cy="168.6" r="1.3" fill="#d838d8"/>
<circle cx="68.8" cy="137.3" r="1.0" fill="#6c8898"/>
<circle cx="163.9" cy="110.7" r="0.9" fill="#202030"/>
<circle cx="151.4" cy="145.4" r="0.9" fill="#3434cc"/>
<circle cx="252.6" cy="92.1" r="1.6" fill="#7474c0"/>
<circle cx="87.0" cy="78.6" r="1.6" fill="#521a5c"/>
<circle cx="212.1" cy="170.1" r="0.6" fill="#3a3a20"/>
<circle cx="249.3" cy="96.0" r="0.6" fill="#2a2030"/>
<circle cx="104.0" cy="72.7" r="1.1" fill="#521a5c"/>
<circle cx="144.7" cy="182.0" r="1.3" fill="#d838d8"/>
<circle cx="57.3" cy="79.7" r="1.2" fill="#521a5c"/>
<circle cx="224.8" cy="106.6" r="0.8" fill="#2a2030"/>
<circle cx="77.8" cy="80.9" r="1.1" fill="#521a5c"/>
<circle cx="171.0" cy="185.3" r="1.4" fill="#d838d8"/>
<circle cx="253.6" cy="118.3" r="1.4" fill="#d09848"/>
<circle cx="247.9" cy="83.3" r="1.3" fill="#7c7cc4"/>
<circle cx="38.7" cy="116.9" r="1.3" fill="#6c8898"/>
<circle cx="161.9" cy="118.0" r="1.1" fill="#44a83c"/>
<circle cx="213.5" cy="76.4" r="0.7" fill="#402840"/>
<circle cx="150.9" cy="105.1" r="0.9" fill="#202030"/>
<circle cx="232.5" cy="100.6" r="1.2" fill="#7c7cc4"/>
<circle cx="167.2" cy="105.6" r="1.1" fill="#44a83c"/>
<circle cx="249.7" cy="133.1" r="1.5" fill="#d09848"/>
<circle cx="99.3" cy="95.5" r="0.7" fill="#b89a28"/>
<circle cx="128.7" cy="72.4" r="0.9" fill="#b89a28"/>
<circle cx="53.9" cy="79.3" r="1.3" fill="#521a5c"/>
<circle cx="238.8" cy="129.6" r="0.7" fill="#30284a"/>
<circle cx="196.8" cy="125.2" r="0.9" fill="#141460"/>
<circle cx="119.5" cy="131.0" r="1.1" fill="#3434cc"/>
<circle cx="221.2" cy="99.9" r="1.5" fill="#7c7cc4"/>
<circle cx="225.6" cy="52.5" r="0.9" fill="#402840"/>
<circle cx="154.4" cy="113.9" r="0.8" fill="#202030"/>
<circle cx="119.3" cy="91.0" r="1.0" fill="#b89a28"/>
<circle cx="54.8" cy="85.3" r="1.2" fill="#521a5c"/>
<circle cx="164.9" cy="188.5" r="1.4" fill="#d838d8"/>
<circle cx="219.0" cy="140.1" r="0.8" fill="#402840"/>
<circle cx="157.3" cy="172.8" r="0.8" fill="#3a3a20"/>
<circle cx="75.0" cy="83.6" r="0.9" fill="#b89a28"/>
<circle cx="98.1" cy="143.5" r="0.6" fill="#3a3a20"/>
<circle cx="34.2" cy="105.9" r="1.2" fill="#eab0ea"/>
<circle cx="250.5" cy="90.8" r="0.6" fill="#3a3a20"/>
<circle cx="113.7" cy="111.0" r="1.0" fill="#44a83c"/>
<circle cx="225.3" cy="144.1" r="1.1" fill="#202030"/>
<circle cx="121.6" cy="158.0" r="0.6" fill="#30284a"/>
<circle cx="218.3" cy="137.9" r="0.6" fill="#2a2030"/>
<circle cx="84.4" cy="94.8" r="1.4" fill="#521a5c"/>
<circle cx="215.9" cy="143.9" r="1.4" fill="#d09848"/>
<circle cx="261.5" cy="105.0" r="0.7" fill="#402840"/>
<circle cx="46.1" cy="130.4" r="1.3" fill="#6c8898"/>
<circle cx="208.7" cy="184.8" r="1.4" fill="#d838d8"/>
<circle cx="30.2" cy="111.4" r="1.1" fill="#eab0ea"/>
<circle cx="235.9" cy="119.0" r="1.2" fill="#d09848"/>
<circle cx="203.8" cy="177.2" r="1.3" fill="#d838d8"/>
<circle cx="55.2" cy="101.6" r="1.1" fill="#521a5c"/>
<circle cx="89.5" cy="128.3" r="1.1" fill="#202030"/>
<circle cx="108.4" cy="94.3" r="0.8" fill="#b89a28"/>
<circle cx="225.8" cy="149.0" r="1.3" fill="#d09848"/>
<circle cx="175.4" cy="119.8" r="1.1" fill="#44a83c"/>
<circle cx="260.8" cy="129.4" r="1.3" fill="#d09848"/>
<circle cx="135.7" cy="118.1" r="0.8" fill="#402840"/>
<circle cx="186.7" cy="63.5" r="0.7" fill="#2a2030"/>
<circle cx="108.6" cy="103.9" r="0.9" fill="#402840"/>
<circle cx="41.2" cy="128.6" r="1.4" fill="#6c8898"/>
<circle cx="131.4" cy="93.7" r="0.8" fill="#b89a28"/>
<circle cx="71.8" cy="96.1" r="1.2" fill="#521a5c"/>
<circle cx="101.0" cy="92.6" r="1.2" fill="#202030"/>
<circle cx="56.6" cy="127.9" r="1.2" fill="#6c8898"/>
<circle cx="160.5" cy="125.0" r="1.0" fill="#44a83c"/>
<circle cx="188.8" cy="84.1" r="0.7" fill="#2a2030"/>
<circle cx="160.6" cy="161.4" r="1.0" fill="#d02424"/>
<circle cx="92.8" cy="83.1" r="1.1" fill="#521a5c"/>
<circle cx="86.6" cy="81.1" r="1.2" fill="#521a5c"/>
<circle cx="74.5" cy="129.1" r="1.4" fill="#6c8898"/>
<circle cx="258.4" cy="52.9" r="0.8" fill="#3a3a20"/>
<circle cx="165.6" cy="158.1" r="0.8" fill="#3a3a20"/>
<circle cx="62.3" cy="144.0" r="1.3" fill="#6c8898"/>
<circle cx="253.5" cy="76.3" r="1.3" fill="#7474c0"/>
<circle cx="251.4" cy="119.7" r="0.7" fill="#202030"/>
<circle cx="133.5" cy="129.4" r="0.7" fill="#202030"/>
<circle cx="140.0" cy="95.4" r="0.9" fill="#b89a28"/>
<circle cx="194.1" cy="191.2" r="1.3" fill="#d838d8"/>
<circle cx="247.1" cy="100.0" r="1.2" fill="#7474c0"/>
<circle cx="182.7" cy="100.7" r="0.8" fill="#a88838"/>
<circle cx="208.0" cy="84.1" r="0.8" fill="#2a2030"/>
<circle cx="151.0" cy="189.7" r="1.3" fill="#d838d8"/>
<circle cx="242.1" cy="62.7" r="1.5" fill="#7474c0"/>
<circle cx="81.0" cy="139.2" r="1.4" fill="#6c8898"/>
<circle cx="150.7" cy="120.1" r="1.1" fill="#44a83c"/>
<circle cx="195.5" cy="185.7" r="1.2" fill="#d838d8"/>
<circle cx="123.4" cy="131.2" r="0.8" fill="#202030"/>
<circle cx="58.6" cy="91.3" r="1.2" fill="#521a5c"/>
<circle cx="186.8" cy="70.2" r="0.9" fill="#402840"/>
<circle cx="198.6" cy="184.5" r="1.3" fill="#d838d8"/>
<circle cx="260.0" cy="77.8" r="1.5" fill="#7474c0"/>
<circle cx="116.7" cy="95.8" r="1.2" fill="#44a83c"/>
<circle cx="162.1" cy="100.8" r="0.7" fill="#30284a"/>
<circle cx="183.4" cy="92.6" r="0.8" fill="#a88838"/>
<circle cx="69.5" cy="139.8" r="1.1" fill="#b8d4f4"/>
<circle cx="159.9" cy="69.4" r="0.8" fill="#b89a28"/>
<circle cx="116.8" cy="121.9" r="0.8" fill="#3a3a20"/>
<circle cx="162.3" cy="108.7" r="1.3" fill="#44a83c"/>
<circle cx="66.7" cy="82.2" r="1.3" fill="#521a5c"/>
<circle cx="48.9" cy="88.0" r="1.6" fill="#521a5c"/>
<circle cx="41.5" cy="125.9" r="1.0" fill="#6c8898"/>
<circle cx="155.7" cy="98.0" r="1.1" fill="#44a83c"/>
<circle cx="114.9" cy="118.0" r="0.7" fill="#402840"/>
<circle cx="158.4" cy="150.9" r="1.2" fill="#3434cc"/>
<circle cx="62.0" cy="82.1" r="1.4" fill="#521a5c"/>
<circle cx="66.6" cy="125.8" r="1.2" fill="#3434cc"/>
<circle cx="131.9" cy="109.0" r="0.7" fill="#b89a28"/>
<circle cx="169.0" cy="178.1" r="1.2" fill="#d838d8"/>
<circle cx="80.0" cy="87.3" r="1.4" fill="#521a5c"/>
<circle cx="76.1" cy="120.1" r="1.0" fill="#6c8898"/>
<circle cx="183.2" cy="65.6" r="1.2" fill="#202030"/>
<circle cx="208.0" cy="188.6" r="1.3" fill="#d838d8"/>
<circle cx="189.4" cy="188.7" r="1.1" fill="#d838d8"/>
<circle cx="116.0" cy="140.7" r="0.7" fill="#402840"/>
<circle cx="193.3" cy="181.0" r="0.6" fill="#3a3a20"/>
<circle cx="141.5" cy="154.4" r="1.0" fill="#3434cc"/>
<circle cx="41.1" cy="103.5" r="1.1" fill="#eab0ea"/>
<circle cx="181.5" cy="165.8" r="0.9" fill="#d02424"/>
<circle cx="190.7" cy="75.5" r="1.0" fill="#a88838"/>
<circle cx="66.2" cy="75.3" r="1.4" fill="#521a5c"/>
<circle cx="167.7" cy="98.7" r="0.9" fill="#b89a28"/>
<circle cx="105.5" cy="109.5" r="0.6" fill="#402840"/>
<circle cx="249.9" cy="109.1" r="1.4" fill="#7474c0"/>
<circle cx="210.1" cy="144.1" r="0.9" fill="#141460"/>
<circle cx="106.7" cy="107.2" r="0.8" fill="#30284a"/>
<circle cx="173.1" cy="188.7" r="1.1" fill="#d838d8"/>
<circle cx="78.8" cy="73.2" r="1.2" fill="#521a5c"/>
<circle cx="171.6" cy="146.5" r="0.6" fill="#30284a"/>
<circle cx="147.7" cy="127.2" r="0.9" fill="#3a3a20"/>
<circle cx="164.6" cy="88.2" r="0.9" fill="#a88838"/>
<circle cx="78.0" cy="116.2" r="1.5" fill="#6c8898"/>
<circle cx="57.2" cy="104.3" r="1.0" fill="#eab0ea"/>
<circle cx="243.6" cy="123.6" r="1.0" fill="#d09848"/>
<circle cx="59.3" cy="82.8" r="1.1" fill="#521a5c"/>
<circle cx="258.0" cy="136.6" r="0.7" fill="#202030"/>
<circle cx="105.9" cy="120.5" r="1.1" fill="#44a83c"/>
<circle cx="240.5" cy="141.8" r="1.1" fill="#d09848"/>
<circle cx="154.8" cy="72.4" r="0.9" fill="#2a2030"/>
<circle cx="253.2" cy="106.0" r="1.1" fill="#141460"/>
<circle cx="139.6" cy="100.0" r="0.8" fill="#b89a28"/>
<circle cx="177.8" cy="151.0" r="1.0" fill="#d02424"/>
<circle cx="136.2" cy="120.2" r="1.2" fill="#202030"/>
<circle cx="238.1" cy="86.4" r="1.2" fill="#7c7cc4"/>
<circle cx="116.7" cy="102.8" r="1.0" fill="#b89a28"/>
</g>
<path d="M78.4,70.1 C73.1,70.8 64.0,71.9 57.3,74.8 C50.6,77.7 43.6,82.9 38.3,87.5 C33.0,92.1 28.2,97.7 25.6,102.3 C23.1,106.9 23.0,110.8 23.0,115.0 C23.0,119.2 24.1,123.8 25.6,127.7 C27.1,131.6 29.2,134.3 32.0,138.2 C34.8,142.1 38.3,146.8 42.5,151.0 C46.7,155.2 52.0,160.1 57.3,163.6 C62.6,167.1 68.2,170.1 74.2,172.0 C80.2,173.9 89.2,175.0 93.2,175.2 C97.2,175.4 97.3,174.7 98.5,173.1 C99.7,171.5 100.4,169.0 100.6,165.7 C100.8,162.3 100.5,157.2 99.6,153.0 C98.7,148.8 97.1,145.2 95.3,140.3 C93.5,135.4 90.4,128.0 89.0,123.4 C87.6,118.8 86.6,116.4 86.9,112.9 C87.2,109.4 89.3,105.8 91.1,102.3 C92.9,98.8 96.1,94.9 97.5,91.7 C98.9,88.5 99.8,85.9 99.6,83.3 C99.4,80.7 98.2,78.0 96.4,75.9 C94.6,73.8 92.0,71.6 89.0,70.6 C86.0,69.6 83.7,69.4 78.4,70.1Z" fill="none" stroke="#52a84a" stroke-width="1.3"/>
<path d="M250.2,37.9 C253.1,37.9 255.2,38.6 257.3,40.6 C259.4,42.6 260.8,45.4 262.6,49.8 C264.4,54.2 266.4,61.1 267.9,67.0 C269.4,72.9 270.8,78.8 271.8,85.4 C272.8,92.0 273.9,99.5 273.9,106.5 C273.9,113.5 273.2,121.5 271.8,127.7 C270.4,133.9 268.1,138.2 265.2,143.5 C262.3,148.8 258.9,154.9 254.7,159.3 C250.5,163.7 245.6,167.5 240.1,169.9 C234.6,172.3 226.8,173.4 221.7,173.8 C216.6,174.2 213.1,173.6 209.8,172.5 C206.5,171.4 203.9,170.3 201.9,167.2 C199.9,164.1 198.8,159.3 197.9,154.0 C197.0,148.7 196.8,141.8 196.6,135.6 C196.4,129.4 196.2,122.8 196.6,117.1 C197.0,111.4 197.9,106.6 199.2,101.3 C200.5,96.0 202.5,90.7 204.5,85.4 C206.5,80.1 208.7,74.4 211.1,69.6 C213.5,64.8 215.9,60.1 219.0,56.4 C222.1,52.7 226.1,49.8 229.6,47.2 C233.1,44.6 236.7,42.2 240.1,40.6 C243.5,39.0 247.3,37.9 250.2,37.9Z" fill="none" stroke="#d82ad8" stroke-width="1.3"/>
<text x="193.9" y="31.0" font-size="7.75" text-anchor="start" fill="#d848d8" stroke="#d848d8" stroke-width="0.18" font-weight="normal" >Poor response predictor</text>
<text x="0.4" y="185.8" font-size="7.7" text-anchor="start" fill="#66b85a" stroke="#66b85a" stroke-width="0.18" font-weight="normal" >Good response predictor</text>
<g transform="translate(0,0)">
<path d="M359.5,67.0 L362.0,60.0 L367.0,55.5 L373.0,52.5 L386.0,52.0 L395.0,52.5 L420.0,49.0 L440.0,44.0 L452.0,38.5 L460.0,43.0 L463.5,57.0 L463.5,70.0 L460.0,82.0 L452.0,89.0 L440.0,96.0 L424.0,104.5 L410.0,101.0 L395.0,99.0 L389.0,96.5 L376.0,91.0 L366.0,85.0 L361.0,78.0Z" fill="#faf0fa" opacity="0.9"/>
<ellipse cx="410" cy="78" rx="20" ry="18" fill="#f4c4f4" opacity="0.9" filter="url(#bl)"/>
<path d="M392,52 L452,38" stroke="#e070e0" stroke-width="0.5" opacity="0.8"/>
<path d="M391.2,56.5L451.9,49.4" stroke="#f0c0f0" stroke-width="0.35" opacity="0.5"/>
<path d="M392.4,57.5L440.4,44.7" stroke="#f0c0f0" stroke-width="0.35" opacity="0.5"/>
<path d="M394.4,55.9L453.5,41.1" stroke="#f0c0f0" stroke-width="0.35" opacity="0.5"/>
<path d="M389.7,53.5L448.2,45.7" stroke="#f0c0f0" stroke-width="0.35" opacity="0.5"/>
<path d="M385.1,53.3L444.2,49.2" stroke="#f0c0f0" stroke-width="0.35" opacity="0.5"/>
<path d="M392.7,53.0L452.0,41.4" stroke="#f0c0f0" stroke-width="0.35" opacity="0.5"/>
<path d="M391.2,52.8L440.0,48.7" stroke="#f0c0f0" stroke-width="0.35" opacity="0.5"/>
<path d="M387.1,53.3L454.7,48.7" stroke="#f0c0f0" stroke-width="0.35" opacity="0.5"/>
<path d="M387.9,57.8L448.1,46.8" stroke="#f0c0f0" stroke-width="0.35" opacity="0.5"/>
<path d="M387.0,57.6L450.4,49.7" stroke="#f0c0f0" stroke-width="0.35" opacity="0.5"/>
<path d="M437.5 79.7h0M419.1 90.4h0M422.6 83.2h0M406.8 85.4h0M414.8 89.4h0M435.6 81.9h0M433.9 88.0h0M401.3 85.3h0" stroke="#e060e0" stroke-width="1.5" stroke-linecap="round"/>
<path d="M381.0 67.2h0M364.7 61.2h0M389.7 70.0h0M377.5 70.9h0M381.1 77.7h0M381.0 71.6h0M372.1 72.2h0M365.8 68.5h0M366.6 57.3h0M376.2 67.6h0M394.2 83.2h0M369.4 82.8h0M372.2 86.4h0M363.6 62.5h0M379.2 78.3h0M380.0 53.4h0M365.4 72.8h0M370.7 72.0h0M363.6 67.6h0M366.0 73.3h0M377.8 61.7h0M371.5 81.6h0M372.9 64.0h0M382.9 53.3h0M365.6 65.5h0M363.8 80.2h0" stroke="#0a140a" stroke-width="1.5" stroke-linecap="round"/>
<path d="M370.6 57.7h0M386.1 56.4h0M376.8 59.0h0M382.3 74.7h0M382.2 63.6h0M373.9 66.2h0M373.6 58.5h0M370.4 81.9h0M378.4 63.6h0M386.2 63.6h0M373.6 62.0h0M380.1 61.3h0M382.0 72.9h0M388.0 74.6h0M376.0 73.9h0" stroke="#60dc58" stroke-width="1.5" stroke-linecap="round"/>
<path d="M378.3 62.4h0M372.2 62.7h0M380.9 59.8h0M368.3 82.9h0M367.0 67.1h0M391.3 55.6h0M382.6 76.5h0M380.0 66.6h0M376.3 86.9h0M382.0 84.0h0M374.8 80.3h0" stroke="#3cc83c" stroke-width="1.5" stroke-linecap="round"/>
<path d="M386.9 74.6h0M375.4 72.1h0M380.4 88.4h0M373.1 69.9h0M373.5 73.7h0M376.9 77.3h0M373.8 60.4h0M376.5 75.7h0M396.9 67.9h0M382.5 67.1h0M366.0 75.7h0M382.1 54.2h0M383.7 80.7h0M373.6 72.1h0M369.3 86.1h0M380.3 71.7h0M375.7 65.5h0M370.6 81.5h0M381.9 66.0h0" stroke="#44c044" stroke-width="1.5" stroke-linecap="round"/>
<path d="M424.5 101.5h0M394.6 88.2h0M405.8 57.4h0M385.3 54.3h0M408.1 72.3h0M395.8 80.4h0M451.6 71.1h0M396.8 84.3h0M450.6 66.1h0M401.0 75.9h0" stroke="#40b83c" stroke-width="1.5" stroke-linecap="round"/>
<path d="M407.7 73.4h0M463.0 66.4h0M398.3 53.5h0M419.2 73.8h0M448.9 83.3h0M406.9 73.9h0M404.8 81.9h0M419.7 74.8h0M367.3 69.9h0M456.0 43.6h0M422.8 66.6h0M380.4 64.1h0M459.1 51.1h0M407.3 66.5h0M404.0 71.4h0M419.6 81.4h0M388.6 69.5h0M413.9 84.6h0M408.7 63.3h0M373.7 82.1h0M450.1 63.1h0M405.5 82.2h0M434.4 56.5h0M411.7 72.5h0M408.9 57.6h0M424.9 90.9h0M403.7 63.4h0M415.6 76.9h0M419.5 87.7h0M397.2 55.0h0M447.7 89.6h0M457.7 53.1h0M408.8 87.9h0M412.2 86.7h0M413.5 57.5h0M409.2 68.0h0M404.3 68.4h0M412.3 98.6h0M408.1 72.8h0M415.9 63.3h0M391.2 59.5h0M411.9 75.7h0M413.2 95.4h0M437.0 88.1h0M412.6 77.1h0M418.0 74.4h0M454.8 67.7h0M411.9 86.7h0M441.8 53.9h0M435.1 81.1h0M403.2 57.2h0" stroke="#3c0c3c" stroke-width="1.5" stroke-linecap="round"/>
<path d="M362.9 65.9h0M375.8 83.1h0M365.5 74.5h0M361.7 74.9h0M368.1 69.9h0M371.5 74.9h0M368.0 60.5h0M374.6 73.2h0M368.2 75.3h0M382.7 72.4h0M383.6 63.4h0M373.9 89.5h0M382.8 80.3h0M366.2 83.1h0M372.0 75.0h0M366.7 77.8h0M373.0 75.7h0M385.8 66.2h0M371.3 65.6h0" stroke="#30b830" stroke-width="1.5" stroke-linecap="round"/>
<path d="M396.6 74.9h0M406.1 56.1h0M419.2 69.8h0M446.3 71.0h0M415.5 51.0h0M460.4 57.0h0M411.9 61.0h0M398.9 69.5h0M398.9 55.3h0M419.1 98.8h0M404.2 62.9h0M396.1 74.6h0M397.7 70.6h0M456.2 67.4h0M413.3 84.3h0M402.9 65.1h0M396.2 68.1h0M444.5 92.0h0M404.8 96.7h0M409.2 57.9h0M398.0 99.3h0M406.5 61.9h0M461.4 64.7h0M446.9 70.6h0M400.5 60.7h0M411.1 70.7h0M449.9 77.4h0M394.2 97.1h0M411.7 61.4h0M409.0 100.6h0M398.6 69.2h0" stroke="#200820" stroke-width="1.5" stroke-linecap="round"/>
<path d="M384.4 70.1h0M375.6 80.1h0M370.3 55.1h0M381.3 70.6h0M385.0 84.0h0M388.9 69.3h0M372.9 75.0h0M386.7 57.6h0M372.4 83.9h0M383.3 64.4h0M377.7 88.7h0M381.4 77.5h0M376.7 77.2h0M381.5 64.2h0M384.3 59.9h0M380.4 80.2h0M396.8 61.8h0M377.9 59.7h0M382.7 77.3h0M387.1 72.8h0M369.9 71.5h0M386.1 83.0h0M376.9 68.4h0M384.2 73.6h0M377.2 76.5h0M384.0 55.7h0M384.1 56.4h0M380.8 69.2h0M376.0 75.5h0" stroke="#48c848" stroke-width="1.5" stroke-linecap="round"/>
<path d="M397.8 63.2h0M442.7 78.4h0M389.4 63.5h0M366.9 71.7h0M398.9 60.1h0M403.2 81.2h0M421.5 77.1h0M365.8 71.6h0M412.3 77.8h0M367.6 83.1h0M397.3 65.6h0M406.3 76.8h0M371.9 84.6h0M394.1 64.8h0M362.8 75.6h0M411.6 95.3h0M427.2 78.2h0M399.0 68.5h0M366.7 78.2h0M367.8 74.9h0M369.2 79.9h0M398.0 60.6h0M399.2 71.9h0M364.1 75.7h0M365.6 75.9h0M365.8 80.0h0M403.5 64.6h0M412.1 92.1h0M368.3 76.9h0M399.8 90.4h0M423.7 61.4h0M364.4 72.9h0M420.1 92.4h0" stroke="#101810" stroke-width="1.5" stroke-linecap="round"/>
<path d="M376.9 79.5h0M389.1 79.0h0M389.7 68.0h0M379.9 74.9h0M384.7 79.7h0M380.7 81.0h0M367.0 71.9h0M374.9 73.0h0M386.0 62.9h0M387.3 78.7h0M376.5 73.3h0M391.7 64.9h0M394.3 82.8h0" stroke="#58d850" stroke-width="1.5" stroke-linecap="round"/>
<path d="M393.2 70.9h0M459.6 53.6h0M451.2 71.3h0M401.9 62.2h0M388.0 70.1h0M403.9 76.1h0M413.5 63.4h0M420.2 102.3h0M420.6 80.6h0M392.3 76.3h0M441.0 72.1h0M409.0 64.4h0M399.8 56.2h0M442.4 63.9h0M412.8 68.8h0M440.7 90.9h0M410.4 66.2h0M412.7 60.8h0M400.9 65.8h0M459.5 81.0h0M388.2 71.8h0M402.9 78.3h0M446.1 73.8h0M411.2 55.0h0" stroke="#c828c8" stroke-width="1.5" stroke-linecap="round"/>
<path d="M372.3 69.1h0M371.3 70.2h0M367.6 75.5h0M368.5 80.0h0M373.2 73.4h0M360.9 70.6h0M368.4 79.4h0M368.4 75.5h0M360.6 74.0h0M370.4 62.0h0M367.3 76.7h0M367.1 71.9h0M363.3 65.0h0M366.4 84.8h0M363.8 79.7h0M370.8 77.1h0M361.6 72.8h0" stroke="#0c200c" stroke-width="1.5" stroke-linecap="round"/>
<path d="M406.6 61.3h0M402.0 85.4h0M407.2 51.4h0M398.3 78.3h0M395.6 87.7h0M399.5 76.4h0" stroke="#48c844" stroke-width="1.5" stroke-linecap="round"/>
<path d="M399.4 72.8h0M404.9 89.6h0M416.6 61.2h0M413.5 84.5h0M402.5 72.5h0M416.7 61.8h0M420.3 71.5h0M394.1 82.2h0M418.9 91.0h0M401.8 74.3h0M384.3 78.1h0M394.3 62.1h0M372.1 79.1h0M414.9 55.1h0M429.7 92.2h0M404.0 59.1h0M400.1 70.2h0M414.1 78.6h0M414.9 71.1h0M433.5 84.6h0M405.2 64.4h0M414.4 99.0h0M404.0 61.3h0M397.9 72.2h0M412.7 60.6h0M414.9 90.3h0M410.3 83.7h0M407.6 76.3h0M424.6 82.2h0M372.3 83.7h0M392.2 84.6h0M411.6 78.3h0M399.3 84.8h0" stroke="#d030d0" stroke-width="1.5" stroke-linecap="round"/>
<path d="M449.3 52.0h0M442.1 75.2h0M415.3 54.6h0M405.0 78.7h0M393.5 62.9h0M424.5 88.9h0M405.0 91.6h0M435.3 69.7h0M436.9 45.9h0M409.6 97.9h0M454.9 64.1h0M405.8 79.4h0M444.2 62.5h0M388.9 82.5h0M447.0 87.0h0M406.5 84.6h0M398.8 57.9h0M406.3 61.0h0M459.1 54.1h0M406.4 58.4h0M440.6 63.1h0M417.7 72.1h0M411.5 76.5h0M418.1 68.5h0M434.8 84.8h0M394.8 68.8h0M450.5 62.4h0M406.1 75.1h0M410.7 93.5h0M442.2 65.6h0M448.7 77.0h0" stroke="#501050" stroke-width="1.5" stroke-linecap="round"/>
<path d="M387.2 78.9h0M373.2 54.7h0M376.1 65.5h0M381.2 74.4h0M386.0 68.3h0M370.1 61.4h0M385.7 65.6h0M393.0 65.3h0M384.4 76.5h0M380.5 76.9h0M380.3 62.7h0M380.2 59.5h0M362.4 64.7h0M367.6 56.2h0M386.3 75.5h0M373.3 86.6h0M369.3 60.0h0M391.2 68.5h0M380.1 63.1h0M372.2 79.0h0M386.4 79.8h0" stroke="#50d450" stroke-width="1.5" stroke-linecap="round"/>
<path d="M379.9 80.1h0M381.8 69.5h0M384.0 68.8h0M372.1 86.1h0M365.5 67.2h0M380.0 73.5h0M377.2 68.8h0M374.4 79.2h0M385.2 79.0h0M383.3 78.0h0M391.1 68.5h0M383.3 67.4h0" stroke="#163016" stroke-width="1.5" stroke-linecap="round"/>
<path d="M413.2 70.9h0M406.8 62.8h0M404.2 92.4h0" stroke="#183818" stroke-width="1.5" stroke-linecap="round"/>
<path d="M449.5 39.9h0M411.9 72.8h0M420.4 59.2h0M407.3 63.9h0M401.3 66.4h0M412.8 68.5h0M450.2 55.7h0M417.8 69.3h0M408.4 57.9h0M398.7 79.6h0M409.9 69.8h0M405.3 56.4h0M402.0 66.2h0M407.8 98.2h0M408.5 79.2h0M453.8 54.2h0M408.9 65.3h0M413.0 64.7h0M413.8 55.6h0M393.0 68.3h0M410.8 72.1h0M409.1 87.7h0M443.1 60.7h0M436.3 88.6h0M403.9 69.9h0M451.8 62.8h0M411.7 62.0h0M428.0 83.3h0M413.2 72.0h0M400.4 67.6h0M421.7 84.1h0M444.5 68.0h0M401.7 98.2h0M398.9 60.4h0M378.6 77.4h0M418.2 85.6h0M393.2 76.8h0M440.6 84.8h0M444.2 64.5h0M402.7 74.2h0M403.4 68.3h0M414.0 72.8h0M437.1 79.9h0M408.4 87.4h0M425.2 102.0h0M403.1 96.1h0M441.3 65.2h0M413.8 65.5h0M401.2 60.8h0M446.7 71.0h0M426.6 77.4h0M400.1 63.9h0M411.3 62.1h0M392.2 58.8h0M405.6 60.3h0M410.1 61.6h0M412.2 73.6h0M408.6 69.8h0M411.7 62.7h0M423.1 81.8h0M397.4 81.9h0M395.7 64.9h0" stroke="#3c0c3c" stroke-width="1.5" stroke-linecap="round"/>
<path d="M408.5 72.1h0M396.0 53.4h0M412.4 64.7h0M462.1 59.7h0M411.6 58.9h0M439.9 85.5h0M409.2 54.9h0M414.1 84.2h0M419.6 74.5h0M403.8 76.8h0M420.6 82.6h0M443.8 59.8h0M404.0 88.4h0M411.0 70.9h0M415.8 101.0h0M444.5 61.4h0M405.1 98.6h0M395.3 97.5h0M417.2 76.6h0M452.6 82.6h0M452.9 71.1h0M434.4 81.9h0M419.1 63.9h0M410.6 55.4h0M402.4 98.8h0M427.6 90.9h0M461.6 58.5h0M422.7 87.9h0M448.6 53.7h0M396.6 95.4h0" stroke="#501050" stroke-width="1.5" stroke-linecap="round"/>
<path d="M365.8 78.7h0M368.7 61.2h0M386.2 63.7h0M386.9 78.8h0M374.6 86.4h0M393.6 72.8h0M385.0 67.2h0M381.3 86.9h0M389.0 60.0h0M381.4 62.7h0M379.3 61.2h0M371.6 77.8h0M374.7 69.7h0M381.5 83.8h0M389.3 63.6h0M394.1 60.8h0M379.5 61.9h0M370.9 60.5h0" stroke="#3cc83c" stroke-width="1.5" stroke-linecap="round"/>
<path d="M368.3 83.4h0M369.0 75.3h0M370.1 57.7h0M375.2 79.1h0M367.9 84.4h0M369.1 65.7h0M369.7 67.0h0M376.5 86.7h0M367.8 77.6h0M387.9 67.6h0M372.0 81.8h0M375.6 68.0h0M371.1 76.1h0M372.2 78.9h0M362.4 77.3h0M371.3 78.2h0M384.0 81.8h0M387.3 65.7h0M370.3 80.7h0M362.0 74.4h0M380.8 79.7h0M386.2 67.0h0M385.6 63.9h0M362.0 70.2h0M370.4 73.1h0M384.0 89.6h0" stroke="#30b830" stroke-width="1.5" stroke-linecap="round"/>
<path d="M400.8 73.5h0M371.5 80.9h0M384.9 73.6h0M364.4 80.6h0M368.7 73.8h0M369.4 68.6h0M366.0 77.0h0M363.7 78.7h0M365.9 74.1h0M390.8 67.3h0M365.7 77.5h0M396.0 69.5h0M363.8 65.8h0M374.8 89.5h0M363.2 67.3h0M395.0 75.5h0M398.0 73.9h0M395.5 94.1h0M392.9 95.2h0" stroke="#101810" stroke-width="1.5" stroke-linecap="round"/>
<path d="M379.7 60.2h0M380.3 71.2h0M370.3 63.1h0M380.2 74.1h0M376.9 77.6h0M379.2 79.3h0M377.3 88.4h0M392.1 60.4h0M362.9 68.6h0M377.4 79.2h0M377.3 73.0h0M388.8 63.8h0M380.3 65.9h0M381.4 66.0h0M378.4 68.5h0M380.2 79.0h0" stroke="#50d450" stroke-width="1.5" stroke-linecap="round"/>
<path d="M405.4 61.9h0M387.1 67.6h0M398.7 80.8h0M401.0 72.3h0M402.3 71.7h0M420.7 97.9h0M386.5 65.4h0M415.1 83.7h0M400.8 73.3h0M401.8 76.3h0M385.5 57.6h0M400.7 90.0h0M392.5 91.4h0M397.9 74.6h0M402.1 64.2h0M395.2 80.6h0M401.8 57.5h0M404.8 53.3h0" stroke="#40b83c" stroke-width="1.5" stroke-linecap="round"/>
<path d="M370.3 76.7h0M370.7 71.3h0M387.5 87.6h0M382.0 74.9h0M387.2 63.1h0M377.8 87.6h0M386.0 69.8h0M375.4 77.4h0M382.0 72.2h0M380.1 65.7h0M383.0 77.7h0M397.7 63.0h0M370.0 85.8h0M395.7 75.8h0M386.2 70.5h0M372.9 62.6h0M369.7 55.9h0M381.5 83.7h0M377.0 71.3h0M373.0 66.8h0M379.9 87.8h0M391.3 60.9h0M366.7 80.3h0M382.6 91.7h0M375.1 53.4h0" stroke="#58d850" stroke-width="1.5" stroke-linecap="round"/>
<path d="M364.6 69.1h0M368.1 75.6h0M380.7 75.1h0M382.7 64.5h0M372.7 53.7h0M370.0 66.8h0M393.1 70.9h0M374.4 55.8h0M364.8 82.6h0M367.8 65.5h0M368.0 65.4h0M382.9 77.9h0M369.1 68.6h0M365.4 70.5h0M380.1 72.9h0M370.5 72.5h0M377.2 70.7h0M372.9 52.8h0M371.6 66.7h0M376.9 61.1h0M364.9 69.3h0M365.8 77.1h0M370.1 72.3h0M389.0 91.7h0M366.2 76.0h0M383.1 71.5h0M376.3 88.5h0" stroke="#0a140a" stroke-width="1.5" stroke-linecap="round"/>
<path d="M429.9 94.9h0M403.2 91.5h0M413.4 98.8h0M404.6 96.0h0M428.5 79.3h0M415.6 98.3h0M415.6 83.1h0" stroke="#e060e0" stroke-width="1.5" stroke-linecap="round"/>
<path d="M368.7 57.2h0M380.9 65.5h0M374.2 59.0h0M382.1 81.9h0M389.7 65.2h0M378.2 84.8h0M378.8 71.8h0M385.4 76.4h0M382.9 67.0h0M380.7 88.7h0M380.8 84.6h0M370.9 79.7h0" stroke="#48c848" stroke-width="1.5" stroke-linecap="round"/>
<path d="M390.7 61.7h0M398.4 76.1h0M400.6 75.8h0M411.7 83.1h0M404.3 87.5h0" stroke="#48c844" stroke-width="1.5" stroke-linecap="round"/>
<path d="M365.6 77.0h0M388.9 53.6h0M386.8 78.7h0M371.4 54.9h0M384.6 63.6h0M378.5 66.1h0M373.0 80.0h0M382.9 80.3h0M383.2 54.6h0M379.8 62.6h0M377.9 86.1h0M380.3 73.9h0M382.8 70.8h0M372.4 79.4h0M368.7 86.4h0M392.3 64.2h0M385.8 82.6h0M384.6 57.1h0M383.2 67.6h0M390.3 84.3h0M377.7 91.4h0" stroke="#163016" stroke-width="1.5" stroke-linecap="round"/>
<path d="M440.0 46.9h0M416.3 102.5h0M419.0 74.3h0M405.6 70.7h0M414.3 101.5h0M414.4 68.8h0M453.2 80.3h0M454.9 43.2h0M420.0 52.6h0M447.1 69.9h0M424.6 102.7h0M430.0 62.6h0M394.3 95.3h0M446.2 69.6h0M440.0 77.6h0M459.0 46.9h0M403.2 77.6h0M402.4 80.7h0M454.1 68.6h0M415.6 68.4h0M420.7 70.3h0M454.4 60.3h0M442.9 68.8h0M405.0 57.7h0M403.7 65.0h0M411.0 75.9h0M406.4 79.0h0M411.5 86.4h0M403.9 67.8h0M400.5 62.8h0M412.3 98.8h0M412.8 62.7h0M401.5 67.0h0" stroke="#200820" stroke-width="1.5" stroke-linecap="round"/>
<path d="M403.3 69.1h0M402.9 86.1h0M416.3 81.3h0M442.1 87.3h0M412.9 53.2h0M401.2 72.2h0M396.9 59.0h0M419.8 80.7h0M389.7 75.8h0M408.5 67.2h0M400.4 54.0h0M400.1 80.1h0M403.9 63.4h0M369.5 65.8h0M395.5 91.5h0M419.5 60.9h0M418.2 85.1h0M408.3 95.8h0M377.0 81.3h0" stroke="#d030d0" stroke-width="1.5" stroke-linecap="round"/>
<path d="M364.8 76.0h0M365.9 81.8h0M366.3 81.9h0M368.0 83.9h0M367.9 84.9h0M365.1 75.3h0M363.0 77.3h0M365.6 79.5h0M370.8 76.2h0M361.9 64.0h0M368.6 72.1h0M360.7 64.2h0M365.9 67.1h0" stroke="#0c200c" stroke-width="1.5" stroke-linecap="round"/>
<path d="M411.3 99.3h0M408.7 100.4h0M401.7 75.3h0M449.9 55.1h0M449.8 81.9h0M408.7 69.7h0M445.9 76.2h0M455.8 50.5h0M428.9 67.5h0M447.6 69.9h0M394.5 72.6h0M448.0 68.0h0M398.8 64.3h0M453.2 56.9h0M449.3 53.7h0M407.1 64.7h0M422.4 74.6h0M411.4 73.6h0M409.5 66.1h0M399.8 71.3h0M398.8 66.0h0M411.6 68.9h0M398.2 97.4h0M448.1 87.2h0M455.5 46.5h0M453.7 61.6h0M419.4 51.1h0M389.7 61.6h0M425.1 69.5h0" stroke="#c828c8" stroke-width="1.5" stroke-linecap="round"/>
<path d="M399.1 71.2h0M421.1 78.8h0M401.5 65.6h0M406.2 78.3h0M409.3 73.1h0M401.3 85.5h0M410.4 99.7h0" stroke="#183818" stroke-width="1.5" stroke-linecap="round"/>
<path d="M383.0 60.6h0M377.9 91.6h0M371.9 68.9h0M382.3 72.1h0M382.5 77.9h0M390.2 74.2h0M369.8 61.1h0M378.7 70.7h0M377.5 86.6h0M380.4 65.4h0M372.1 75.6h0M369.2 57.7h0M383.1 71.6h0M373.7 69.9h0M389.2 80.2h0" stroke="#60dc58" stroke-width="1.5" stroke-linecap="round"/>
<path d="M373.5 81.3h0M380.4 79.7h0M392.6 63.9h0M388.0 76.9h0M365.6 81.0h0M369.3 84.9h0M396.4 62.5h0M384.6 57.9h0M377.7 73.8h0M382.1 78.0h0" stroke="#44c044" stroke-width="1.5" stroke-linecap="round"/>
<path d="M457.5 63.1h0M408.8 58.8h0M409.2 88.5h0M403.9 67.1h0M396.1 67.3h0M460.4 61.0h0M447.4 71.1h0M412.1 51.7h0M403.4 84.8h0M416.5 61.8h0M447.0 60.0h0M453.0 63.5h0M413.8 63.4h0M435.3 61.6h0M460.6 60.8h0M452.0 75.9h0M392.4 79.2h0M393.5 82.9h0M447.6 63.9h0M407.2 88.2h0M447.2 56.0h0M401.1 75.8h0M407.2 73.0h0M403.7 68.4h0M433.4 69.1h0" stroke="#c828c8" stroke-width="1.5" stroke-linecap="round"/>
<path d="M367.5 68.3h0M386.5 80.0h0M378.1 68.8h0M377.9 62.3h0M376.7 76.5h0M381.9 74.9h0M369.4 56.8h0M371.6 57.6h0M365.3 82.8h0M370.5 64.4h0M385.3 76.4h0M384.5 60.9h0M385.7 79.2h0M379.9 63.0h0M372.5 74.9h0M389.8 66.9h0M379.3 82.5h0" stroke="#3cc83c" stroke-width="1.5" stroke-linecap="round"/>
<path d="M378.0 85.3h0M378.9 83.3h0M390.5 86.9h0M375.9 53.6h0M364.3 75.3h0M388.1 61.7h0M372.9 58.3h0M384.4 86.7h0M385.1 80.8h0M368.9 73.8h0M392.2 90.2h0M369.8 83.2h0M373.7 66.9h0M384.4 66.7h0M383.3 86.6h0M385.6 66.2h0M392.0 83.7h0M378.1 68.2h0M380.2 84.8h0M386.5 80.2h0M378.8 58.2h0" stroke="#58d850" stroke-width="1.5" stroke-linecap="round"/>
<path d="M403.7 54.6h0M406.6 99.0h0M418.7 101.0h0M402.4 99.2h0M406.7 60.9h0M411.7 78.1h0M412.0 57.2h0M409.0 79.0h0M403.2 52.6h0M452.7 53.2h0M398.1 71.5h0M402.4 93.5h0M444.4 58.4h0M406.9 79.3h0M450.6 80.4h0M405.3 72.4h0M401.6 57.1h0M400.5 86.2h0M387.0 80.6h0M396.6 86.8h0M411.5 70.8h0M444.2 79.6h0M361.5 69.5h0M420.4 90.6h0M366.0 72.2h0M449.9 58.0h0M393.0 64.3h0M442.8 64.2h0M447.0 78.4h0M445.0 66.8h0M411.5 73.2h0M403.1 60.7h0M411.6 74.5h0M393.9 69.2h0M451.0 87.4h0M388.8 69.9h0M398.1 57.5h0M457.1 51.9h0M412.9 87.9h0M426.0 101.0h0M437.4 56.1h0M412.8 65.1h0M401.4 81.5h0M419.8 58.7h0M413.0 100.3h0M409.4 71.3h0M418.1 71.9h0M402.9 98.1h0M376.0 78.9h0M394.6 74.8h0M410.3 63.3h0M393.2 71.1h0M370.8 76.0h0M404.2 57.4h0M395.7 79.9h0M438.7 79.4h0M445.6 68.7h0" stroke="#3c0c3c" stroke-width="1.5" stroke-linecap="round"/>
<path d="M365.3 70.9h0M370.6 71.3h0M370.6 69.2h0M375.0 73.4h0M386.2 55.0h0M373.4 68.0h0M375.0 72.1h0M365.6 72.1h0M370.9 65.1h0M393.5 77.2h0M370.2 71.1h0M372.6 68.0h0M375.2 66.0h0M370.3 76.9h0M372.2 87.6h0M386.9 81.0h0M365.0 66.1h0M363.7 77.0h0M373.3 79.1h0M379.5 66.8h0M388.2 62.9h0M384.9 72.9h0M365.8 72.6h0M381.1 81.3h0M389.3 60.8h0M377.4 72.4h0M374.2 87.1h0M368.9 84.9h0M365.1 63.3h0M372.4 66.3h0M380.7 57.1h0M377.8 63.1h0M372.3 78.7h0M365.1 69.8h0" stroke="#0a140a" stroke-width="1.5" stroke-linecap="round"/>
<path d="M396.3 62.5h0M451.4 56.3h0M415.2 101.9h0M398.0 72.5h0M405.9 63.4h0M420.3 99.3h0M454.5 59.4h0M440.3 57.6h0M392.6 59.1h0M403.2 77.5h0M423.0 101.0h0M402.4 55.8h0M401.1 70.3h0M407.1 60.1h0M449.5 53.2h0M447.8 42.0h0M401.1 76.7h0M456.2 43.1h0M393.2 60.4h0M396.4 54.7h0M405.6 78.9h0M456.8 77.7h0M442.8 70.6h0M395.6 57.4h0M409.3 60.2h0" stroke="#200820" stroke-width="1.5" stroke-linecap="round"/>
<path d="M381.8 53.7h0M375.7 71.8h0M373.2 68.3h0M391.9 77.1h0M392.7 70.4h0M377.5 73.1h0M369.5 84.8h0M370.8 84.0h0M378.5 66.8h0M371.9 77.9h0M388.8 89.4h0M387.1 68.4h0M375.1 77.6h0M376.1 75.7h0M386.1 58.6h0M365.1 58.0h0M378.0 69.6h0M374.8 75.2h0" stroke="#60dc58" stroke-width="1.5" stroke-linecap="round"/>
<path d="M412.0 64.9h0M431.3 87.7h0M399.3 78.4h0M404.0 87.5h0M392.4 92.3h0M384.8 69.2h0M414.1 93.0h0M407.2 64.6h0M383.5 85.0h0M395.2 75.0h0M431.2 98.5h0M414.2 62.5h0M421.4 88.9h0M410.9 87.8h0M404.5 64.8h0M403.2 87.0h0M397.7 76.3h0M402.9 75.0h0M397.7 88.4h0M396.2 77.3h0M377.1 72.5h0M401.4 83.1h0M399.9 54.1h0M412.0 86.5h0" stroke="#d030d0" stroke-width="1.5" stroke-linecap="round"/>
<path d="M385.6 71.0h0M381.4 83.8h0M377.5 72.4h0M377.6 66.2h0M391.3 72.5h0M378.7 68.4h0M383.6 57.8h0M381.3 58.4h0M371.1 77.3h0M380.4 75.0h0M369.4 63.0h0M375.9 86.9h0" stroke="#50d450" stroke-width="1.5" stroke-linecap="round"/>
<path d="M388.4 64.8h0M456.2 64.4h0M460.0 71.3h0M425.0 102.0h0M405.0 97.5h0M419.0 54.8h0M397.8 62.3h0M419.2 71.3h0M442.8 60.8h0M394.5 53.5h0M424.0 94.8h0M417.9 101.8h0M406.1 75.7h0M402.1 62.4h0M408.2 70.0h0M412.2 64.8h0M408.4 67.8h0M415.7 90.6h0M451.1 81.8h0M405.5 60.1h0M422.2 98.3h0M419.7 68.0h0M399.4 67.0h0M448.0 66.3h0M414.1 83.4h0M414.7 85.6h0M435.4 77.8h0M393.4 96.4h0M408.3 62.0h0M447.5 54.2h0M438.7 80.1h0M410.3 63.0h0M413.1 100.5h0M416.1 97.2h0M452.6 65.2h0M439.8 44.7h0M440.9 75.5h0M462.6 54.7h0M412.8 65.7h0M398.2 99.3h0M396.5 86.8h0" stroke="#501050" stroke-width="1.5" stroke-linecap="round"/>
<path d="M372.9 82.7h0M361.1 69.6h0M365.8 79.1h0M366.9 78.5h0M372.9 83.8h0M374.3 74.9h0M380.8 65.5h0M361.5 78.5h0M371.3 68.0h0M363.2 79.2h0M369.9 70.8h0M371.4 67.2h0M380.2 58.2h0M397.8 68.8h0M372.0 62.6h0M363.3 76.8h0M369.1 75.7h0M365.4 73.1h0M370.8 87.6h0M384.9 58.9h0M374.1 71.3h0M370.1 67.7h0M381.8 72.7h0M371.0 72.2h0M363.4 70.7h0M372.3 76.3h0M369.9 77.2h0M368.1 72.8h0M376.8 64.1h0M372.3 64.9h0M391.4 70.8h0M374.7 89.0h0" stroke="#30b830" stroke-width="1.5" stroke-linecap="round"/>
<path d="M370.6 84.9h0M370.0 75.2h0M422.3 67.1h0M367.8 82.3h0M417.0 79.3h0M365.9 80.6h0M427.0 81.6h0M363.6 63.9h0M363.7 71.8h0M449.0 75.2h0M446.7 81.5h0M450.3 52.9h0M389.4 93.7h0M365.4 83.7h0M442.9 73.0h0M406.2 63.6h0M418.6 83.2h0M363.6 59.0h0M363.2 63.9h0M371.3 66.6h0M407.7 52.5h0" stroke="#101810" stroke-width="1.5" stroke-linecap="round"/>
<path d="M377.0 61.2h0M375.5 67.5h0M375.8 70.3h0M386.7 76.1h0M388.6 60.6h0M375.2 67.6h0M381.6 53.7h0M383.9 56.3h0M380.3 59.5h0M370.2 71.7h0M386.6 77.8h0M370.4 81.0h0M368.3 72.6h0M376.1 59.1h0M369.2 65.1h0" stroke="#44c044" stroke-width="1.5" stroke-linecap="round"/>
<path d="M413.1 77.5h0M414.1 89.8h0M426.9 73.6h0M449.0 60.6h0M411.6 92.9h0M400.2 77.8h0M402.3 66.9h0M402.9 99.1h0" stroke="#40b83c" stroke-width="1.5" stroke-linecap="round"/>
<path d="M397.9 88.9h0M409.2 84.1h0M412.6 94.2h0M402.9 90.0h0M429.3 67.7h0" stroke="#183818" stroke-width="1.5" stroke-linecap="round"/>
<path d="M407.3 89.8h0M424.0 85.8h0M410.0 88.1h0M414.4 85.7h0M402.0 81.9h0M423.5 94.4h0M407.6 83.4h0M424.8 87.3h0M397.0 97.0h0M431.6 84.9h0" stroke="#e060e0" stroke-width="1.5" stroke-linecap="round"/>
<path d="M387.1 76.0h0M378.4 74.9h0M381.7 73.0h0M365.2 80.6h0M385.3 66.1h0M387.0 79.9h0M388.1 84.3h0M379.3 73.5h0M387.5 75.8h0M388.1 53.6h0M375.8 58.0h0M375.3 61.6h0M377.4 68.3h0M377.9 70.2h0M372.0 72.2h0M374.0 60.6h0M368.0 75.6h0" stroke="#163016" stroke-width="1.5" stroke-linecap="round"/>
<path d="M370.6 76.5h0M379.4 71.7h0M384.6 79.5h0M389.7 80.9h0M373.2 67.3h0M365.0 79.1h0M376.4 70.8h0M378.4 70.8h0M383.3 71.7h0M382.5 64.5h0M379.9 69.3h0M385.3 75.7h0M374.4 73.9h0M372.3 57.6h0M377.5 64.4h0" stroke="#48c848" stroke-width="1.5" stroke-linecap="round"/>
<path d="M370.2 86.1h0M367.9 82.1h0M369.5 72.8h0M372.1 82.1h0M365.1 62.6h0M371.7 78.0h0M363.1 65.1h0M367.2 66.8h0M368.4 70.7h0M365.9 74.9h0M365.5 66.4h0M364.1 79.3h0" stroke="#0c200c" stroke-width="1.5" stroke-linecap="round"/>
<path d="M388.3 87.6h0M393.5 78.9h0M393.3 85.2h0" stroke="#48c844" stroke-width="1.5" stroke-linecap="round"/>
<path d="M382.3 71.6h0M376.1 74.0h0M378.0 70.4h0M373.2 60.8h0M366.9 69.5h0M382.4 80.1h0M371.4 82.5h0M376.1 66.7h0M369.9 57.9h0M364.7 57.8h0M360.6 69.0h0M363.3 62.6h0M371.1 61.7h0M364.1 82.2h0M373.7 86.6h0M380.6 82.9h0M384.7 62.6h0M371.0 79.7h0M364.8 76.8h0M368.7 58.4h0M363.4 78.4h0M376.9 62.7h0M389.1 78.4h0M371.6 66.8h0M370.3 81.6h0M374.7 69.9h0" stroke="#30b830" stroke-width="1.5" stroke-linecap="round"/>
<path d="M380.6 87.8h0M363.1 66.9h0M374.1 76.3h0M391.0 80.6h0M363.5 77.8h0M371.9 73.7h0M373.3 69.1h0M388.7 54.6h0M378.5 75.9h0M366.6 71.3h0M379.9 58.7h0M378.7 69.1h0M371.0 66.3h0M365.6 81.0h0M371.2 70.7h0M384.4 75.2h0M366.6 83.7h0M386.0 78.5h0M370.3 72.8h0M372.9 61.1h0M368.8 65.9h0M373.4 84.1h0M384.8 86.7h0M365.4 82.4h0M377.9 62.6h0M378.1 62.4h0M371.1 82.9h0M370.8 78.7h0M367.0 85.3h0M381.1 82.4h0" stroke="#0a140a" stroke-width="1.5" stroke-linecap="round"/>
<path d="M363.7 71.0h0M404.6 77.1h0M428.8 68.9h0M413.5 79.0h0M370.5 73.5h0M367.4 79.2h0M373.5 68.9h0M362.8 71.6h0M367.9 84.4h0M428.1 88.8h0M369.7 69.4h0M368.0 57.6h0M370.4 78.6h0M363.0 77.1h0M365.4 80.7h0M427.5 84.1h0M374.2 77.5h0M451.2 81.6h0M373.3 85.4h0M368.2 60.5h0M418.9 90.0h0M364.9 68.4h0M386.6 74.4h0M402.9 93.8h0M402.6 72.1h0M362.1 60.1h0M373.2 65.6h0M398.4 79.6h0M396.5 62.8h0M365.1 65.7h0M369.7 80.1h0M371.1 83.2h0M418.3 90.5h0M365.1 73.0h0M401.4 90.9h0M365.6 72.8h0M364.2 81.8h0M403.6 69.4h0" stroke="#101810" stroke-width="1.5" stroke-linecap="round"/>
<path d="M397.9 67.8h0M407.5 59.6h0M394.0 65.6h0M403.2 60.5h0M370.2 78.3h0M418.7 55.8h0M414.5 95.3h0M392.1 82.6h0M413.7 58.5h0M413.3 63.7h0M416.1 75.9h0M423.4 70.0h0M405.7 72.2h0M408.2 63.7h0M405.8 51.1h0M420.9 88.5h0M401.6 64.2h0M396.0 68.1h0M412.4 63.9h0M402.8 74.3h0M413.2 63.3h0M370.6 60.0h0M415.3 89.7h0M395.3 67.3h0M410.7 75.5h0M420.6 72.0h0M390.3 70.2h0M396.5 76.7h0M396.7 73.3h0M402.9 64.7h0M418.6 89.9h0M381.6 85.5h0M410.7 67.4h0" stroke="#d030d0" stroke-width="1.5" stroke-linecap="round"/>
<path d="M410.0 83.7h0M407.9 65.2h0M394.9 58.9h0M442.0 75.3h0M393.7 71.4h0M415.7 81.9h0M400.0 75.0h0M406.6 58.7h0M394.2 76.3h0M449.1 48.3h0M408.5 67.0h0M406.7 69.7h0M442.1 67.6h0M418.8 102.3h0M397.6 61.8h0M413.4 81.4h0M400.7 97.3h0M450.4 81.1h0M437.3 66.5h0M400.4 58.2h0M411.6 63.6h0M390.6 68.7h0M457.2 78.0h0M456.9 53.4h0M419.4 74.9h0M414.6 99.9h0M453.5 64.4h0M400.5 70.0h0" stroke="#c828c8" stroke-width="1.5" stroke-linecap="round"/>
<path d="M371.4 69.6h0M376.5 53.5h0M383.0 72.0h0M387.2 84.4h0M393.3 81.5h0M376.9 81.8h0M372.6 63.7h0M371.3 62.4h0M384.8 69.3h0M385.8 70.3h0M377.8 66.8h0" stroke="#50d450" stroke-width="1.5" stroke-linecap="round"/>
<path d="M405.4 68.6h0M406.4 77.3h0M407.7 86.5h0M409.1 89.0h0M396.0 63.6h0M409.7 80.7h0M412.0 83.8h0M396.2 61.8h0M400.6 81.7h0M402.0 58.0h0M417.4 100.4h0M452.5 57.0h0M405.6 71.7h0M384.7 71.9h0M392.2 74.3h0M432.3 87.8h0M404.9 100.1h0M414.0 83.9h0M425.3 101.6h0M404.9 63.4h0M414.4 85.8h0M413.3 87.6h0M454.9 53.7h0M417.5 100.0h0M409.7 71.7h0M418.2 99.5h0M415.7 73.0h0M458.3 63.9h0M448.1 80.4h0M447.8 67.8h0M419.8 102.8h0M408.0 73.7h0M406.3 68.1h0M451.6 62.8h0M411.5 73.0h0M403.0 70.3h0" stroke="#501050" stroke-width="1.5" stroke-linecap="round"/>
<path d="M397.7 67.9h0M393.1 67.0h0M398.3 66.1h0M402.7 97.7h0M444.4 82.7h0M420.2 61.7h0M450.2 55.8h0M453.9 74.9h0M405.3 65.8h0M460.6 57.9h0M409.3 63.3h0M454.9 67.9h0M409.4 100.3h0M390.4 81.3h0M461.2 51.8h0M410.0 99.7h0M405.8 64.4h0M396.7 69.5h0M420.5 103.3h0M409.7 80.4h0M394.8 67.8h0M410.0 61.5h0M414.7 75.8h0" stroke="#200820" stroke-width="1.5" stroke-linecap="round"/>
<path d="M374.6 71.6h0M373.1 57.5h0M380.0 59.9h0M379.8 73.5h0M383.2 68.5h0M388.5 62.2h0M376.5 85.2h0M376.8 79.2h0M374.4 55.5h0M380.4 68.7h0M380.0 62.6h0M384.2 58.2h0M380.7 77.2h0M362.3 70.4h0M376.9 69.7h0M383.5 71.1h0M385.1 77.8h0M379.1 88.3h0M372.3 60.2h0M396.2 66.9h0M376.3 53.4h0M375.6 80.3h0" stroke="#3cc83c" stroke-width="1.5" stroke-linecap="round"/>
<path d="M379.1 62.1h0M390.2 63.2h0M386.8 78.8h0M373.9 67.3h0M379.5 80.0h0M375.8 77.8h0M388.1 87.2h0M377.0 56.1h0M374.4 62.2h0M384.6 54.3h0M376.5 61.7h0M377.6 80.2h0M365.3 66.1h0" stroke="#44c044" stroke-width="1.5" stroke-linecap="round"/>
<path d="M380.5 60.3h0M380.2 62.9h0M377.3 54.1h0M379.0 76.1h0M367.1 67.1h0M374.1 72.2h0M375.0 55.7h0M385.4 77.9h0M385.5 71.6h0M378.2 73.7h0M387.2 71.0h0M393.0 68.3h0M376.3 66.9h0M378.4 61.3h0M381.7 60.9h0M382.9 81.7h0M390.6 66.5h0M381.9 59.1h0M382.6 64.4h0M384.0 64.3h0M363.8 79.4h0" stroke="#60dc58" stroke-width="1.5" stroke-linecap="round"/>
<path d="M411.0 90.8h0M400.1 74.6h0M424.5 103.8h0M392.9 96.7h0M408.9 62.2h0M403.4 62.4h0M414.5 69.1h0M411.0 62.3h0M403.0 60.0h0M406.4 68.3h0M412.8 68.2h0M405.4 69.6h0M398.2 76.1h0M410.2 55.5h0M426.8 70.1h0M443.3 67.3h0M452.8 55.8h0M458.1 83.6h0M395.5 62.2h0M413.5 83.2h0M403.2 97.9h0M451.1 64.9h0M407.1 76.3h0M433.0 81.0h0M397.6 67.4h0M406.9 67.1h0M397.6 72.0h0M397.4 99.2h0M403.7 59.8h0M395.0 65.0h0M395.7 64.8h0M442.2 85.1h0M406.3 82.4h0M408.5 67.2h0M402.4 61.4h0M401.3 77.1h0M411.7 68.8h0M403.5 68.6h0M401.2 87.9h0M401.4 80.1h0M413.3 84.3h0M403.0 61.3h0M443.1 72.2h0M451.0 71.1h0M417.2 100.8h0M388.8 80.9h0M419.1 70.3h0M420.8 70.4h0M398.8 65.0h0M419.1 70.0h0M453.5 78.8h0M410.9 71.3h0" stroke="#3c0c3c" stroke-width="1.5" stroke-linecap="round"/>
<path d="M386.0 75.8h0M384.0 75.3h0M391.3 61.3h0M390.7 80.9h0M391.9 78.1h0M378.6 58.0h0M379.1 90.6h0M381.7 69.6h0M380.2 61.7h0M375.6 65.3h0M384.6 70.7h0M388.0 71.0h0M366.7 73.6h0M376.9 78.1h0M381.0 72.6h0" stroke="#48c848" stroke-width="1.5" stroke-linecap="round"/>
<path d="M371.1 67.6h0M376.7 75.0h0M384.9 57.5h0M379.9 69.8h0M391.1 73.2h0M386.2 63.4h0M391.4 86.3h0M378.8 68.5h0M378.2 71.2h0M384.3 70.1h0M364.7 75.7h0M389.1 78.1h0M367.9 76.0h0M383.3 72.5h0M387.4 58.7h0M372.9 87.9h0M393.2 56.7h0M384.3 65.3h0M384.5 77.4h0" stroke="#58d850" stroke-width="1.5" stroke-linecap="round"/>
<path d="M381.1 59.6h0M384.1 89.7h0M379.6 62.8h0M373.5 61.9h0M388.3 67.4h0M362.3 79.6h0M369.7 68.3h0M390.3 83.3h0M365.9 68.0h0M377.5 66.2h0M379.6 69.4h0M388.3 83.1h0M376.1 74.5h0" stroke="#163016" stroke-width="1.5" stroke-linecap="round"/>
<path d="M407.7 91.7h0M391.3 83.7h0M412.2 77.8h0M399.7 93.5h0M417.8 92.7h0M412.5 90.4h0M434.3 88.1h0M396.0 75.6h0" stroke="#e060e0" stroke-width="1.5" stroke-linecap="round"/>
<path d="M430.2 76.9h0M409.4 63.8h0M402.1 85.8h0M406.6 57.9h0M419.9 80.2h0" stroke="#183818" stroke-width="1.5" stroke-linecap="round"/>
<path d="M391.7 68.2h0M443.2 77.5h0M413.2 92.5h0" stroke="#40b83c" stroke-width="1.5" stroke-linecap="round"/>
<path d="M382.8 67.2h0M409.2 91.6h0M388.5 71.2h0M399.3 72.5h0M398.5 58.6h0M400.4 77.2h0M395.6 67.5h0M403.1 91.8h0" stroke="#48c844" stroke-width="1.5" stroke-linecap="round"/>
<path d="M364.6 69.4h0M365.7 78.9h0M363.9 60.0h0M365.4 78.7h0M370.4 84.3h0M374.1 65.1h0M373.2 83.4h0M367.6 78.6h0" stroke="#0c200c" stroke-width="1.5" stroke-linecap="round"/>
<path d="M363.5 75.9h0M367.2 72.8h0M364.8 82.3h0M405.9 52.2h0M374.7 75.4h0M361.3 78.1h0M370.7 58.7h0M364.5 77.3h0M374.4 80.3h0M365.3 58.6h0M391.4 89.4h0M360.3 66.1h0M398.3 78.5h0M402.4 78.7h0M365.9 64.8h0M373.8 62.0h0M416.0 79.9h0M369.5 83.3h0M421.9 88.3h0M404.9 65.2h0M404.1 78.2h0M446.8 65.7h0M442.0 57.2h0M403.0 77.5h0M363.9 63.1h0" stroke="#101810" stroke-width="1.5" stroke-linecap="round"/>
<path d="M396.0 67.5h0M406.0 70.2h0M442.9 67.1h0M384.0 84.2h0M408.3 71.8h0M447.2 71.4h0M402.0 71.3h0M410.3 63.6h0M407.9 73.1h0M408.3 67.3h0M441.9 68.8h0M395.2 58.3h0M451.7 78.8h0M453.5 80.2h0M406.7 70.6h0M406.4 70.1h0M450.0 67.0h0M429.0 85.1h0M411.3 67.5h0M411.2 75.0h0M452.6 63.3h0M400.4 60.1h0M402.0 76.4h0M415.8 69.9h0M412.9 74.8h0M408.3 64.1h0M450.0 71.7h0M394.7 74.4h0M405.5 72.9h0M410.2 65.7h0M403.5 66.6h0M405.7 66.1h0M410.3 83.3h0M444.5 74.7h0M407.0 55.9h0M409.2 63.6h0M403.6 69.6h0M416.8 67.4h0M406.3 65.0h0M408.8 79.6h0M394.0 56.4h0" stroke="#3c0c3c" stroke-width="1.5" stroke-linecap="round"/>
<path d="M395.8 69.4h0M373.1 70.9h0M402.7 77.7h0M409.4 75.4h0M423.9 76.7h0M430.2 91.4h0M417.8 83.4h0M422.1 97.8h0M416.8 83.5h0M419.6 61.7h0M373.7 69.1h0M395.7 58.8h0M420.4 85.8h0M401.7 66.4h0M396.4 70.5h0M409.5 81.0h0M409.5 80.5h0M413.4 63.8h0M399.9 85.0h0M397.1 85.5h0M433.8 84.4h0M411.1 57.3h0M400.4 72.4h0M411.9 74.4h0M416.4 87.2h0M404.0 67.1h0" stroke="#d030d0" stroke-width="1.5" stroke-linecap="round"/>
<path d="M368.4 77.9h0M363.5 72.1h0M362.6 71.1h0M366.7 65.0h0M366.0 65.3h0M368.5 69.7h0M366.8 71.9h0M370.6 82.1h0M365.2 75.5h0M362.9 75.3h0M369.5 78.0h0M363.8 76.7h0M363.2 76.5h0M366.2 70.8h0" stroke="#0c200c" stroke-width="1.5" stroke-linecap="round"/>
<path d="M406.7 88.5h0M394.1 70.0h0M448.8 74.2h0M426.4 103.2h0M431.8 82.1h0M415.9 100.3h0M454.9 55.1h0M399.7 61.9h0M446.6 82.9h0M419.7 65.1h0M401.4 98.1h0M454.8 83.9h0M399.1 71.3h0M411.3 73.9h0M423.6 86.9h0M415.3 62.0h0M404.6 84.6h0M451.4 58.3h0M407.6 81.1h0M415.5 84.0h0M437.9 74.6h0M447.1 77.1h0M429.8 85.0h0M449.7 70.8h0M403.1 71.1h0M400.9 52.2h0M404.5 68.3h0M405.4 57.5h0M451.2 85.8h0M438.6 79.8h0M443.1 75.8h0M454.4 67.5h0M451.7 78.1h0M448.3 51.4h0M394.4 81.5h0M402.7 62.1h0M416.6 66.1h0M391.3 67.9h0" stroke="#501050" stroke-width="1.5" stroke-linecap="round"/>
<path d="M369.5 68.9h0M366.9 60.4h0M397.7 64.8h0M394.7 64.7h0M394.6 63.1h0M371.2 74.0h0M380.1 90.6h0M374.8 81.1h0M382.8 69.5h0M373.6 68.6h0M382.4 66.1h0M390.4 67.7h0M363.1 68.5h0M380.6 78.7h0M377.4 76.4h0M380.5 78.8h0M377.0 88.2h0M387.4 66.2h0M374.7 53.4h0M366.2 79.4h0M379.4 67.0h0M377.1 85.1h0" stroke="#3cc83c" stroke-width="1.5" stroke-linecap="round"/>
<path d="M378.1 90.6h0M389.2 72.9h0M383.3 68.4h0M380.1 70.8h0M366.8 74.0h0M388.8 68.7h0M378.7 83.1h0M377.7 68.0h0M384.8 61.9h0M390.3 63.7h0M373.9 75.1h0M374.5 74.8h0M383.1 60.2h0" stroke="#48c848" stroke-width="1.5" stroke-linecap="round"/>
<path d="M369.1 82.4h0M367.6 81.4h0M364.0 78.9h0M382.2 76.7h0M383.4 83.3h0M367.7 59.3h0M376.1 85.5h0M373.5 85.4h0M388.3 74.3h0M367.2 67.5h0M368.3 61.8h0M382.4 65.9h0M371.0 82.7h0M363.0 78.8h0M387.7 69.2h0M368.9 63.2h0M384.9 66.1h0M368.9 61.6h0M376.2 72.4h0M376.3 69.8h0M381.6 53.9h0M365.6 68.3h0M372.8 80.2h0M379.0 81.7h0M373.8 69.6h0M365.1 66.2h0M389.3 74.0h0M368.1 64.0h0M374.7 84.9h0M382.8 67.8h0M382.7 63.4h0M374.5 56.4h0M375.9 72.4h0M366.4 73.6h0M370.9 85.7h0M366.8 66.9h0" stroke="#0a140a" stroke-width="1.5" stroke-linecap="round"/>
<path d="M401.8 64.4h0M392.0 62.6h0M455.8 67.8h0M449.8 76.8h0M449.3 73.1h0M409.6 85.3h0M436.8 55.8h0M447.6 82.5h0M445.0 71.0h0M451.2 54.5h0M408.1 66.9h0M396.2 64.3h0M402.6 57.7h0M395.8 67.4h0M453.8 72.2h0M404.0 95.2h0M406.4 56.5h0M402.3 73.0h0M448.2 70.7h0M395.5 95.6h0M423.4 67.3h0M407.1 99.4h0M393.5 97.0h0M439.9 71.7h0M410.5 65.6h0M409.3 61.4h0M447.5 46.5h0M407.2 72.5h0M414.8 67.4h0M440.4 69.8h0M407.9 85.8h0M443.3 47.6h0" stroke="#200820" stroke-width="1.5" stroke-linecap="round"/>
<path d="M385.9 70.1h0M371.0 81.3h0M374.7 70.4h0M382.9 65.7h0M378.2 59.1h0M384.7 78.3h0M391.4 74.6h0M377.8 80.1h0M374.3 74.2h0M379.8 77.9h0M376.0 84.1h0M386.0 67.3h0M385.2 66.6h0M369.3 76.0h0M383.0 63.4h0M375.8 83.5h0" stroke="#44c044" stroke-width="1.5" stroke-linecap="round"/>
<path d="M373.3 85.8h0M385.7 75.9h0M363.3 68.8h0M386.4 68.5h0M365.3 79.7h0M376.9 56.6h0M375.8 87.8h0M371.6 61.0h0M380.5 78.8h0M367.2 75.1h0M374.1 73.6h0M365.2 76.8h0M378.2 54.2h0M365.5 76.7h0M375.2 56.8h0M381.4 87.4h0M370.0 86.8h0M364.2 76.8h0M364.7 76.8h0M369.3 71.3h0M375.2 56.5h0M382.8 80.7h0M385.1 80.4h0M391.6 74.3h0M368.7 62.8h0" stroke="#30b830" stroke-width="1.5" stroke-linecap="round"/>
<path d="M404.9 88.9h0M399.5 88.0h0M402.0 69.5h0M397.2 70.3h0M393.9 76.0h0M408.7 85.5h0M387.1 79.6h0M389.6 68.3h0M393.9 78.4h0" stroke="#48c844" stroke-width="1.5" stroke-linecap="round"/>
<path d="M380.7 57.4h0M370.8 68.3h0M372.8 73.3h0M365.3 66.2h0M370.5 84.9h0M379.2 70.5h0M379.9 74.3h0M379.1 74.1h0M376.6 59.6h0M378.6 64.3h0M378.4 72.5h0M376.4 84.7h0M383.0 71.0h0M385.2 72.7h0M378.6 83.3h0M393.2 76.8h0" stroke="#50d450" stroke-width="1.5" stroke-linecap="round"/>
<path d="M410.2 84.3h0M430.5 82.6h0M441.5 81.6h0M414.8 94.1h0M420.0 82.6h0M424.8 78.2h0M429.6 82.0h0M410.8 82.3h0M422.4 80.5h0" stroke="#e060e0" stroke-width="1.5" stroke-linecap="round"/>
<path d="M411.7 97.2h0M402.5 64.2h0M419.6 66.4h0M439.6 84.0h0M408.5 65.0h0M402.3 80.8h0M407.9 69.4h0M423.2 73.7h0M449.3 73.5h0M406.6 71.5h0M401.3 68.7h0M403.4 70.0h0M411.6 58.9h0M443.6 67.3h0M408.2 73.0h0M415.3 65.3h0M405.1 77.5h0M453.0 77.1h0M407.4 68.9h0M396.9 70.8h0M403.1 64.6h0M395.8 62.3h0M456.7 75.9h0M407.2 58.9h0M454.5 80.7h0M434.7 79.6h0M399.9 65.0h0" stroke="#c828c8" stroke-width="1.5" stroke-linecap="round"/>
<path d="M363.2 61.5h0M380.8 69.7h0M372.5 73.7h0M390.2 82.1h0M382.4 75.5h0M376.8 64.6h0M373.5 69.4h0M381.3 61.7h0M367.9 85.5h0M375.8 68.9h0M380.6 76.6h0M385.4 68.2h0M376.5 79.5h0M372.9 74.7h0M373.0 68.8h0M375.7 55.5h0M375.3 59.3h0M380.2 61.7h0" stroke="#58d850" stroke-width="1.5" stroke-linecap="round"/>
<path d="M377.2 70.2h0M383.3 60.9h0M383.1 65.4h0M381.7 81.1h0M387.2 69.6h0M377.0 90.0h0M380.2 68.2h0M374.8 79.5h0M379.7 67.4h0M368.8 64.4h0M398.1 66.1h0M384.8 79.9h0M388.7 60.9h0M390.4 84.7h0M383.7 54.9h0M372.9 75.6h0M369.1 63.1h0M378.3 89.9h0M391.5 65.2h0" stroke="#163016" stroke-width="1.5" stroke-linecap="round"/>
<path d="M405.1 98.8h0M439.7 76.7h0M439.1 85.4h0M390.2 76.9h0" stroke="#183818" stroke-width="1.5" stroke-linecap="round"/>
<path d="M385.8 65.7h0M373.0 78.7h0M382.0 92.1h0M385.9 61.6h0M389.2 79.2h0M389.3 86.2h0M376.2 77.6h0M375.9 65.7h0M368.6 86.4h0M373.3 65.2h0M385.5 67.8h0M376.8 68.7h0M377.1 75.4h0" stroke="#60dc58" stroke-width="1.5" stroke-linecap="round"/>
<path d="M427.8 68.8h0M406.9 78.8h0M441.3 67.3h0M388.7 58.1h0M392.7 70.8h0M403.0 70.2h0M397.0 67.0h0M404.0 98.7h0M400.8 81.9h0" stroke="#40b83c" stroke-width="1.5" stroke-linecap="round"/>
<path d="M446.4 77.3h0M431.3 80.4h0M409.0 75.4h0M437.2 51.7h0M407.6 54.0h0M402.3 64.8h0M452.9 71.7h0M453.0 48.5h0M423.4 101.1h0M404.9 59.7h0M423.9 84.3h0M445.5 53.3h0M407.9 60.2h0M450.5 58.5h0M416.5 61.8h0M413.0 63.3h0M414.8 77.3h0M403.9 80.6h0M442.8 76.3h0M405.3 80.8h0M449.3 67.2h0M406.2 68.5h0M463.2 56.3h0M401.5 71.1h0M415.7 73.9h0M397.4 73.2h0M448.0 68.3h0M454.2 61.7h0M399.6 55.5h0M402.4 72.0h0M402.4 71.5h0M458.9 58.0h0M415.8 71.1h0M398.9 84.0h0M374.8 78.8h0M397.7 77.0h0M409.7 73.2h0M397.9 66.9h0M431.5 89.2h0M430.2 81.4h0M403.4 63.9h0M369.2 74.1h0M444.6 60.7h0M414.1 71.4h0" stroke="#3c0c3c" stroke-width="1.5" stroke-linecap="round"/>
<path d="M415.9 92.4h0M426.6 73.9h0M397.3 98.4h0M407.4 72.4h0M451.0 83.1h0M439.0 69.5h0M396.4 58.8h0M402.8 68.7h0M414.1 101.1h0M414.2 56.8h0M407.7 67.2h0M403.3 90.5h0M442.3 52.9h0M449.5 66.7h0M454.3 64.3h0M400.5 98.7h0M403.6 69.7h0M392.0 97.5h0M400.9 98.3h0M395.3 63.2h0M400.8 62.9h0M400.6 60.7h0M405.3 73.5h0M415.4 52.6h0M408.7 74.5h0M397.5 78.3h0M405.4 72.5h0M400.8 98.6h0M398.8 71.5h0M430.0 88.6h0M441.8 81.7h0M440.1 91.8h0M397.1 84.0h0M446.5 64.4h0" stroke="#501050" stroke-width="1.5" stroke-linecap="round"/>
<path d="M373.9 56.9h0M372.0 61.8h0M365.6 67.5h0M363.7 78.9h0M385.8 68.4h0M394.2 63.9h0M370.4 74.3h0M370.1 67.9h0M389.9 67.1h0M374.9 69.0h0M384.9 59.2h0M385.8 71.4h0M390.0 54.7h0M368.7 77.2h0M386.6 58.1h0M383.4 76.6h0M368.8 76.8h0M371.0 75.6h0M375.8 56.9h0M390.2 79.4h0M368.4 66.8h0M361.8 68.7h0M366.5 58.8h0M377.7 60.6h0M368.8 62.0h0M366.9 78.3h0M387.8 62.7h0M373.3 64.9h0M368.1 77.8h0M377.3 63.1h0M365.3 77.0h0M385.2 61.1h0" stroke="#0a140a" stroke-width="1.5" stroke-linecap="round"/>
<path d="M388.8 84.0h0M380.7 70.6h0M381.7 65.8h0M368.7 77.3h0M363.3 65.1h0M384.8 64.0h0M381.7 76.3h0M377.6 89.3h0M381.0 70.0h0M375.8 74.9h0M384.0 86.7h0M381.6 68.0h0M382.8 74.3h0M395.0 69.8h0M372.8 81.9h0M366.8 67.6h0M381.3 69.9h0" stroke="#58d850" stroke-width="1.5" stroke-linecap="round"/>
<path d="M379.0 80.9h0M375.9 61.4h0M381.0 74.0h0M381.1 85.8h0M384.8 79.7h0M383.7 61.1h0M369.7 70.7h0M386.6 72.9h0M367.6 56.5h0M376.1 84.4h0M390.6 88.4h0M375.9 71.0h0M367.3 85.4h0M381.4 80.3h0M373.0 63.5h0M387.4 57.4h0M381.2 66.1h0M393.5 79.2h0" stroke="#50d450" stroke-width="1.5" stroke-linecap="round"/>
<path d="M446.9 74.3h0M440.6 87.6h0M446.3 75.7h0M395.3 71.2h0M402.1 67.0h0M409.2 73.5h0M438.0 92.1h0M396.9 98.9h0M404.8 62.1h0M408.7 65.2h0M454.5 66.5h0M412.2 68.3h0M419.5 81.5h0M398.2 66.7h0M450.8 57.0h0M404.2 59.0h0M452.5 69.0h0M439.9 77.1h0M398.7 75.1h0M408.2 100.0h0M396.0 67.3h0M445.7 57.2h0M405.4 76.9h0M403.4 56.4h0M460.7 76.3h0M395.7 99.1h0M403.5 72.0h0M396.4 63.3h0M460.9 77.7h0" stroke="#200820" stroke-width="1.5" stroke-linecap="round"/>
<path d="M379.1 72.1h0M370.2 71.6h0M381.9 84.3h0M377.0 53.4h0M382.0 83.1h0M376.4 81.3h0M378.0 65.2h0M385.1 69.3h0M380.5 82.6h0M381.7 79.1h0M374.2 63.0h0M398.2 71.2h0M381.1 70.2h0M378.0 76.1h0M378.6 73.9h0M360.3 68.3h0M376.7 84.3h0M390.6 67.1h0M378.5 70.7h0M388.5 68.5h0M391.5 85.9h0M390.6 67.7h0M388.7 83.7h0M383.0 79.2h0M374.8 62.1h0M376.4 62.1h0M378.6 65.8h0M387.7 55.6h0M378.8 77.6h0" stroke="#60dc58" stroke-width="1.5" stroke-linecap="round"/>
<path d="M432.1 82.2h0M406.8 90.5h0M404.9 63.3h0M391.0 68.9h0M409.3 71.4h0M408.4 86.3h0M403.0 65.2h0M391.4 95.1h0M379.3 69.3h0M406.9 81.3h0M413.3 70.1h0M404.6 73.7h0M429.0 79.4h0M411.8 90.8h0M397.7 79.6h0M420.7 86.5h0M406.7 68.9h0M372.6 85.2h0M401.7 61.7h0M398.7 66.8h0M405.4 67.5h0M396.7 63.8h0M398.8 74.9h0" stroke="#d030d0" stroke-width="1.5" stroke-linecap="round"/>
<path d="M382.8 68.7h0M380.6 52.6h0M369.6 70.7h0M366.5 60.7h0M376.7 58.5h0M379.6 63.2h0M378.0 66.4h0M374.1 67.1h0M377.6 73.5h0M377.5 82.8h0M383.7 72.6h0M389.2 79.3h0M392.9 65.9h0M387.5 91.0h0M378.0 86.4h0M391.8 83.8h0M377.4 68.6h0M385.0 75.8h0" stroke="#3cc83c" stroke-width="1.5" stroke-linecap="round"/>
<path d="M376.6 74.7h0M376.5 60.5h0M368.6 72.2h0M375.4 69.4h0M385.8 60.4h0M375.9 68.1h0M373.6 73.6h0M366.9 67.2h0M380.8 82.2h0M374.2 74.9h0M378.6 68.7h0M383.1 83.6h0M392.7 72.0h0M373.1 65.7h0M384.7 52.1h0M371.7 63.2h0" stroke="#48c848" stroke-width="1.5" stroke-linecap="round"/>
<path d="M366.7 81.0h0M366.4 81.7h0M366.2 63.2h0M390.5 77.4h0M367.5 74.6h0M383.0 66.2h0M369.0 66.1h0M371.4 71.8h0M365.9 78.3h0M379.7 68.9h0M374.7 60.1h0M371.4 55.7h0M366.4 81.1h0M370.7 84.3h0M367.1 68.6h0M369.3 85.9h0M375.2 79.7h0M378.4 80.8h0M377.5 81.9h0M383.0 59.8h0M374.7 53.1h0M382.1 55.3h0M378.1 74.4h0M364.3 68.8h0M374.8 70.2h0" stroke="#30b830" stroke-width="1.5" stroke-linecap="round"/>
<path d="M415.1 75.0h0M426.3 97.1h0M401.6 89.7h0M419.0 54.1h0M440.3 84.5h0M416.3 83.6h0M408.4 85.9h0" stroke="#183818" stroke-width="1.5" stroke-linecap="round"/>
<path d="M391.8 82.8h0M405.3 77.7h0M401.9 95.4h0M432.4 61.9h0M413.7 63.9h0M399.4 68.5h0M450.8 69.1h0M451.4 58.2h0M389.8 75.6h0M423.9 91.8h0M427.0 70.9h0M405.6 79.2h0" stroke="#40b83c" stroke-width="1.5" stroke-linecap="round"/>
<path d="M416.1 90.9h0M367.5 85.2h0M365.3 72.9h0M367.9 67.4h0M364.9 73.3h0M363.5 79.5h0M367.6 73.9h0M405.1 71.8h0M363.8 81.3h0M402.7 91.3h0M404.7 68.8h0M437.4 58.1h0M372.4 78.5h0M371.4 72.2h0M368.7 71.3h0M435.9 83.7h0M404.9 62.8h0M365.3 70.9h0M390.9 66.6h0M367.9 81.2h0M404.6 80.6h0M364.1 79.0h0M367.3 65.9h0M401.5 84.9h0M365.2 78.1h0M363.7 74.2h0M370.9 64.3h0" stroke="#101810" stroke-width="1.5" stroke-linecap="round"/>
<path d="M379.4 81.5h0M385.2 76.3h0M374.9 70.0h0M375.2 77.9h0M373.8 86.5h0M380.7 74.7h0M389.5 66.3h0M375.0 82.0h0M367.4 75.9h0M378.1 72.8h0M366.8 84.5h0M367.0 76.0h0M392.3 70.9h0M384.1 66.3h0M381.2 67.7h0" stroke="#44c044" stroke-width="1.5" stroke-linecap="round"/>
<path d="M413.8 70.3h0M418.6 57.1h0M402.3 55.4h0M439.8 64.7h0M401.8 73.5h0M414.9 65.5h0M414.0 65.3h0M412.1 100.5h0M412.1 79.6h0M453.3 67.9h0M421.9 101.7h0M446.1 61.2h0M446.4 58.2h0M407.7 64.6h0M456.1 68.6h0M449.1 51.4h0M416.7 102.6h0M405.9 63.5h0" stroke="#c828c8" stroke-width="1.5" stroke-linecap="round"/>
<path d="M400.8 74.3h0M421.1 82.5h0M406.7 92.4h0M393.9 83.5h0M404.7 95.4h0M428.5 76.0h0M435.4 93.4h0M406.3 76.7h0M405.4 99.0h0M399.7 80.3h0M418.9 73.8h0M420.0 85.6h0M427.1 84.0h0" stroke="#e060e0" stroke-width="1.5" stroke-linecap="round"/>
<path d="M375.0 71.7h0M373.1 74.4h0M382.5 60.6h0M376.8 60.5h0M369.7 71.5h0M378.0 76.1h0M375.9 71.2h0M395.5 73.9h0M386.1 64.7h0M384.1 74.1h0M382.3 53.7h0M371.6 62.6h0M389.6 82.4h0M386.5 69.7h0M372.0 82.2h0" stroke="#163016" stroke-width="1.5" stroke-linecap="round"/>
<path d="M371.2 83.0h0M368.4 67.0h0M368.1 80.6h0M366.1 59.9h0M366.5 81.6h0M371.6 79.6h0M368.5 65.4h0M369.2 67.6h0M374.3 81.1h0M361.7 66.6h0M366.2 65.8h0M371.6 81.5h0M365.3 73.4h0M373.3 67.4h0M371.1 78.3h0M371.5 81.7h0M366.9 71.1h0M370.7 76.9h0M361.5 71.6h0" stroke="#0c200c" stroke-width="1.5" stroke-linecap="round"/>
<path d="M399.5 72.9h0" stroke="#48c844" stroke-width="1.5" stroke-linecap="round"/>
<path d="M378.4,50.5 C380.9,50.2 384.8,50.3 386.9,51.0 C389.0,51.7 390.1,53.0 391.1,54.7 C392.1,56.4 392.7,58.5 392.7,61.0 C392.7,63.5 391.5,66.5 391.1,69.5 C390.8,72.5 390.3,75.7 390.6,79.0 C390.9,82.3 392.4,86.8 392.7,89.6 C393.0,92.4 393.1,94.6 392.7,95.9 C392.2,97.2 391.5,97.8 390.0,97.5 C388.5,97.2 386.0,95.3 383.7,94.3 C381.4,93.3 378.9,92.8 376.3,91.7 C373.7,90.6 370.2,89.5 367.9,87.5 C365.6,85.5 364.0,82.3 362.6,80.0 C361.2,77.7 360.1,75.8 359.4,73.7 C358.7,71.6 358.1,69.4 358.3,67.4 C358.5,65.5 359.3,63.8 360.5,62.0 C361.7,60.2 363.8,58.4 365.7,56.8 C367.6,55.2 370.0,53.6 372.1,52.6 C374.2,51.6 375.9,50.8 378.4,50.5Z" fill="none" stroke="#50b048" stroke-width="1.2"/>
<path d="M454.0,36.8 C455.6,36.9 457.0,38.1 458.3,39.9 C459.6,41.6 461.0,44.4 462.0,47.3 C463.0,50.2 464.0,53.8 464.5,57.1 C465.0,60.4 465.3,63.7 465.1,67.0 C464.9,70.3 464.1,74.0 463.2,76.9 C462.3,79.8 461.1,82.0 459.5,84.3 C457.9,86.5 455.6,88.8 453.4,90.4 C451.1,92.0 448.5,93.5 446.0,94.1 C443.5,94.7 440.6,94.7 438.6,94.1 C436.6,93.5 435.2,92.5 434.2,90.4 C433.2,88.4 432.7,85.1 432.4,81.8 C432.1,78.5 432.1,74.0 432.4,70.7 C432.7,67.4 433.4,65.2 434.2,62.1 C435.0,59.0 435.9,55.1 437.3,52.2 C438.7,49.3 440.5,47.0 442.3,44.8 C444.1,42.6 446.4,40.5 448.4,39.2 C450.3,37.9 452.4,36.7 454.0,36.8Z" fill="none" stroke="#e030e0" stroke-width="1.2"/>
</g>
<g transform="translate(-55.5,103.5)">
<path d="M392,52 L452,38" stroke="#d8c8d8" stroke-width="0.4" opacity="0.6"/>
<path d="M371.0 79.9h0M406.2 72.8h0M365.7 79.2h0M360.8 73.2h0M426.7 75.2h0M374.7 80.5h0M360.8 74.6h0M366.2 76.3h0M376.6 81.7h0M401.1 92.7h0M447.8 81.8h0M399.2 75.6h0M364.6 83.0h0M415.3 79.9h0M403.9 77.8h0M437.1 77.7h0M393.7 55.9h0M364.4 81.8h0M370.5 64.1h0M373.8 80.1h0M367.1 68.0h0M370.9 82.2h0M450.3 55.5h0" stroke="#101810" stroke-width="1.5" stroke-linecap="round"/>
<path d="M372.8 83.4h0M378.9 73.5h0M375.0 76.2h0M373.3 54.9h0M380.2 65.2h0M381.1 61.2h0M380.9 77.8h0M372.8 55.2h0M378.8 83.4h0M371.0 64.1h0M388.0 70.2h0M371.1 78.4h0M385.6 71.3h0M373.4 75.4h0M371.2 78.8h0" stroke="#3cc83c" stroke-width="1.5" stroke-linecap="round"/>
<path d="M378.4 76.8h0M376.7 70.3h0M368.6 72.5h0M388.7 54.3h0M382.6 68.4h0M382.2 64.4h0M384.5 53.0h0M370.3 62.2h0M374.3 83.7h0M382.0 83.2h0M391.1 54.0h0M372.3 73.6h0M383.2 90.1h0M377.1 76.4h0M364.2 67.5h0M377.4 71.0h0M385.1 78.1h0M368.4 61.5h0" stroke="#44c044" stroke-width="1.5" stroke-linecap="round"/>
<path d="M388.5 76.5h0M374.4 86.7h0M368.8 76.3h0M385.2 58.9h0M364.2 75.5h0M371.9 69.5h0M372.8 69.6h0M371.2 78.4h0M370.8 82.6h0M382.1 60.4h0M383.6 70.6h0M364.1 73.8h0M365.8 80.0h0M366.4 81.1h0M380.8 65.3h0M368.4 64.5h0M371.8 68.2h0M368.4 76.0h0M385.8 75.3h0M370.8 78.3h0M373.5 82.4h0M373.1 69.8h0M367.4 68.8h0M363.4 78.9h0M394.1 80.7h0M375.5 59.0h0M361.4 72.8h0M385.5 80.5h0M371.9 64.3h0" stroke="#30b830" stroke-width="1.5" stroke-linecap="round"/>
<path d="M410.5 93.0h0M402.4 64.2h0M406.9 96.5h0M420.8 64.2h0M413.0 84.8h0M403.7 72.3h0M388.1 81.6h0M417.5 79.0h0M413.1 70.4h0M460.3 79.4h0M433.1 58.6h0M431.7 86.8h0" stroke="#40b83c" stroke-width="1.5" stroke-linecap="round"/>
<path d="M368.9 75.9h0M382.9 80.9h0M370.2 58.9h0M370.5 64.4h0M381.1 66.6h0M382.3 75.2h0M381.7 70.5h0M385.3 57.7h0M371.7 59.7h0M379.2 81.7h0M372.2 67.7h0M383.6 58.1h0M395.2 86.0h0" stroke="#163016" stroke-width="1.5" stroke-linecap="round"/>
<path d="M363.8 77.7h0M364.0 73.7h0M374.6 61.4h0M383.1 75.1h0M384.0 73.4h0M389.1 74.3h0M365.7 81.1h0M385.4 71.9h0M365.6 57.2h0M362.3 73.8h0M377.1 74.0h0M395.3 77.3h0M369.4 72.5h0M380.7 85.3h0M382.4 58.6h0M366.1 69.1h0M366.2 72.6h0M385.1 66.5h0M384.1 64.8h0M379.6 55.6h0M369.7 78.0h0M365.8 69.3h0M366.8 59.6h0M391.3 74.3h0M376.9 79.6h0M366.5 68.2h0M372.3 77.8h0M362.3 74.9h0M375.6 78.2h0M392.6 74.3h0" stroke="#0a140a" stroke-width="1.5" stroke-linecap="round"/>
<path d="M371.7 68.0h0M381.0 67.6h0M375.0 77.9h0M372.7 83.7h0M370.4 62.7h0M385.4 81.4h0M378.0 72.8h0M378.1 66.1h0M394.7 67.8h0M373.8 74.2h0M385.7 81.2h0M376.0 65.3h0M375.2 73.2h0M386.9 81.4h0M381.0 63.0h0M381.1 90.8h0M382.0 58.0h0M381.3 71.6h0M378.2 62.8h0M370.6 80.9h0M374.9 88.7h0M384.1 66.2h0M380.0 70.9h0" stroke="#50d450" stroke-width="1.5" stroke-linecap="round"/>
<path d="M390.5 62.6h0M397.3 68.7h0M400.7 78.1h0M403.0 77.4h0M407.2 72.9h0M401.9 60.8h0" stroke="#48c844" stroke-width="1.5" stroke-linecap="round"/>
<path d="M362.8 71.8h0M374.6 63.6h0M371.2 72.8h0M366.0 64.4h0M366.7 66.5h0M367.5 80.4h0M366.2 68.7h0" stroke="#0c200c" stroke-width="1.5" stroke-linecap="round"/>
<path d="M374.5 78.9h0M378.3 53.3h0M382.6 66.0h0M384.1 54.1h0M373.4 65.5h0M382.0 75.6h0M385.6 81.9h0M383.7 88.2h0M368.8 68.3h0M368.0 73.0h0M389.2 65.0h0M374.6 68.8h0M383.4 69.2h0M393.4 81.8h0M386.0 57.5h0M370.6 75.2h0M384.0 67.0h0M374.6 76.4h0M369.3 81.4h0M385.5 69.1h0M376.0 60.7h0M371.9 81.6h0M370.1 76.8h0" stroke="#58d850" stroke-width="1.5" stroke-linecap="round"/>
<path d="M377.6 55.5h0M378.7 73.2h0M383.1 63.3h0M385.3 73.3h0M372.4 69.0h0M383.0 77.1h0M379.8 69.3h0M376.6 70.8h0M368.2 62.7h0M386.0 63.2h0M381.6 54.3h0M378.0 69.4h0M368.7 77.4h0M375.0 73.7h0M369.6 64.7h0M374.3 66.2h0M376.6 55.5h0M386.2 77.4h0" stroke="#48c848" stroke-width="1.5" stroke-linecap="round"/>
<path d="M424.5 75.0h0M411.1 81.3h0M416.1 73.5h0M415.3 88.9h0" stroke="#183818" stroke-width="1.5" stroke-linecap="round"/>
<path d="M373.9 83.5h0M385.8 73.8h0M386.5 64.6h0M378.9 68.2h0M365.6 65.7h0M379.0 73.8h0M385.5 74.6h0M376.3 80.8h0M382.5 72.6h0M383.0 75.2h0M371.5 75.0h0M380.9 60.0h0M369.9 84.8h0M382.7 55.5h0M388.8 68.5h0M374.8 69.8h0" stroke="#60dc58" stroke-width="1.5" stroke-linecap="round"/>
<path d="M365.8 77.5h0M390.3 90.4h0M387.9 55.4h0M377.2 68.3h0M376.3 65.8h0M391.9 71.4h0M378.2 86.5h0M388.5 75.0h0M368.4 84.1h0M383.2 56.5h0M381.3 68.3h0M374.1 87.7h0M376.6 85.9h0M382.4 76.4h0" stroke="#44c044" stroke-width="1.5" stroke-linecap="round"/>
<path d="M383.4 58.1h0M376.2 69.7h0M382.2 68.0h0M368.8 62.6h0M376.9 77.6h0M379.2 69.2h0M384.1 71.9h0M379.4 70.2h0M374.7 86.5h0M384.8 58.1h0M379.1 74.5h0M386.5 84.2h0M373.8 74.3h0M381.2 68.2h0M381.8 72.1h0M379.4 63.9h0M395.2 59.3h0M374.9 87.8h0" stroke="#163016" stroke-width="1.5" stroke-linecap="round"/>
<path d="M394.9 67.6h0M400.3 69.0h0M362.8 77.2h0M395.3 74.9h0M368.2 74.4h0M394.3 74.8h0M366.7 68.0h0M361.9 75.5h0M388.0 75.4h0M369.0 68.0h0M402.7 71.4h0M365.0 72.2h0M362.6 68.0h0M366.8 77.9h0M366.3 70.8h0M395.2 73.1h0M366.7 77.2h0M385.7 78.1h0M409.6 66.2h0M440.2 68.7h0M396.0 84.7h0M370.6 75.8h0M421.2 83.6h0M363.4 71.0h0M368.3 69.6h0M413.6 77.4h0M364.3 74.0h0M447.2 63.9h0" stroke="#101810" stroke-width="1.5" stroke-linecap="round"/>
<path d="M380.7 78.0h0M374.5 61.1h0M376.8 61.4h0M384.0 71.1h0M382.1 74.4h0M382.5 80.2h0M379.6 75.1h0M366.2 70.6h0M387.8 75.3h0M376.2 60.8h0M372.8 71.0h0M376.8 81.4h0M379.2 81.6h0M384.8 73.7h0M386.2 58.5h0" stroke="#58d850" stroke-width="1.5" stroke-linecap="round"/>
<path d="M386.3 68.3h0M381.3 71.2h0M375.5 64.0h0M367.9 69.2h0M377.4 64.9h0M385.2 66.6h0M376.1 76.8h0M379.9 78.7h0M377.0 80.9h0M379.4 71.4h0M380.9 70.4h0M388.6 63.0h0M381.5 72.1h0M378.2 63.4h0M374.3 53.9h0M374.4 68.0h0M367.1 84.0h0M381.1 82.7h0M368.9 57.4h0" stroke="#3cc83c" stroke-width="1.5" stroke-linecap="round"/>
<path d="M389.6 63.6h0M413.4 73.5h0M396.3 66.1h0M392.3 60.7h0M390.1 63.2h0M429.2 86.8h0M384.4 60.5h0M459.2 54.1h0M441.5 65.6h0M396.3 67.1h0" stroke="#40b83c" stroke-width="1.5" stroke-linecap="round"/>
<path d="M416.0 81.2h0M413.0 70.7h0M391.1 81.2h0M406.6 91.1h0M400.8 91.7h0M402.1 97.6h0M428.3 90.5h0M416.3 71.2h0" stroke="#183818" stroke-width="1.5" stroke-linecap="round"/>
<path d="M369.9 54.5h0M378.5 84.7h0M377.1 74.4h0M374.1 81.3h0M364.7 72.0h0M381.2 68.7h0M381.5 73.2h0M384.2 64.9h0M366.6 78.5h0M375.2 58.4h0M364.7 68.0h0M385.6 62.0h0M367.9 58.8h0M372.6 84.3h0M378.2 83.5h0M385.0 90.4h0M384.1 57.4h0" stroke="#50d450" stroke-width="1.5" stroke-linecap="round"/>
<path d="M366.1 67.1h0M380.2 78.0h0M378.5 67.7h0M374.2 66.1h0M371.0 63.0h0M372.3 76.5h0M377.9 60.1h0M386.0 70.1h0M377.6 78.1h0M381.8 89.2h0M371.9 69.2h0M370.1 62.6h0M387.9 77.3h0M376.0 78.0h0M372.3 68.8h0M379.5 64.0h0" stroke="#48c848" stroke-width="1.5" stroke-linecap="round"/>
<path d="M381.8 56.5h0M373.2 73.4h0M359.9 69.7h0M381.8 74.3h0M379.6 70.0h0M370.4 80.5h0M380.4 54.4h0M366.8 78.7h0M379.5 78.3h0M377.6 88.7h0M369.8 78.0h0M365.6 76.2h0M384.7 59.4h0M380.5 77.7h0M366.9 72.5h0M365.7 75.5h0M363.4 75.6h0M381.6 74.2h0M364.3 70.2h0M363.9 78.5h0M365.6 81.3h0M368.4 70.7h0M373.9 76.7h0M382.2 71.3h0M369.0 77.0h0M372.0 63.8h0M366.5 77.5h0M369.4 77.0h0M367.7 60.0h0M386.9 82.5h0M371.2 77.0h0M383.4 93.5h0M369.0 56.6h0" stroke="#0a140a" stroke-width="1.5" stroke-linecap="round"/>
<path d="M390.9 64.8h0M411.0 78.6h0M398.8 78.0h0M399.7 71.2h0M391.7 70.4h0" stroke="#48c844" stroke-width="1.5" stroke-linecap="round"/>
<path d="M368.1 63.7h0M372.1 76.9h0M367.6 66.7h0M364.3 65.3h0M369.2 79.5h0M367.8 82.7h0M369.3 73.6h0M371.5 70.7h0M364.3 68.9h0M365.2 70.7h0" stroke="#0c200c" stroke-width="1.5" stroke-linecap="round"/>
<path d="M383.7 88.6h0M384.8 62.3h0M366.6 60.6h0M378.8 76.6h0M376.9 62.5h0M371.6 79.7h0M385.7 80.0h0M380.3 60.7h0M381.7 67.5h0M376.7 66.4h0M379.5 75.5h0M387.6 74.8h0" stroke="#60dc58" stroke-width="1.5" stroke-linecap="round"/>
<path d="M376.1 56.3h0M361.6 64.1h0M373.4 68.1h0M364.6 75.9h0M375.0 87.5h0M395.7 67.3h0M368.9 79.2h0M381.5 82.6h0M362.7 78.3h0M385.7 68.9h0M381.5 82.9h0M366.9 59.3h0M390.2 67.0h0M360.2 66.4h0M369.3 60.9h0M370.9 57.4h0M370.6 80.6h0M372.4 69.2h0M373.6 64.7h0M375.2 87.2h0M368.2 79.5h0M365.4 72.3h0M379.2 66.3h0M381.5 56.2h0M361.7 72.8h0M373.6 66.4h0M377.5 56.6h0M367.2 73.8h0M370.2 76.3h0M365.7 72.5h0M365.1 77.8h0M375.6 78.5h0" stroke="#30b830" stroke-width="1.5" stroke-linecap="round"/>
<path d="M386.2 73.2h0M379.3 70.6h0M393.8 67.9h0M392.8 73.2h0M372.7 84.4h0M383.3 63.6h0M380.7 74.3h0M387.0 79.4h0M381.2 82.5h0M367.4 83.9h0M382.6 60.0h0M387.2 84.3h0M387.1 67.0h0M384.0 66.4h0M370.2 73.9h0M370.6 75.2h0" stroke="#163016" stroke-width="1.5" stroke-linecap="round"/>
<path d="M365.8 66.6h0M371.9 84.8h0M394.3 84.3h0M384.6 86.2h0M367.6 74.1h0M394.8 74.8h0M367.5 76.9h0M382.6 66.5h0M385.8 72.8h0M371.7 79.4h0M379.4 59.6h0M369.6 76.7h0M370.3 63.0h0M375.7 66.3h0M383.3 63.4h0M381.9 68.4h0M373.4 68.4h0M377.0 61.8h0M370.0 73.2h0M385.9 60.6h0M371.8 74.9h0" stroke="#3cc83c" stroke-width="1.5" stroke-linecap="round"/>
<path d="M389.4 66.9h0M382.2 58.8h0M379.1 61.6h0M388.4 79.6h0M381.9 77.2h0M371.4 79.3h0M385.2 77.0h0M389.7 68.1h0M382.1 56.0h0M390.3 76.4h0M373.9 73.1h0M368.9 85.7h0M370.3 76.7h0M379.8 53.8h0M375.1 54.8h0M380.4 73.8h0M383.1 57.5h0M386.7 78.9h0M392.8 56.1h0M372.2 59.8h0" stroke="#44c044" stroke-width="1.5" stroke-linecap="round"/>
<path d="M412.3 76.2h0M370.4 86.7h0M400.3 61.6h0M400.4 68.7h0M361.5 74.8h0M401.3 79.5h0M364.2 81.7h0M369.7 72.4h0M370.8 70.2h0M400.8 91.8h0M369.2 78.0h0M393.6 85.3h0M399.4 80.1h0M419.5 60.0h0M372.0 75.1h0M371.5 81.1h0M367.7 58.0h0M420.8 63.0h0M443.0 74.7h0M412.8 77.2h0M366.9 67.0h0M404.1 64.2h0M392.3 75.1h0M366.0 83.0h0M410.6 62.4h0M365.2 81.0h0" stroke="#101810" stroke-width="1.5" stroke-linecap="round"/>
<path d="M373.7 69.0h0M374.7 63.9h0M364.0 67.9h0M371.8 62.4h0M370.6 76.1h0M368.3 61.0h0M368.1 66.7h0M370.5 75.6h0M363.5 79.8h0M367.4 67.8h0M387.3 72.4h0M363.9 81.5h0M370.5 77.0h0M381.3 70.9h0M390.1 60.9h0M384.0 66.6h0M386.8 61.9h0M380.2 75.8h0M361.8 75.6h0M372.8 80.0h0M380.5 58.5h0M376.1 72.4h0M387.0 68.3h0M362.0 75.6h0M366.5 81.9h0M376.3 54.9h0M365.0 77.9h0M383.9 74.0h0M374.9 61.6h0M364.5 78.5h0M380.5 73.0h0M380.0 69.1h0" stroke="#30b830" stroke-width="1.5" stroke-linecap="round"/>
<path d="M382.0 61.5h0M372.0 77.1h0M385.5 73.2h0M366.7 75.2h0M361.3 74.6h0M376.2 61.1h0M363.5 75.3h0M383.2 60.6h0M362.7 76.4h0M365.0 82.5h0M388.0 73.9h0M372.8 75.9h0M370.4 72.8h0M375.0 72.7h0M367.7 59.4h0M374.0 76.4h0M371.6 62.9h0M364.0 72.0h0M393.2 54.4h0M377.2 86.0h0M389.4 53.2h0" stroke="#0a140a" stroke-width="1.5" stroke-linecap="round"/>
<path d="M376.6 64.8h0M376.8 68.3h0M387.1 53.5h0M378.2 79.7h0M382.4 68.7h0M390.9 66.4h0M380.5 66.2h0M370.2 84.4h0M382.0 69.8h0M389.3 71.3h0M377.6 73.6h0" stroke="#48c848" stroke-width="1.5" stroke-linecap="round"/>
<path d="M362.0 67.1h0M364.4 82.3h0M370.9 80.9h0M363.6 79.4h0M371.5 84.7h0M370.4 69.4h0M372.1 66.0h0M371.2 81.2h0M370.1 72.0h0M363.3 75.9h0M370.0 61.6h0M366.4 60.7h0M365.7 60.5h0M369.1 81.5h0M363.8 68.5h0M364.3 76.8h0" stroke="#0c200c" stroke-width="1.5" stroke-linecap="round"/>
<path d="M391.4 72.5h0M381.8 67.1h0M389.0 72.8h0M368.1 61.6h0M376.9 78.0h0M360.2 65.6h0M383.2 76.9h0M365.7 59.4h0M377.6 68.4h0M374.4 59.9h0M369.4 65.6h0M364.1 74.6h0M380.4 72.6h0M378.5 64.5h0M379.5 74.5h0M390.5 66.2h0M380.7 80.6h0" stroke="#60dc58" stroke-width="1.5" stroke-linecap="round"/>
<path d="M414.5 74.6h0M395.9 67.4h0M397.6 83.6h0M409.8 78.1h0M399.9 73.3h0" stroke="#48c844" stroke-width="1.5" stroke-linecap="round"/>
<path d="M379.5 70.5h0M384.9 69.5h0M386.3 77.7h0M371.9 62.8h0M366.4 81.7h0M380.1 65.6h0M390.4 61.1h0M385.5 79.7h0M376.1 90.9h0M373.6 69.0h0M377.4 68.3h0M371.3 81.3h0M386.3 79.7h0M386.9 58.4h0M387.6 69.6h0M387.1 63.8h0M374.3 75.1h0M382.2 72.1h0" stroke="#58d850" stroke-width="1.5" stroke-linecap="round"/>
<path d="M375.3 70.6h0M384.0 61.4h0M369.2 66.4h0M376.9 88.5h0M381.7 61.5h0M389.8 64.7h0M391.8 78.4h0M363.4 78.7h0M373.0 63.6h0M378.4 79.9h0M398.2 65.5h0M378.3 58.5h0M396.3 71.9h0M379.8 78.3h0M383.9 62.6h0M380.4 79.2h0M374.8 76.2h0M376.2 82.1h0M367.0 71.3h0M371.6 70.8h0" stroke="#50d450" stroke-width="1.5" stroke-linecap="round"/>
<path d="M407.5 84.1h0M406.4 90.9h0M418.4 88.1h0" stroke="#183818" stroke-width="1.5" stroke-linecap="round"/>
<path d="M397.7 83.9h0M398.5 60.1h0M395.9 59.4h0M401.4 97.2h0M420.5 70.3h0M397.4 78.6h0M443.5 76.1h0M405.7 52.9h0M401.3 65.9h0M392.8 59.5h0" stroke="#40b83c" stroke-width="1.5" stroke-linecap="round"/>
<path d="M379.6 78.7h0M375.0 60.9h0M363.6 64.9h0M367.9 74.9h0M365.3 64.7h0M374.1 65.6h0M368.8 83.6h0M372.4 82.0h0M377.3 74.4h0M368.0 79.1h0M362.8 76.5h0M368.9 78.6h0M361.3 78.4h0M386.3 82.1h0M364.9 68.9h0M380.8 70.3h0M384.5 69.2h0M369.9 60.2h0M391.7 74.8h0M364.5 71.6h0M368.0 70.6h0M379.3 78.8h0M368.2 69.6h0M383.9 79.9h0M368.9 76.2h0M363.3 79.1h0M361.5 71.6h0M362.7 74.5h0M369.9 57.7h0M375.5 81.0h0M386.6 60.3h0M365.1 78.6h0M367.4 74.0h0M375.5 69.3h0M365.6 77.9h0M368.7 70.8h0M388.3 75.6h0M366.3 79.6h0M371.4 75.3h0M370.0 71.3h0M366.8 71.1h0M365.4 80.3h0M376.5 67.1h0" stroke="#30b830" stroke-width="1.5" stroke-linecap="round"/>
<path d="M372.9 75.2h0M369.6 78.8h0M370.8 77.6h0M393.3 65.6h0M360.1 69.9h0M434.4 59.1h0M409.3 80.1h0M369.1 84.1h0M369.1 77.8h0M397.1 84.4h0M401.8 65.2h0M448.0 60.8h0M363.8 73.3h0M365.9 83.0h0M451.9 57.6h0M388.8 72.5h0M392.1 56.0h0M419.3 86.3h0M400.9 52.7h0M364.1 79.5h0M417.6 81.0h0M365.3 74.8h0M372.5 84.1h0M388.6 72.8h0M363.7 67.8h0M394.0 74.6h0M424.2 84.0h0" stroke="#101810" stroke-width="1.5" stroke-linecap="round"/>
<path d="M370.8 70.8h0M378.5 59.0h0M385.4 70.1h0M381.0 79.3h0M391.2 77.8h0M373.5 55.8h0M378.0 71.5h0M376.8 63.5h0M370.4 71.0h0M393.4 78.4h0" stroke="#163016" stroke-width="1.5" stroke-linecap="round"/>
<path d="M404.5 85.9h0M400.6 93.3h0M393.0 76.4h0" stroke="#48c844" stroke-width="1.5" stroke-linecap="round"/>
<path d="M368.3 79.6h0M365.6 77.9h0M377.5 79.4h0M375.1 62.9h0M360.9 72.5h0M383.8 64.6h0M373.2 69.9h0M373.3 62.7h0M373.3 58.5h0M379.1 68.8h0M371.2 71.0h0M378.5 82.9h0M368.1 79.2h0M366.3 83.5h0M384.1 61.4h0M368.3 74.8h0M382.3 66.0h0M364.1 64.4h0M389.0 63.5h0M376.9 71.4h0M372.2 87.2h0M367.5 73.4h0" stroke="#0a140a" stroke-width="1.5" stroke-linecap="round"/>
<path d="M386.3 79.0h0M383.8 68.3h0M387.6 91.7h0M374.3 82.3h0M368.3 68.7h0M390.4 79.6h0M379.5 75.0h0M389.9 69.6h0M380.8 55.4h0M375.3 66.8h0M383.3 73.6h0M378.8 67.1h0M374.4 63.3h0M379.7 53.7h0" stroke="#3cc83c" stroke-width="1.5" stroke-linecap="round"/>
<path d="M386.3 91.4h0M381.1 82.8h0M375.3 65.3h0M385.6 73.5h0M372.1 67.3h0M383.8 60.2h0M361.6 68.1h0M382.5 66.2h0M379.3 87.4h0M378.9 67.6h0M380.0 76.8h0M385.4 59.2h0" stroke="#44c044" stroke-width="1.5" stroke-linecap="round"/>
<path d="M373.2 66.1h0M380.9 89.4h0M375.2 71.0h0M367.7 56.3h0M390.4 72.3h0M381.1 57.8h0M390.2 66.0h0M379.8 80.5h0M382.4 72.2h0M367.2 74.0h0M373.5 58.3h0M391.8 57.3h0M388.3 72.4h0M391.2 69.5h0M373.8 86.2h0M362.5 78.6h0M386.4 73.1h0M374.7 79.7h0M372.8 66.5h0M377.6 60.6h0M387.0 64.0h0M376.2 76.6h0M380.3 83.3h0" stroke="#48c848" stroke-width="1.5" stroke-linecap="round"/>
<path d="M390.3 55.9h0M373.3 54.9h0M383.1 76.1h0M387.4 77.6h0M379.8 80.6h0M366.2 66.0h0M378.8 67.8h0M388.6 84.7h0M386.7 62.0h0M384.7 83.3h0M378.3 62.9h0M388.9 78.1h0M367.8 75.1h0M381.7 74.4h0M389.2 59.6h0M385.2 88.0h0M381.5 72.4h0M378.6 81.1h0" stroke="#50d450" stroke-width="1.5" stroke-linecap="round"/>
<path d="M403.3 52.3h0M395.4 65.2h0M404.6 58.4h0M397.2 71.1h0M416.3 93.9h0M433.7 75.9h0M394.6 66.2h0M420.2 82.6h0M460.3 56.3h0" stroke="#40b83c" stroke-width="1.5" stroke-linecap="round"/>
<path d="M371.8 78.7h0M376.3 63.0h0M382.4 62.7h0M377.2 77.3h0M374.3 81.7h0M377.3 83.0h0M387.7 61.2h0M384.1 86.1h0M377.6 68.2h0M389.1 66.2h0M393.1 73.7h0" stroke="#60dc58" stroke-width="1.5" stroke-linecap="round"/>
<path d="M363.6 80.6h0M363.5 66.9h0M361.7 77.3h0M361.1 70.8h0M364.5 58.8h0M367.6 78.0h0M368.0 69.8h0M368.8 75.1h0M369.3 82.3h0M364.1 72.0h0M362.9 63.1h0M364.0 77.1h0M367.7 71.2h0M367.5 73.4h0M366.3 82.1h0M371.2 73.0h0M375.0 84.8h0M369.6 72.3h0" stroke="#0c200c" stroke-width="1.5" stroke-linecap="round"/>
<path d="M377.2 78.0h0M379.7 59.1h0M386.2 60.0h0M386.1 85.0h0M389.1 84.7h0M380.5 74.7h0M375.6 70.4h0M378.9 79.1h0M391.9 73.4h0M379.0 68.1h0M377.2 65.6h0M383.5 81.0h0M386.7 65.6h0M366.9 61.4h0M365.5 59.0h0M376.5 63.2h0M385.6 85.4h0M391.5 71.5h0M367.9 64.9h0M378.3 54.8h0" stroke="#58d850" stroke-width="1.5" stroke-linecap="round"/>
<path d="M420.6 97.5h0M410.6 70.1h0M410.6 91.2h0M408.6 82.8h0M413.1 85.2h0M403.5 83.5h0" stroke="#183818" stroke-width="1.5" stroke-linecap="round"/>
<path d="M391.6 65.7h0M381.5 55.0h0M383.8 81.8h0M369.5 75.7h0M380.7 74.3h0M370.0 81.2h0M386.6 73.9h0M396.7 72.6h0M368.1 67.5h0M365.7 72.8h0M369.6 63.2h0M379.4 90.8h0M379.1 86.3h0M390.0 81.3h0M379.9 56.2h0M369.8 70.8h0M376.8 76.0h0M367.6 72.9h0" stroke="#60dc58" stroke-width="1.5" stroke-linecap="round"/>
<path d="M368.1 70.6h0M368.9 65.3h0M369.2 71.8h0M361.7 76.8h0M366.3 67.1h0M379.0 65.5h0M370.5 63.8h0M367.2 81.7h0M383.9 63.3h0M370.0 81.7h0M361.7 65.0h0M381.0 64.8h0M377.8 90.6h0M376.5 86.9h0M367.6 78.1h0M371.1 60.7h0M369.4 61.1h0M365.0 62.8h0M368.2 76.7h0M381.6 76.5h0M392.3 57.3h0M378.8 86.8h0M367.5 81.2h0M376.7 58.2h0M368.6 74.1h0M363.8 72.8h0M388.1 68.5h0M384.0 61.3h0M371.2 75.1h0M393.4 73.2h0M372.5 81.1h0M364.1 75.9h0M385.2 84.1h0M370.7 69.9h0M363.9 68.6h0" stroke="#30b830" stroke-width="1.5" stroke-linecap="round"/>
<path d="M384.8 54.4h0M386.7 71.6h0M369.3 66.2h0M381.8 77.6h0M368.4 82.5h0M374.2 56.5h0M381.3 76.2h0M372.7 84.8h0M389.3 71.1h0M388.5 67.8h0M373.0 85.6h0M381.4 65.9h0M377.9 77.6h0M396.7 75.7h0M377.3 64.7h0M381.3 69.4h0M374.5 74.2h0M370.3 55.7h0M365.7 72.8h0M367.2 82.7h0" stroke="#48c848" stroke-width="1.5" stroke-linecap="round"/>
<path d="M383.4 80.6h0M368.9 74.3h0M376.1 65.8h0M376.0 71.4h0M384.9 70.8h0M394.8 69.5h0M395.8 83.8h0M375.2 70.7h0M371.9 76.3h0M382.1 90.7h0" stroke="#163016" stroke-width="1.5" stroke-linecap="round"/>
<path d="M408.5 85.0h0M397.8 79.9h0M461.2 64.1h0M402.5 78.4h0M426.9 91.8h0M385.7 82.3h0M404.7 87.9h0M390.4 89.3h0M394.1 65.9h0M424.4 71.6h0M394.6 86.7h0M398.8 94.2h0M449.1 66.8h0" stroke="#40b83c" stroke-width="1.5" stroke-linecap="round"/>
<path d="M372.7 74.2h0M372.8 64.6h0M378.6 74.5h0M377.3 80.8h0M389.7 84.2h0M392.3 88.2h0M375.0 62.0h0M368.8 79.9h0M362.3 75.5h0M370.7 68.9h0M362.0 65.3h0M378.9 66.7h0M384.2 60.6h0M377.3 76.0h0M383.3 58.6h0M377.5 63.1h0M388.8 78.0h0M374.8 57.9h0M375.2 87.0h0M367.3 73.9h0M389.6 61.3h0" stroke="#3cc83c" stroke-width="1.5" stroke-linecap="round"/>
<path d="M383.3 59.4h0M365.9 79.2h0M381.2 63.8h0M387.1 64.6h0M365.5 57.8h0M382.3 87.2h0M371.5 75.6h0M375.5 69.2h0M378.2 68.7h0M389.0 71.3h0M387.1 70.8h0M387.9 80.0h0M373.4 85.4h0M369.8 81.7h0M372.2 64.5h0" stroke="#44c044" stroke-width="1.5" stroke-linecap="round"/>
<path d="M368.7 64.9h0M367.4 83.1h0M379.8 64.1h0M381.3 53.2h0M373.6 72.9h0M366.8 62.6h0M372.4 73.6h0M362.5 60.9h0M379.6 84.3h0M388.0 77.6h0M374.2 87.0h0M373.1 57.2h0M376.9 81.0h0M375.1 79.7h0M375.4 79.4h0M383.5 54.2h0M371.6 78.2h0M371.1 76.8h0M385.8 70.2h0M374.7 73.9h0M385.3 69.9h0" stroke="#50d450" stroke-width="1.5" stroke-linecap="round"/>
<path d="M367.3 71.7h0M374.0 77.8h0M372.3 81.9h0M375.8 86.9h0M362.3 75.5h0M376.1 65.6h0M376.0 61.1h0M383.4 92.9h0M368.8 71.7h0M368.9 71.0h0M380.9 66.8h0M372.1 61.3h0M379.9 70.7h0M371.2 64.0h0M364.6 80.3h0M373.3 70.5h0M363.7 74.8h0M369.9 68.7h0M362.2 74.2h0" stroke="#0a140a" stroke-width="1.5" stroke-linecap="round"/>
<path d="M370.2 71.5h0M375.0 76.6h0M388.8 60.5h0M369.6 59.3h0M383.8 58.3h0M365.8 75.3h0M367.5 57.5h0M384.2 62.3h0M376.2 57.3h0M367.0 72.6h0M377.9 65.4h0M376.8 60.8h0M386.8 80.2h0M377.1 71.7h0M376.0 63.0h0M367.9 68.0h0" stroke="#58d850" stroke-width="1.5" stroke-linecap="round"/>
<path d="M363.0 80.5h0M370.6 75.7h0M368.9 62.4h0M363.5 70.4h0M403.7 84.4h0M408.4 88.8h0M363.1 80.5h0M380.9 83.2h0M365.7 79.6h0M400.6 82.7h0M393.8 63.1h0M363.4 75.1h0M364.3 61.2h0M363.0 68.9h0M404.0 83.3h0M367.2 78.4h0M364.5 67.0h0M384.4 65.7h0M429.8 70.2h0M374.5 74.2h0M362.8 78.7h0M366.4 73.1h0M371.7 73.4h0M368.7 60.5h0M374.7 75.8h0M396.0 73.1h0" stroke="#101810" stroke-width="1.5" stroke-linecap="round"/>
<path d="M407.3 85.7h0M426.9 76.4h0M428.1 99.5h0M426.8 82.2h0M418.3 72.2h0M433.5 78.2h0" stroke="#183818" stroke-width="1.5" stroke-linecap="round"/>
<path d="M397.7 73.3h0M396.4 62.6h0M405.1 69.3h0M393.2 66.3h0M406.0 76.6h0M393.0 70.3h0" stroke="#48c844" stroke-width="1.5" stroke-linecap="round"/>
<path d="M371.4 70.9h0M362.4 74.7h0M361.7 61.9h0M374.0 79.6h0M366.8 68.3h0M366.9 77.8h0M365.1 72.3h0M372.6 85.1h0M367.0 80.0h0M364.9 82.7h0" stroke="#0c200c" stroke-width="1.5" stroke-linecap="round"/>
<path d="M394.4 75.4h0M406.1 90.0h0M396.5 76.3h0" stroke="#48c844" stroke-width="1.5" stroke-linecap="round"/>
<path d="M398.5 76.5h0M400.1 56.2h0M404.6 68.3h0M393.6 75.5h0M432.6 80.1h0M423.3 72.4h0M397.0 76.0h0M410.6 81.2h0M401.3 62.0h0M402.0 52.1h0" stroke="#40b83c" stroke-width="1.5" stroke-linecap="round"/>
<path d="M372.7 74.6h0M370.1 79.3h0M369.6 83.9h0M397.2 69.6h0M410.5 76.0h0M388.8 82.1h0M368.2 68.4h0M424.6 73.4h0M432.4 92.0h0M367.3 77.8h0M372.2 72.6h0M408.6 62.6h0M401.7 76.1h0M367.9 77.6h0M369.9 71.6h0M369.7 80.8h0M368.0 81.2h0M392.2 58.6h0M361.4 75.9h0M411.7 75.2h0M389.6 67.8h0M372.8 66.2h0M365.3 61.8h0M366.2 69.6h0M415.5 76.5h0M362.0 66.5h0M364.6 62.4h0M369.4 75.8h0" stroke="#101810" stroke-width="1.5" stroke-linecap="round"/>
<path d="M433.5 73.5h0M426.8 83.8h0M396.7 72.4h0M402.3 70.5h0M394.4 66.7h0M411.9 79.8h0" stroke="#183818" stroke-width="1.5" stroke-linecap="round"/>
<path d="M384.1 74.5h0M366.1 59.6h0M374.8 61.9h0M369.8 87.0h0M370.2 86.6h0M363.0 76.0h0M379.8 64.6h0M365.4 71.1h0M386.3 83.2h0M376.7 67.6h0M373.3 85.1h0M375.1 64.7h0M367.1 69.2h0M366.3 66.5h0M376.8 89.5h0M364.7 78.6h0M362.1 66.1h0M382.4 55.2h0M368.6 71.3h0M378.0 66.4h0M376.5 63.9h0M363.1 75.2h0M374.8 74.4h0M361.0 70.3h0M364.4 69.4h0M388.2 52.1h0M374.9 74.4h0M375.0 69.5h0" stroke="#0a140a" stroke-width="1.5" stroke-linecap="round"/>
<path d="M376.8 67.3h0M363.3 67.6h0M373.2 74.8h0M386.1 71.7h0M386.1 61.1h0M375.1 78.7h0M382.4 75.2h0M376.5 80.5h0M371.6 64.4h0M387.8 69.2h0M378.5 74.2h0M385.0 74.4h0M373.4 67.7h0M381.3 60.5h0M392.1 69.3h0M371.9 70.8h0M384.7 63.0h0" stroke="#44c044" stroke-width="1.5" stroke-linecap="round"/>
<path d="M373.7 65.1h0M385.9 72.4h0M381.1 65.6h0M385.5 70.4h0M386.9 78.0h0M384.8 82.0h0M367.4 80.2h0M387.7 69.3h0M391.8 83.2h0M383.7 86.5h0M394.3 76.1h0M377.1 68.5h0M377.1 64.6h0M381.1 77.5h0M381.4 76.8h0M373.9 73.2h0M388.6 62.0h0M388.1 58.8h0M379.0 72.1h0M393.0 82.0h0" stroke="#60dc58" stroke-width="1.5" stroke-linecap="round"/>
<path d="M387.1 76.9h0M370.5 74.1h0M387.5 65.5h0M385.1 66.2h0M366.4 70.8h0M393.9 78.5h0M370.7 70.7h0M384.5 73.0h0M379.6 78.2h0M376.3 86.2h0M378.2 69.1h0M381.4 58.1h0" stroke="#58d850" stroke-width="1.5" stroke-linecap="round"/>
<path d="M366.2 70.5h0M369.2 61.7h0M366.7 69.8h0M369.6 84.5h0M373.2 76.4h0M371.4 87.4h0M386.2 65.0h0M369.2 82.2h0M390.2 65.3h0M368.6 86.4h0M374.2 74.9h0M365.2 82.3h0M371.9 73.8h0M364.9 73.4h0M369.4 72.6h0M387.7 76.6h0M364.5 78.6h0M369.3 77.7h0M366.8 83.0h0M371.1 68.9h0M376.1 67.4h0M382.9 69.6h0M383.5 69.5h0M361.2 71.3h0M362.7 63.6h0M367.7 60.7h0M386.9 78.0h0M364.6 79.7h0M374.8 72.1h0M367.4 80.8h0M366.5 81.0h0" stroke="#30b830" stroke-width="1.5" stroke-linecap="round"/>
<path d="M382.0 71.2h0M386.5 69.2h0M379.1 75.9h0M380.4 80.1h0M373.2 64.5h0M375.6 56.9h0M380.6 78.9h0M386.5 60.0h0M376.2 73.3h0M380.8 72.1h0M376.9 83.9h0M386.8 61.8h0M386.3 79.8h0M368.5 83.2h0M382.3 69.9h0M371.6 73.7h0M370.8 68.5h0" stroke="#3cc83c" stroke-width="1.5" stroke-linecap="round"/>
<path d="M372.4 77.8h0M388.3 70.9h0M373.9 73.6h0M376.8 71.2h0M373.9 78.6h0M367.1 81.5h0M383.3 73.1h0M384.2 63.4h0M383.6 62.9h0M389.8 79.7h0M386.4 55.7h0M378.5 52.4h0M385.5 66.1h0M376.9 53.5h0M368.5 56.7h0M388.8 52.9h0M380.7 59.9h0M386.0 73.7h0" stroke="#48c848" stroke-width="1.5" stroke-linecap="round"/>
<path d="M364.7 81.7h0M364.9 78.3h0M367.3 78.6h0M365.3 73.0h0M364.2 73.0h0M365.7 82.4h0M366.5 82.9h0M364.8 74.7h0M368.0 65.5h0M369.9 75.1h0M373.5 88.6h0M370.6 68.8h0M370.6 63.2h0M364.5 81.2h0" stroke="#0c200c" stroke-width="1.5" stroke-linecap="round"/>
<path d="M381.4 63.2h0M386.8 61.8h0M381.5 72.1h0M364.5 61.4h0M381.3 69.5h0M379.4 68.7h0M369.4 72.4h0M386.2 65.3h0M390.2 73.1h0M383.9 68.0h0M375.8 62.1h0M371.4 69.7h0M384.7 60.4h0M384.0 68.8h0M385.6 79.0h0M377.8 62.8h0M382.1 79.9h0" stroke="#163016" stroke-width="1.5" stroke-linecap="round"/>
<path d="M381.2 53.3h0M384.8 80.7h0M395.4 57.3h0M381.5 74.3h0M388.0 68.5h0M387.3 68.4h0M385.7 74.0h0M377.0 60.7h0M385.3 68.2h0M386.0 60.1h0M380.7 61.2h0M375.7 82.8h0M380.1 59.7h0M372.1 77.2h0M370.6 74.8h0" stroke="#50d450" stroke-width="1.5" stroke-linecap="round"/>
<path d="M378.4,50.5 C380.9,50.2 384.8,50.3 386.9,51.0 C389.0,51.7 390.1,53.0 391.1,54.7 C392.1,56.4 392.7,58.5 392.7,61.0 C392.7,63.5 391.5,66.5 391.1,69.5 C390.8,72.5 390.3,75.7 390.6,79.0 C390.9,82.3 392.4,86.8 392.7,89.6 C393.0,92.4 393.1,94.6 392.7,95.9 C392.2,97.2 391.5,97.8 390.0,97.5 C388.5,97.2 386.0,95.3 383.7,94.3 C381.4,93.3 378.9,92.8 376.3,91.7 C373.7,90.6 370.2,89.5 367.9,87.5 C365.6,85.5 364.0,82.3 362.6,80.0 C361.2,77.7 360.1,75.8 359.4,73.7 C358.7,71.6 358.1,69.4 358.3,67.4 C358.5,65.5 359.3,63.8 360.5,62.0 C361.7,60.2 363.8,58.4 365.7,56.8 C367.6,55.2 370.0,53.6 372.1,52.6 C374.2,51.6 375.9,50.8 378.4,50.5Z" fill="none" stroke="#50b048" stroke-width="1.2"/>
<path d="M454.0,36.8 C455.6,36.9 457.0,38.1 458.3,39.9 C459.6,41.6 461.0,44.4 462.0,47.3 C463.0,50.2 464.0,53.8 464.5,57.1 C465.0,60.4 465.3,63.7 465.1,67.0 C464.9,70.3 464.1,74.0 463.2,76.9 C462.3,79.8 461.1,82.0 459.5,84.3 C457.9,86.5 455.6,88.8 453.4,90.4 C451.1,92.0 448.5,93.5 446.0,94.1 C443.5,94.7 440.6,94.7 438.6,94.1 C436.6,93.5 435.2,92.5 434.2,90.4 C433.2,88.4 432.7,85.1 432.4,81.8 C432.1,78.5 432.1,74.0 432.4,70.7 C432.7,67.4 433.4,65.2 434.2,62.1 C435.0,59.0 435.9,55.1 437.3,52.2 C438.7,49.3 440.5,47.0 442.3,44.8 C444.1,42.6 446.4,40.5 448.4,39.2 C450.3,37.9 452.4,36.7 454.0,36.8Z" fill="none" stroke="#e030e0" stroke-width="1.2"/>
</g>
<svg x="0" y="0" width="520" height="568" overflow="hidden">
<g transform="translate(54.5,103.5)">
<path d="M359.5,67.0 L362.0,60.0 L367.0,55.5 L373.0,52.5 L386.0,52.0 L395.0,52.5 L420.0,49.0 L440.0,44.0 L452.0,38.5 L460.0,43.0 L463.5,57.0 L463.5,70.0 L460.0,82.0 L452.0,89.0 L440.0,96.0 L424.0,104.5 L410.0,101.0 L395.0,99.0 L389.0,96.5 L376.0,91.0 L366.0,85.0 L361.0,78.0Z" fill="#faf0fa" opacity="0.9"/>
<ellipse cx="410" cy="78" rx="20" ry="18" fill="#f4c4f4" opacity="0.9" filter="url(#bl)"/>
<path d="M392,52 L452,38" stroke="#e070e0" stroke-width="0.5" opacity="0.8"/>
<path d="M385.9,55.5L449.0,41.8" stroke="#f0c0f0" stroke-width="0.35" opacity="0.5"/>
<path d="M385.8,54.5L444.0,42.4" stroke="#f0c0f0" stroke-width="0.35" opacity="0.5"/>
<path d="M393.5,53.1L452.0,42.3" stroke="#f0c0f0" stroke-width="0.35" opacity="0.5"/>
<path d="M391.6,57.2L452.4,49.9" stroke="#f0c0f0" stroke-width="0.35" opacity="0.5"/>
<path d="M385.6,56.9L444.8,47.4" stroke="#f0c0f0" stroke-width="0.35" opacity="0.5"/>
<path d="M386.6,53.5L441.3,42.9" stroke="#f0c0f0" stroke-width="0.35" opacity="0.5"/>
<path d="M393.2,56.0L450.9,45.6" stroke="#f0c0f0" stroke-width="0.35" opacity="0.5"/>
<path d="M390.3,53.2L453.1,42.9" stroke="#f0c0f0" stroke-width="0.35" opacity="0.5"/>
<path d="M387.5,54.0L441.6,45.1" stroke="#f0c0f0" stroke-width="0.35" opacity="0.5"/>
<path d="M392.2,54.2L442.1,43.1" stroke="#f0c0f0" stroke-width="0.35" opacity="0.5"/>
<path d="M439.0 75.7h0M377.0 77.7h0M408.4 69.8h0M387.6 85.9h0M413.5 81.7h0M408.8 62.9h0M400.7 55.7h0M421.9 85.2h0M400.8 58.0h0M399.3 61.9h0M423.0 94.7h0M413.1 88.1h0M426.0 76.2h0M411.7 77.0h0M399.9 58.1h0M415.3 59.2h0M437.3 74.3h0M446.4 70.0h0M410.8 55.5h0M393.3 64.4h0M445.5 60.2h0M430.8 79.9h0M400.8 61.5h0M398.5 57.6h0M409.4 61.4h0M407.0 77.3h0M410.3 51.8h0M407.9 62.5h0M449.0 53.4h0M398.7 70.8h0M424.6 74.3h0M409.6 74.3h0M401.6 73.0h0M417.1 81.3h0M424.9 102.2h0M414.4 50.8h0M413.7 52.2h0M409.9 61.7h0M411.0 61.5h0M415.6 100.7h0M410.6 77.0h0M404.9 57.2h0M448.3 87.5h0M408.4 76.4h0M401.9 61.5h0M401.6 68.3h0" stroke="#3c0c3c" stroke-width="1.5" stroke-linecap="round"/>
<path d="M408.0 57.2h0M449.9 64.0h0M452.2 88.3h0M408.4 54.3h0M408.4 81.0h0M398.8 97.3h0M445.6 83.5h0M420.2 75.7h0M410.2 76.6h0M452.8 56.7h0M430.1 72.2h0M449.7 76.1h0M407.2 98.2h0M423.0 85.0h0M406.5 63.3h0M434.6 94.1h0M403.8 97.1h0M402.9 79.6h0M414.8 87.3h0M394.3 94.5h0M399.7 72.8h0M392.3 95.0h0M434.0 88.7h0M411.2 69.9h0M424.7 90.0h0M446.1 74.2h0M419.7 77.9h0M409.0 54.7h0M445.7 89.8h0M399.9 63.9h0M391.2 73.8h0M452.4 57.6h0M389.0 83.3h0M428.9 94.3h0M447.0 61.8h0M399.2 69.7h0M396.8 60.8h0M408.2 100.1h0M402.0 58.0h0M448.5 52.0h0" stroke="#501050" stroke-width="1.5" stroke-linecap="round"/>
<path d="M393.4 97.2h0M416.7 99.2h0M410.4 68.4h0M445.1 66.5h0M397.8 65.9h0M413.4 101.5h0M411.5 59.8h0M412.6 64.2h0M461.4 54.6h0M445.4 71.2h0M412.4 67.4h0M452.0 81.4h0M457.1 46.0h0M409.2 65.0h0M401.9 99.4h0M406.6 100.4h0M448.2 82.1h0M449.2 77.9h0M417.4 75.3h0M432.2 71.3h0M404.3 82.3h0M433.9 77.2h0M407.7 66.1h0M396.2 78.3h0M395.3 64.3h0M414.5 63.2h0" stroke="#c828c8" stroke-width="1.5" stroke-linecap="round"/>
<path d="M442.6 91.5h0M411.0 69.7h0M456.6 81.4h0M409.0 99.4h0M438.8 76.9h0M399.9 76.1h0M440.2 57.9h0M408.1 100.5h0M404.5 54.2h0M421.4 102.6h0M421.2 67.7h0M408.2 52.1h0M398.7 78.0h0M404.8 59.3h0M411.7 84.6h0M455.7 56.5h0M416.7 98.8h0M445.1 72.6h0M391.4 71.3h0M401.3 63.6h0M416.7 71.1h0M416.2 101.3h0M385.5 62.8h0M455.5 43.4h0M408.6 58.5h0M416.4 74.2h0M442.9 77.2h0M400.9 63.1h0M418.3 64.8h0M418.5 74.3h0M451.8 39.1h0M444.3 45.2h0M399.4 72.5h0M414.1 65.7h0M390.2 58.7h0M398.5 58.3h0M403.9 81.1h0" stroke="#200820" stroke-width="1.5" stroke-linecap="round"/>
<path d="M421.4 70.4h0M428.3 93.4h0M400.0 66.0h0M418.6 54.1h0M420.8 85.9h0M421.5 91.1h0M390.5 64.5h0M401.9 91.1h0M408.6 55.8h0M397.4 59.7h0M378.4 77.1h0M396.1 83.0h0M419.2 68.8h0M425.1 74.7h0M379.5 57.7h0M414.1 74.4h0M400.7 79.8h0M401.6 78.2h0M401.5 78.5h0M401.5 59.9h0M400.9 94.1h0M375.8 58.5h0M417.8 85.4h0M407.7 76.1h0" stroke="#d030d0" stroke-width="1.5" stroke-linecap="round"/>
<path d="M408.8 80.4h0M412.1 94.0h0M415.5 80.0h0M410.5 87.1h0" stroke="#e060e0" stroke-width="1.5" stroke-linecap="round"/>
<path d="M404.9 85.7h0M404.4 55.9h0M391.0 74.1h0M403.2 75.3h0M414.6 62.7h0M396.0 77.7h0M438.6 73.3h0M404.4 69.8h0M397.7 76.1h0M415.9 70.9h0M411.7 70.5h0M416.2 100.6h0M410.8 58.5h0M403.3 81.6h0M448.3 75.3h0M447.0 68.7h0M401.5 70.6h0M455.4 70.0h0M405.4 82.1h0M447.6 68.4h0M420.6 67.0h0M405.5 78.4h0M392.6 53.9h0M408.2 70.4h0M407.6 78.1h0M421.4 91.0h0M412.2 69.4h0M416.8 71.7h0M400.4 71.8h0M414.8 81.9h0M381.5 81.0h0M398.9 69.6h0M401.2 81.8h0M411.0 66.2h0M403.8 67.9h0M419.4 95.7h0M380.9 85.4h0M412.1 81.3h0M416.6 79.3h0M419.7 76.7h0M411.1 78.4h0M407.2 59.2h0M423.6 64.2h0M449.8 67.6h0M459.3 72.8h0M416.0 98.5h0M439.3 72.8h0M410.0 60.4h0M428.8 81.7h0M449.6 52.6h0M402.2 77.7h0M405.0 80.6h0M405.7 66.9h0M420.2 93.2h0M407.9 96.1h0" stroke="#3c0c3c" stroke-width="1.5" stroke-linecap="round"/>
<path d="M393.5 67.6h0M395.4 69.2h0M390.4 70.8h0M424.6 95.5h0M419.3 61.6h0M412.3 90.8h0M406.2 92.9h0M421.4 57.1h0M396.0 95.5h0M423.2 78.7h0M414.2 68.8h0M400.3 71.9h0M403.7 62.2h0M408.3 62.7h0M395.8 75.4h0M403.9 69.9h0M406.2 72.6h0M405.3 75.4h0M399.9 76.8h0M398.1 57.9h0M411.1 70.7h0" stroke="#d030d0" stroke-width="1.5" stroke-linecap="round"/>
<path d="M456.7 71.7h0M403.6 74.2h0M403.7 74.4h0M393.4 92.5h0M447.6 68.8h0M454.5 61.0h0M444.6 45.2h0M393.5 75.4h0M408.3 67.3h0M410.6 67.3h0M414.4 61.2h0M443.1 88.3h0M399.6 74.4h0M410.3 72.4h0M453.4 79.0h0M447.8 66.1h0M403.4 77.3h0M398.6 82.4h0M416.9 98.6h0M393.6 69.9h0M406.3 66.1h0M449.8 58.4h0M422.5 102.2h0M450.6 59.7h0" stroke="#200820" stroke-width="1.5" stroke-linecap="round"/>
<path d="M444.8 50.9h0M417.3 66.4h0M458.3 69.1h0M397.6 54.7h0M431.4 97.9h0M446.0 91.6h0M389.6 96.5h0M411.9 83.6h0M441.9 67.2h0M403.8 70.0h0M406.8 82.4h0M398.7 98.3h0M431.8 91.5h0M418.0 67.1h0M409.0 82.3h0M444.3 69.9h0M415.9 81.9h0M406.7 73.9h0M425.8 81.0h0M397.4 97.8h0M419.8 87.9h0M406.0 71.1h0M453.6 42.3h0M401.0 98.8h0M407.1 73.5h0M406.9 84.7h0M443.9 60.1h0M452.0 77.6h0M436.5 73.8h0M401.9 65.4h0M430.5 79.1h0M435.8 85.5h0M455.9 70.5h0M442.5 57.2h0M398.0 76.5h0M454.8 68.0h0M448.9 72.6h0M396.9 52.7h0M399.2 59.3h0M415.9 86.7h0M395.7 72.2h0M453.4 65.8h0M441.2 80.7h0" stroke="#501050" stroke-width="1.5" stroke-linecap="round"/>
<path d="M409.3 98.5h0M435.6 74.3h0M406.2 86.4h0M436.0 83.2h0M411.5 76.9h0M395.6 83.0h0M427.2 81.2h0M432.0 90.4h0M404.4 86.6h0M417.2 94.5h0M402.9 83.5h0" stroke="#e060e0" stroke-width="1.5" stroke-linecap="round"/>
<path d="M401.8 98.7h0M399.1 79.5h0M397.9 76.1h0M417.3 71.6h0M445.0 67.4h0M414.9 75.3h0M407.0 75.8h0M399.4 71.1h0M405.5 57.5h0M422.9 102.7h0M451.4 71.1h0M404.9 74.3h0M439.9 68.0h0M409.9 60.5h0M441.7 54.1h0M444.6 55.7h0M403.7 66.3h0M392.6 63.3h0M401.3 70.0h0M422.5 60.6h0M411.1 100.1h0M447.2 66.5h0" stroke="#c828c8" stroke-width="1.5" stroke-linecap="round"/>
<path d="M399.2 68.9h0M442.1 89.6h0M420.4 68.2h0M414.0 65.4h0M419.5 102.7h0M409.6 78.4h0M420.5 75.8h0M404.8 87.5h0M432.3 80.6h0M409.6 67.3h0M444.7 63.7h0M424.3 71.7h0M401.9 64.8h0M404.6 74.0h0M394.4 98.5h0M403.1 56.5h0M424.7 102.5h0M443.0 57.8h0M415.1 54.2h0" stroke="#c828c8" stroke-width="1.5" stroke-linecap="round"/>
<path d="M397.8 71.6h0M398.5 56.0h0M432.9 78.4h0M408.0 69.4h0M400.0 96.5h0M399.5 71.8h0M416.0 61.3h0M407.4 72.2h0M446.2 63.2h0M459.0 79.0h0M402.2 73.1h0M463.0 58.7h0M406.9 61.0h0M417.5 84.4h0M409.2 65.1h0M418.9 82.0h0M411.0 73.6h0M406.8 65.5h0M408.2 59.1h0M408.4 58.4h0M407.6 61.8h0M394.8 63.8h0M450.3 45.4h0M405.7 66.7h0M401.9 71.9h0M396.4 56.4h0M417.9 66.9h0M413.5 86.6h0M408.0 65.8h0M396.5 97.8h0M403.8 76.2h0M449.4 47.8h0M392.4 77.3h0M410.1 77.8h0M407.1 100.4h0M419.1 90.9h0M406.4 92.3h0M370.9 62.9h0M390.7 60.9h0M404.5 97.9h0M394.2 73.5h0M405.9 66.1h0M395.1 70.4h0M412.6 72.1h0M437.1 85.3h0M416.2 62.1h0M387.3 77.7h0M423.3 86.3h0M422.2 63.6h0M396.1 82.8h0M407.9 67.4h0M407.9 59.3h0M418.8 59.5h0M399.4 61.3h0M416.8 82.0h0M409.2 67.9h0M395.9 61.5h0M403.9 51.5h0M444.4 85.6h0M398.3 76.2h0M413.4 77.2h0M378.7 58.4h0M418.1 96.3h0M402.7 95.6h0M436.6 61.7h0" stroke="#3c0c3c" stroke-width="1.5" stroke-linecap="round"/>
<path d="M391.1 72.8h0M405.6 75.5h0M396.5 71.8h0M446.9 69.6h0M420.4 100.9h0M449.2 65.7h0M450.3 63.1h0M403.7 67.7h0M410.9 98.5h0M447.8 56.2h0M433.6 82.2h0M417.0 62.8h0M416.1 64.5h0M386.5 64.8h0M424.8 102.6h0M414.8 65.1h0M401.0 58.1h0M452.8 55.3h0M457.1 73.0h0M450.4 86.2h0M450.8 60.0h0M416.8 72.0h0M397.9 58.2h0M399.8 77.0h0M402.1 98.7h0M451.4 74.0h0M410.3 70.6h0M418.9 80.5h0" stroke="#200820" stroke-width="1.5" stroke-linecap="round"/>
<path d="M422.8 80.4h0M415.6 100.9h0M434.3 74.7h0M447.4 75.4h0M414.1 56.1h0M400.2 65.5h0M399.3 71.6h0M426.3 81.0h0M405.5 80.7h0M425.0 84.1h0M406.6 83.5h0M408.1 64.6h0M406.5 65.0h0M448.0 70.3h0M453.4 70.8h0M410.0 62.0h0M419.7 84.7h0M446.4 43.9h0M443.2 80.1h0M427.4 79.4h0M404.3 82.2h0M419.5 78.4h0M410.4 85.4h0M412.8 100.8h0M424.0 102.5h0M410.1 82.6h0M452.9 43.4h0M401.4 60.7h0M441.6 89.0h0M448.5 80.0h0M413.7 86.5h0M436.2 73.7h0M395.6 76.1h0M400.8 71.7h0M396.6 62.3h0M436.8 83.8h0M442.8 80.1h0M392.9 97.2h0M444.7 61.3h0M411.0 78.0h0M401.5 57.0h0M393.9 62.3h0" stroke="#501050" stroke-width="1.5" stroke-linecap="round"/>
<path d="M432.1 84.1h0M412.2 79.8h0M402.4 92.1h0M418.1 85.3h0M423.7 73.5h0" stroke="#e060e0" stroke-width="1.5" stroke-linecap="round"/>
<path d="M380.4 67.2h0M405.2 73.6h0M408.3 93.2h0M367.6 75.7h0M410.4 71.9h0M410.9 65.1h0M397.5 70.6h0M417.3 76.4h0M396.6 76.7h0M416.7 53.0h0M415.2 85.6h0M394.6 77.7h0M407.9 67.4h0M408.8 56.1h0M398.7 76.9h0M377.7 86.0h0M422.9 101.2h0" stroke="#d030d0" stroke-width="1.5" stroke-linecap="round"/>
<path d="M441.8 72.5h0M433.3 58.9h0M435.3 87.5h0M413.5 59.0h0M399.9 57.9h0M450.9 63.7h0M444.5 44.6h0M408.3 51.2h0M423.3 69.9h0M420.5 55.6h0M421.7 103.9h0M446.2 68.4h0M405.4 59.5h0M413.0 67.1h0M416.0 86.9h0M403.1 63.4h0M440.0 80.2h0M455.4 70.4h0M441.9 60.6h0M446.2 69.5h0M403.8 52.3h0M403.7 78.5h0M421.2 101.5h0M442.2 66.4h0M438.4 64.4h0M452.0 49.5h0M421.1 75.8h0M401.9 52.3h0M421.0 71.1h0M456.5 64.7h0M398.5 59.3h0" stroke="#200820" stroke-width="1.5" stroke-linecap="round"/>
<path d="M401.9 99.2h0M412.9 72.8h0M376.0 55.7h0M397.4 68.7h0M409.7 86.7h0M415.8 79.6h0M406.9 78.6h0M398.5 71.7h0M393.2 95.9h0M415.3 88.2h0M405.8 99.6h0M410.6 73.8h0M415.5 63.0h0M415.8 89.4h0M385.1 67.7h0M397.2 70.0h0M462.0 52.8h0M397.3 68.6h0M407.8 59.3h0M423.3 103.0h0M459.1 59.5h0M422.4 80.1h0M403.1 83.7h0M449.3 58.8h0M413.3 94.1h0M424.4 63.3h0M405.7 86.2h0M401.6 61.9h0M406.2 67.5h0M413.2 86.4h0M382.8 93.0h0M435.4 85.7h0M406.0 73.0h0M406.9 59.4h0M406.2 74.4h0M424.3 60.2h0M415.1 84.8h0M403.2 73.6h0M433.2 91.1h0M429.5 96.3h0M428.1 76.7h0M423.0 69.1h0M447.4 89.6h0M412.1 101.2h0M412.8 75.9h0M444.9 51.7h0M407.5 87.8h0M425.6 92.2h0M404.0 77.1h0M404.4 65.6h0" stroke="#3c0c3c" stroke-width="1.5" stroke-linecap="round"/>
<path d="M389.4 73.5h0M414.2 90.6h0M453.6 69.7h0M404.6 67.7h0M413.8 89.1h0M446.2 62.8h0M435.4 84.5h0M405.1 80.8h0M456.3 65.7h0M407.7 70.3h0M418.3 57.3h0M404.2 88.2h0M407.5 68.2h0M397.8 66.2h0M441.8 70.7h0M413.3 101.3h0M409.2 74.5h0M411.5 61.3h0M441.8 90.6h0M408.4 63.0h0M453.8 50.3h0M446.8 75.9h0M425.8 87.4h0M397.5 80.1h0M447.1 87.4h0M456.4 58.3h0M444.4 64.5h0M395.6 80.3h0M417.2 78.1h0M406.1 52.9h0M410.8 70.1h0M418.7 53.4h0M401.5 76.8h0M408.8 98.1h0M405.6 60.4h0" stroke="#501050" stroke-width="1.5" stroke-linecap="round"/>
<path d="M446.7 56.0h0M454.0 47.7h0M411.6 60.4h0M397.1 78.8h0M446.7 60.3h0M451.0 76.2h0M412.5 72.0h0M448.7 60.9h0M396.7 69.3h0M450.4 63.8h0M397.0 74.2h0M452.6 81.3h0M416.2 63.4h0M457.9 70.1h0M408.1 51.1h0M409.2 66.9h0M406.9 63.0h0M406.6 68.5h0M448.1 63.5h0M443.6 68.6h0M408.5 71.5h0M411.9 62.7h0M409.0 79.4h0M395.4 76.9h0M393.6 66.5h0M392.5 96.9h0M393.8 74.7h0M413.4 101.1h0M446.9 62.9h0M442.2 52.0h0M408.9 59.8h0M399.5 68.7h0" stroke="#c828c8" stroke-width="1.5" stroke-linecap="round"/>
<path d="M407.2 52.7h0M412.0 65.5h0M400.1 56.8h0M374.8 71.4h0M419.9 67.9h0M412.3 70.9h0M401.2 76.5h0M402.0 64.8h0M398.6 65.1h0M405.6 64.4h0M423.9 92.9h0M429.6 94.1h0M375.4 77.8h0M392.2 70.9h0M411.5 79.6h0M406.7 81.9h0M423.8 69.4h0M399.3 69.4h0M408.2 75.2h0M411.6 83.2h0M399.9 63.3h0M417.3 66.6h0M422.1 92.6h0M403.5 66.4h0" stroke="#d030d0" stroke-width="1.5" stroke-linecap="round"/>
<path d="M411.8 85.6h0M418.0 75.5h0M419.1 79.0h0M409.8 96.5h0" stroke="#e060e0" stroke-width="1.5" stroke-linecap="round"/>
<path d="M416.3 68.3h0M409.9 73.3h0M394.3 72.9h0M448.9 46.0h0M407.8 75.4h0M413.2 82.1h0M398.6 85.7h0M395.9 62.3h0M412.2 86.1h0M397.6 62.2h0M399.9 79.1h0M416.9 69.4h0M402.8 73.5h0M443.1 89.2h0M368.2 64.0h0M415.2 76.8h0M407.6 58.3h0M402.6 58.8h0M421.3 85.2h0M398.6 71.7h0M377.1 65.8h0M398.9 65.6h0M427.8 80.5h0M419.3 54.3h0M409.4 78.4h0M412.0 87.7h0M441.2 89.1h0M415.6 75.7h0M399.2 98.2h0M408.9 67.7h0M395.4 83.6h0M403.7 61.5h0M442.8 61.6h0M424.7 79.0h0M432.1 78.1h0M382.6 89.0h0M412.6 64.8h0M408.7 53.3h0M394.7 78.3h0M441.0 71.9h0M444.1 76.0h0" stroke="#3c0c3c" stroke-width="1.5" stroke-linecap="round"/>
<path d="M395.4 97.4h0M457.4 61.0h0M410.8 63.3h0M401.1 60.0h0M446.3 58.9h0M446.1 59.2h0M442.3 70.1h0M393.3 65.6h0M443.4 56.6h0M422.1 101.6h0M446.2 60.2h0M412.3 60.3h0M457.6 53.2h0M411.5 75.2h0M450.1 70.5h0M449.9 50.3h0M436.7 69.7h0M431.3 83.8h0M395.1 58.1h0M422.5 78.8h0M453.3 65.2h0M451.3 62.1h0M448.2 74.5h0M417.5 70.5h0M402.8 77.9h0M408.8 80.0h0M393.5 73.0h0M408.0 78.5h0M404.5 54.6h0M444.9 68.6h0M401.5 66.6h0M391.0 70.9h0M396.2 65.3h0M398.0 77.2h0" stroke="#200820" stroke-width="1.5" stroke-linecap="round"/>
<path d="M432.2 89.4h0M408.4 97.4h0M414.3 81.0h0M418.7 87.7h0M421.8 78.0h0M412.8 91.8h0M427.9 81.3h0M413.0 71.2h0M441.9 79.9h0M412.0 83.0h0" stroke="#e060e0" stroke-width="1.5" stroke-linecap="round"/>
<path d="M458.6 45.7h0M398.5 66.1h0M426.1 102.5h0M392.9 67.4h0M406.9 69.7h0M455.1 56.6h0M448.4 46.5h0M432.4 87.4h0M398.8 71.5h0M418.3 67.2h0M406.1 96.3h0M451.5 50.6h0M444.1 63.9h0M407.2 54.7h0M456.3 71.9h0M414.5 70.7h0M403.7 98.9h0M404.0 65.5h0M392.3 95.6h0M392.3 66.9h0M445.5 53.4h0M406.5 79.1h0M392.3 67.2h0M403.7 76.6h0M446.4 81.7h0M408.5 85.8h0M449.3 71.7h0M402.5 58.6h0M439.4 54.7h0" stroke="#c828c8" stroke-width="1.5" stroke-linecap="round"/>
<path d="M406.4 68.3h0M416.3 66.6h0M384.6 69.9h0M395.9 63.4h0M409.2 73.7h0M406.9 91.0h0M403.7 79.3h0M407.5 85.1h0M416.6 64.0h0M416.8 91.1h0M420.8 82.4h0M401.1 80.5h0M405.7 76.8h0M420.9 81.0h0M404.9 62.8h0M408.9 63.3h0M409.3 97.4h0M411.8 89.4h0M410.8 85.1h0M398.4 78.7h0M426.6 91.2h0M409.2 62.2h0M405.5 73.4h0" stroke="#d030d0" stroke-width="1.5" stroke-linecap="round"/>
<path d="M444.2 78.7h0M401.3 74.9h0M421.5 61.5h0M444.7 52.9h0M415.4 83.9h0M399.2 98.8h0M406.9 70.5h0M404.7 62.4h0M440.4 76.5h0M405.4 59.1h0M404.5 83.1h0M390.3 70.1h0M425.0 73.7h0M410.0 65.1h0M421.2 70.4h0M414.3 70.1h0M446.4 65.7h0M413.6 83.9h0M399.7 66.5h0M445.9 89.8h0M399.7 66.5h0M412.5 64.1h0M411.9 82.2h0M415.2 63.9h0M451.7 60.4h0M408.8 95.8h0M442.9 53.3h0M417.9 51.8h0M408.4 100.1h0M434.4 77.7h0M427.2 76.8h0M387.5 66.5h0M407.7 80.0h0M397.7 63.4h0M433.4 69.8h0M447.3 76.5h0M450.4 72.2h0M426.5 87.1h0M452.9 68.8h0" stroke="#501050" stroke-width="1.5" stroke-linecap="round"/>
<path d="M421.6 63.7h0M401.0 78.1h0M399.8 69.0h0M396.7 61.1h0M418.8 84.4h0M456.2 59.5h0M421.4 78.4h0M400.4 84.6h0M440.4 67.5h0M408.3 54.7h0M411.3 70.8h0M424.3 89.7h0M422.5 93.9h0M396.3 68.8h0M417.6 67.7h0M393.2 78.7h0M400.1 71.1h0M373.4 77.6h0M399.2 55.5h0M398.5 60.0h0M414.9 62.5h0M450.8 65.9h0M388.5 71.7h0M403.8 60.7h0M407.5 83.8h0M442.8 75.6h0M412.9 88.3h0M410.6 66.7h0M405.1 82.4h0M409.0 59.1h0M393.8 85.6h0M410.5 85.2h0M401.5 64.0h0M411.8 63.6h0M401.0 65.4h0M396.4 76.9h0M442.2 86.4h0M419.2 60.7h0M373.4 82.5h0M409.0 77.8h0M399.5 69.4h0M461.7 69.5h0M405.1 57.3h0M402.1 64.8h0M399.4 68.3h0M399.3 68.0h0M375.8 81.5h0M405.6 84.2h0M455.4 74.7h0M449.5 60.7h0M446.6 41.8h0M402.7 63.4h0M417.6 71.4h0M398.6 98.5h0M406.7 80.9h0M424.4 65.4h0M399.8 71.0h0M410.9 69.3h0M417.4 84.5h0M410.9 94.0h0M411.7 73.4h0" stroke="#3c0c3c" stroke-width="1.5" stroke-linecap="round"/>
<path d="M396.5 79.7h0M415.9 81.9h0M414.0 79.8h0M436.2 95.6h0M390.8 54.5h0M419.3 88.4h0M396.4 65.0h0M405.8 55.2h0M386.4 85.8h0M394.7 65.7h0M418.0 82.0h0M416.0 89.3h0M404.8 92.6h0M373.7 81.9h0M397.7 68.8h0M407.8 77.1h0M414.7 62.5h0M406.2 86.1h0" stroke="#d030d0" stroke-width="1.5" stroke-linecap="round"/>
<path d="M440.2 81.2h0M408.7 66.7h0M393.3 96.3h0M437.7 85.4h0M409.9 61.9h0M456.9 72.9h0M424.1 84.9h0M432.3 92.3h0M423.1 100.8h0M448.1 58.8h0M398.7 84.8h0M404.9 69.2h0M421.8 88.8h0M404.6 92.6h0M424.4 74.8h0M403.9 74.2h0M409.2 65.5h0M397.8 63.1h0M426.8 71.1h0M401.1 75.4h0M450.5 43.7h0M404.4 76.7h0M416.3 100.6h0M414.1 63.3h0M435.1 69.2h0M402.7 74.2h0M407.2 96.4h0M423.5 89.7h0M417.1 76.4h0M443.6 49.6h0M460.2 53.3h0M449.3 78.7h0M398.7 75.5h0M401.7 70.7h0M452.8 64.6h0M457.0 69.5h0M403.2 63.1h0M405.6 69.9h0" stroke="#501050" stroke-width="1.5" stroke-linecap="round"/>
<path d="M416.3 54.5h0M405.2 62.7h0M404.5 97.8h0M451.7 56.1h0M447.4 58.7h0M417.2 59.8h0M441.2 70.6h0M398.3 73.3h0M450.1 54.7h0M414.8 64.0h0M403.6 61.5h0M406.9 62.2h0M400.4 62.9h0M446.1 77.7h0M404.4 76.4h0M453.2 57.2h0M417.1 66.6h0M405.0 98.4h0M419.4 66.1h0M402.1 77.6h0M442.3 55.5h0M456.1 43.0h0M394.4 69.3h0M410.9 72.3h0M406.7 64.8h0M405.9 76.2h0" stroke="#c828c8" stroke-width="1.5" stroke-linecap="round"/>
<path d="M448.2 60.7h0M407.2 84.2h0M414.3 68.3h0M442.6 45.4h0M444.0 63.7h0M446.9 78.1h0M411.4 65.3h0M443.7 48.8h0M454.7 42.6h0M399.5 98.1h0M460.6 46.8h0M400.3 69.2h0M460.1 64.5h0M417.4 66.2h0M398.0 72.1h0M446.8 80.3h0M394.6 61.8h0M450.4 49.2h0M401.8 67.6h0M416.7 74.5h0M398.3 95.8h0M441.1 59.1h0M450.6 53.3h0M406.5 76.3h0M449.5 48.8h0M447.1 64.4h0M416.4 56.2h0M418.5 100.5h0M396.8 75.1h0M453.6 57.3h0M393.1 96.7h0" stroke="#200820" stroke-width="1.5" stroke-linecap="round"/>
<path d="M436.4 80.4h0M436.5 91.7h0" stroke="#e060e0" stroke-width="1.5" stroke-linecap="round"/>
<path d="M378.4,50.5 C380.9,50.2 384.8,50.3 386.9,51.0 C389.0,51.7 390.1,53.0 391.1,54.7 C392.1,56.4 392.7,58.5 392.7,61.0 C392.7,63.5 391.5,66.5 391.1,69.5 C390.8,72.5 390.3,75.7 390.6,79.0 C390.9,82.3 392.4,86.8 392.7,89.6 C393.0,92.4 393.1,94.6 392.7,95.9 C392.2,97.2 391.5,97.8 390.0,97.5 C388.5,97.2 386.0,95.3 383.7,94.3 C381.4,93.3 378.9,92.8 376.3,91.7 C373.7,90.6 370.2,89.5 367.9,87.5 C365.6,85.5 364.0,82.3 362.6,80.0 C361.2,77.7 360.1,75.8 359.4,73.7 C358.7,71.6 358.1,69.4 358.3,67.4 C358.5,65.5 359.3,63.8 360.5,62.0 C361.7,60.2 363.8,58.4 365.7,56.8 C367.6,55.2 370.0,53.6 372.1,52.6 C374.2,51.6 375.9,50.8 378.4,50.5Z" fill="none" stroke="#50b048" stroke-width="1.2"/>
<path d="M454.0,36.8 C455.6,36.9 457.0,38.1 458.3,39.9 C459.6,41.6 461.0,44.4 462.0,47.3 C463.0,50.2 464.0,53.8 464.5,57.1 C465.0,60.4 465.3,63.7 465.1,67.0 C464.9,70.3 464.1,74.0 463.2,76.9 C462.3,79.8 461.1,82.0 459.5,84.3 C457.9,86.5 455.6,88.8 453.4,90.4 C451.1,92.0 448.5,93.5 446.0,94.1 C443.5,94.7 440.6,94.7 438.6,94.1 C436.6,93.5 435.2,92.5 434.2,90.4 C433.2,88.4 432.7,85.1 432.4,81.8 C432.1,78.5 432.1,74.0 432.4,70.7 C432.7,67.4 433.4,65.2 434.2,62.1 C435.0,59.0 435.9,55.1 437.3,52.2 C438.7,49.3 440.5,47.0 442.3,44.8 C444.1,42.6 446.4,40.5 448.4,39.2 C450.3,37.9 452.4,36.7 454.0,36.8Z" fill="none" stroke="#e030e0" stroke-width="1.2"/>
</g>
</svg>
<circle cx="469.8" cy="29" r="1.4" fill="#40b83c"/>
<text x="474.4" y="31.6" font-size="7.3" text-anchor="start" fill="#231f20" stroke="#231f20" stroke-width="0.18" font-weight="normal" >CR/CRi</text>
<circle cx="469.8" cy="37.5" r="1.4" fill="#d030d0"/>
<text x="474.4" y="39.9" font-size="7.1" text-anchor="start" fill="#231f20" stroke="#231f20" stroke-width="0.18" font-weight="normal" >Non-CR/CRi</text>
<text x="346.8" y="131.0" font-size="7.7" text-anchor="start" fill="#231f20" stroke="#231f20" stroke-width="0.18" font-weight="normal" >CR/CRi</text>
<text x="453.2" y="131.0" font-size="7.25" text-anchor="start" fill="#231f20" stroke="#231f20" stroke-width="0.18" font-weight="normal" >Non-CR/CRi</text>
<path d="M390.2,121.6 L378.6,134.2" stroke="#111" stroke-width="1.25"/><path d="M375.2,137.8 l1.4,-5.6 l4,3.7 z" fill="#111"/>
<path d="M435,121.6 L446.8,134.2" stroke="#111" stroke-width="1.25"/><path d="M450.2,137.8 l-5.4,-1.9 l4,-3.7 z" fill="#111"/>
</svg></body></html>
